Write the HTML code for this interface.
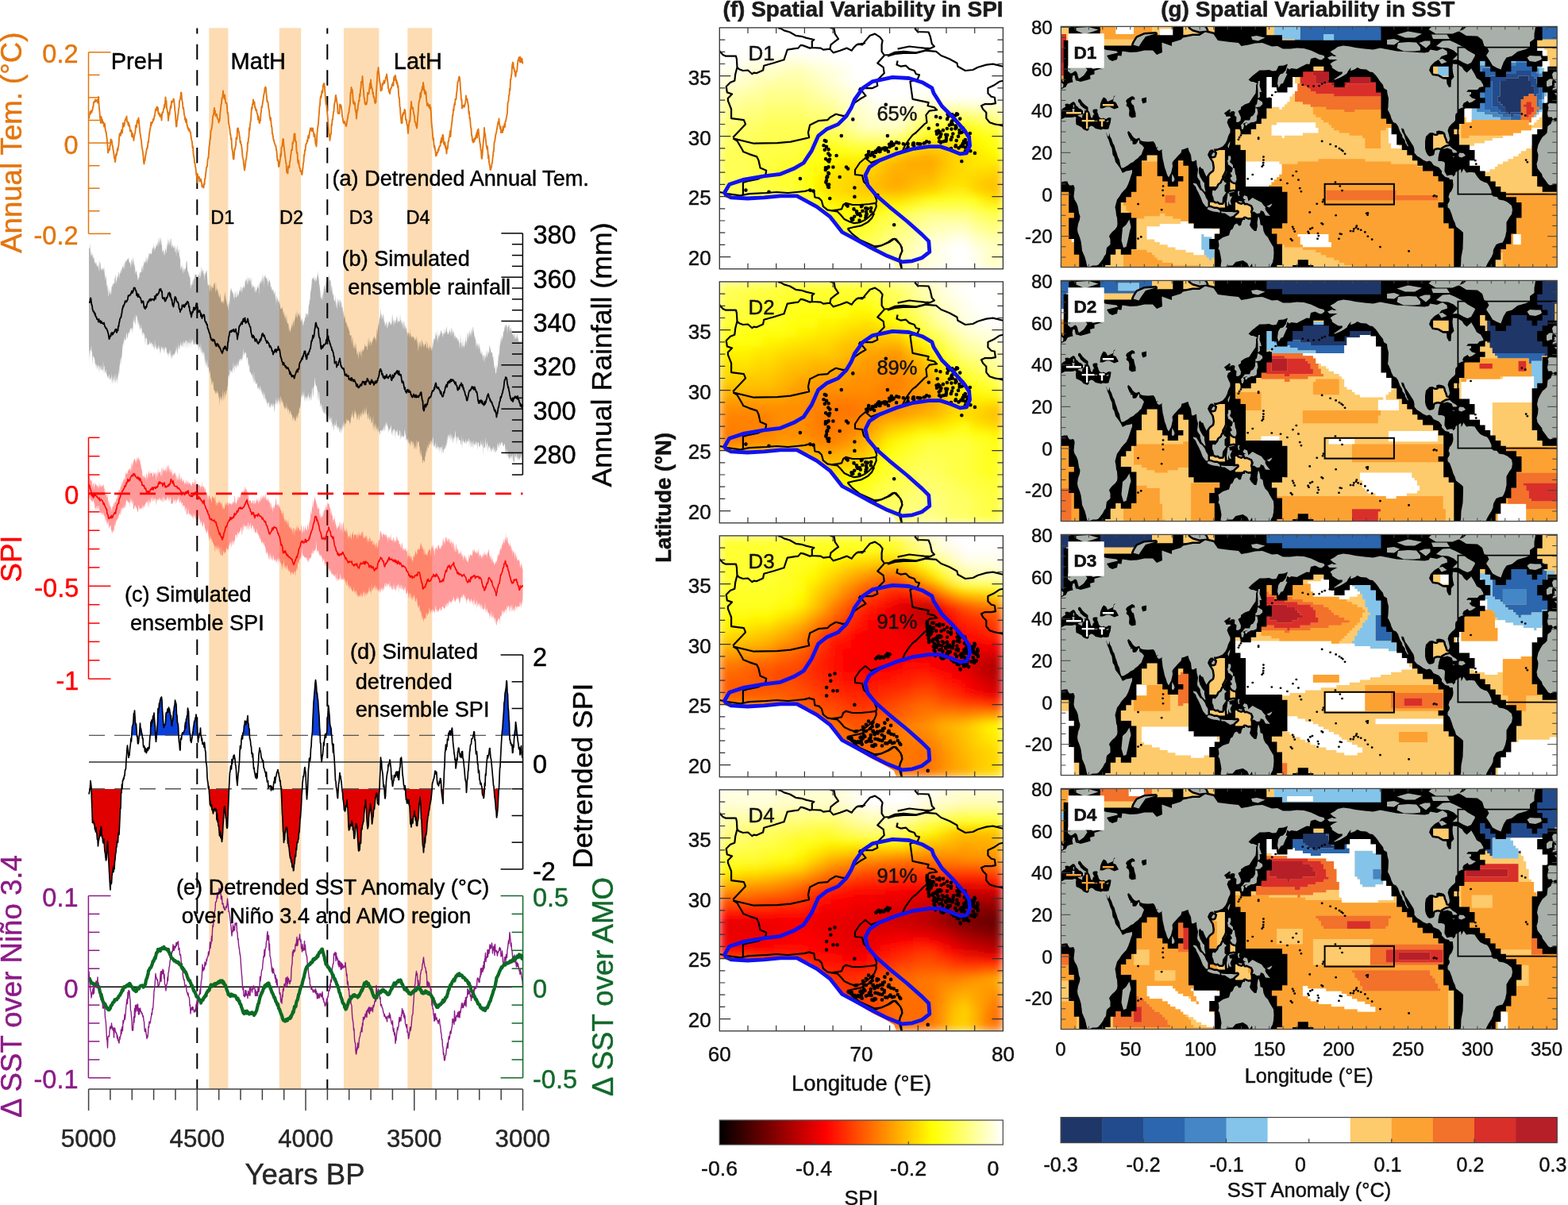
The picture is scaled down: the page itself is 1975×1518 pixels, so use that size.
<!DOCTYPE html>
<html><head><meta charset="utf-8"><title>Figure</title>
<style>html,body{margin:0;padding:0;background:#fff;overflow:hidden}svg{display:block}text{font-family:"Liberation Sans",Arial,sans-serif}</style>
</head><body>
<svg width="1975" height="1518" viewBox="0 0 1975 1518">
<rect width="1975" height="1518" fill="#fff"/>
<rect x="263.3" y="35.3" width="24.1" height="1336.7" fill="#fddcb3"/>
<rect x="351.8" y="35.3" width="27.4" height="1336.7" fill="#fddcb3"/>
<rect x="433" y="35.3" width="44.4" height="1336.7" fill="#fddcb3"/>
<rect x="513.3" y="35.3" width="31" height="1336.7" fill="#fddcb3"/>
<line x1="248.3" y1="35.6" x2="248.3" y2="1372" stroke="#000" stroke-width="2" stroke-dasharray="19.4 13.2" stroke-dashoffset="12.5"/>
<line x1="412.3" y1="35.6" x2="412.3" y2="1372" stroke="#000" stroke-width="2" stroke-dasharray="19.4 13.2" stroke-dashoffset="12.5"/>
<path d="M112 149.5l0.5-4 0.5-1.5 0.5-3 0.5 2.5 0.5-3.5 0.5-0.5 0.5 2 0.5-2 0.5-1 0.5-4 0.5 0 0.5-6 0.5 1 0.5-1.5 0.5-0.5 0.5-2 0.5 2.5 0.5-1.5 0.5-0.5 0.5 0 0.5 0.5 0.5 3 0.5-1.5 0.5-6 0.5 8 0.5 6.5 0.5 4.5 0.5 7 0.5 4 0.5 3 0.5-8 0.5 2.5 0.5 5 0.5-3.5 0.5 4 0.5-1 0.5 0 0.5 5.5 0.5 0 0.5-3.5 0.5 6 0.5 3 0.5 1 0.5 3 0.5 4 0.5 5 0.5 5.5 0.5 9 0.5-1.5 0.5-1.5 0.5-1.5 0.5 1 0.5-5.5 0.5-0.5 0.5-7.5 0.5 0.5 0.5 0.5 0.5 2 0.5 4.5 0.5 1.5 0.5 4 0.5 2.5 0.5 3.5 0.5 5 0.5 0.5 0.5 4 0.5-2.5 0.5-7 0.5 1.5 0.5-1.5 0.5-3.5 0.5-4 0.5 2.5 0.5-5 0.5-1.5 0.5-8 0.5-6 0.5 2.5 0.5-4 0.5 3 0.5-3 0.5-3.5 0.5 2 0.5 1.5 0.5-7 0.5-5.5 0.5 2.5 0.5 2 0.5-1.5 0.5-2 0.5-4.5 0.5-0.5 0.5-2 0.5 2 0.5-4.5 0.5 7 0.5 0 0.5 0.5 0.5 3.5 0.5-3 0.5 4.5 0.5-1.5 0.5 3.5 0.5 4.5 0.5-1.5 0.5 0.5 0.5 0 0.5 7.5 0.5-4.5 0.5 1 0.5 4.5 0.5-0.5 0.5 4.5 0.5-5 0.5-2 0.5-2 0.5-3 0.5-7 0.5 2.5 0.5-0.5 0.5-6 0.5-2.5 0.5 2 0.5 1 0.5-6 0.5 4 0.5 7 0.5 3 0.5 6 0.5 1.5 0.5 5 0.5 1.5 0.5 6.5 0.5 4 0.5 1.5 0.5 4.5 0.5 4 0.5 7 0.5 2.5 0.5-4 0.5 0 0.5-4.5 0.5-3 0.5-1.5 0.5-4 0.5-3 0.5 0.5 0.5-3 0.5-5.5 0.5 1 0.5-5.5 0.5-4.5 0.5-3.5 0.5-3.5 0.5-1.5 0.5-6.5 0.5 4 0.5-4.5 0.5 1 0.5-0.5 0.5-2 0.5-2.5 0.5 1.5 0.5-2.5 0.5-3 0.5 0 0.5-5.5 0.5-3 0.5 1.5 0.5-2.5 0.5-1.5 0.5-0.5 0.5 5 0.5-3.5 0.5 7.5 0.5-0.5 0.5-0.5 0.5 3 0.5 1 0.5-2 0.5 3 0.5-3 0.5 7 0.5-6.5 0.5-3.5 0.5 0.5 0.5-1 0.5-4 0.5 0 0.5-5 0.5 3.5 0.5-6.5 0.5-6.5 0.5 6 0.5-1.5 0.5 9 0.5 2 0.5 3.5 0.5 2 0.5 8.5 0.5-4 0.5-6.5 0.5 3 0.5-5.5 0.5-2 0.5-4 0.5 3 0.5-8.5 0.5 1.5 0.5 0 0.5-1.5 0.5-0.5 0.5-2.5 0.5 1 0.5 4.5 0.5 5 0.5 5.5 0.5 4 0.5 8.5 0.5 6.5 0.5-0.5 0.5-7 0.5-1 0.5-5.5 0.5-2 0.5-6.5 0.5-1 0.5-9 0.5-0.5 0.5-2 0.5-2.5 0.5-5.5 0.5 0.5 0.5 7.5 0.5 3 0.5 2 0.5 7 0.5-1 0.5 3.5 0.5 5.5 0.5 1.5 0.5 5 0.5-2.5 0.5 5.5 0.5-4 0.5 1.5 0.5 6.5 0.5 0 0.5 3.5 0.5-0.5 0.5 3 0.5 0.5 0.5-2 0.5 3.5 0.5 0 0.5 0.5 0.5 5 0.5 3 0.5 2.5 0.5 2 0.5 7 0.5-1.5 0.5 8.5 0.5 4.5 0.5 0.5 0.5 7 0.5 0 0.5 4.5 0.5 2 0.5 6 0.5 4 0.5-3 0.5 11.5 0.5-10 0.5 3.5 0.5 0.5 0.5 0.5 0.5-1.5 0.5 5.5 0.5 0 0.5-2 0.5-1 0.5 3 0.5 1.5 0.5 5.5 0.5-0.5 0.5-1.5 0.5 0 0.5 3 0.5-5.5 0.5 1.5 0.5-7.5 0.5 0 0.5-5 0.5-3.5 0.5-6 0.5 0 0.5-1 0.5-7.5 0.5-3 0.5 0 0.5-7.5 0.5-7.5 0.5-2 0.5-6.5 0.5-0.5 0.5-9.5 0.5-2 0.5-1 0.5-4.5 0.5-2 0.5-9 0.5-1.5 0.5-1 0.5-5.5 0.5-3 0.5 6.5 0.5-3 0.5 6.5 0.5-1.5 0.5-0.5 0.5 0 0.5 4 0.5 1 0.5 1 0.5 0.5 0.5 4 0.5-3 0.5 1 0.5-5 0.5-7 0.5-3 0.5-6 0.5-1 0.5-7 0.5 0 0.5-2 0.5-7 0.5 7 0.5-1.5 0.5 4.5 0.5-5 0.5 3.5 0.5 4.5 0.5 2.5 0.5-0.5 0.5 0.5 0.5 4.5 0.5 8 0.5-0.5 0.5 3.5 0.5 10 0.5 1 0.5 4.5 0.5 2 0.5 6.5 0.5 0 0.5 6.5 0.5-1.5 0.5 10.5 0.5 4 0.5 1.5 0.5 6.5 0.5 3.5 0.5 0 0.5-6.5 0.5-6.5 0.5 0.5 0.5-3 0.5-1.5 0.5-10 0.5 1 0.5 0.5 0.5-12.5 0.5-1 0.5 0 0.5 4.5 0.5 0 0.5 4.5 0.5 2.5 0.5 6.5 0.5-1.5 0.5 4 0.5 0 0.5 4.5 0.5 3.5 0.5 7.5 0.5 2 0.5 1.5 0.5 6 0.5 4 0.5 3.5 0.5-3 0.5-3 0.5-6.5 0.5-0.5 0.5-4 0.5-5.5 0.5-2 0.5-10.5 0.5 0.5 0.5-6 0.5-1.5 0.5-11.5 0.5 3 0.5-7.5 0.5-3 0.5-2 0.5-9.5 0.5-6.5 0.5 1.5 0.5-5.5 0.5-1.5 0.5-4.5 0.5 5.5 0.5-2 0.5-0.5 0.5 7 0.5-1 0.5 4 0.5 0.5 0.5-1 0.5 3.5 0.5 2 0.5 1 0.5 6 0.5-4 0.5 4 0.5 4 0.5 0.5 0.5-3.5 0.5 0.5 0.5-8.5 0.5-3 0.5-6 0.5 1 0.5-4 0.5-3 0.5-3 0.5-4 0.5-3 0.5-2 0.5-5 0.5-1 0.5-1 0.5 2.5 0.5 6.5 0.5 4 0.5 5.5 0.5-0.5 0.5 1.5 0.5 4 0.5 4.5 0.5 1.5 0.5 6 0.5 3.5 0.5 3 0.5-3 0.5 6 0.5 5 0.5 1 0.5 8.5 0.5 0 0.5 3.5 0.5 4 0.5 0 0.5 3 0.5 1.5 0.5 1 0.5 2 0.5 0 0.5 5 0.5 1 0.5 7.5 0.5 4.5 0.5-1 0.5 2.5 0.5 6.5 0.5-0.5 0.5-3 0.5-3.5 0.5-4 0.5-5.5 0.5 3.5 0.5-11 0.5-1 0.5-1.5 0.5-5 0.5-3.5 0.5 0.5 0.5 8.5 0.5 3.5 0.5 4 0.5 5 0.5 3 0.5 5.5 0.5 0.5 0.5 10.5 0.5 1.5 0.5-1.5 0.5 2.5 0.5-9 0.5 2 0.5-2.5 0.5 2 0.5-7.5 0.5-0.5 0.5-5 0.5-3.5 0.5-5.5 0.5 0 0.5 0 0.5-9.5 0.5 1.5 0.5-3 0.5-2 0.5-7 0.5-0.5 0.5 0 0.5 9.5 0.5-0.5 0.5 1.5 0.5 11 0.5 3 0.5-1 0.5 9.5 0.5 4 0.5-3.5 0.5 4.5 0.5 3.5 0.5 1.5 0.5 1 0.5 3.5 0.5-0.5 0.5 0 0.5 4 0.5 0.5 0.5-5 0.5-3.5 0.5-6 0.5-1.5 0.5-9 0.5 0.5 0.5-6.5 0.5 1 0.5-6 0.5-3 0.5 0 0.5-1 0.5-3.5 0.5 1.5 0.5-5 0.5-2.5 0.5 3.5 0.5-3.5 0.5-4 0.5-2.5 0.5-2.5 0.5 1.5 0.5-1.5 0.5 3.5 0.5 0 0.5-3 0.5-0.5 0.5 4.5 0.5 0.5 0.5 5.5 0.5-3 0.5 0.5 0.5 7 0.5 5 0.5 0.5 0.5 2.5 0.5-8 0.5-9.5 0.5-4.5 0.5-3.5 0.5-3.5 0.5-7.5 0.5-7 0.5-6.5 0.5-2.5 0.5-8 0.5-3 0.5 2 0.5-4.5 0.5-4 0.5 2.5 0.5-2.5 0.5-7.5 0.5 2 0.5-4 0.5 1 0.5 4.5 0.5 8.5 0.5 4 0.5 7.5 0.5 1.5 0.5 1 0.5 7 0.5 5 0.5 6 0.5 6.5 0.5 5.5 0.5 6.5 0.5 2 0.5 5.5 0.5-4.5 0.5-3.5 0.5 0 0.5-12 0.5 1 0.5-7.5 0.5 0.5 0.5-5 0.5-5 0.5-1 0.5-7 0.5-3.5 0.5-1.5 0.5-5.5 0.5-2.5 0.5 3 0.5 3 0.5 4 0.5 2.5 0.5 9.5 0.5 1 0.5-0.5 0.5 0 0.5 0.5 0.5-11.5 0.5 3 0.5 0.5 0.5-2.5 0.5 3.5 0.5 3.5 0.5 6 0.5 3 0.5 2.5 0.5 3 0.5 1 0.5 0 0.5-2 0.5 2 0.5 1.5 0.5 1.5 0.5 1 0.5-1.5 0.5-4 0.5-3 0.5-2 0.5-4 0.5-2 0.5-0.5 0.5-6.5 0.5-1.5 0.5-3.5 0.5-13.5 0.5 0.5 0.5-7.5 0.5 3.5 0.5-1 0.5 2.5 0.5 8 0.5 7 0.5-3 0.5 4.5 0.5-1 0.5-1 0.5 8 0.5 3 0.5 1.5 0.5 7.5 0.5-6.5 0.5-5 0.5 0.5 0.5-5.5 0.5-2.5 0.5-4 0.5 1 0.5-9 0.5 3 0.5-8 0.5-2.5 0.5-8 0.5 0 0.5 0 0.5-7 0.5 8 0.5 6.5 0.5 4.5 0.5 8 0.5 1 0.5 5 0.5 2.5 0.5 0 0.5-2 0.5 2 0.5-2 0.5-3.5 0.5-9 0.5 0 0.5 0.5 0.5 1 0.5-5 0.5-3 0.5-5.5 0.5 6.5 0.5-11 0.5 6 0.5 2.5 0.5 2 0.5 1.5 0.5 5.5 0.5-1.5 0.5 6 0.5-1 0.5 2.5 0.5 4 0.5 2 0.5-2.5 0.5 1.5 0.5-14 0.5-6.5 0.5-7.5 0.5-10.5 0.5-1 0.5-4.5 0.5 5.5 0.5 3.5 0.5 7 0.5 2.5 0.5 3.5 0.5 7.5 0.5-2.5 0.5-1 0.5 2.5 0.5-8 0.5 2 0.5-3 0.5 1 0.5-4 0.5 3.5 0.5-1 0.5-2 0.5-1.5 0.5-3.5 0.5 0.5 0.5-4 0.5 3 0.5 4.5 0.5 3.5 0.5 6.5 0.5 1 0.5 4 0.5-1 0.5 3 0.5-3.5 0.5-2.5 0.5-0.5 0.5-1 0.5-2 0.5-2.5 0.5 0.5 0.5-2.5 0.5 4 0.5-9 0.5-2.5 0.5 4.5 0.5-2.5 0.5-3.5 0.5 3.5 0.5 5 0.5-2.5 0.5 5 0.5-2 0.5 6 0.5-2 0.5 9 0.5 6 0.5 0 0.5 11 0.5 1.5 0.5 9 0.5 4.5 0.5 6 0.5-0.5 0.5 0.5 0.5-11 0.5 2 0.5-4 0.5 0.5 0.5 0.5 0.5-5 0.5 0.5 0.5 3 0.5 9.5 0.5-1 0.5 2.5 0.5 4.5 0.5 0 0.5 5.5 0.5 5.5 0.5-6 0.5-5 0.5-4.5 0.5 1 0.5-2.5 0.5-11.5 0.5-3 0.5-8.5 0.5 6 0.5 1.5 0.5 1.5 0.5-1.5 0.5 4 0.5 2 0.5 4 0.5 0 0.5 8 0.5 0 0.5 1 0.5 4 0.5-0.5 0.5 3.5 0.5-3.5 0.5-9 0.5-5 0.5-6.5 0.5-8 0.5-2 0.5-1 0.5-3.5 0.5-6 0.5 5.5 0.5-6.5 0.5-1 0.5-2 0.5-4 0.5 4 0.5-9 0.5 3.5 0.5 3.5 0.5 4.5 0.5 2.5 0.5-4 0.5 5 0.5-3 0.5 8 0.5 4.5 0.5 4.5 0.5-0.5 0.5-2 0.5 3 0.5-1 0.5 3 0.5-0.5 0.5-3 0.5 6 0.5-2.5 0.5 9 0.5 10 0.5 5 0.5 3.5 0.5 7.5 0.5 6 0.5-2.5 0.5 8.5 0.5 3.5 0.5-2 0.5 4.5 0.5 2 0.5 6 0.5-1 0.5-0.5 0.5-3 0.5 0.5 0.5-1 0.5-3.5 0.5 1.5 0.5-3.5 0.5-1.5 0.5-0.5 0.5 0 0.5-6 0.5-0.5 0.5-3.5 0.5 5.5 0.5-5.5 0.5-4 0.5 0 0.5 3.5 0.5 8 0.5-2.5 0.5 4 0.5-3.5 0.5 7 0.5-3 0.5 4.5 0.5 5.5 0.5-7 0.5 1.5 0.5-2 0.5-7.5 0.5 0 0.5-4.5 0.5-1.5 0.5-2.5 0.5-5 0.5 7 0.5-7.5 0.5-4.5 0.5-4.5 0.5-3 0.5-7.5 0.5 0.5 0.5-8 0.5 2 0.5-6 0.5-3 0.5 1.5 0.5-7 0.5 0.5 0.5-0.5 0.5-7.5 0.5-2 0.5-6.5 0.5-5.5 0.5-1 0.5-1.5 0.5-3.5 0.5-1 0.5 2 0.5 5 0.5 8.5 0.5 5.5 0.5 8.5 0.5-0.5 0.5 11 0.5-2 0.5-1.5 0.5 1.5 0.5 0 0.5-2 0.5 2 0.5-2.5 0.5-2 0.5-2.5 0.5-7 0.5 5 0.5 0 0.5-1 0.5 4 0.5 2 0.5 3.5 0.5 9 0.5-2.5 0.5 8.5 0.5-0.5 0.5 7 0.5 5.5 0.5 1 0.5 8.5 0.5 1 0.5 6 0.5-1 0.5 3 0.5-4 0.5 0.5 0.5 2.5 0.5-4.5 0.5 1.5 0.5-1 0.5-4 0.5-0.5 0.5-3 0.5 6.5 0.5-9.5 0.5 3 0.5-4.5 0.5 5.5 0.5 4.5 0.5 4 0.5 3.5 0.5 2.5 0.5 6 0.5 0.5 0.5 9.5 0.5 1.5 0.5-4.5 0.5-7.5 0.5-6.5 0.5-5 0.5-5 0.5-10.5 0.5 7 0.5 0 0.5 5.5 0.5 4 0.5 5.5 0.5 2 0.5 3 0.5-3.5 0.5 7 0.5 8 0.5-4 0.5 8.5 0.5 3.5 0.5 1 0.5 5.5 0.5 0 0.5-2 0.5-1.5 0.5-4.5 0.5-0.5 0.5-5.5 0.5-4 0.5-5.5 0.5 0 0.5-11 0.5-1 0.5-2 0.5-4.5 0.5-3 0.5-1.5 0.5-2.5 0.5-3 0.5-2.5 0.5-4 0.5-2 0.5 2 0.5-6 0.5 7 0.5 2 0.5 3.5 0.5-2.5 0.5 7.5 0.5-0.5 0.5 0 0.5-3 0.5 3.5 0.5-7.5 0.5 4.5 0.5-4 0.5-0.5 0.5-3.5 0.5 4 0.5-7 0.5-0.5 0.5-2.5 0.5-2 0.5-3.5 0.5-2 0.5-12.5 0.5-1.5 0.5-1.5 0.5-7 0.5-0.5 0.5-8 0.5 2 0.5-13.5 0.5 0 0.5-5 0.5-2 0.5-9 0.5-3.5 0.5-2 0.5 1.5 0.5 6.5 0.5-0.5 0.5 4 0.5-1 0.5 6 0.5 1.5 0.5-5 0.5-1 0.5-0.5 0.5-5 0.5-4.5 0.5-5 0.5 1 0.5-4 0.5 0.5 0.5-1 0.5 6.5 0.5-6.5 0.5 2.5 0.5 3.5 0.5-2.5 0.5-1.5 0.5 4 0.5 2.5" fill="none" stroke="#e3760f" stroke-width="1.9" stroke-linejoin="round"/>
<path d="M112 314l0.5-2.5 0.5 2 0.5-7.5 0.5 18.5 0.5-5.5 0.5-3 0.5 6.5 0.5-1.5 0.5-1.5 0.5 8 0.5-5 0.5 2.5 0.5-0.5 0.5 6.5 0.5-2 0.5 4.5 0.5-4 0.5 4.5 0.5-4.5 0.5 8 0.5-3.5 0.5 1.5 0.5 0.5 0.5-5.5 0.5 8.5 0.5 3.5 0.5-14.5 0.5 3 0.5 0.5 0.5 9.5 0.5-4.5 0.5 5 0.5-2 0.5-1 0.5 0.5 0.5-1.5 0.5 5 0.5-7.5 0.5 6.5 0.5 4.5 0.5 8 0.5-8.5 0.5 3.5 0.5 4.5 0.5 8 0.5-3.5 0.5 10 0.5-11.5 0.5 17 0.5-1 0.5-10 0.5 7 0.5 1.5 0.5-6 0.5 3.5 0.5 3.5 0.5-10 0.5-1.5 0.5-2.5 0.5 4.5 0.5-5.5 0.5 0 0.5-0.5 0.5 2 0.5-8 0.5-1.5 0.5-4 0.5 14 0.5-8.5 0.5 6.5 0.5-8 0.5-2.5 0.5 4 0.5-3.5 0.5-5 0.5 1.5 0.5 8.5 0.5-8 0.5 0.5 0.5-3.5 0.5-2 0.5 5.5 0.5-6 0.5-2.5 0.5 1.5 0.5-4.5 0.5 4.5 0.5 1.5 0.5-9 0.5 9.5 0.5-11 0.5 4 0.5-5.5 0.5 2.5 0.5-0.5 0.5-2 0.5-0.5 0.5 0 0.5-0.5 0.5-2.5 0.5 5.5 0.5 1.5 0.5 1.5 0.5-1.5 0.5 7.5 0.5-10 0.5-1 0.5 9.5 0.5-13.5 0.5 10.5 0.5-9.5 0.5 8.5 0.5-8.5 0.5 14.5 0.5-5 0.5 0 0.5 12.5 0.5-4 0.5 0 0.5-1 0.5 5 0.5 0.5 0.5 5.5 0.5 1.5 0.5-4 0.5 1 0.5-2.5 0.5-5.5 0.5 1.5 0.5-1.5 0.5 0.5 0.5 0.5 0.5-9.5 0.5 6 0.5-6 0.5 10 0.5-11.5 0.5 3.5 0.5-7 0.5 0.5 0.5 3 0.5-4 0.5 2.5 0.5-8.5 0.5 9 0.5-8.5 0.5 10.5 0.5-11 0.5 7 0.5-12 0.5 8.5 0.5-8 0.5 2 0.5 0.5 0.5-2.5 0.5 2 0.5 0.5 0.5-1 0.5-3.5 0.5-5 0.5 2 0.5 1.5 0.5-8.5 0.5 12 0.5-7 0.5 0.5 0.5 3.5 0.5-2.5 0.5-2 0.5-5 0.5 5 0.5-1.5 0.5-5.5 0.5 8 0.5-4.5 0.5-9.5 0.5 9 0.5-8 0.5 10.5 0.5-4.5 0.5-6 0.5 4.5 0.5 5.5 0.5 0.5 0.5 9 0.5-2 0.5-1 0.5 6.5 0.5-9.5 0.5 10 0.5-1.5 0.5-5.5 0.5-2.5 0.5 4 0.5 3 0.5-9 0.5-5 0.5 9.5 0.5-16.5 0.5 11 0.5-8 0.5 7.5 0.5-8 0.5 10.5 0.5-5.5 0.5-6 0.5 1 0.5 7 0.5 5.5 0.5-5 0.5 1 0.5-0.5 0.5 4.5 0.5-2 0.5 0.5 0.5-4 0.5 9.5 0.5-0.5 0.5-9.5 0.5 16.5 0.5-9 0.5-2.5 0.5-4 0.5 11 0.5-2 0.5-2.5 0.5-1.5 0.5 14.5 0.5-7 0.5 5 0.5 14.5 0.5-3 0.5-1 0.5-2.5 0.5 7.5 0.5-10 0.5 14 0.5-4 0.5-2.5 0.5-2.5 0.5 7 0.5-5 0.5-0.5 0.5 1 0.5-8.5 0.5-1.5 0.5 0 0.5 8.5 0.5 5.5 0.5-2 0.5 6.5 0.5-5.5 0.5 6.5 0.5 0.5 0.5 0.5 0.5 15 0.5-4 0.5-3 0.5 1 0.5 1 0.5-7 0.5 7.5 0.5-9.5 0.5 4 0.5-5 0.5 2 0.5-5 0.5-1.5 0.5 1 0.5-0.5 0.5 1 0.5 1 0.5 5 0.5-4 0.5-3.5 0.5 4.5 0.5-6.5 0.5 9 0.5-5.5 0.5-6.5 0.5 9.5 0.5-2 0.5-13.5 0.5 10 0.5-1 0.5-5.5 0.5 4 0.5-0.5 0.5 5.5 0.5-2 0.5 9.5 0.5-14 0.5 8.5 0.5-6 0.5 2 0.5-4 0.5 0.5 0.5 7 0.5 7.5 0.5 4.5 0.5-2 0.5 2.5 0.5-3 0.5 10.5 0.5-2.5 0.5-7 0.5 3.5 0.5-4.5 0.5 10.5 0.5-6 0.5-1 0.5 2 0.5 0 0.5-3.5 0.5-2.5 0.5 0.5 0.5-2 0.5 9 0.5 5 0.5-15.5 0.5 11.5 0.5 0.5 0.5-4 0.5 6.5 0.5-4.5 0.5 11 0.5-7.5 0.5 5.5 0.5 3 0.5-3.5 0.5-3 0.5 7 0.5 5 0.5-3 0.5 3.5 0.5-4.5 0.5 4.5 0.5-0.5 0.5-4 0.5 6.5 0.5-11 0.5-2.5 0.5-3 0.5 10 0.5-5 0.5 7.5 0.5-1.5 0.5 7.5 0.5-0.5 0.5-4 0.5 5.5 0.5 4.5 0.5-14 0.5 6.5 0.5-9.5 0.5-6.5 0.5-5 0.5 3.5 0.5-5 0.5 7 0.5-2.5 0.5 4 0.5-2 0.5 5 0.5 3.5 0.5-9 0.5 11.5 0.5-12.5 0.5 2 0.5 7 0.5-1.5 0.5 1 0.5-9.5 0.5 7.5 0.5-2 0.5 4 0.5-7 0.5 3 0.5-7.5 0.5 4 0.5-3 0.5 4 0.5-8 0.5 1.5 0.5 4 0.5 3 0.5-7 0.5 0.5 0.5-3.5 0.5 5 0.5-4 0.5 4.5 0.5-7 0.5-4.5 0.5 1.5 0.5-3 0.5-1 0.5 9 0.5-4.5 0.5-8 0.5 12.5 0.5-8 0.5-2.5 0.5 6.5 0.5-2 0.5-1 0.5-3.5 0.5 9.5 0.5 0 0.5-10.5 0.5 15.5 0.5-2 0.5-3 0.5 4 0.5-1.5 0.5-1 0.5 3 0.5 7 0.5-11 0.5 9.5 0.5-1 0.5-3 0.5 0.5 0.5-5.5 0.5 2 0.5 1.5 0.5-0.5 0.5-6 0.5 15.5 0.5-18.5 0.5 5 0.5-4 0.5-1 0.5 5.5 0.5-9.5 0.5 7.5 0.5-3.5 0.5-9 0.5 10 0.5-8 0.5 15.5 0.5-14.5 0.5 1.5 0.5-3.5 0.5 3.5 0.5 2.5 0.5-1.5 0.5 0 0.5 3 0.5 2 0.5 6.5 0.5-13 0.5 7.5 0.5-2.5 0.5-0.5 0.5 2 0.5 2 0.5 7 0.5-3.5 0.5 0.5 0.5 5.5 0.5-1.5 0.5-0.5 0.5 3.5 0.5-4.5 0.5 8 0.5-1.5 0.5-2 0.5-1.5 0.5 12 0.5-7 0.5 14 0.5-16 0.5 10.5 0.5-6 0.5 5 0.5 2 0.5-5.5 0.5 5 0.5 1.5 0.5 1 0.5 3.5 0.5 2.5 0.5 0.5 0.5-1 0.5-0.5 0.5-1.5 0.5 3.5 0.5 2 0.5 6 0.5-4 0.5-1 0.5 9 0.5-6 0.5 3 0.5 3 0.5 3.5 0.5-10.5 0.5 9 0.5 4.5 0.5-1.5 0.5 0 0.5 2.5 0.5 8.5 0.5-7 0.5 7 0.5 0.5 0.5-5 0.5 3 0.5-5.5 0.5-1 0.5-3 0.5 7 0.5-8 0.5-0.5 0.5-3.5 0.5 10.5 0.5-8 0.5-3 0.5-3 0.5-4.5 0.5 6.5 0.5-2.5 0.5-7.5 0.5 11.5 0.5-3 0.5-6 0.5 3 0.5 0.5 0.5 2.5 0.5-1 0.5-5.5 0.5 13.5 0.5-6.5 0.5 5.5 0.5-1 0.5-4 0.5 5.5 0.5 3 0.5 2.5 0.5-5 0.5-2 0.5 1 0.5-5 0.5 0.5 0.5-7.5 0.5 8.5 0.5-7.5 0.5 1.5 0.5 0 0.5 0 0.5 4.5 0.5-9.5 0.5-8.5 0.5 3 0.5-8 0.5 1 0.5-9 0.5-3 0.5-3 0.5-4.5 0.5-8.5 0.5 2 0.5-2.5 0.5 3 0.5-5 0.5 2.5 0.5 3.5 0.5-1.5 0.5 4 0.5-5 0.5-2 0.5 5 0.5-0.5 0.5-8 0.5 3.5 0.5-8.5 0.5 9.5 0.5 0.5 0.5 7 0.5 2 0.5 5 0.5 4 0.5 6 0.5 2.5 0.5-2.5 0.5-4 0.5 8.5 0.5-3 0.5-9 0.5 3.5 0.5-10.5 0.5 0 0.5 3 0.5 4 0.5-12.5 0.5 1.5 0.5 7 0.5-17 0.5 11.5 0.5-5 0.5-3.5 0.5 0.5 0.5 8 0.5-14 0.5 8.5 0.5 1 0.5 0.5 0.5 0 0.5 14 0.5-5.5 0.5-4 0.5 7.5 0.5 5.5 0.5 1.5 0.5-5 0.5 9 0.5 2 0.5 1 0.5 0 0.5-8.5 0.5 16.5 0.5-9.5 0.5 8.5 0.5 2.5 0.5-12 0.5-1 0.5 8.5 0.5-5.5 0.5 0.5 0.5-2 0.5 11 0.5-10 0.5-1.5 0.5 5 0.5-1.5 0.5 7.5 0.5-1.5 0.5 0 0.5 8.5 0.5-4.5 0.5 8.5 0.5 2.5 0.5-4.5 0.5 1.5 0.5 5 0.5 3.5 0.5-2 0.5 2.5 0.5 1 0.5 3 0.5 2.5 0.5-4 0.5 3.5 0.5 3.5 0.5-1.5 0.5 5.5 0.5 2 0.5-0.5 0.5-0.5 0.5 0.5 0.5 11 0.5-4 0.5-5.5 0.5 3.5 0.5 11.5 0.5-2.5 0.5-3 0.5 6 0.5-10 0.5 9 0.5 2.5 0.5-9 0.5 7.5 0.5 6 0.5 1.5 0.5-5.5 0.5 6 0.5 5 0.5-8.5 0.5-2.5 0.5 4.5 0.5-3 0.5 6.5 0.5-6.5 0.5-3 0.5 12 0.5-14.5 0.5 6 0.5-1 0.5-0.5 0.5-3 0.5 2 0.5-3.5 0.5-5 0.5 5 0.5-1.5 0.5 0 0.5 1 0.5-3.5 0.5 7.5 0.5-1 0.5-14.5 0.5 11 0.5-5.5 0.5-7 0.5 13 0.5-7 0.5 1.5 0.5-2.5 0.5 6.5 0.5-1.5 0.5-4 0.5 1.5 0.5-4 0.5 1 0.5-4.5 0.5 3 0.5-4.5 0.5 4.5 0.5 0 0.5-3 0.5 3.5 0.5 4.5 0.5-20.5 0.5 11.5 0.5-7 0.5-1.5 0.5-7 0.5 3.5 0.5-5.5 0.5-4 0.5-1.5 0.5-4.5 0.5-7.5 0.5 15.5 0.5-7.5 0.5 0 0.5 6 0.5-4 0.5-4 0.5 13.5 0.5-11.5 0.5 9 0.5 0.5 0.5 5.5 0.5-0.5 0.5-3 0.5-2 0.5 1.5 0.5 5.5 0.5 1 0.5-5 0.5-4 0.5 7 0.5-7 0.5 1 0.5 0 0.5 3 0.5-2.5 0.5 3 0.5 0.5 0.5-3.5 0.5-10.5 0.5 4 0.5 6.5 0.5-2.5 0.5 9 0.5-10.5 0.5 1.5 0.5 4 0.5-0.5 0.5-5 0.5 3.5 0.5-7 0.5 2 0.5 7.5 0.5-12 0.5 11.5 0.5-3.5 0.5 1 0.5 0.5 0.5-0.5 0.5-9.5 0.5 7.5 0.5 1 0.5 6.5 0.5-8.5 0.5 4.5 0.5 1 0.5 7.5 0.5-11.5 0.5 3.5 0.5 8 0.5-11.5 0.5 13 0.5-5 0.5-2.5 0.5 6 0.5-2.5 0.5 6 0.5 0.5 0.5 5 0.5-6 0.5 2.5 0.5-2 0.5 3 0.5 4 0.5-12 0.5 13 0.5-7 0.5 4 0.5 0.5 0.5 2.5 0.5-2.5 0.5-1.5 0.5 3.5 0.5-1.5 0.5 0 0.5 2.5 0.5 3 0.5-3 0.5 1.5 0.5-5 0.5 6.5 0.5-7.5 0.5 12.5 0.5-8 0.5 11 0.5 5 0.5-13.5 0.5 9.5 0.5-5.5 0.5-3 0.5-0.5 0.5 5.5 0.5 2.5 0.5-4.5 0.5-6.5 0.5 3 0.5 2.5 0.5 6 0.5-5.5 0.5 1.5 0.5 3.5 0.5-5.5 0.5 1.5 0.5 0 0.5-6 0.5 10.5 0.5-2 0.5 3 0.5-9 0.5 3.5 0.5 6.5 0.5-3 0.5 5 0.5-9.5 0.5 6.5 0.5-4.5 0.5 5 0.5-3.5 0.5 5 0.5 0 0.5-3.5 0.5-10.5 0.5 11 0.5-6 0.5-6.5 0.5 0 0.5 2 0.5 0 0.5-6 0.5-5 0.5 6.5 0.5-2.5 0.5 9 0.5-16 0.5 18 0.5-7 0.5-4 0.5 6 0.5-7 0.5 4.5 0.5-7.5 0.5 4.5 0.5-5 0.5-1 0.5 5 0.5-2.5 0.5 5.5 0.5 1.5 0.5-6 0.5 1.5 0.5 0 0.5-7.5 0.5 8.5 0.5-3 0.5 0 0.5-4.5 0.5-3 0.5 7 0.5 0.5 0.5 3.5 0.5-2 0.5 1.5 0.5-5 0.5 3.5 0.5-6 0.5 4 0.5 0 0.5 6.5 0.5-10 0.5-3 0.5 12 0.5-10 0.5 6 0.5-1 0.5-1 0.5 10 0.5-4 0.5-3 0.5 4.5 0.5-2 0.5 5.5 0.5-4 0.5 0.5 0.5 1.5 0.5 1.5 0.5 3 0.5-5 0.5 4.5 0.5 1.5 0.5 7.5 0.5-6.5 0.5-13 0.5 12.5 0.5-1.5 0.5 3.5 0.5 4.5 0.5-3.5 0.5-11 0.5 13 0.5-3 0.5 2 0.5 2 0.5-11 0.5 9 0.5-14 0.5 8 0.5-1.5 0.5 6.5 0.5-14.5 0.5-2.5 0.5 8.5 0.5-8.5 0.5 9 0.5-11 0.5 1 0.5 7.5 0.5-6.5 0.5 4.5 0.5-10.5 0.5 13.5 0.5-12 0.5 7.5 0.5-9 0.5-0.5 0.5 5 0.5 1.5 0.5 7.5 0.5-4 0.5 4.5 0.5 1.5 0.5 11.5 0.5-15 0.5 13.5 0.5-6.5 0.5 4.5 0.5-3 0.5 8.5 0.5-10 0.5 3 0.5 5 0.5-3.5 0.5 9 0.5 0.5 0.5-5.5 0.5 8 0.5-6 0.5 5 0.5 0.5 0.5 8 0.5-7.5 0.5-1 0.5 1.5 0.5 9 0.5-11.5 0.5 5.5 0.5-2.5 0.5-9 0.5 8 0.5 2.5 0.5-5 0.5-5 0.5 5.5 0.5-3.5 0.5 5 0.5-13.5 0.5 2.5 0.5 2.5 0.5 1.5 0.5 3 0.5 1 0.5 0 0.5-1 0.5 7 0.5-2 0.5 4 0.5 4 0.5 6 0.5 2.5 0.5-5.5 0.5 9 0.5 2.5 0.5-1 0.5-6.5 0.5-5 0.5 7 0.5-6 0.5-6.5 0.5-9 0.5 6.5 0.5-7 0.5-8 0.5-2 0.5-8.5 0.5 10 0.5-14 0.5 9.5 0.5-4 0.5-4 0.5 4 0.5-10.5 0.5 3 0.5-2 0.5-4 0.5-4.5 0.5 5 0.5-4 0.5-0.5 0.5 1 0.5 1.5 0.5 9 0.5-9.5 0.5 1.5 0.5-3 0.5 1 0.5-2 0.5 9.5 0.5-2 0.5-3 0.5-0.5 0.5 5.5 0.5-1 0.5-2 0.5 7.5 0.5-1.5 0.5 0 0.5 4 0.5-5.5 0.5 9.5 0.5-10.5 0.5 8.5 0.5-0.5 0.5-3 0.5 3.5 0.5-6.5 0.5 1 0.5 5.5 0.5-2.5 0.5 6.5 0.5-3 0.5 3.5 0.5-1.5 0.5 0.5 0.5 0 0.5-1 0.5 0.5 0.5 10 0.5-16 0.5 10 0.5 2.5 0 134-0.5 6.5-0.5-5-0.5-0.5-0.5 8.5-0.5-7-0.5 3.5-0.5 0-0.5 2-0.5 1.5-0.5-4.5-0.5 5-0.5-3-0.5-5-0.5 5-0.5 1-0.5-10-0.5 8.5-0.5-2-0.5 0.5-0.5-5-0.5 10-0.5 2-0.5-1-0.5 0-0.5-8.5-0.5 0-0.5 8-0.5-6.5-0.5 2-0.5-4-0.5 4-0.5 2-0.5-3.5-0.5 4.5-0.5-6-0.5 5.5-0.5-11.5-0.5 6-0.5 3-0.5-10-0.5-0.5-0.5 7-0.5 0.5-0.5-7-0.5-6-0.5-1-0.5-0.5-0.5 5-0.5-3.5-0.5 2-0.5-3.5-0.5-2.5-0.5 2-0.5-2-0.5 3-0.5 3-0.5-3.5-0.5-2-0.5 3.5-0.5 5-0.5-7-0.5 5.5-0.5-7.5-0.5 5.5-0.5 6-0.5-1.5-0.5 2.5-0.5 2-0.5-8.5-0.5 7-0.5-1.5-0.5-3.5-0.5 7.5-0.5-10-0.5 1.5-0.5 4.5-0.5-3.5-0.5 0.5-0.5 5.5-0.5-3-0.5-1-0.5-1.5-0.5-4.5-0.5 3.5-0.5 0.5-0.5-4-0.5 4-0.5 5.5-0.5-15.5-0.5 5.5-0.5-1.5-0.5 7.5-0.5-5.5-0.5-10-0.5 11.5-0.5 2.5-0.5 0-0.5-0.5-0.5-9-0.5 20-0.5-22.5-0.5 10.5-0.5-2-0.5-2-0.5 1.5-0.5-6.5-0.5 9.5-0.5-3-0.5 3-0.5-0.5-0.5-5.5-0.5 0.5-0.5-1-0.5 11-0.5-12-0.5 2.5-0.5 3.5-0.5-4.5-0.5-1.5-0.5 4-0.5 0-0.5-1-0.5 5-0.5-9.5-0.5 5.5-0.5 5.5-0.5-11-0.5 5.5-0.5-4.5-0.5 8-0.5-0.5-0.5-9-0.5 4-0.5-4-0.5 10-0.5-11.5-0.5 0-0.5 4-0.5-0.5-0.5-1-0.5 3.5-0.5 0.5-0.5-2.5-0.5-4.5-0.5 6-0.5 1-0.5-3-0.5 0-0.5 1.5-0.5-6-0.5 9-0.5-7-0.5 13-0.5-19-0.5 13-0.5-1-0.5-4.5-0.5 0-0.5-0.5-0.5-0.5-0.5-1.5-0.5-2.5-0.5 6.5-0.5-6.5-0.5 0-0.5 2.5-0.5 8.5-0.5-12-0.5 3-0.5-10-0.5 4-0.5 9-0.5-5-0.5 1.5-0.5 2-0.5 5.5-0.5-5-0.5-7-0.5 7-0.5-2-0.5-6-0.5 2.5-0.5 8.5-0.5-12-0.5 7-0.5-5-0.5 7.5-0.5-6.5-0.5 0-0.5 12-0.5-9.5-0.5 13-0.5-5.5-0.5 8-0.5-6-0.5 5-0.5 0.5-0.5 2-0.5-3.5-0.5 6.5-0.5 0-0.5-4.5-0.5-7-0.5 14.5-0.5-10-0.5-0.5-0.5 0.5-0.5 1.5-0.5 6-0.5-7.5-0.5 0-0.5-1.5-0.5 6.5-0.5-7-0.5 4.5-0.5-8-0.5 8.5-0.5-3.5-0.5 3.5-0.5-9.5-0.5 2-0.5 5-0.5-4-0.5 3.5-0.5-3-0.5-10-0.5 1.5-0.5 6-0.5 4-0.5-7.5-0.5 3-0.5-3.5-0.5 5.5-0.5 1-0.5-1-0.5-4-0.5 9-0.5-0.5-0.5-2-0.5-2-0.5 10.5-0.5-7-0.5 8-0.5-4.5-0.5 9-0.5-3-0.5 7.5-0.5 2-0.5-1.5-0.5-2-0.5 0-0.5 4-0.5 0.5-0.5-11-0.5 4-0.5-6-0.5-4.5-0.5 5.5-0.5 3-0.5-13-0.5 2.5-0.5-9-0.5 2.5-0.5-1.5-0.5 1.5-0.5 9-0.5-13-0.5 5-0.5 9.5-0.5-7.5-0.5 5.5-0.5-7-0.5 6.5-0.5-1-0.5-9.5-0.5 5.5-0.5-5-0.5 6.5-0.5-6-0.5 1-0.5-3-0.5 8.5-0.5-9-0.5 9-0.5-5.5-0.5 1-0.5 2-0.5-9-0.5 8-0.5-4.5-0.5-2.5-0.5 1.5-0.5 1.5-0.5-1-0.5-8.5-0.5 4.5-0.5-9.5-0.5 3-0.5 6.5-0.5 0.5-0.5 0.5-0.5-3.5-0.5 2.5-0.5 1.5-0.5-3-0.5 2.5-0.5-9-0.5 9.5-0.5 2.5-0.5-12-0.5 0-0.5 7.5-0.5-2-0.5 1.5-0.5-0.5-0.5-9-0.5 6-0.5-1.5-0.5-2-0.5 1-0.5 10-0.5-8.5-0.5-3-0.5-1.5-0.5 2-0.5-1.5-0.5 10-0.5-9.5-0.5 2.5-0.5 5-0.5-5-0.5-8.5-0.5 3-0.5 2-0.5 0-0.5 3-0.5-3.5-0.5 6-0.5-5.5-0.5-3.5-0.5 1.5-0.5-6-0.5 5-0.5-6-0.5 7.5-0.5-6-0.5 11.5-0.5-4-0.5-5.5-0.5 9.5-0.5-6.5-0.5 3-0.5 3-0.5-3-0.5 5.5-0.5-4-0.5 0-0.5 0-0.5 0.5-0.5 5.5-0.5-1-0.5-4.5-0.5 1.5-0.5-2.5-0.5-5.5-0.5 10-0.5-9-0.5 3.5-0.5 1.5-0.5-9.5-0.5 12-0.5-12-0.5 6-0.5-4.5-0.5 9.5-0.5-7.5-0.5-14.5-0.5 20.5-0.5-15.5-0.5 5.5-0.5 0.5-0.5 1.5-0.5-9-0.5-0.5-0.5 5-0.5-0.5-0.5-2-0.5-8.5-0.5 7.5-0.5 3-0.5-4.5-0.5-3.5-0.5 1.5-0.5-11.5-0.5 11-0.5-4-0.5-3-0.5 10-0.5-12.5-0.5 6.5-0.5 2-0.5 1.5-0.5 0.5-0.5-7-0.5 4-0.5 1.5-0.5 5-0.5-2.5-0.5-5.5-0.5 7-0.5-4.5-0.5 8.5-0.5-1-0.5-7-0.5-0.5-0.5 9.5-0.5-7.5-0.5 7-0.5-6.5-0.5-5-0.5 4.5-0.5-8-0.5 7.5-0.5-6-0.5 7.5-0.5 4-0.5-2-0.5-3-0.5-6.5-0.5 8.5-0.5-4-0.5 4.5-0.5 1.5-0.5 6-0.5-1-0.5 4.5-0.5-7-0.5 0.5-0.5 1-0.5-2-0.5-0.5-0.5 3.5-0.5-3-0.5-2-0.5 8.5-0.5-3.5-0.5 2-0.5 0-0.5 5.5-0.5-6.5-0.5-2.5-0.5 8.5-0.5-4.5-0.5 8.5-0.5-8.5-0.5 11.5-0.5-8-0.5 2.5-0.5 6.5-0.5-8.5-0.5 7-0.5-3-0.5-5.5-0.5 0.5-0.5 5-0.5-5-0.5 2-0.5-5.5-0.5 8-0.5-14.5-0.5 8.5-0.5-0.5-0.5 1-0.5-5-0.5 6.5-0.5 5.5-0.5-8-0.5-2-0.5 4-0.5 0.5-0.5-14-0.5 9-0.5-1-0.5-7.5-0.5 3.5-0.5 0-0.5 5-0.5-10-0.5 6.5-0.5-4.5-0.5-2.5-0.5-0.5-0.5-0.5-0.5 6-0.5-4-0.5-2.5-0.5 1.5-0.5-7-0.5 6-0.5-0.5-0.5-1.5-0.5 0.5-0.5-6-0.5 6.5-0.5-11.5-0.5 10-0.5-8.5-0.5-2.5-0.5 5-0.5-1.5-0.5-4.5-0.5-4-0.5-9.5-0.5 1-0.5 11.5-0.5-5.5-0.5-10-0.5 2.5-0.5-7.5-0.5 2-0.5-2-0.5-0.5-0.5-3.5-0.5-7-0.5 10.5-0.5 2-0.5 2-0.5 12-0.5-4.5-0.5-9-0.5 2-0.5 12-0.5 4-0.5-5.5-0.5-5-0.5 9-0.5-4.5-0.5 1.5-0.5 5.5-0.5-12.5-0.5 5-0.5 1.5-0.5-3-0.5 8-0.5-3.5-0.5-2-0.5 0-0.5 6-0.5-10-0.5 10.5-0.5-15-0.5 9-0.5-3-0.5 0.5-0.5-5-0.5 7-0.5 1.5-0.5-5.5-0.5 8.5-0.5 6.5-0.5 2-0.5 2.5-0.5-2.5-0.5 7-0.5 0.5-0.5 1-0.5 6-0.5-1-0.5-4.5-0.5 2.5-0.5 2.5-0.5 4-0.5-0.5-0.5-2-0.5-4.5-0.5 7-0.5-4.5-0.5 0.5-0.5-4.5-0.5 9-0.5-7-0.5-2.5-0.5 0.5-0.5-4-0.5 2.5-0.5-3.5-0.5-0.5-0.5 6-0.5-7-0.5 0.5-0.5-3.5-0.5 7-0.5-7.5-0.5 4.5-0.5-10-0.5 6.5-0.5 2-0.5-1-0.5-2.5-0.5 1.5-0.5 2.5-0.5-6.5-0.5 2-0.5-4.5-0.5-0.5-0.5 0-0.5-5-0.5 3-0.5 3.5-0.5-8-0.5-1.5-0.5 10-0.5 1.5-0.5-9-0.5 5.5-0.5 0.5-0.5-7-0.5 11.5-0.5-8-0.5 4-0.5 3.5-0.5-11-0.5 9.5-0.5-2-0.5 11.5-0.5-1.5-0.5-7.5-0.5 0.5-0.5-3.5-0.5 5-0.5 1.5-0.5-6-0.5 5.5-0.5-4-0.5-0.5-0.5 5.5-0.5-2-0.5 2-0.5-7-0.5 0.5-0.5-2.5-0.5 8-0.5-4.5-0.5-1.5-0.5 1.5-0.5-4-0.5-2.5-0.5-0.5-0.5 4.5-0.5-7.5-0.5-4.5-0.5 10-0.5-12.5-0.5 11-0.5-9.5-0.5 5-0.5-2-0.5-3-0.5-4-0.5 5-0.5-6.5-0.5-1.5-0.5 8-0.5-4-0.5-1.5-0.5-1.5-0.5 3.5-0.5-1-0.5-5-0.5-3.5-0.5 3-0.5 0-0.5-1.5-0.5-5-0.5 4-0.5 0.5-0.5-15-0.5 16.5-0.5-9.5-0.5 6-0.5-11-0.5 5-0.5-2.5-0.5 1.5-0.5-3-0.5-1-0.5-0.5-0.5 0.5-0.5-11-0.5 2-0.5 3.5-0.5-7-0.5-7-0.5 1.5-0.5-0.5-0.5 5-0.5-11-0.5 1-0.5-3-0.5 3-0.5-1.5-0.5 3.5-0.5 1-0.5-9.5-0.5 7.5-0.5 4-0.5 3.5-0.5-3-0.5 4-0.5-5-0.5 6-0.5-3.5-0.5-0.5-0.5 2.5-0.5 1.5-0.5 8-0.5-10-0.5 7-0.5-1.5-0.5 4-0.5-7.5-0.5 5.5-0.5 4-0.5-6.5-0.5 3-0.5-2-0.5 11-0.5-7.5-0.5-8.5-0.5 11-0.5-3.5-0.5 8.5-0.5-4-0.5 1.5-0.5-3-0.5 6-0.5-6-0.5 0-0.5 12.5-0.5-7-0.5 3-0.5-1.5-0.5 12.5-0.5 2.5-0.5 4.5-0.5 0.5-0.5 6.5-0.5-2.5-0.5-6.5-0.5 13.5-0.5-10-0.5 0.5-0.5 11.5-0.5-9-0.5 9.5-0.5-16-0.5 8-0.5 9-0.5-8-0.5 3-0.5 2.5-0.5-6.5-0.5 3.5-0.5 10-0.5-13-0.5 4-0.5-6.5-0.5-2-0.5 3-0.5-4.5-0.5 0-0.5 3.5-0.5-1.5-0.5 2.5-0.5-5.5-0.5 3-0.5-3.5-0.5 1.5-0.5-4.5-0.5-6.5-0.5-1.5-0.5 1.5-0.5 4.5-0.5-2.5-0.5-8.5-0.5 4.5-0.5-6.5-0.5-6.5-0.5 1.5-0.5 4-0.5-8.5-0.5-2-0.5 4-0.5-3-0.5-10-0.5 6.5-0.5 3.5-0.5-8-0.5 8.5-0.5-15-0.5 11-0.5-10-0.5-7-0.5 6-0.5-5-0.5 1-0.5 5-0.5-11-0.5 7-0.5-1.5-0.5-12-0.5 12-0.5-6-0.5 0-0.5-3-0.5 8-0.5-4.5-0.5-5-0.5 0.5-0.5 3.5-0.5-2-0.5-4.5-0.5 2-0.5 1.5-0.5-3.5-0.5 2.5-0.5 2-0.5-2-0.5 1.5-0.5-1-0.5-4.5-0.5-2-0.5 4.5-0.5-2.5-0.5 10-0.5-13-0.5 7.5-0.5-2.5-0.5 3.5-0.5-7.5-0.5 13-0.5-9.5-0.5 2-0.5-0.5-0.5-3.5-0.5 11.5-0.5-9-0.5-2-0.5-1-0.5 3.5-0.5 8-0.5-9-0.5 2.5-0.5-1-0.5-3-0.5 7.5-0.5 1.5-0.5-8-0.5 6-0.5-1-0.5 1.5-0.5-6.5-0.5 4.5-0.5 6-0.5-6.5-0.5 4-0.5 3.5-0.5-10-0.5 13-0.5 2.5-0.5-10-0.5 7-0.5-9-0.5 9-0.5-2.5-0.5 3.5-0.5 0.5-0.5 1.5-0.5 0.5-0.5-2-0.5 5.5-0.5-5-0.5 1.5-0.5 5.5-0.5-6-0.5 4.5-0.5-12.5-0.5 11.5-0.5-10.5-0.5 4.5-0.5 1.5-0.5-1.5-0.5 5.5-0.5-4-0.5-3-0.5 3.5-0.5-2.5-0.5-6.5-0.5 2-0.5-1.5-0.5-1-0.5 8-0.5-9.5-0.5 10-0.5-7-0.5 2.5-0.5-5-0.5 5-0.5-2-0.5-2-0.5-1-0.5 10-0.5-6-0.5 6.5-0.5-12-0.5 6-0.5-3.5-0.5-2.5-0.5 8.5-0.5-6.5-0.5 3-0.5 0.5-0.5-1-0.5-2-0.5-4.5-0.5 8-0.5-14.5-0.5 15.5-0.5-4.5-0.5 1-0.5-3.5-0.5-2-0.5 5.5-0.5-4.5-0.5-2.5-0.5 2-0.5-2-0.5 3.5-0.5-1.5-0.5-5.5-0.5 6.5-0.5-0.5-0.5 1-0.5-2-0.5 3-0.5-0.5-0.5-8.5-0.5-1-0.5 1.5-0.5-2.5-0.5 11-0.5-8-0.5-6.5-0.5-1.5-0.5 4.5-0.5-5-0.5-1-0.5 1.5-0.5 4-0.5-11-0.5 2-0.5-6.5-0.5 9-0.5-5-0.5 4-0.5-8.5-0.5 2.5-0.5-7-0.5 8.5-0.5-6.5-0.5-3-0.5-4-0.5 0.5-0.5-2-0.5 9.5-0.5 4.5-0.5-15.5-0.5 13-0.5-4.5-0.5 4-0.5-8.5-0.5 14.5-0.5 0-0.5 7-0.5-8.5-0.5 3-0.5-2-0.5 3-0.5-4-0.5 8-0.5-3.5-0.5 3.5-0.5-1.5-0.5 2.5-0.5 2.5-0.5 3.5-0.5-2-0.5-6-0.5 1.5-0.5 8-0.5 0-0.5-1-0.5 1-0.5-5-0.5 14-0.5-7.5-0.5 2.5-0.5 3-0.5 6.5-0.5 6.5-0.5 2-0.5 1.5-0.5 10-0.5-11.5-0.5 8.5-0.5 3-0.5 11-0.5-8-0.5 10.5-0.5-5.5-0.5 14.5-0.5-9-0.5 4-0.5-1-0.5-9-0.5 13-0.5-0.5-0.5-5-0.5-6.5-0.5 12.5-0.5-7.5-0.5 5.5-0.5-8-0.5 8-0.5 3.5-0.5-15.5-0.5 11-0.5-5-0.5 1-0.5 2-0.5 0.5-0.5-7-0.5 1-0.5 5.5-0.5-4.5-0.5 0.5-0.5 3-0.5-6.5-0.5 0.5-0.5-5.5-0.5 1-0.5 4-0.5-1-0.5-8.5-0.5 0-0.5 11-0.5-18.5-0.5 14-0.5-3-0.5 1.5-0.5 1.5-0.5-4-0.5-4.5-0.5 8-0.5-4.5-0.5-2.5-0.5 9.5-0.5-5.5-0.5-3-0.5-2-0.5 3-0.5 4.5-0.5-6-0.5-2-0.5 5.5-0.5-6-0.5 1.5-0.5-4-0.5-4.5-0.5-0.5-0.5 0-0.5-1.5-0.5-2-0.5 14-0.5-19-0.5 3-0.5-10-0.5 5.5-0.5 1.5-0.5 0-0.5 9-0.5-13.5-0.5 21.5z" fill="#000" fill-opacity="0.3"/>
<path d="M112 381l0.5 0 0.5 0 0.5-2.5 0.5-3 0.5 0.5 0.5 5 0.5 3 0.5 1 0.5 4 0.5 2 0.5 1.5 0.5-0.5 0.5 2 0.5-0.5 0.5 3 0.5-1.5 0.5 4 0.5 0 0.5 0.5 0.5 2.5 0.5 0 0.5 0.5 0.5 0 0.5 3 0.5-3.5 0.5 3 0.5 0.5 0.5 0 0.5-1.5 0.5 3 0.5 0 0.5-2 0.5 2 0.5 0 0.5 0.5 0.5 0.5 0.5 0 0.5-1.5 0.5 2.5 0.5 2 0.5 1 0.5 0.5 0.5 1.5 0.5-0.5 0.5 1 0.5 1.5 0.5 1 0.5 2 0.5 1.5 0.5 3.5 0.5 3 0.5-0.5 0.5-2.5 0.5-1 0.5 0.5 0.5-3.5 0.5 1.5 0.5-2.5 0.5 2.5 0.5 0 0.5-1 0.5-1.5 0.5 0 0.5-1 0.5-0.5 0.5-2 0.5 1 0.5-2 0.5 2 0.5 2.5 0.5-2 0.5-2 0.5 1.5 0.5-6 0.5 1 0.5-5 0.5-1 0.5-3.5 0.5-1 0.5-1 0.5-0.5 0.5-3.5 0.5-1.5 0.5-5.5 0.5 0 0.5-3.5 0.5 1 0.5-2 0.5-1 0.5-1 0.5-2.5 0.5-1 0.5 0.5 0.5 1 0.5-1 0.5-0.5 0.5-1 0.5-1.5 0.5-4 0.5 0 0.5-0.5 0.5 0.5 0.5-1 0.5 0 0.5-0.5 0.5-2 0.5 0 0.5-2.5 0.5 2.5 0.5-0.5 0.5-1 0.5-1.5 0.5-3 0.5-0.5 0.5 0 0.5 0.5 0.5 2 0.5 1 0.5 0.5 0.5 5.5 0.5-2.5 0.5 0.5 0.5 4 0.5-0.5 0.5-2.5 0.5 2.5 0.5 0.5 0.5 0.5 0.5 0 0.5 1 0.5 2 0.5 1.5 0.5 2.5 0.5-2 0.5 0 0.5 1 0.5-1 0.5 4 0.5 4 0.5-1.5 0.5 2.5 0.5 0.5 0.5-2.5 0.5 1 0.5-0.5 0.5-3 0.5-1.5 0.5-2 0.5-0.5 0.5 0.5 0.5-2 0.5 0.5 0.5-2 0.5 1.5 0.5 0 0.5-2 0.5 2 0.5-1 0.5-0.5 0.5 0 0.5 0 0.5 0.5 0.5-0.5 0.5 1.5 0.5-1.5 0.5-4 0.5 3.5 0.5 0 0.5-3.5 0.5-2 0.5-0.5 0.5 1.5 0.5-0.5 0.5-1.5 0.5 0 0.5-1 0.5-2 0.5-2.5 0.5 1.5 0.5-1.5 0.5-0.5 0.5 2 0.5 1.5 0.5-0.5 0.5 7.5 0.5 1.5 0.5-0.5 0.5 0 0.5 1 0.5-1.5 0.5 3.5 0.5 1 0.5-0.5 0.5-1 0.5-3 0.5 1 0.5-1 0.5-1.5 0.5-1.5 0.5-2.5 0.5 0.5 0.5-0.5 0.5-1 0.5 5 0.5-3.5 0.5 3.5 0.5 2 0.5 2.5 0.5-1 0.5 4.5 0.5 3 0.5 0.5 0.5 1.5 0.5-4 0.5-1.5 0.5-4.5 0.5-2.5 0.5 0.5 0.5 0.5 0.5 2 0.5 2.5 0.5 0.5 0.5 0.5 0.5 0 0.5 1.5 0.5 1.5 0.5 4.5 0.5 1 0.5 1 0.5 3 0.5-3 0.5 0 0.5 0 0.5-1.5 0.5-4 0.5 1.5 0.5 0 0.5 0 0.5-2 0.5 3 0.5-0.5 0.5-1 0.5-2 0.5-1 0.5 1 0.5-0.5 0.5-2.5 0.5-0.5 0.5 0 0.5 1 0.5 1.5 0.5 4.5 0.5-1 0.5 6 0.5 0 0.5 3.5 0.5 0 0.5 4 0.5-3 0.5-3.5 0.5 1 0.5-1 0.5-2.5 0.5-3 0.5 0 0.5 3 0.5-2.5 0.5 1.5 0.5-2 0.5-3.5 0.5-2 0.5 3.5 0.5 1 0.5 2 0.5 3.5 0.5 1.5 0.5-1.5 0.5 0.5 0.5-1.5 0.5 2 0.5 1 0.5 4.5 0.5-3 0.5 2.5 0.5 3 0.5-3 0.5 0.5 0.5-1.5 0.5-0.5 0.5 0 0.5 1.5 0.5 5.5 0.5 1.5 0.5 1 0.5-0.5 0.5 2.5 0.5 1 0.5-0.5 0.5 5 0.5 0.5 0.5 1.5 0.5 2 0.5 1.5 0.5 1 0.5 1 0.5 4 0.5 0 0.5 2.5 0.5 1 0.5-0.5 0.5-0.5 0.5 2 0.5-2 0.5 2 0.5-1.5 0.5 0.5 0.5 1.5 0.5 3 0.5 1 0.5 1.5 0.5 0.5 0.5-2.5 0.5-0.5 0.5 1.5 0.5-1 0.5 2.5 0.5-1 0.5 2.5 0.5-0.5 0.5 1.5 0.5 1 0.5 1 0.5 1.5 0.5 1 0.5 1 0.5 1 0.5-1.5 0.5-2 0.5-3 0.5 0 0.5 1 0.5-3 0.5 0 0.5 0 0.5 2.5 0.5 1.5 0.5-1.5 0.5 2.5 0.5-3 0.5-7 0.5-1 0.5-6 0.5-1 0.5-3.5 0.5-2.5 0.5 0 0.5-0.5 0.5 1.5 0.5-1.5 0.5-1 0.5 1.5 0.5-0.5 0.5-1 0.5-1 0.5 0 0.5 3 0.5-1 0.5-0.5 0.5 1 0.5-3 0.5 4.5 0.5 0.5 0.5 2 0.5 6 0.5-4 0.5-2 0.5-3 0.5-5.5 0.5-2.5 0.5 0 0.5-0.5 0.5-2 0.5 0 0.5-1 0.5-1.5 0.5 3 0.5-3 0.5-2 0.5-2 0.5 3.5 0.5-1 0.5 0.5 0.5-4 0.5 3.5 0.5 3 0.5-1.5 0.5 0.5 0.5-1 0.5-0.5 0.5-3 0.5 2 0.5 4 0.5 0.5 0.5 0.5 0.5 2.5 0.5 1 0.5 0 0.5 5 0.5 3 0.5 1.5 0.5 3 0.5-1.5 0.5 2.5 0.5-3 0.5 2.5 0.5-1 0.5 2 0.5 2.5 0.5 1.5 0.5-2 0.5-1 0.5 1 0.5 1 0.5 2 0.5 1 0.5 0.5 0.5 0.5 0.5-2 0.5-0.5 0.5 0.5 0.5-3.5 0.5 1.5 0.5 0 0.5-3 0.5-1.5 0.5-3.5 0.5 1.5 0.5-2.5 0.5 2.5 0.5 1 0.5-1.5 0.5 1 0.5 2 0.5 1 0.5 2 0.5 1.5 0.5 0 0.5 2.5 0.5-2.5 0.5 1 0.5 1 0.5 0.5 0.5 0.5 0.5 2 0.5 2 0.5 1 0.5-2 0.5 2 0.5 0 0.5 1.5 0.5 3 0.5-0.5 0.5 2 0.5 3 0.5-3 0.5 1 0.5-1 0.5-2 0.5-1 0.5-0.5 0.5 3 0.5 0.5 0.5-3 0.5 1 0.5-0.5 0.5-1.5 0.5-3 0.5 4.5 0.5 0 0.5-1 0.5 2.5 0.5 4 0.5 3 0.5 1 0.5 1.5 0.5 2.5 0.5 1.5 0.5 0.5 0.5 3 0.5-2 0.5-0.5 0.5 2 0.5 1.5 0.5 0 0.5 2 0.5-1.5 0.5 1.5 0.5 1.5 0.5 0 0.5-1 0.5 1.5 0.5-1 0.5 1.5 0.5 1.5 0.5 1 0.5 3.5 0.5-2.5 0.5 1.5 0.5 2.5 0.5-0.5 0.5 2.5 0.5-1 0.5 0 0.5-0.5 0.5 1.5 0.5-0.5 0.5 2.5 0.5-0.5 0.5-3.5 0.5-0.5 0.5-1.5 0.5-2 0.5-1 0.5-0.5 0.5-1.5 0.5 3 0.5-3.5 0.5-0.5 0.5 0.5 0.5-5.5 0.5-2 0.5-1.5 0.5 0 0.5-1.5 0.5-0.5 0.5-2 0.5-1.5 0.5 2 0.5-4 0.5 0.5 0.5-3 0.5-1.5 0.5-2 0.5 2.5 0.5-2.5 0.5 6 0.5 1.5 0.5 2.5 0.5-0.5 0.5-5 0.5-1.5 0.5 0 0.5 1 0.5-3 0.5-0.5 0.5-1 0.5-2.5 0.5 0 0.5-4 0.5-4 0.5-2.5 0.5 0.5 0.5-3 0.5-4 0.5 3.5 0.5-3 0.5 1 0.5-5 0.5-4.5 0.5-2 0.5-5 0.5-1 0.5 2.5 0.5 1.5 0.5 2 0.5 0 0.5 1 0.5 0 0.5 8.5 0.5 3 0.5 1 0.5 0 0.5 5.5 0.5 5 0.5 3 0.5-0.5 0.5-2.5 0.5-1 0.5 2.5 0.5-1.5 0.5-0.5 0.5-2 0.5 0.5 0.5-0.5 0.5 0 0.5-1.5 0.5 0 0.5-4.5 0.5 1 0.5-4 0.5 0.5 0.5 0.5 0.5-2.5 0.5 4.5 0.5 2 0.5-0.5 0.5 4 0.5-0.5 0.5 2.5 0.5 1.5 0.5 0.5 0.5 3.5 0.5-0.5 0.5 2 0.5 1 0.5 2 0.5 4 0.5 0 0.5 8 0.5 0 0.5-1.5 0.5 1 0.5-1.5 0.5 7 0.5-2 0.5-0.5 0.5 0 0.5-0.5 0.5-3 0.5-1.5 0.5-1 0.5-2.5 0.5 3.5 0.5 3 0.5 3.5 0.5-0.5 0.5 2 0.5 0.5 0.5 0.5 0.5 0 0.5 1 0.5-1 0.5 3.5 0.5 1.5 0.5 3.5 0.5 0.5 0.5-1 0.5 0 0.5-0.5 0.5 2.5 0.5-0.5 0.5 0.5 0.5-0.5 0.5 0 0.5 4.5 0.5 0 0.5 0 0.5 0.5 0.5-2 0.5 0.5 0.5 2.5 0.5-3.5 0.5 2 0.5 0.5 0.5-0.5 0.5 2.5 0.5-1.5 0.5 1 0.5-1.5 0.5 2 0.5 0.5 0.5 1.5 0.5 1 0.5 3 0.5-0.5 0.5-2 0.5 3 0.5 0.5 0.5 1 0.5-1.5 0.5 1 0.5-1.5 0.5-1 0.5-1 0.5 1.5 0.5-2 0.5 1.5 0.5-2.5 0.5-2 0.5-0.5 0.5 1 0.5 0.5 0.5-1 0.5 3 0.5-3 0.5 3.5 0.5 0 0.5-4 0.5 0.5 0.5 0 0.5-4 0.5 0.5 0.5 1 0.5 1.5 0.5 0.5 0.5 1 0.5 2 0.5 0 0.5 0.5 0.5-3.5 0.5 1.5 0.5-3.5 0.5 0.5 0.5 3 0.5-1 0.5 0 0.5 2 0.5 2 0.5-2 0.5 0 0.5-2.5 0.5 1.5 0.5 0.5 0.5-2.5 0.5 2 0.5-2 0.5-0.5 0.5-3 0.5-0.5 0.5-1.5 0.5-2 0.5-5 0.5 0.5 0.5-3 0.5 0 0.5 2 0.5 0 0.5 5 0.5-1.5 0.5 1 0.5 4 0.5-2 0.5 2 0.5 1.5 0.5 0 0.5-3 0.5 0 0.5 2 0.5-2.5 0.5-1.5 0.5 3 0.5 0 0.5 1 0.5 0.5 0.5-1.5 0.5-0.5 0.5-1 0.5 0 0.5-1.5 0.5 2.5 0.5 1 0.5 3.5 0.5 0 0.5-2 0.5-4.5 0.5 3.5 0.5-0.5 0.5-2.5 0.5 1.5 0.5-4 0.5 1 0.5 0 0.5-2 0.5 0.5 0.5-2 0.5-0.5 0.5-0.5 0.5 3 0.5 1.5 0.5-1 0.5-3 0.5 5 0.5 0 0.5-1 0.5 1.5 0.5-1 0.5 3.5 0.5 4 0.5 2.5 0.5-2 0.5 0.5 0.5 1 0.5 3 0.5 3 0.5 2.5 0.5-2 0.5 4 0.5 1.5 0.5-0.5 0.5 2 0.5-2 0.5-2 0.5 0 0.5 0.5 0.5 2.5 0.5-2.5 0.5 1 0.5 1.5 0.5-0.5 0.5 0 0.5 3.5 0.5 0.5 0.5 2 0.5-0.5 0.5 1.5 0.5-1 0.5-1 0.5-2 0.5 2 0.5 0.5 0.5 1.5 0.5-2.5 0.5 1 0.5-1.5 0.5 3 0.5-0.5 0.5 0 0.5 0 0.5-1.5 0.5 2 0.5-1 0.5-1 0.5-0.5 0.5-0.5 0.5-2.5 0.5 0.5 0.5-1.5 0.5 4 0.5 4 0.5 3 0.5 0 0.5 10 0.5 1.5 0.5 1 0.5-2.5 0.5-4.5 0.5-1 0.5 2.5 0.5 0.5 0.5-3 0.5-0.5 0.5 1 0.5-2.5 0.5-2 0.5-2.5 0.5-1.5 0.5 0.5 0.5-1.5 0.5-0.5 0.5 0.5 0.5-0.5 0.5-1.5 0.5-2 0.5-2 0.5-1.5 0.5-1 0.5 0.5 0.5 0 0.5-1.5 0.5-3 0.5 2 0.5-5 0.5-1.5 0.5-1 0.5 2.5 0.5 3 0.5 0 0.5 1.5 0.5-1.5 0.5 0 0.5 0.5 0.5 2 0.5 1 0.5 0 0.5 3 0.5 1.5 0.5-2.5 0.5 2.5 0.5 2 0.5 1.5 0.5 0 0.5 0 0.5-2 0.5-3.5 0.5 1 0.5-2.5 0.5-2 0.5-3 0.5-0.5 0.5-2 0.5-0.5 0.5 3 0.5-2.5 0.5-3.5 0.5 1.5 0.5-2 0.5-1 0.5 0.5 0.5 1.5 0.5-2 0.5-2 0.5 2.5 0.5-0.5 0.5-2 0.5 2 0.5-1.5 0.5 0 0.5 0.5 0.5 0.5 0.5 2 0.5-0.5 0.5 2.5 0.5-0.5 0.5-1.5 0.5 4 0.5 0 0.5 0.5 0.5 3 0.5 2.5 0.5-0.5 0.5-1 0.5-2 0.5 2 0.5-3.5 0.5-1.5 0.5 0.5 0.5-0.5 0.5-2.5 0.5 2.5 0.5 2 0.5-2.5 0.5 2 0.5 3.5 0.5-1.5 0.5 4 0.5 0 0.5 2 0.5 2.5 0.5 1.5 0.5 0 0.5 4 0.5 2 0.5 0 0.5-2 0.5-2.5 0.5-3 0.5-2.5 0.5-1.5 0.5-1.5 0.5 0.5 0.5 0 0.5-1.5 0.5-1 0.5-0.5 0.5-2 0.5 2.5 0.5-0.5 0.5-1.5 0.5 2 0.5 1.5 0.5-3.5 0.5 0.5 0.5 2 0.5 1 0.5 2 0.5 1 0.5-0.5 0.5 2.5 0.5 3.5 0.5 4.5 0.5 2 0.5 2 0.5-1.5 0.5-2 0.5 3 0.5-1.5 0.5-0.5 0.5-1.5 0.5 1 0.5 3 0.5-2.5 0.5 3.5 0.5-0.5 0.5 1 0.5 1 0.5-1 0.5-3.5 0.5 3 0.5-3.5 0.5 1.5 0.5-3.5 0.5-0.5 0.5-3 0.5-2 0.5 0 0.5-2 0.5 2 0.5 2.5 0.5 1.5 0.5 0 0.5 3 0.5-1 0.5 2.5 0.5 0 0.5 0 0.5 2.5 0.5 1 0.5 1.5 0.5 1 0.5 1 0.5 3 0.5-1 0.5 3 0.5-1.5 0.5 2 0.5 3 0.5 3.5 0.5-5 0.5 0.5 0.5-3.5 0.5-4 0.5 0 0.5-3 0.5-3.5 0.5-1 0.5-1.5 0.5-4.5 0.5 1.5 0.5-2 0.5-1.5 0.5-2.5 0.5-0.5 0.5-3.5 0.5-1 0.5-2.5 0.5-4.5 0.5-4.5 0.5-0.5 0.5-1.5 0.5-2 0.5 1.5 0.5-0.5 0.5 2.5 0.5 5.5 0.5 1 0.5 3.5 0.5-0.5 0.5 3.5 0.5 2 0.5 3.5 0.5 2 0.5 3 0.5 0 0.5 2 0.5 0.5 0.5-1.5 0.5-1 0.5 4 0.5-2.5 0.5 0 0.5-2 0.5-0.5 0.5-1.5 0.5 0 0.5 1.5 0.5-1.5 0.5 2 0.5-1.5 0.5 2.5 0.5-3.5 0.5 2.5 0.5 2 0.5 0 0.5 3 0.5 1 0.5 0.5 0.5 3.5 0.5-2 0.5 0 0.5 2.5 0.5 1.5 0.5-1.5 0.5-2" fill="none" stroke="#000" stroke-width="1.8" stroke-linejoin="round"/>
<path d="M112 596.5l0.5 0 0.5 5 0.5 2.5 0.5 3 0.5-2.5 0.5 0 0.5 0.5 0.5 6 0.5 3 0.5-3.5 0.5-3 0.5 2 0.5 8 0.5-6 0.5-5 0.5 6.5 0.5-4.5 0.5 2.5 0.5 0 0.5-0.5 0.5 4 0.5-2.5 0.5-1 0.5 3.5 0.5 0.5 0.5-8 0.5 6.5 0.5-3.5 0.5 3.5 0.5-4.5 0.5 5.5 0.5-1.5 0.5-0.5 0.5-2 0.5 2.5 0.5-2.5 0.5-0.5 0.5 6.5 0.5-4 0.5 10 0.5-1.5 0.5-6.5 0.5 10 0.5-4.5 0.5 6.5 0.5 0.5 0.5-5 0.5 8.5 0.5 0 0.5 6 0.5-6.5 0.5 9.5 0.5-6 0.5 5.5 0.5-2 0.5 7.5 0.5-5.5 0.5 6.5 0.5-8 0.5 1.5 0.5-1 0.5-5.5 0.5 2 0.5 3.5 0.5-7 0.5 2.5 0.5-2 0.5 1.5 0.5-5 0.5 0 0.5 0 0.5-2 0.5-4.5 0.5 5 0.5-9.5 0.5 0.5 0.5-2 0.5 6.5 0.5-7.5 0.5-2 0.5-1.5 0.5 3.5 0.5-7 0.5-0.5 0.5 4.5 0.5-8.5 0.5 3 0.5-1 0.5-3 0.5 0.5 0.5 3.5 0.5-8 0.5-2 0.5-2.5 0.5 5 0.5-2.5 0.5 1 0.5-3.5 0.5-0.5 0.5-1.5 0.5-0.5 0.5 1.5 0.5-3.5 0.5 1.5 0.5 4.5 0.5-7 0.5-6 0.5 10.5 0.5-7.5 0.5-4 0.5 6 0.5-5.5 0.5-2 0.5-0.5 0.5-2.5 0.5 3.5 0.5 2.5 0.5-5 0.5 3.5 0.5 4 0.5-11 0.5 7 0.5-3 0.5-2 0.5 0.5 0.5 3 0.5 1 0.5-3.5 0.5 4 0.5 4 0.5 0.5 0.5 5 0.5 0.5 0.5 3 0.5 7 0.5-2.5 0.5 2 0.5 2.5 0.5-6 0.5 3 0.5 2.5 0.5-1.5 0.5 3 0.5-5.5 0.5-4 0.5 11.5 0.5-5.5 0.5-6 0.5 8.5 0.5-6 0.5-5 0.5 5 0.5-1.5 0.5 6.5 0.5-9 0.5 3.5 0.5-0.5 0.5 0 0.5-1.5 0.5 4 0.5 2.5 0.5-2 0.5-4.5 0.5 0.5 0.5 4 0.5-3 0.5 1 0.5-3.5 0.5 12 0.5-6 0.5-5.5 0.5 6.5 0.5 0 0.5-12.5 0.5 8 0.5-1.5 0.5 3 0.5-3.5 0.5 0 0.5 0 0.5 5.5 0.5-0.5 0.5-9 0.5 0 0.5 11.5 0.5-14.5 0.5 4 0.5 1 0.5 1 0.5 1.5 0.5-2.5 0.5-4 0.5 5 0.5-2 0.5 5.5 0.5-7.5 0.5-3 0.5 1.5 0.5 8 0.5-7.5 0.5-3.5 0.5 6 0.5 1 0.5 4.5 0.5-7.5 0.5 7 0.5-0.5 0.5-4.5 0.5 3 0.5 6 0.5-1 0.5-2 0.5-0.5 0.5 3.5 0.5-4.5 0.5 1.5 0.5-2 0.5 4 0.5-0.5 0.5 10 0.5-11 0.5 7.5 0.5-1 0.5-4 0.5 6 0.5-11.5 0.5 10 0.5 1 0.5-10 0.5 6.5 0.5 6 0.5-5 0.5-1.5 0.5 3 0.5-0.5 0.5 4.5 0.5-1.5 0.5-1.5 0.5-1 0.5 2.5 0.5 4.5 0.5-3.5 0.5 2 0.5-2.5 0.5-3 0.5 3 0.5 4 0.5-2.5 0.5-2 0.5-1.5 0.5 6 0.5-3 0.5 0.5 0.5-0.5 0.5 2 0.5-0.5 0.5 2 0.5-0.5 0.5 1.5 0.5-2.5 0.5-3 0.5 1 0.5 1.5 0.5-3 0.5 3.5 0.5 1 0.5-7 0.5-1.5 0.5 10.5 0.5-5.5 0.5 4 0.5-7 0.5 12 0.5-5 0.5-1 0.5 0 0.5 2 0.5-1 0.5 0 0.5-2.5 0.5 8.5 0.5-6 0.5 2 0.5-0.5 0.5-7.5 0.5 11 0.5-4.5 0.5 1 0.5 1 0.5-2.5 0.5 7.5 0.5-5 0.5 2 0.5 1.5 0.5 4.5 0.5 2.5 0.5-3.5 0.5-1 0.5 9.5 0.5-8.5 0.5 9.5 0.5-5.5 0.5-1 0.5 1 0.5 3.5 0.5 1 0.5-3 0.5 4.5 0.5 3 0.5-7.5 0.5-1 0.5 0.5 0.5-0.5 0.5 3 0.5-0.5 0.5-1.5 0.5 6.5 0.5-11 0.5 6.5 0.5 10 0.5-5 0.5-0.5 0.5 0.5 0.5 4.5 0.5-4.5 0.5 0 0.5-4 0.5 5 0.5-3 0.5 1 0.5 0 0.5 2.5 0.5-1 0.5 4.5 0.5-7.5 0.5 5.5 0.5 6 0.5-7 0.5 5.5 0.5-1 0.5 1.5 0.5-2 0.5-6.5 0.5 4.5 0.5-1.5 0.5-3.5 0.5 4 0.5-3.5 0.5-1 0.5 6 0.5-2 0.5-2 0.5-0.5 0.5 1 0.5 0 0.5-0.5 0.5 1 0.5-1.5 0.5 2.5 0.5-0.5 0.5-0.5 0.5-3.5 0.5 0.5 0.5 3 0.5-3 0.5 1 0.5-8.5 0.5 0.5 0.5 9.5 0.5-2 0.5 3.5 0.5-3 0.5-2 0.5-1.5 0.5-5 0.5 7.5 0.5-7.5 0.5 4 0.5-2.5 0.5 0 0.5 1 0.5-6 0.5 0.5 0.5-2.5 0.5 1 0.5 5.5 0.5-8.5 0.5 6 0.5-3.5 0.5-0.5 0.5-0.5 0.5-7 0.5 5 0.5 2.5 0.5-6.5 0.5 5 0.5-1.5 0.5 5 0.5-4 0.5 11 0.5-7 0.5-0.5 0.5 12.5 0.5-3.5 0.5 0.5 0.5 1.5 0.5-1.5 0.5 1 0.5 2.5 0.5 0.5 0.5 0 0.5-2.5 0.5-1.5 0.5 1 0.5 4 0.5 0 0.5-5.5 0.5 0.5 0.5 5.5 0.5-2.5 0.5 0.5 0.5-7 0.5 4.5 0.5-1.5 0.5 3 0.5-7 0.5 11 0.5-5.5 0.5 1.5 0.5-6 0.5 4 0.5 2.5 0.5-10.5 0.5 7.5 0.5-1 0.5-5 0.5 5 0.5-5.5 0.5 5 0.5-4 0.5-1 0.5 6 0.5-4.5 0.5 3.5 0.5-8 0.5 4.5 0.5 5 0.5 0 0.5-2 0.5 4 0.5-6 0.5 6.5 0.5-5 0.5 7 0.5-3 0.5 1 0.5 3 0.5 6 0.5-9.5 0.5 4.5 0.5 5.5 0.5-5 0.5 9 0.5-7 0.5 0 0.5-0.5 0.5 3.5 0.5-5.5 0.5-0.5 0.5-2 0.5-7 0.5 2.5 0.5 8 0.5-2.5 0.5 0.5 0.5 1.5 0.5-3 0.5 5 0.5-4 0.5 6 0.5-3.5 0.5 3.5 0.5 2.5 0.5-1.5 0.5 4.5 0.5 0 0.5 0.5 0.5 4.5 0.5-9 0.5 2.5 0.5 8 0.5 0.5 0.5 4.5 0.5-3.5 0.5 2 0.5-4.5 0.5 7.5 0.5-0.5 0.5-4.5 0.5 2.5 0.5 3.5 0.5 1.5 0.5-9.5 0.5 12.5 0.5-1.5 0.5 0 0.5 2 0.5 1 0.5-4 0.5 6.5 0.5-3 0.5-0.5 0.5 4.5 0.5 4 0.5-9.5 0.5 1.5 0.5-0.5 0.5 11.5 0.5-10 0.5 2.5 0.5-3.5 0.5 0 0.5-4 0.5 7.5 0.5-1.5 0.5-7.5 0.5 4.5 0.5-0.5 0.5 2 0.5 0 0.5 2.5 0.5 0 0.5-1.5 0.5 1 0.5-8.5 0.5 3 0.5 9.5 0.5-2.5 0.5-0.5 0.5-7 0.5 1.5 0.5 7 0.5-3 0.5-2 0.5-1 0.5-4.5 0.5 7 0.5 0 0.5 1.5 0.5-6 0.5-0.5 0.5-3.5 0.5 8 0.5-1 0.5-10 0.5 2 0.5-3.5 0.5-4 0.5-8.5 0.5 6 0.5-1 0.5-9 0.5 1 0.5-11 0.5 14.5 0.5-8.5 0.5-2.5 0.5-3 0.5-3.5 0.5 4 0.5 0.5 0.5 2 0.5 2.5 0.5 2 0.5 6 0.5-8.5 0.5 9 0.5-2.5 0.5 1 0.5-2 0.5 12 0.5-5.5 0.5 4 0.5 5 0.5-6 0.5 3.5 0.5-2.5 0.5 2 0.5-1 0.5-7.5 0.5 6 0.5-6 0.5 0.5 0.5-2.5 0.5 2.5 0.5-8 0.5 5 0.5 0.5 0.5-6 0.5 7 0.5-11.5 0.5 5 0.5-2 0.5 1.5 0.5-0.5 0.5 3.5 0.5 2.5 0.5-1.5 0.5 7.5 0.5 2 0.5-8.5 0.5 11 0.5-3 0.5 2.5 0.5 8 0.5-4 0.5-0.5 0.5 1 0.5-6 0.5 12.5 0.5-6 0.5 5.5 0.5 0.5 0.5 3.5 0.5 2.5 0.5-4 0.5 2 0.5-5.5 0.5 3.5 0.5 0.5 0.5-7.5 0.5 13 0.5-11.5 0.5 0.5 0.5 9 0.5 0 0.5-9 0.5 2 0.5 11.5 0.5-12 0.5-4 0.5 6 0.5 8.5 0.5-4.5 0.5 2.5 0.5 2 0.5-1 0.5-2 0.5-2.5 0.5 8.5 0.5-5.5 0.5 5.5 0.5 6 0.5-4 0.5-0.5 0.5 0 0.5 2 0.5 0.5 0.5-7.5 0.5 6.5 0.5 3.5 0.5-4 0.5-4 0.5 1 0.5-4.5 0.5 5 0.5 6.5 0.5-6.5 0.5-1 0.5 1 0.5 1 0.5 0 0.5-1 0.5-1 0.5 5 0.5 1.5 0.5-7 0.5 1.5 0.5 5.5 0.5-10 0.5 5 0.5-0.5 0.5 2 0.5-2 0.5-1.5 0.5 4.5 0.5-6 0.5-0.5 0.5-0.5 0.5 9 0.5-9.5 0.5 9.5 0.5-1 0.5 1 0.5-3 0.5 0 0.5 2.5 0.5-2.5 0.5-1.5 0.5 9 0.5-8.5 0.5 11 0.5-6 0.5-1.5 0.5 3.5 0.5 2 0.5-8.5 0.5 3.5 0.5-0.5 0.5 4.5 0.5 0 0.5-0.5 0.5-2 0.5 1.5 0.5 5.5 0.5-1 0.5-2.5 0.5-3.5 0.5 7.5 0.5-2 0.5 0.5 0.5 5 0.5-3.5 0.5-4.5 0.5 1.5 0.5 7.5 0.5-5 0.5 3 0.5-6.5 0.5-4.5 0.5 1.5 0.5 1 0.5-7.5 0.5-6.5 0.5 3 0.5-1 0.5 3 0.5 2.5 0.5 3 0.5-6 0.5-0.5 0.5 2.5 0.5-0.5 0.5-1 0.5 2 0.5 0 0.5-3.5 0.5 7 0.5-4 0.5-1 0.5 5.5 0.5-4 0.5 8.5 0.5-5.5 0.5 0 0.5-2.5 0.5 2 0.5 4 0.5-5.5 0.5 6 0.5-10.5 0.5 10 0.5 0 0.5-1 0.5-0.5 0.5 3.5 0.5-6.5 0.5 1 0.5 3.5 0.5 3 0.5-3 0.5-1 0.5 2 0.5 0.5 0.5-5.5 0.5-3.5 0.5 7 0.5-2 0.5 4 0.5-2.5 0.5 2 0.5 4.5 0.5-1.5 0.5 0.5 0.5 6 0.5-7.5 0.5 2.5 0.5 5.5 0.5-8 0.5 0.5 0.5 10 0.5-4.5 0.5 2 0.5 0.5 0.5 1.5 0.5-4 0.5 2.5 0.5-3 0.5 5 0.5 0 0.5-1.5 0.5 5 0.5 7 0.5-14 0.5 10 0.5-1 0.5 1.5 0.5-5.5 0.5 8.5 0.5-3 0.5-1 0.5 0.5 0.5 2.5 0.5 2.5 0.5-0.5 0.5 4 0.5-10 0.5 4 0.5-5 0.5 4 0.5-3.5 0.5-2.5 0.5-3 0.5 1.5 0.5 2.5 0.5 2.5 0.5-3.5 0.5-6.5 0.5 2.5 0.5 0.5 0.5-1.5 0.5 0 0.5 1.5 0.5-3 0.5-3 0.5-4.5 0.5 6 0.5-4.5 0.5 6.5 0.5 1.5 0.5-4.5 0.5 5.5 0.5-1 0.5 8.5 0.5-5.5 0.5-5.5 0.5 9.5 0.5-1 0.5-0.5 0.5 0 0.5 2.5 0.5-0.5 0.5-1 0.5-5 0.5 3 0.5-5.5 0.5 1 0.5 2 0.5-2.5 0.5 2.5 0.5 8.5 0.5-9 0.5-3 0.5-4 0.5 4.5 0.5-3 0.5-2.5 0.5 10 0.5-6 0.5 4 0.5 7.5 0.5-11 0.5 1.5 0.5 0.5 0.5-2 0.5-2 0.5 2.5 0.5 3.5 0.5-5.5 0.5-2.5 0.5 1 0.5 0.5 0.5 3 0.5 0.5 0.5-0.5 0.5 1.5 0.5-5.5 0.5 3.5 0.5-3.5 0.5 1 0.5-9 0.5 11 0.5-12.5 0.5 3 0.5 5 0.5-6 0.5 7.5 0.5-7.5 0.5-3.5 0.5 3.5 0.5-3 0.5 6.5 0.5-0.5 0.5-2 0.5-2.5 0.5 3 0.5 3 0.5-6 0.5 2 0.5 6 0.5-1 0.5-2 0.5 1 0.5-5 0.5 12 0.5-6 0.5-2.5 0.5 2.5 0.5 1 0.5 9 0.5-4.5 0.5-5 0.5 11.5 0.5-3 0.5-6.5 0.5-3.5 0.5 13 0.5-7 0.5 3.5 0.5-1.5 0.5 6.5 0.5 0 0.5-1.5 0.5-2 0.5 2.5 0.5 1 0.5-6.5 0.5 11 0.5-6.5 0.5 3.5 0.5-0.5 0.5 3 0.5 0.5 0.5 4.5 0.5-8.5 0.5 0.5 0.5 4 0.5-3 0.5 6 0.5-6 0.5 5 0.5 2 0.5 0.5 0.5-2.5 0.5 4 0.5-2 0.5-10.5 0.5 8 0.5-3 0.5-2 0.5-1.5 0.5 1.5 0.5 0 0.5-1 0.5 2.5 0.5-2.5 0.5-5.5 0.5-0.5 0.5 4.5 0.5-6.5 0.5 3 0.5 0.5 0.5 2 0.5-1.5 0.5 4 0.5-6 0.5 5.5 0.5-5 0.5 4.5 0.5-0.5 0.5-3 0.5-4 0.5 13 0.5-4 0.5 0.5 0.5-2 0.5 2 0.5 3 0.5-2 0.5 4 0.5-4.5 0.5-2.5 0.5 5 0.5-5.5 0.5 3.5 0.5-7.5 0.5 6 0.5 1.5 0.5-4.5 0.5 2.5 0.5 1 0.5-2 0.5 5.5 0.5-8 0.5 1.5 0.5-0.5 0.5-5 0.5 3.5 0.5 7 0.5-3.5 0.5 7 0.5-5 0.5 1.5 0.5 4.5 0.5-2.5 0.5 6 0.5-9 0.5 7.5 0.5 0 0.5 0.5 0.5 3 0.5 0 0.5-2.5 0.5-2 0.5 4 0.5-5.5 0.5 2.5 0.5-1 0.5-5 0.5-4 0.5 1.5 0.5 1.5 0.5-5.5 0.5 4 0.5-6 0.5 0 0.5-4 0.5 1 0.5 2.5 0.5-6.5 0.5 0 0.5-3 0.5 4 0.5-9.5 0.5 3.5 0.5 3 0.5-0.5 0.5-6.5 0.5 3.5 0.5-10.5 0.5 12 0.5-3 0.5-3 0.5-0.5 0.5 5.5 0.5 2.5 0.5 0.5 0.5 0.5 0.5 3 0.5 0 0.5-5.5 0.5 5.5 0.5-0.5 0.5 6 0.5-5 0.5 7 0.5-3.5 0.5 9 0.5-8.5 0.5 3 0.5 0 0.5 2 0.5 8 0.5-10 0.5 2 0.5 3 0.5 3.5 0.5-5 0.5 8 0.5-1 0.5-1.5 0.5 1 0.5-1 0.5 3 0.5-1 0.5 8 0.5 0.5 0.5-5 0.5 3 0.5-5.5 0.5 6.5 0.5 2.5 0.5 0.5 0 34-0.5 10.5-0.5-5-0.5 6-0.5 4-0.5-7.5-0.5 4-0.5-6-0.5 8-0.5-1.5-0.5 1.5-0.5-2.5-0.5 2.5-0.5-0.5-0.5-1-0.5 6-0.5-5.5-0.5 1.5-0.5-4-0.5 4-0.5 3.5-0.5 3-0.5-8.5-0.5 5-0.5 1-0.5-3.5-0.5 5-0.5-10.5-0.5 5-0.5 6.5-0.5-6-0.5-3-0.5 0.5-0.5 6.5-0.5 0.5-0.5-6-0.5-2-0.5 2.5-0.5-1-0.5 4-0.5-6.5-0.5 13-0.5-7.5-0.5 2-0.5-2.5-0.5 6.5-0.5-4.5-0.5 5-0.5-3-0.5-2-0.5 7.5-0.5-8-0.5 2-0.5 4-0.5 3.5-0.5-2-0.5-0.5-0.5 3-0.5 9-0.5-9-0.5 2.5-0.5-2-0.5 1.5-0.5 3-0.5-1.5-0.5 2.5-0.5 4-0.5-1-0.5-9-0.5 10-0.5-8.5-0.5-1.5-0.5 4.5-0.5-6-0.5 1.5-0.5-8-0.5 10.5-0.5-5.5-0.5 3-0.5-0.5-0.5-8.5-0.5 6-0.5 0.5-0.5 5-0.5-5-0.5-4.5-0.5 3-0.5-3-0.5 1.5-0.5-2.5-0.5-2-0.5-2.5-0.5 7.5-0.5-6.5-0.5 5.5-0.5-14.5-0.5 11-0.5-4-0.5 4-0.5-1-0.5 1-0.5-2-0.5-1-0.5-5-0.5 3.5-0.5 5.5-0.5-10.5-0.5 7-0.5-3-0.5-2-0.5-2-0.5 5.5-0.5-2-0.5-3-0.5 6-0.5-9.5-0.5 2-0.5 10.5-0.5-12-0.5 5.5-0.5-0.5-0.5-2-0.5-6.5-0.5 13-0.5-9-0.5-1.5-0.5 7.5-0.5-7.5-0.5 5-0.5-5-0.5-2-0.5 5.5-0.5-3-0.5 5.5-0.5-6-0.5 2.5-0.5-4-0.5-0.5-0.5 2.5-0.5-3.5-0.5 5.5-0.5-3.5-0.5 7-0.5-6.5-0.5 0-0.5-6.5-0.5 5-0.5-1-0.5-1.5-0.5-3-0.5 1.5-0.5 2-0.5 3.5-0.5-7-0.5 6-0.5-2.5-0.5 2-0.5 0-0.5 8-0.5-5-0.5 4-0.5-6.5-0.5-1.5-0.5 3.5-0.5-4-0.5 3.5-0.5-4.5-0.5 5.5-0.5-2-0.5 0.5-0.5 4.5-0.5-2.5-0.5 0-0.5-2-0.5-1.5-0.5-2.5-0.5 5.5-0.5 1.5-0.5-3-0.5 6-0.5-4-0.5 2.5-0.5-1-0.5 0-0.5 0-0.5-2.5-0.5 2-0.5 2.5-0.5 1-0.5 3-0.5-5-0.5-0.5-0.5 5.5-0.5 0-0.5-1.5-0.5-3-0.5 7-0.5-1-0.5 0.5-0.5 0.5-0.5-2-0.5-0.5-0.5-0.5-0.5-0.5-0.5 3.5-0.5 1.5-0.5 1.5-0.5-1.5-0.5-4-0.5 3.5-0.5-1.5-0.5 1.5-0.5 2-0.5 0-0.5 2-0.5-3-0.5 0.5-0.5-3-0.5 6.5-0.5-11-0.5 3.5-0.5 3-0.5 4.5-0.5-4-0.5 1.5-0.5 0-0.5-2.5-0.5-1.5-0.5 6.5-0.5-3-0.5-2.5-0.5 2-0.5 1.5-0.5 2.5-0.5-4.5-0.5-3-0.5 0-0.5 8-0.5-2-0.5 2-0.5 2-0.5-5-0.5 2.5-0.5 7-0.5-10-0.5 10-0.5-2.5-0.5 2.5-0.5-2-0.5 0.5-0.5 5-0.5-4-0.5-4-0.5 5.5-0.5-9.5-0.5 9-0.5-12-0.5 2.5-0.5-3-0.5 3.5-0.5-8-0.5-2-0.5 5.5-0.5-6-0.5 5-0.5-4-0.5-4-0.5-5-0.5 0-0.5 3.5-0.5 0.5-0.5 1.5-0.5-6-0.5-3.5-0.5 0.5-0.5 4.5-0.5-2-0.5-2.5-0.5 5.5-0.5 0.5-0.5-3.5-0.5-6-0.5 6.5-0.5 1.5-0.5-7-0.5-1-0.5 2.5-0.5 6-0.5-3.5-0.5-5-0.5-4.5-0.5 6.5-0.5-1.5-0.5 1-0.5 0-0.5-4.5-0.5-5.5-0.5 7-0.5-5.5-0.5 3-0.5 2.5-0.5-2.5-0.5-5.5-0.5 7.5-0.5-4-0.5 3-0.5-6-0.5-1-0.5 6.5-0.5-2.5-0.5 0-0.5-6.5-0.5 14-0.5-9.5-0.5-2.5-0.5 1-0.5 5-0.5-6.5-0.5 4.5-0.5 3-0.5 2.5-0.5-9-0.5 6.5-0.5-1.5-0.5 2-0.5-10.5-0.5 10.5-0.5-6.5-0.5 5.5-0.5 1-0.5-1.5-0.5-2-0.5-2-0.5 0.5-0.5 3-0.5-9.5-0.5 7.5-0.5 0-0.5-5-0.5 2.5-0.5-1.5-0.5 0.5-0.5 3.5-0.5-1-0.5-4.5-0.5 1.5-0.5 4.5-0.5-1.5-0.5-4.5-0.5 9-0.5-4-0.5 6.5-0.5-7-0.5 8-0.5-5.5-0.5 2.5-0.5-3-0.5 3-0.5 3.5-0.5-8-0.5 9-0.5-4-0.5 0-0.5-3.5-0.5 5.5-0.5-1-0.5-4-0.5 3-0.5-6.5-0.5 6-0.5-5-0.5 6.5-0.5-9.5-0.5 6.5-0.5-4-0.5 1-0.5 2-0.5 0.5-0.5 3-0.5-4.5-0.5 5.5-0.5-12-0.5 16.5-0.5-5-0.5-1-0.5 2.5-0.5-8-0.5 9.5-0.5-9.5-0.5 9-0.5-3-0.5 5-0.5-1-0.5-3.5-0.5 6.5-0.5-6.5-0.5 3-0.5 1-0.5 4-0.5-7.5-0.5 2-0.5-4.5-0.5 8.5-0.5-6-0.5 5.5-0.5 1.5-0.5-2-0.5-0.5-0.5-4-0.5 4-0.5 2-0.5-1.5-0.5-1.5-0.5 2.5-0.5-0.5-0.5 2-0.5-5-0.5 3-0.5-2-0.5-6.5-0.5 3.5-0.5 2.5-0.5-6-0.5 6.5-0.5-4.5-0.5 0.5-0.5-6-0.5 6-0.5 1-0.5-3-0.5 2.5-0.5-3-0.5 0.5-0.5-4-0.5 0-0.5 4-0.5-6.5-0.5 7-0.5-3.5-0.5-3.5-0.5 2.5-0.5-6-0.5-3-0.5 9-0.5-2-0.5-5-0.5 5-0.5-7.5-0.5 3-0.5-1-0.5-5-0.5 4-0.5 0.5-0.5-4-0.5 4-0.5-1-0.5-0.5-0.5-0.5-0.5 3-0.5-9-0.5 1.5-0.5 7.5-0.5-3-0.5-0.5-0.5 3-0.5-3-0.5 3.5-0.5-0.5-0.5-11-0.5 12.5-0.5-4.5-0.5 1-0.5-4.5-0.5-2.5-0.5 4-0.5 0-0.5-2.5-0.5 2.5-0.5-4-0.5 1-0.5-0.5-0.5 1-0.5-1-0.5-3.5-0.5 1.5-0.5-5.5-0.5 6.5-0.5-4-0.5-2.5-0.5 4.5-0.5-8.5-0.5 6.5-0.5-9.5-0.5 7.5-0.5-6-0.5 0.5-0.5 1.5-0.5 1.5-0.5-5.5-0.5 5.5-0.5-5.5-0.5-4.5-0.5 1.5-0.5 0.5-0.5 3.5-0.5-6.5-0.5 0-0.5-0.5-0.5-4-0.5 3-0.5 0-0.5-3.5-0.5 3.5-0.5-3.5-0.5-4-0.5 5.5-0.5-6-0.5 0.5-0.5 2-0.5-2.5-0.5-12-0.5 10-0.5 0-0.5 3.5-0.5-1.5-0.5 1.5-0.5-1.5-0.5 5-0.5-1.5-0.5-5-0.5 7-0.5-2-0.5 0.5-0.5 7-0.5-2-0.5 0-0.5 2-0.5 0.5-0.5-2.5-0.5 7-0.5-4-0.5 4-0.5-3-0.5-3.5-0.5 4-0.5-4-0.5-0.5-0.5 0.5-0.5 1-0.5-1.5-0.5-0.5-0.5 0.5-0.5-3-0.5 2-0.5-0.5-0.5-3.5-0.5-8.5-0.5 19-0.5-12-0.5 9-0.5-3-0.5 2.5-0.5 1-0.5 0-0.5 6-0.5-3.5-0.5 1.5-0.5 1.5-0.5 10-0.5-6-0.5 2.5-0.5 2.5-0.5-0.5-0.5 8.5-0.5-6-0.5-2.5-0.5 1-0.5 2.5-0.5 1.5-0.5-1-0.5-1-0.5-1-0.5 0-0.5-1.5-0.5 5.5-0.5-0.5-0.5-4-0.5-1.5-0.5 1-0.5-4.5-0.5 5-0.5-1.5-0.5-2-0.5-2.5-0.5-3-0.5 2-0.5 4.5-0.5-1.5-0.5-5-0.5 4-0.5-0.5-0.5-5-0.5-6-0.5 8-0.5-1-0.5 9-0.5-11.5-0.5 9-0.5-5.5-0.5-2.5-0.5-1.5-0.5 2-0.5-6-0.5 0-0.5 4.5-0.5-2-0.5-4.5-0.5 10-0.5-8.5-0.5 3-0.5 2.5-0.5-5.5-0.5 6.5-0.5-6.5-0.5 3-0.5-2-0.5 3.5-0.5-4.5-0.5-4.5-0.5 5.5-0.5 0-0.5 3-0.5-9-0.5 4.5-0.5 2.5-0.5-4-0.5-5.5-0.5 10.5-0.5-4-0.5-5.5-0.5 6.5-0.5 1-0.5-6.5-0.5-1.5-0.5-3-0.5 5.5-0.5-3-0.5 1-0.5-7-0.5 0-0.5-3-0.5 1-0.5-5.5-0.5 5-0.5-2.5-0.5-2-0.5-1.5-0.5 3-0.5-0.5-0.5-1-0.5-4-0.5 0.5-0.5-1-0.5-3.5-0.5 4.5-0.5-7-0.5 2.5-0.5-2.5-0.5-1.5-0.5 2-0.5-7.5-0.5 5-0.5 1.5-0.5-2.5-0.5 1.5-0.5 0-0.5-4-0.5-2.5-0.5 5-0.5-6.5-0.5 0-0.5-1.5-0.5 0.5-0.5 3-0.5 1-0.5 1.5-0.5-7.5-0.5-2-0.5 5.5-0.5-1.5-0.5 6.5-0.5-2.5-0.5-8.5-0.5 2-0.5 9.5-0.5-5.5-0.5-2-0.5 6-0.5-5.5-0.5 0-0.5 1.5-0.5 1-0.5-5.5-0.5 10-0.5-2.5-0.5-6.5-0.5 7.5-0.5 7-0.5-2.5-0.5-8-0.5 0.5-0.5 4-0.5 0.5-0.5 0.5-0.5 0.5-0.5 3.5-0.5-2.5-0.5 3.5-0.5-4.5-0.5 1-0.5 7-0.5-1.5-0.5-3.5-0.5 1-0.5 0-0.5 8-0.5-1-0.5-1-0.5 7.5-0.5-4-0.5-3-0.5 4.5-0.5 3-0.5-9-0.5 8-0.5 4-0.5-9-0.5 2.5-0.5 0-0.5 4.5-0.5-3-0.5 4-0.5 4.5-0.5-5-0.5 3.5-0.5-1-0.5-1-0.5-1.5-0.5 7.5-0.5-3.5-0.5 3-0.5 1.5-0.5-2.5-0.5 1-0.5-4.5-0.5 5-0.5 3-0.5 0-0.5 0-0.5-12.5-0.5 12.5-0.5-1-0.5-0.5-0.5-11-0.5 5.5-0.5 4.5-0.5-7-0.5 0-0.5-4.5-0.5 6.5-0.5-2-0.5 3-0.5-5.5-0.5 0-0.5 0.5-0.5 7.5-0.5-4-0.5-6-0.5 0.5-0.5 0.5-0.5-3.5-0.5-0.5-0.5 0-0.5-4-0.5-1-0.5 5.5-0.5-9-0.5 5.5-0.5-5.5-0.5 6-0.5 0-0.5-10.5-0.5 9-0.5-8-0.5-5-0.5 4.5-0.5 2-0.5-3-0.5-1-0.5 0.5-0.5-4.5-0.5 3-0.5-6-0.5-1.5-0.5-3.5-0.5 5.5-0.5 2-0.5-4-0.5 5.5-0.5-10-0.5 4-0.5-3.5-0.5 6-0.5-7.5-0.5 0.5-0.5-2-0.5-5-0.5 7.5-0.5-1-0.5-5.5-0.5 3.5-0.5-3.5-0.5 4.5-0.5 0-0.5 1.5-0.5-7.5-0.5 6.5-0.5-5-0.5 2-0.5-5.5-0.5 8.5-0.5-0.5-0.5-3-0.5 0-0.5-0.5-0.5-2.5-0.5 4-0.5-4-0.5-0.5-0.5 2.5-0.5-3.5-0.5 3.5-0.5-6-0.5-4.5-0.5 8-0.5 0.5-0.5 0-0.5 1.5-0.5-10.5-0.5 1.5-0.5 3-0.5 2.5-0.5-7.5-0.5-1-0.5 0-0.5 0-0.5 4-0.5-7.5-0.5-1-0.5 4.5-0.5-2.5-0.5-2-0.5-3.5-0.5 4-0.5-0.5-0.5 1-0.5-5.5-0.5-3.5-0.5 4.5-0.5 2-0.5-2.5-0.5 2.5-0.5 3-0.5-7-0.5 4-0.5 5.5-0.5-8.5-0.5 3-0.5-1.5-0.5 4.5-0.5-8.5-0.5 8.5-0.5-0.5-0.5 1.5-0.5 0-0.5-1-0.5 1.5-0.5-9-0.5 2-0.5-3.5-0.5 8-0.5-6-0.5 5-0.5-7.5-0.5 4.5-0.5 0-0.5-4-0.5 4-0.5 2-0.5-2-0.5-0.5-0.5 3-0.5-1-0.5-3-0.5-2-0.5 7-0.5-0.5-0.5-9-0.5 10.5-0.5-6.5-0.5 3-0.5 3-0.5-5-0.5 3-0.5-2-0.5-3-0.5 2.5-0.5 1-0.5 1-0.5-2.5-0.5 3-0.5-2-0.5-1-0.5 9.5-0.5-4.5-0.5-3.5-0.5-1-0.5-1.5-0.5 2.5-0.5 3.5-0.5-5.5-0.5 4.5-0.5-8.5-0.5 8.5-0.5-0.5-0.5-4.5-0.5 0-0.5 3.5-0.5 2.5-0.5 2-0.5-6.5-0.5 11.5-0.5-7.5-0.5-4.5-0.5 13-0.5-11-0.5 3-0.5 0.5-0.5-1-0.5-0.5-0.5 3-0.5 1-0.5-1-0.5 5-0.5-3.5-0.5 4-0.5-4.5-0.5 7.5-0.5-8.5-0.5 4.5-0.5 0.5-0.5 2-0.5-2-0.5 0.5-0.5 1.5-0.5-3.5-0.5 5-0.5-6.5-0.5-1-0.5 9.5-0.5-2-0.5 1.5-0.5-5.5-0.5 2.5-0.5-4.5-0.5 3.5-0.5-5.5-0.5 4-0.5-3.5-0.5 5-0.5 0-0.5 0.5-0.5-12-0.5 4.5-0.5 1-0.5-7-0.5 3-0.5 2.5-0.5-3-0.5-5-0.5 14-0.5-7.5-0.5 1.5-0.5 0-0.5 0-0.5-3.5-0.5 3-0.5-2.5-0.5-1-0.5 1-0.5 10-0.5-8.5-0.5 7.5-0.5 0-0.5 0-0.5-4-0.5 7-0.5-3.5-0.5 3.5-0.5-4-0.5 1.5-0.5 7-0.5-3-0.5-4.5-0.5 11-0.5-4-0.5 2-0.5-2-0.5 7-0.5-4-0.5 4.5-0.5-0.5-0.5 3-0.5-2.5-0.5 2.5-0.5 3-0.5 4-0.5-8-0.5 11-0.5-7-0.5 10.5-0.5-1.5-0.5-0.5-0.5 4-0.5-0.5-0.5-4-0.5 3-0.5-3.5-0.5-4.5-0.5-2-0.5 4-0.5-2.5-0.5 3-0.5 0-0.5-9-0.5 3-0.5 2-0.5-5-0.5 5.5-0.5-5-0.5-2-0.5-3.5-0.5 8.5-0.5-10.5-0.5 1-0.5 1.5-0.5-5-0.5 1.5-0.5-3-0.5 5.5-0.5-5-0.5 3.5-0.5-3-0.5 0-0.5-1-0.5 3.5-0.5-8-0.5 4.5-0.5-7-0.5-1-0.5 5.5-0.5-1-0.5-3-0.5-2-0.5 7.5-0.5-6.5-0.5 5-0.5-2.5-0.5 0.5-0.5-7.5-0.5 2.5-0.5-4-0.5-2.5-0.5 3-0.5 0.5-0.5-2.5-0.5 3.5-0.5-4-0.5 1.5-0.5-1.5-0.5-2.5-0.5-11.5-0.5 13.5-0.5-2.5z" fill="#f00" fill-opacity="0.4"/>
<line x1="112" y1="621.8" x2="658.5" y2="621.8" stroke="#f00" stroke-width="2.8" stroke-dasharray="20 12"/>
<path d="M112 611l0.5 0 0.5 1.5 0.5 3 0.5 0.5 0.5 2 0.5 2.5 0.5 4 0.5-1.5 0.5-0.5 0.5 3 0.5 1.5 0.5-0.5 0.5-3 0.5-0.5 0.5 1.5 0.5-0.5 0.5-0.5 0.5 1 0.5 1 0.5-0.5 0.5 1.5 0.5 0 0.5 1 0.5 1 0.5 0 0.5-1.5 0.5 3 0.5 1 0.5-1 0.5-1 0.5 0.5 0.5 0 0.5 1 0.5 1 0.5 0 0.5 2.5 0.5 1.5 0.5-1.5 0.5 1.5 0.5 1.5 0.5 1.5 0.5 0.5 0.5 1.5 0.5 1.5 0.5-0.5 0.5 6 0.5 0.5 0.5 0.5 0.5 3.5 0.5 1.5 0.5-1 0.5-1 0.5 1 0.5 0 0.5 0 0.5-2.5 0.5-0.5 0.5 3 0.5-1.5 0.5 0.5 0.5-2.5 0.5-0.5 0.5-1 0.5-1 0.5-1 0.5 1.5 0.5 0 0.5-3 0.5-3 0.5 0 0.5-4.5 0.5-1 0.5-1 0.5 0 0.5-0.5 0.5-5 0.5-0.5 0.5-2 0.5 0 0.5-4 0.5 0 0.5-1 0.5-1 0.5-2 0.5-0.5 0.5 0 0.5-2 0.5 0 0.5-1.5 0.5-2.5 0.5 1.5 0.5-1.5 0.5 0 0.5-3.5 0.5 1 0.5-2.5 0.5 0 0.5-3.5 0.5 1 0.5 2 0.5-1.5 0.5-0.5 0.5 1 0.5-3.5 0.5-0.5 0.5-1 0.5-1 0.5-1 0.5 0.5 0.5 1 0.5-0.5 0.5-3 0.5 1 0.5 0.5 0.5-1 0.5 2.5 0.5-0.5 0.5 1.5 0.5 1 0.5 0 0.5 0.5 0.5 1 0.5-2.5 0.5 1.5 0.5 1.5 0.5-1.5 0.5 3 0.5-3 0.5 2.5 0.5-1 0.5 3.5 0.5 0 0.5 0 0.5 4.5 0.5-1 0.5 1 0.5 0.5 0.5 0.5 0.5-1 0.5 3.5 0.5 0 0.5 1 0.5-1 0.5 2 0.5 2 0.5 1.5 0.5-1.5 0.5 1 0.5 0 0.5-1.5 0.5 2 0.5-1 0.5 0 0.5-1.5 0.5-1.5 0.5-0.5 0.5 0 0.5 1 0.5-3 0.5 0 0.5 2 0.5 1 0.5-3 0.5 0 0.5 0 0.5 0 0.5 1.5 0.5-1.5 0.5 1 0.5-2 0.5 0.5 0.5 0.5 0.5-0.5 0.5-1.5 0.5-3.5 0.5 1 0.5-2.5 0.5 2.5 0.5-2.5 0.5 1.5 0.5-0.5 0.5 1 0.5 0 0.5-0.5 0.5 1 0.5 3 0.5-2 0.5-1 0.5-1.5 0.5 0 0.5 3 0.5 2.5 0.5-1.5 0.5 2 0.5-1 0.5 0.5 0.5-0.5 0.5-1 0.5 0.5 0.5-2 0.5 2 0.5-2.5 0.5-0.5 0.5 1 0.5-2 0.5-3.5 0.5-1.5 0.5 3 0.5 0 0.5 0.5 0.5 2 0.5-3.5 0.5 2.5 0.5 2 0.5 2 0.5 0 0.5 0.5 0.5 0 0.5 0.5 0.5 0 0.5-0.5 0.5 0 0.5 2.5 0.5-0.5 0.5 1 0.5-1 0.5 1.5 0.5 0 0.5 0.5 0.5 1 0.5 1 0.5 1.5 0.5 2 0.5 1.5 0.5-3.5 0.5 2.5 0.5-0.5 0.5 0 0.5-1.5 0.5 0.5 0.5 2.5 0.5-2 0.5-0.5 0.5-1.5 0.5 2.5 0.5-1 0.5-2 0.5 2.5 0.5-1 0.5-2.5 0.5 2.5 0.5 2.5 0.5 1 0.5 0 0.5 0 0.5 1.5 0.5-0.5 0.5-1 0.5 1.5 0.5-0.5 0.5 0.5 0.5-1.5 0.5-2 0.5-1 0.5 2.5 0.5-2 0.5 1.5 0.5-3 0.5 0.5 0.5-0.5 0.5 0.5 0.5 5.5 0.5 1.5 0.5-1 0.5 0.5 0.5 1.5 0.5-3 0.5 1.5 0.5 1.5 0.5-1 0.5 0.5 0.5 1.5 0.5 1.5 0.5-0.5 0.5 0.5 0.5 1 0.5 2 0.5-2.5 0.5 0 0.5-1.5 0.5 6 0.5 0.5 0.5 1 0.5 2.5 0.5 0 0.5 1.5 0.5 1 0.5 2 0.5-1 0.5 4 0.5 0.5 0.5 0 0.5 2 0.5 2.5 0.5 1.5 0.5 0 0.5 0 0.5 1 0.5-1.5 0.5 1.5 0.5 0.5 0.5 0 0.5 0 0.5 0.5 0.5 0.5 0.5-1.5 0.5 2 0.5 0.5 0.5 1 0.5-1 0.5 2.5 0.5 2.5 0.5 1 0.5 0.5 0.5 2.5 0.5 2 0.5 1 0.5 2 0.5 2 0.5-2 0.5 2.5 0.5 1 0.5 1.5 0.5-0.5 0.5 2.5 0.5 1.5 0.5-3 0.5 0.5 0.5-2 0.5-3.5 0.5-1.5 0.5-1 0.5-2.5 0.5-2 0.5-2 0.5 1 0.5-0.5 0.5-2 0.5-1.5 0.5-2 0.5-0.5 0.5-0.5 0.5-2 0.5 1 0.5-1.5 0.5-3 0.5 1 0.5 2 0.5-2.5 0.5 0.5 0.5 1 0.5-1.5 0.5 0 0.5-1.5 0.5 1.5 0.5-4 0.5-1.5 0.5 2.5 0.5-0.5 0.5-0.5 0.5-1 0.5-1 0.5-2.5 0.5 0 0.5 1.5 0.5-1.5 0.5-2.5 0.5-1 0.5 0.5 0.5-0.5 0.5-1 0.5 2 0.5-1.5 0.5 1.5 0.5-1 0.5 1 0.5-1.5 0.5 0.5 0.5-1 0.5 0 0.5-1.5 0.5-0.5 0.5-2 0.5 0 0.5-2 0.5-1.5 0.5 1 0.5-3 0.5 2 0.5 3.5 0.5 0.5 0.5 1 0.5 2 0.5 1 0.5 1 0.5 0.5 0.5 3.5 0.5 0 0.5 0.5 0.5 3 0.5 0 0.5-0.5 0.5-2 0.5 0.5 0.5 0 0.5 4 0.5 0.5 0.5 2 0.5-3.5 0.5 1 0.5-1 0.5 0 0.5 0 0.5-0.5 0.5 2 0.5-2.5 0.5-1 0.5 1 0.5 1 0.5 1 0.5 0.5 0.5-0.5 0.5 0.5 0.5 0.5 0.5 0 0.5 2.5 0.5 0.5 0.5-1.5 0.5 2 0.5 0.5 0.5 0.5 0.5 1.5 0.5-0.5 0.5 1.5 0.5-1 0.5 3 0.5 2 0.5 0 0.5 0.5 0.5 3 0.5 0.5 0.5 2.5 0.5 1 0.5 3 0.5 0 0.5 0.5 0.5-2 0.5-0.5 0.5-0.5 0.5-0.5 0.5-2.5 0.5-2 0.5 1 0.5 1.5 0.5-3 0.5 0.5 0.5-1.5 0.5 1 0.5 0.5 0.5-0.5 0.5 0 0.5 0.5 0.5 1 0.5 2.5 0.5 1 0.5 2.5 0.5-0.5 0.5 3 0.5 0.5 0.5 0.5 0.5 2.5 0.5 3 0.5 2.5 0.5 3.5 0.5-1.5 0.5 1 0.5 1.5 0.5 2.5 0.5 5.5 0.5 1 0.5-2 0.5 0.5 0.5-1.5 0.5 2 0.5-2 0.5 3 0.5-0.5 0.5 3 0.5-1 0.5 1.5 0.5-1 0.5 2 0.5 1 0.5-0.5 0.5 0 0.5 0.5 0.5 0.5 0.5 1 0.5 0 0.5 1 0.5-0.5 0.5 1 0.5 2.5 0.5 1.5 0.5 1 0.5 1.5 0.5-1 0.5-2 0.5-1.5 0.5-0.5 0.5-2 0.5-1 0.5-2.5 0.5 1.5 0.5-2.5 0.5-1 0.5-1.5 0.5-3.5 0.5-2.5 0.5-1 0.5-1 0.5-1 0.5-1.5 0.5-3.5 0.5-1 0.5-1 0.5 0.5 0.5 1.5 0.5-2 0.5 2 0.5 0.5 0.5-0.5 0.5 0 0.5-1.5 0.5-2.5 0.5 0 0.5 3.5 0.5 0 0.5-2 0.5 0 0.5 0 0.5 0 0.5-0.5 0.5-0.5 0.5-3 0.5 1 0.5-3 0.5-2 0.5-0.5 0.5-3 0.5-1 0.5-0.5 0.5-2 0.5-1.5 0.5-3.5 0.5-1 0.5-2 0.5-1.5 0.5-3.5 0.5-2.5 0.5 0 0.5 0.5 0.5 0 0.5 5 0.5-1.5 0.5 2 0.5 1 0.5 3 0.5 0.5 0.5 2.5 0.5 3.5 0.5 2 0.5 1 0.5 1 0.5 2 0.5 3 0.5 3 0.5 0 0.5-0.5 0.5 0.5 0.5-2 0.5 1 0.5 0 0.5 1 0.5 1 0.5-2 0.5-2 0.5-1.5 0.5-2.5 0.5-2.5 0.5 0.5 0.5-1.5 0.5-1 0.5-3.5 0.5 2 0.5 2 0.5 1 0.5 0.5 0.5 2.5 0.5 3.5 0.5 0.5 0.5-0.5 0.5 1 0.5 2 0.5-2.5 0.5 1.5 0.5 3.5 0.5 3.5 0.5 3.5 0.5 0.5 0.5 1 0.5 2 0.5 2.5 0.5 0 0.5 1 0.5 2.5 0.5 1.5 0.5-2 0.5 0.5 0.5 2.5 0.5 0 0.5-1.5 0.5-0.5 0.5-0.5 0.5 1.5 0.5-1 0.5 0.5 0.5-2 0.5-1 0.5 0 0.5 2.5 0.5 0.5 0.5 0.5 0.5 2 0.5 0.5 0.5 2.5 0.5-1.5 0.5 0.5 0.5 1.5 0.5 1.5 0.5 0 0.5 1 0.5 2 0.5-1.5 0.5 1 0.5-0.5 0.5-1 0.5 1 0.5 0 0.5 0 0.5 0 0.5-1 0.5 3 0.5 1 0.5 0.5 0.5 0 0.5 0 0.5 1.5 0.5-1 0.5-1.5 0.5 0 0.5 1 0.5 0.5 0.5-0.5 0.5-1.5 0.5 3 0.5 0.5 0.5 1 0.5 1 0.5 0.5 0.5-1.5 0.5-1.5 0.5-2 0.5-0.5 0.5-1.5 0.5 1.5 0.5 0 0.5-0.5 0.5 0 0.5-1 0.5 1 0.5-2.5 0.5 0 0.5 1 0.5 2.5 0.5-1 0.5-3 0.5 0.5 0.5 1.5 0.5-0.5 0.5 0 0.5 1 0.5 0 0.5 1 0.5 1.5 0.5 2.5 0.5-0.5 0.5-1.5 0.5 0.5 0.5-0.5 0.5 2.5 0.5-1.5 0.5 1.5 0.5 0.5 0.5-1.5 0.5 0 0.5 2.5 0.5 1 0.5 1.5 0.5-0.5 0.5-1 0.5-2 0.5 1.5 0.5-1 0.5 0.5 0.5-0.5 0.5-3 0.5-3.5 0.5-1 0.5-2 0.5 1 0.5-1.5 0.5-1.5 0.5-0.5 0.5-2 0.5 1.5 0.5 0.5 0.5-0.5 0.5 2 0.5 1.5 0.5 0 0.5-0.5 0.5 3.5 0.5 2.5 0.5 1.5 0.5-1.5 0.5-1 0.5-2.5 0.5 1 0.5-1 0.5-0.5 0.5-2.5 0.5 1 0.5-2 0.5-1.5 0.5-1.5 0.5 0.5 0.5 3 0.5-1 0.5 0 0.5 0 0.5 0.5 0.5-1 0.5 1 0.5 1.5 0.5-0.5 0.5 0.5 0.5 1 0.5-2.5 0.5 1 0.5 1 0.5 1.5 0.5-3 0.5 1 0.5 1 0.5 2 0.5 1 0.5-1 0.5-3 0.5 3 0.5-0.5 0.5-0.5 0.5 2.5 0.5-2 0.5 0 0.5 1.5 0.5 0.5 0.5 1 0.5 2 0.5-1 0.5 0.5 0.5-1 0.5 0.5 0.5 1 0.5 0 0.5 0 0.5 1 0.5 0.5 0.5 1 0.5 2.5 0.5 0.5 0.5 0.5 0.5 0 0.5 1.5 0.5 1 0.5 2.5 0.5-1 0.5 1.5 0.5 1.5 0.5-1.5 0.5 1.5 0.5-1.5 0.5 0.5 0.5-0.5 0.5 3 0.5-1.5 0.5 0 0.5 0 0.5 0.5 0.5-1 0.5-1.5 0.5 0 0.5-0.5 0.5 1 0.5-1 0.5-1 0.5 1.5 0.5-1 0.5-3 0.5 0 0.5 0 0.5 0 0.5 0 0.5 3.5 0.5 2.5 0.5 2 0.5 2 0.5 3 0.5 0 0.5 2.5 0.5 5.5 0.5 0 0.5-1 0.5-1.5 0.5-0.5 0.5 1 0.5-0.5 0.5-2 0.5-2 0.5 0.5 0.5-2.5 0.5-2 0.5-1.5 0.5 2.5 0.5-3 0.5 2 0.5 0 0.5 1 0.5-0.5 0.5-0.5 0.5 0 0.5-2 0.5-0.5 0.5-2 0.5-0.5 0.5-0.5 0.5 0.5 0.5-3 0.5 1 0.5 0 0.5 1.5 0.5 0.5 0.5-2 0.5 1.5 0.5-3 0.5 1 0.5 0 0.5 1.5 0.5 1 0.5 0 0.5 2.5 0.5-0.5 0.5 1 0.5 4 0.5 0 0.5-1 0.5-0.5 0.5 0 0.5 1 0.5-1.5 0.5-1.5 0.5 0 0.5 2 0.5-2.5 0.5-2 0.5-2.5 0.5-2.5 0.5-1 0.5-3 0.5 2 0.5-1 0.5-1.5 0.5-3.5 0.5 0.5 0.5-2 0.5 0.5 0.5 0.5 0.5-2 0.5 3 0.5-0.5 0.5 2.5 0.5-3 0.5-1 0.5-1 0.5 0 0.5-1 0.5 0.5 0.5-1 0.5-2 0.5 5 0.5 0.5 0.5 0 0.5 1.5 0.5 2 0.5-0.5 0.5 1 0.5 2.5 0.5 2 0.5-2 0.5 2.5 0.5-1.5 0.5 1 0.5 1.5 0.5-1 0.5 0.5 0.5-0.5 0.5 1.5 0.5-0.5 0.5 0.5 0.5 1.5 0.5 0 0.5-1.5 0.5 0 0.5 0 0.5-1 0.5 1.5 0.5 1 0.5 0.5 0.5 1 0.5 0.5 0.5 3.5 0.5 0.5 0.5 1 0.5 1 0.5-1.5 0.5 0.5 0.5-3 0.5 2 0.5-1.5 0.5 2.5 0.5-1.5 0.5-4.5 0.5 0 0.5 2 0.5-1.5 0.5-1.5 0.5 0 0.5 0.5 0.5-0.5 0.5-1.5 0.5 1 0.5-0.5 0.5 3.5 0.5-2 0.5 1 0.5-1 0.5-0.5 0.5 1 0.5-0.5 0.5 0 0.5-0.5 0.5 1.5 0.5 1 0.5 0.5 0.5-2 0.5 1 0.5 1 0.5 0 0.5 1.5 0.5 3.5 0.5 1.5 0.5 3.5 0.5-0.5 0.5 2 0.5 0.5 0.5 3 0.5-1.5 0.5 0.5 0.5-4 0.5 1.5 0.5-2.5 0.5-3 0.5 1 0.5-2.5 0.5 1 0.5-4 0.5-2.5 0.5-0.5 0.5 0.5 0.5 1 0.5 0.5 0.5 1.5 0.5 0 0.5 2 0.5-1 0.5 3 0.5 2 0.5 1.5 0.5 1 0.5 1 0.5 0.5 0.5 1.5 0.5 2 0.5 0.5 0.5 1.5 0.5 4 0.5-3.5 0.5-1 0.5-5 0.5-0.5 0.5-2.5 0.5-2 0.5-0.5 0.5-0.5 0.5-3 0.5-3.5 0.5-4.5 0.5 0.5 0.5-1.5 0.5-1 0.5-1.5 0.5-1.5 0.5-3.5 0.5 0 0.5-1.5 0.5-4 0.5-0.5 0.5 0 0.5-3 0.5 2.5 0.5 3 0.5 1.5 0.5-2 0.5 1.5 0.5 2 0.5 3.5 0.5 0.5 0.5 1.5 0.5 3 0.5 2.5 0.5 0.5 0.5 2 0.5 2.5 0.5 2 0.5-1 0.5 3 0.5-0.5 0.5-0.5 0.5 0.5 0.5-2 0.5-2.5 0.5 1.5 0.5 0 0.5-1 0.5-0.5 0.5 0.5 0.5-1 0.5 4 0.5-0.5 0.5 3 0.5 1.5 0.5 0 0.5 2.5 0.5 3.5 0.5-0.5 0.5-1 0.5-4 0.5 2 0.5-0.5 0.5 0 0.5 0 0.5-2 0.5 0.5" fill="none" stroke="#f00" stroke-width="1.6" stroke-linejoin="round"/>
<path d="M112 994l0 6.5 0.5-2.5 0.5-2 0.5-2 0.5 0 0.5 0 0.5 0 0.5 14.5 0.5 12 0.5 16 0.5-2.5 0.5 0.5 0.5 1.5 0.5 2.5 0.5-1 0.5 7.5 0.5-2.5 0.5 5.5 0.5-5.5 0.5 6 0.5 2 0.5 7 0.5-0.5 0.5 9 0.5-6 0.5-2 0.5-3 0.5-1.5 0.5-7 0.5 6.5 0.5-11.5 0.5 0 0.5 7.5 0.5 6 0.5-2 0.5 7 0.5 2 0.5-3.5 0.5-1.5 0.5 9 0.5 7 0.5 1.5 0.5 5.5 0.5 4 0.5-1.5 0.5-8.5 0.5-5.5 0.5-9 0.5 7.5 0.5 12.5 0.5 6.5 0.5 11 0.5 8 0.5 10 0.5 6 0.5-11 0.5 3.5 0.5-1 0.5-9 0.5-3.5 0.5-3 0.5-4 0.5 5.5 0.5-8 0.5 4.5 0.5-9.5 0.5-3 0.5-7 0.5-1.5 0.5-6.5 0.5-0.5 0.5-7.5 0.5 0.5 0.5 1.5 0.5-11.5 0.5-0.5 0.5 2 0.5-10.5 0.5-11 0.5-11 0.5-1 0.5-19 0.5 0 0.5-5 0.5 0 0.5 0 0.5 0 0.5 0 0.5 0 0.5 0 0.5 0 0.5 0 0.5 0 0.5 0 0.5 0 0.5 0 0.5 0 0.5 0 0.5 0 0.5 0 0.5 0 0.5 0 0.5 0 0.5 0 0.5 0 0.5 0 0.5 0 0.5 0 0.5 0 0.5 0 0.5 0 0.5 0 0.5 0 0.5 0 0.5 0 0.5 0 0.5 0 0.5 0 0.5 0 0.5 0 0.5 0 0.5 0 0.5 0 0.5 0 0.5 0 0.5 0 0.5 0 0.5 0 0.5 0 0.5 0 0.5 0 0.5 0 0.5 0 0.5 0 0.5 0 0.5 0 0.5 0 0.5 0 0.5 0 0.5 0 0.5 0 0.5 0 0.5 0 0.5 0 0.5 0 0.5 0 0.5 0 0.5 0 0.5 0 0.5 0 0.5 0 0.5 0 0.5 0 0.5 0 0.5 0 0.5 0 0.5 0 0.5 0 0.5 0 0.5 0 0.5 0 0.5 0 0.5 0 0.5 0 0.5 0 0.5 0 0.5 0 0.5 0 0.5 0 0.5 0 0.5 0 0.5 0 0.5 0 0.5 0 0.5 0 0.5 0 0.5 0 0.5 0 0.5 0 0.5 0 0.5 0 0.5 0 0.5 0 0.5 0 0.5 0 0.5 0 0.5 0 0.5 0 0.5 0 0.5 0 0.5 0 0.5 0 0.5 0 0.5 0 0.5 0 0.5 0 0.5 0 0.5 0 0.5 0 0.5 0 0.5 0 0.5 0 0.5 0 0.5 0 0.5 0 0.5 0 0.5 0 0.5 0 0.5 0 0.5 0 0.5 0 0.5 0 0.5 0 0.5 0 0.5 0 0.5 0 0.5 0 0.5 0 0.5 0 0.5 0 0.5 0 0.5 0 0.5 0 0.5 0 0.5 0 0.5 0 0.5 0 0.5 0 0.5 0 0.5 0 0.5 0 0.5 0 0.5 0 0.5 0 0.5 0 0.5 0 0.5 0 0.5 0 0.5 0 0.5 0 0.5 0 0.5 0 0.5 0 0.5 0 0.5 0 0.5 0 0.5 0 0.5 0 0.5 0 0.5 0 0.5 0 0.5 0 0.5 0 0.5 0 0.5 0 0.5 0 0.5 0 0.5 0 0.5 0 0.5 0 0.5 0 0.5 0 0.5 0 0.5 0 0.5 0 0.5 0 0.5 0 0.5 0 0.5 0 0.5 0 0.5 0 0.5 0 0.5 0 0.5 0 0.5 0 0.5 0 0.5 0 0.5 0 0.5 0 0.5 0 0.5 0 0.5 0 0.5 0 0.5 0 0.5 0 0.5 0 0.5 0 0.5 0 0.5 0 0.5 0 0.5 0 0.5 0 0.5 0 0.5 0 0.5 0 0.5 0 0.5 0 0.5 0 0.5 0 0.5 0 0.5 0 0.5 0 0.5 0 0.5 4 0.5 7.5 0.5 8.5 0.5-5 0.5 7 0.5-2.5 0.5 1 0.5 6 0.5-2 0.5 3.5 0.5 3 0.5-5 0.5 2.5 0.5-3.5 0.5 0 0.5-0.5 0.5 2 0.5 1.5 0.5-2.5 0.5 13.5 0.5-8 0.5 10.5 0.5-3 0.5 8 0.5-0.5 0.5 6.5 0.5 6.5 0.5-6 0.5 1.5 0.5 7 0.5-3 0.5 3.5 0.5 4.5 0.5-4 0.5-7 0.5-11 0.5-5 0.5-13 0.5-3.5 0.5-1 0.5 6.5 0.5 4 0.5 4.5 0.5-0.5 0.5 11 0.5 2 0.5-1.5 0.5-13.5 0.5-11 0.5-12.5 0.5-11 0.5 0 0.5 0 0.5 0 0.5 0 0.5 0 0.5 0 0.5 0 0.5 0 0.5 0 0.5 0 0.5 0 0.5 0 0.5 0 0.5 0 0.5 0 0.5 0 0.5 0 0.5 0 0.5 0 0.5 0 0.5 0 0.5 0 0.5 0 0.5 0 0.5 0 0.5 0 0.5 0 0.5 0 0.5 0 0.5 0 0.5 0 0.5 0 0.5 0 0.5 0 0.5 0 0.5 0 0.5 0 0.5 0 0.5 0 0.5 0 0.5 0 0.5 0 0.5 0 0.5 0 0.5 0 0.5 0 0.5 0 0.5 0 0.5 0 0.5 0 0.5 0 0.5 0 0.5 0 0.5 0 0.5 0 0.5 0 0.5 0 0.5 0 0.5 0 0.5 0 0.5 0 0.5 0 0.5 0 0.5 0 0.5 0 0.5 0 0.5 0 0.5 0 0.5 0 0.5 0 0.5 0 0.5 0 0.5 0 0.5 0 0.5 0 0.5 0 0.5 0 0.5 0 0.5 0 0.5 0 0.5 0 0.5 0 0.5 0 0.5 0 0.5 0 0.5 0 0.5 0 0.5 0 0.5 0 0.5 0 0.5 0 0.5 0 0.5 0 0.5 0 0.5 0 0.5 0 0.5 0 0.5 0 0.5 0 0.5 0 0.5 0 0.5 0 0.5 0 0.5 0 0.5 0 0.5 2 0.5-2 0.5 0 0.5 0 0.5 0.5 0.5 0.5 0.5-1 0.5 0 0.5 0 0.5 0 0.5 0 0.5 0 0.5 0 0.5 0 0.5 0 0.5 0 0.5 0 0.5 0 0.5 0 0.5 0 0.5 0 0.5 0 0.5 0 0.5 0 0.5 0 0.5 0 0.5 6 0.5 11.5 0.5 13.5 0.5 6 0.5 15.5 0.5 3 0.5 12 0.5-9 0.5 5.5 0.5-10.5 0.5 1.5 0.5-6 0.5-0.5 0.5-0.5 0.5 1 0.5 8 0.5 11.5 0.5-7 0.5 10.5 0.5 1 0.5 5.5 0.5 4.5 0.5 4 0.5-1.5 0.5 4 0.5 3 0.5-2.5 0.5 8.5 0.5-1 0.5-0.5 0.5 6 0.5-0.5 0.5-7.5 0.5-1.5 0.5-6 0.5-4.5 0.5 2 0.5-10 0.5 1.5 0.5-8 0.5-2 0.5 1 0.5-3.5 0.5-1.5 0.5-7.5 0.5-0.5 0.5-7.5 0.5-9 0.5-3 0.5-7.5 0.5-7 0.5-12.5 0.5-5 0.5-3 0.5 0 0.5 0 0.5 0 0.5 0 0.5 0 0.5 0 0.5 0 0.5 0 0.5 0 0.5 4.5 0.5 8.5 0.5-6.5 0.5-6.5 0.5 0 0.5 0 0.5 0 0.5 0 0.5 0 0.5 0 0.5 0 0.5 0 0.5 0 0.5 0 0.5 0 0.5 0 0.5 0 0.5 0 0.5 0 0.5 0 0.5 0 0.5 0 0.5 0 0.5 0 0.5 0 0.5 0 0.5 0 0.5 0 0.5 0 0.5 0 0.5 0 0.5 0 0.5 0 0.5 0 0.5 0 0.5 0 0.5 0 0.5 0 0.5 0 0.5 0 0.5 0 0.5 0 0.5 0 0.5 0 0.5 0 0.5 0 0.5 0 0.5 0 0.5 0 0.5 0 0.5 0 0.5 0 0.5 0 0.5 0 0.5 0 0.5 0 0.5 0 0.5 0 0.5 0 0.5 0 0.5 0 0.5 0 0.5 0 0.5 0 0.5 0 0.5 0 0.5 0 0.5 0 0.5 0 0.5 0 0.5 0 0.5 0 0.5 0 0.5 0 0.5 0 0.5 0 0.5 0 0.5 4.5 0.5 6 0.5 1 0.5-9.5 0.5-2 0.5 0 0.5 0 0.5 0 0.5 0 0.5 0 0.5 0 0.5 0 0.5 0 0.5 2 0.5 2.5 0.5 8 0.5 2.5 0.5 4 0.5 7.5 0.5-1 0.5 2.5 0.5-1.5 0.5-5 0.5-1.5 0.5 2 0.5-8.5 0.5 9.5 0.5 0.5 0.5 9 0.5 14.5 0.5 5 0.5-1.5 0.5 0 0.5-4 0.5-2.5 0.5 0 0.5 2.5 0.5-6.5 0.5 5.5 0.5-3 0.5 9 0.5-3 0.5 6.5 0.5 7.5 0.5-0.5 0.5-4 0.5-6.5 0.5-5 0.5-3 0.5 1 0.5 2.5 0.5 7 0.5 7 0.5 7.5 0.5 8.5 0.5 1 0.5-9.5 0.5 8.5 0.5-9 0.5-2.5 0.5 3 0.5-15.5 0.5-4 0.5 2 0.5-6 0.5-0.5 0.5-3.5 0.5 0 0.5-9 0.5-4.5 0.5-6 0.5 1 0.5-9 0.5 9 0.5 3 0.5 12 0.5 6.5 0.5 6 0.5-1.5 0.5-2.5 0.5-10.5 0.5-4 0.5-6 0.5 1.5 0.5-8.5 0.5 5.5 0.5 5.5 0.5 3 0.5 11.5 0.5-2 0.5-5.5 0.5-1.5 0.5-8 0.5-3.5 0.5 2 0.5-5.5 0.5-5.5 0.5-3.5 0.5-2.5 0.5-3 0.5-0.5 0.5 2 0.5 11.5 0.5-2 0.5 2 0.5 1.5 0.5-14 0.5-5 0.5-1 0.5 0 0.5 0 0.5 0 0.5 0 0.5 0 0.5 0 0.5 0 0.5 0 0.5 0 0.5 0 0.5 0 0.5 8 0.5 4 0.5-2.5 0.5-9.5 0.5 0 0.5 0 0.5 0 0.5 0 0.5 0 0.5 0 0.5 0 0.5 0 0.5 0 0.5 0 0.5 0 0.5 0 0.5 0 0.5 0 0.5 0 0.5 0 0.5 0 0.5 0 0.5 0 0.5 0 0.5 0 0.5 0 0.5 0 0.5 0 0.5 0 0.5 0 0.5 0 0.5 0 0.5 0 0.5 0 0.5 0 0.5 0 0.5 0 0.5 0 0.5 0 0.5 0 0.5 0 0.5 0 0.5 0 0.5 0 0.5 0 0.5 0 0.5 0 0.5 0 0.5 0 0.5 0 0.5 1 0.5-1 0.5 0 0.5 7 0.5 6.5 0.5-1 0.5 5.5 0.5-5 0.5 4.5 0.5-0.5 0.5 1.5 0.5-5 0.5 7 0.5 1 0.5 9.5 0.5 13 0.5-1 0.5 5 0.5-4 0.5-6.5 0.5 3 0.5 2.5 0.5-7 0.5-2 0.5-0.5 0.5-6 0.5 7 0.5-0.5 0.5 5.5 0.5-4 0.5 10.5 0.5-1 0.5 1.5 0.5-5.5 0.5-1.5 0.5-3.5 0.5-8.5 0.5-9.5 0.5 0 0.5-8 0.5 4.5 0.5 7 0.5 16.5 0.5 0 0.5 13.5 0.5 10 0.5 9.5 0.5 1.5 0.5 7.5 0.5-8.5 0.5 2 0.5-12 0.5 6.5 0.5-10.5 0.5 1 0.5-2.5 0.5-4.5 0.5-9 0.5-3 0.5-5.5 0.5-0.5 0.5-5 0.5-1.5 0.5-3 0.5-4 0.5-2.5 0.5-2.5 0.5-2.5 0.5-5.5 0.5-5 0.5-2 0.5 0 0.5 0 0.5 0 0.5 0 0.5 0 0.5 0 0.5 0 0.5 0 0.5 0 0.5 0 0.5 0 0.5 0 0.5 0 0.5 0 0.5 0 0.5 0 0.5 0 0.5 0 0.5 0 0.5 0 0.5 0 0.5 0 0.5 2 0.5 4.5 0.5 4 0.5 3 0.5 5 0.5-18.5 0.5 0 0.5 0 0.5 0 0.5 0 0.5 0 0.5 0 0.5 0 0.5 0 0.5 0 0.5 0 0.5 0 0.5 0 0.5 0 0.5 0 0.5 0 0.5 0 0.5 0 0.5 0 0.5 0 0.5 0 0.5 0 0.5 0 0.5 0 0.5 0 0.5 0 0.5 0 0.5 0 0.5 0 0.5 0 0.5 0 0.5 0 0.5 0 0.5 0 0.5 0 0.5 0 0.5 0 0.5 0 0.5 0 0.5 0 0.5 0 0.5 0 0.5 0 0.5 0 0.5 0 0.5 0 0.5 0 0.5 0 0.5 0 0.5 0 0.5 0 0.5 0 0.5 0 0.5 0 0.5 0 0.5 0 0.5 0 0.5 0 0.5 4.5 0.5-4.5 0.5 0 0.5 0 0.5 0 0.5 0 0.5 0 0.5 0 0.5 0 0.5 0 0.5 0 0.5 0 0.5 0 0.5 0 0.5 0 0.5 0 0.5 0 0.5 0 0.5 0 0.5 0 0.5 0 0.5 0 0.5 0 0.5 0 0.5 0 0.5 0 0.5 0 0.5 0 0.5 0 0.5 0 0.5 0 0.5 0 0.5 0 0.5 0 0.5 0 0.5 0 0.5 0 0.5 0 0.5 0 0.5 0 0.5 6 0.5 2 0.5-1 0.5 4.5 0.5-0.5 0.5-6.5 0.5-4.5 0.5 0 0.5 0 0.5 0 0.5 0 0.5 0 0.5 0 0.5 0 0.5 0 0.5 0 0.5 0 0.5 0 0.5 0 0.5 0 0.5 0 0.5 0 0.5 0 0.5 0 0.5 0 0.5 0 0.5 0 0.5 0 0.5 0 0.5 0 0.5 3.5 0.5 6.5 0.5 3 0.5 4 0.5 8.5 0.5 2 0.5 8.5 0.5-2.5 0.5-4 0.5-5.5 0.5-10.5 0.5-10 0.5-3.5 0.5 0 0.5 0 0.5 0 0.5 0 0.5 0 0.5 0 0.5 0 0.5 0 0.5 0 0.5 0 0.5 0 0.5 0 0.5 0 0.5 0 0.5 0 0.5 0 0.5 0 0.5 0 0.5 0 0.5 0 0.5 0 0.5 0 0.5 0 0.5 0 0.5 0 0.5 0 0.5 0 0.5 0 0.5 0 0.5 0 0.5 0 0.5 0 0.5 0 0.5 0 0.5 0 0.5 0 0.5 0 0.5 0 0.5 0 0.5 0 0.5 0 0.5 0 0.5 0 0.5 0 0.5 0 0.5 0 0.5 0 0.5 0 0.5 0 0.5 0 0.5 0 0.5 0 0.5 0 0.5 0 0.5 0 0.5 0 0.5 0 0.5 0 0.5 0 0.5 0 0 0z" fill="#e00000"/>
<path d="M112 926.5l0 0 0.5 0 0.5 0 0.5 0 0.5 0 0.5 0 0.5 0 0.5 0 0.5 0 0.5 0 0.5 0 0.5 0 0.5 0 0.5 0 0.5 0 0.5 0 0.5 0 0.5 0 0.5 0 0.5 0 0.5 0 0.5 0 0.5 0 0.5 0 0.5 0 0.5 0 0.5 0 0.5 0 0.5 0 0.5 0 0.5 0 0.5 0 0.5 0 0.5 0 0.5 0 0.5 0 0.5 0 0.5 0 0.5 0 0.5 0 0.5 0 0.5 0 0.5 0 0.5 0 0.5 0 0.5 0 0.5 0 0.5 0 0.5 0 0.5 0 0.5 0 0.5 0 0.5 0 0.5 0 0.5 0 0.5 0 0.5 0 0.5 0 0.5 0 0.5 0 0.5 0 0.5 0 0.5 0 0.5 0 0.5 0 0.5 0 0.5 0 0.5 0 0.5 0 0.5 0 0.5 0 0.5 0 0.5 0 0.5 0 0.5 0 0.5 0 0.5 0 0.5 0 0.5 0 0.5 0 0.5 0 0.5 0 0.5 0 0.5 0 0.5 0 0.5 0 0.5 0 0.5 0 0.5 0 0.5 0 0.5 0 0.5 0 0.5 0 0.5 0 0.5 0 0.5 0 0.5 0 0.5 0 0.5 0 0.5 0 0.5 0 0.5 0 0.5 0 0.5 0 0.5 0 0.5 0 0.5 0 0.5 0 0.5-3.5 0.5-7 0.5-2 0.5-1.5 0.5-4.5 0.5-9.5 0.5 2 0.5-5.5 0.5 7.5 0.5 8 0.5 2.5 0.5-1 0.5 7.5 0.5 7 0.5 0 0.5 0 0.5 0 0.5 0 0.5 0 0.5-1 0.5-6.5 0.5-8 0.5 7.5 0.5-1 0.5 3.5 0.5 2.5 0.5 1.5 0.5 1.5 0.5 0 0.5 0 0.5 0 0.5 0 0.5 0 0.5 0 0.5 0 0.5 0 0.5 0 0.5 0 0.5 0 0.5 0 0.5 0 0.5 0 0.5 0 0.5 0 0.5 0 0.5 0 0.5 0 0.5-1 0.5-16 0.5 5.5 0.5-8 0.5 3 0.5 0.5 0.5-7 0.5-2 0.5 5.5 0.5-9 0.5 8 0.5 5.5 0.5 4 0.5 11 0.5 0 0.5 0 0.5-3.5 0.5-6.5 0.5-7 0.5-17 0.5 6 0.5-4.5 0.5-8 0.5 4.5 0.5-8 0.5-1 0.5-2 0.5-1 0.5-0.5 0.5 4 0.5 12 0.5 6.5 0.5 7.5 0.5 5.5 0.5 3 0.5-3.5 0.5 0.5 0.5-0.5 0.5-4 0.5-9 0.5-2.5 0.5 0.5 0.5-0.5 0.5-4.5 0.5 3 0.5 1 0.5-6 0.5 5 0.5-3 0.5 4.5 0.5 2.5 0.5 5.5 0.5-4 0.5 10.5 0.5 2.5 0.5-5.5 0.5-1.5 0.5-3 0.5-8 0.5-1.5 0.5-5 0.5-1.5 0.5-6.5 0.5 2.5 0.5 1 0.5 2 0.5 14 0.5-0.5 0.5 10 0.5 0 0.5 3.5 0.5 11.5 0.5 0.5 0.5 0 0.5 0 0.5 0 0.5 0 0.5 0 0.5 0 0.5-0.5 0.5-2 0.5-1 0.5 1 0.5-0.5 0.5-1.5 0.5-1 0.5-1 0.5-6 0.5-4 0.5 7 0.5-11.5 0.5 1 0.5-5 0.5 1 0.5-10.5 0.5 2.5 0.5 2 0.5 14.5 0.5 5 0.5 7.5 0.5 1 0.5 2 0.5 0 0.5 0 0.5 0 0.5 0 0.5-2 0.5-2 0.5-5.5 0.5-2.5 0.5-4.5 0.5-2 0.5 0.5 0.5-4.5 0.5 0.5 0.5-4.5 0.5 4.5 0.5 4.5 0.5 9 0.5 8.5 0.5 0 0.5 0 0.5 0 0.5-2 0.5-1 0.5 1 0.5-7.5 0.5 9.5 0.5 0 0.5 0 0.5 0 0.5 0 0.5 0 0.5 0 0.5 0 0.5 0 0.5 0 0.5 0 0.5 0 0.5 0 0.5 0 0.5 0 0.5 0 0.5 0 0.5 0 0.5 0 0.5 0 0.5 0 0.5 0 0.5 0 0.5 0 0.5 0 0.5 0 0.5 0 0.5 0 0.5 0 0.5 0 0.5 0 0.5 0 0.5 0 0.5 0 0.5 0 0.5 0 0.5 0 0.5 0 0.5 0 0.5 0 0.5 0 0.5 0 0.5 0 0.5 0 0.5 0 0.5 0 0.5 0 0.5 0 0.5 0 0.5 0 0.5 0 0.5 0 0.5 0 0.5 0 0.5 0 0.5 0 0.5 0 0.5 0 0.5 0 0.5 0 0.5 0 0.5 0 0.5 0 0.5 0 0.5 0 0.5 0 0.5 0 0.5 0 0.5 0 0.5 0 0.5 0 0.5 0 0.5 0 0.5 0 0.5 0 0.5 0 0.5 0 0.5 0 0.5 0 0.5 0 0.5 0 0.5 0 0.5 0 0.5 0 0.5 0 0.5 0 0.5 0 0.5 0 0.5 0 0.5 0 0.5 0 0.5 0 0.5 0 0.5 0 0.5 0 0.5 0 0.5 0 0.5 0 0.5 0 0.5 0 0.5 0 0.5 0 0.5 0 0.5 0 0.5 0 0.5 0 0.5-3.5 0.5 0 0.5-2 0.5-7 0.5-0.5 0.5-5.5 0.5 2.5 0.5 2.5 0.5-2.5 0.5-2 0.5 1.5 0.5-4.5 0.5-4 0.5 9 0.5 2 0.5 5.5 0.5 0 0.5 8.5 0.5 0 0.5 0 0.5 0 0.5 0 0.5 0 0.5 0 0.5 0 0.5 0 0.5 0 0.5 0 0.5 0 0.5 0 0.5 0 0.5 0 0.5 0 0.5 0 0.5 0 0.5 0 0.5 0 0.5 0 0.5 0 0.5 0 0.5 0 0.5 0 0.5 0 0.5 0 0.5 0 0.5 0 0.5 0 0.5 0 0.5 0 0.5 0 0.5 0 0.5 0 0.5 0 0.5 0 0.5 0 0.5 0 0.5 0 0.5 0 0.5 0 0.5 0 0.5 0 0.5 0 0.5 0 0.5 0 0.5 0 0.5 0 0.5 0 0.5 0 0.5 0 0.5 0 0.5 0 0.5 0 0.5 0 0.5 0 0.5 0 0.5 0 0.5 0 0.5 0 0.5 0 0.5 0 0.5 0 0.5 0 0.5 0 0.5 0 0.5 0 0.5 0 0.5 0 0.5 0 0.5 0 0.5 0 0.5 0 0.5 0 0.5 0 0.5 0 0.5 0 0.5 0 0.5 0 0.5 0 0.5 0 0.5 0 0.5 0 0.5 0 0.5 0 0.5 0 0.5 0 0.5 0 0.5 0 0.5 0 0.5 0 0.5 0 0.5 0 0.5 0 0.5 0 0.5 0 0.5 0 0.5 0 0.5 0 0.5 0 0.5 0 0.5 0 0.5 0 0.5 0 0.5 0 0.5 0 0.5 0 0.5 0 0.5 0 0.5 0 0.5 0 0.5 0 0.5 0 0.5 0 0.5 0 0.5 0 0.5 0 0.5 0 0.5 0 0.5 0 0.5 0 0.5 0 0.5 0 0.5 0 0.5 0 0.5 0 0.5 0 0.5 0 0.5 0 0.5 0 0.5 0 0.5 0 0.5 0 0.5 0 0.5 0 0.5 0 0.5 0 0.5 0 0.5 0 0.5 0 0.5 0 0.5 0 0.5 0 0.5 0 0.5 0 0.5 0 0.5 0 0.5 0 0.5 0 0.5 0 0.5 0 0.5 0 0.5 0 0.5 0 0.5 0 0.5 0 0.5-0.5 0.5-4.5 0.5-15 0.5-9.5 0.5-12 0.5-5.5 0.5-6 0.5-6 0.5-7 0.5-4 0.5 3.5 0.5 4.5 0.5 9.5 0.5-1 0.5 6.5 0.5 2 0.5 8.5 0.5 6.5 0.5 6 0.5 13 0.5 6.5 0.5 4.5 0.5 0 0.5 0 0.5 0 0.5 0 0.5 0 0.5 0 0.5 0 0.5 0 0.5 0 0.5 0 0.5 0 0.5-1.5 0.5 0.5 0.5 1 0.5-3 0.5 0.5 0.5-4 0.5-9.5 0.5-11.5 0.5-10.5 0.5 2.5 0.5 6 0.5 4.5 0.5 10 0.5 2.5 0.5 2 0.5 1.5 0.5 7.5 0.5 1.5 0.5 0 0.5 0 0.5 0 0.5 0 0.5 0 0.5 0 0.5 0 0.5 0 0.5 0 0.5 0 0.5 0 0.5 0 0.5 0 0.5 0 0.5 0 0.5 0 0.5 0 0.5 0 0.5 0 0.5 0 0.5 0 0.5 0 0.5 0 0.5 0 0.5 0 0.5 0 0.5 0 0.5 0 0.5 0 0.5 0 0.5 0 0.5 0 0.5 0 0.5 0 0.5 0 0.5 0 0.5 0 0.5 0 0.5 0 0.5 0 0.5 0 0.5 0 0.5 0 0.5 0 0.5 0 0.5 0 0.5 0 0.5 0 0.5 0 0.5 0 0.5 0 0.5 0 0.5 0 0.5 0 0.5 0 0.5 0 0.5 0 0.5 0 0.5 0 0.5 0 0.5 0 0.5 0 0.5 0 0.5 0 0.5 0 0.5 0 0.5 0 0.5 0 0.5 0 0.5 0 0.5 0 0.5 0 0.5 0 0.5 0 0.5 0 0.5 0 0.5 0 0.5 0 0.5 0 0.5 0 0.5 0 0.5 0 0.5 0 0.5 0 0.5 0 0.5 0 0.5 0 0.5 0 0.5 0 0.5 0 0.5 0 0.5 0 0.5 0 0.5 0 0.5 0 0.5 0 0.5 0 0.5 0 0.5 0 0.5 0 0.5 0 0.5 0 0.5 0 0.5 0 0.5 0 0.5 0 0.5 0 0.5 0 0.5 0 0.5 0 0.5 0 0.5 0 0.5 0 0.5 0 0.5 0 0.5 0 0.5 0 0.5 0 0.5 0 0.5 0 0.5 0 0.5 0 0.5 0 0.5 0 0.5 0 0.5 0 0.5 0 0.5 0 0.5 0 0.5 0 0.5 0 0.5 0 0.5 0 0.5 0 0.5 0 0.5 0 0.5 0 0.5 0 0.5 0 0.5 0 0.5 0 0.5 0 0.5 0 0.5 0 0.5 0 0.5 0 0.5 0 0.5 0 0.5 0 0.5 0 0.5 0 0.5 0 0.5 0 0.5 0 0.5 0 0.5 0 0.5 0 0.5 0 0.5 0 0.5 0 0.5 0 0.5 0 0.5 0 0.5 0 0.5 0 0.5 0 0.5 0 0.5 0 0.5 0 0.5 0 0.5 0 0.5 0 0.5 0 0.5 0 0.5 0 0.5 0 0.5 0 0.5 0 0.5 0 0.5 0 0.5 0 0.5 0 0.5 0 0.5 0 0.5 0 0.5 0 0.5 0 0.5 0 0.5 0 0.5 0 0.5 0 0.5 0 0.5 0 0.5 0 0.5 0 0.5 0 0.5 0 0.5 0 0.5 0 0.5 0 0.5 0 0.5 0 0.5 0 0.5 0 0.5 0 0.5 0 0.5 0 0.5 0 0.5 0 0.5 0 0.5 0 0.5 0 0.5 0 0.5 0 0.5 0 0.5 0 0.5 0 0.5 0 0.5 0 0.5 0 0.5 0 0.5 0 0.5 0 0.5 0 0.5 0 0.5 0 0.5 0 0.5 0 0.5 0 0.5 0 0.5 0 0.5 0 0.5 0 0.5 0 0.5 0 0.5 0 0.5 0 0.5 0 0.5 0 0.5 0 0.5 0 0.5 0 0.5 0 0.5 0 0.5 0 0.5 0 0.5 0 0.5 0 0.5 0 0.5 0 0.5 0 0.5 0 0.5 0 0.5 0 0.5 0 0.5 0 0.5 0 0.5 0 0.5 0 0.5 0 0.5 0 0.5 0 0.5 0 0.5 0 0.5 0 0.5 0 0.5 0 0.5 0 0.5 0 0.5 0 0.5 0 0.5 0 0.5 0 0.5 0 0.5 0 0.5 0 0.5 0 0.5 0 0.5 0 0.5 0 0.5 0 0.5 0 0.5 0 0.5 0 0.5 0 0.5 0 0.5 0 0.5 0 0.5 0 0.5 0 0.5 0 0.5 0 0.5 0 0.5-3 0.5 1.5 0.5-3 0.5-1.5 0.5 0 0.5 5.5 0.5-5 0.5 2 0.5-4.5 0.5-1.5 0.5 7 0.5 2.5 0.5 0 0.5 0 0.5 0 0.5 0 0.5 0 0.5 0 0.5 0 0.5 0 0.5 0 0.5 0 0.5 0 0.5 0 0.5 0 0.5 0 0.5 0 0.5 0 0.5 0 0.5 0 0.5 0 0.5 0 0.5 0 0.5 0 0.5 0 0.5 0 0.5 0 0.5 0 0.5 0 0.5 0 0.5 0 0.5 0 0.5 0 0.5 0 0.5 0 0.5 0 0.5 0 0.5 0 0.5 0 0.5 0 0.5 0 0.5 0 0.5 0 0.5 0 0.5 0 0.5 0 0.5 0 0.5 0 0.5 0 0.5 0 0.5 0 0.5 0 0.5 0 0.5-2 0.5-3 0.5 1 0.5 4 0.5 0 0.5 0 0.5 0 0.5 0 0.5 0 0.5 0 0.5 0 0.5 0 0.5 0 0.5 0 0.5 0 0.5 0 0.5 0 0.5 0 0.5 0 0.5 0 0.5 0 0.5 0 0.5 0 0.5 0 0.5 0 0.5 0 0.5 0 0.5 0 0.5 0 0.5 0 0.5 0 0.5 0 0.5 0 0.5 0 0.5 0 0.5 0 0.5 0 0.5 0 0.5 0 0.5 0 0.5 0 0.5 0 0.5 0 0.5 0 0.5 0 0.5 0 0.5 0 0.5 0 0.5 0 0.5 0 0.5 0 0.5 0 0.5 0 0.5 0 0.5 0 0.5 0 0.5 0 0.5 0 0.5 0 0.5 0 0.5 0 0.5 0 0.5 0 0.5 0 0.5 0 0.5 0 0.5 0 0.5 0 0.5 0 0.5 0 0.5 0 0.5 0 0.5-5.5 0.5-3 0.5-9 0.5-5.5 0.5-8 0.5-10.5 0.5-1 0.5-9.5 0.5-3 0.5-2.5 0.5-4 0.5-7.5 0.5 2 0.5 13 0.5 2 0.5 16 0.5 4.5 0.5 11.5 0.5 4 0.5 16 0.5 0 0.5 0 0.5 0 0.5 0 0.5 0 0.5 0 0.5 0 0.5 0 0.5 0 0.5 0 0.5 0 0.5-1 0.5-4.5 0.5-2 0.5-9.5 0.5 3 0.5 4 0.5 5.5 0.5 4.5 0.5 0 0.5 0 0.5 0 0.5 0 0.5 0 0.5 0 0.5 0 0.5 0 0.5 0 0.5 0 0.5 0 0.5 0 0.5 0 0.5 0 0 0z" fill="#0a3fd9"/>
<line x1="112" y1="960" x2="658.5" y2="960" stroke="#333" stroke-width="1.4"/>
<line x1="112" y1="926.4" x2="658.5" y2="926.4" stroke="#555" stroke-width="1.4" stroke-dasharray="20 12"/>
<line x1="112" y1="993.8" x2="658.5" y2="993.8" stroke="#555" stroke-width="1.4" stroke-dasharray="20 12"/>
<path d="M112 1000.5l0.5-2.5 0.5-2 0.5-4 0.5-8.5 0.5 3.5 0.5 4.5 0.5 17 0.5 12 0.5 16 0.5-2.5 0.5 0.5 0.5 1.5 0.5 2.5 0.5-1 0.5 7.5 0.5-2.5 0.5 5.5 0.5-5.5 0.5 6 0.5 2 0.5 7 0.5-0.5 0.5 9 0.5-6 0.5-2 0.5-3 0.5-1.5 0.5-7 0.5 6.5 0.5-11.5 0.5 0 0.5 7.5 0.5 6 0.5-2 0.5 7 0.5 2 0.5-3.5 0.5-1.5 0.5 9 0.5 7 0.5 1.5 0.5 5.5 0.5 4 0.5-1.5 0.5-8.5 0.5-5.5 0.5-9 0.5 7.5 0.5 12.5 0.5 6.5 0.5 11 0.5 8 0.5 10 0.5 6 0.5-11 0.5 3.5 0.5-1 0.5-9 0.5-3.5 0.5-3 0.5-4 0.5 5.5 0.5-8 0.5 4.5 0.5-9.5 0.5-3 0.5-7 0.5-1.5 0.5-6.5 0.5-0.5 0.5-7.5 0.5 0.5 0.5 1.5 0.5-11.5 0.5-0.5 0.5 2 0.5-10.5 0.5-11 0.5-11 0.5-1 0.5-19 0.5 0 0.5-11 0.5 5.5 0.5-10.5 0.5 0.5 0.5-3.5 0.5 1.5 0.5-4.5 0.5 0.5 0.5-7.5 0.5 0 0.5-2 0.5-11 0.5-5.5 0.5-8 0.5-4.5 0.5 5 0.5 4.5 0.5 6 0.5-2.5 0.5-0.5 0.5-7 0.5-4.5 0.5-3.5 0.5-6.5 0.5 4 0.5-11 0.5-7 0.5-2 0.5-1.5 0.5-4.5 0.5-9.5 0.5 2 0.5-5.5 0.5 7.5 0.5 8 0.5 2.5 0.5-1 0.5 7.5 0.5 8.5 0.5-1 0.5 9.5 0.5 0.5 0.5-1.5 0.5-6.5 0.5-3.5 0.5-6.5 0.5-8 0.5 7.5 0.5-1 0.5 3.5 0.5 2.5 0.5 1.5 0.5 5.5 0.5-0.5 0.5 10 0.5 1.5 0.5-2 0.5 1.5 0.5 6 0.5-3 0.5-1.5 0.5 5 0.5 1 0.5-4.5 0.5 2 0.5-4 0.5 3.5 0.5-4 0.5 0 0.5 1.5 0.5-9.5 0.5-6.5 0.5-1.5 0.5-16 0.5 5.5 0.5-8 0.5 3 0.5 0.5 0.5-7 0.5-2 0.5 5.5 0.5-9 0.5 8 0.5 5.5 0.5 4 0.5 14.5 0.5 4.5 0.5-4.5 0.5-7 0.5-6.5 0.5-7 0.5-17 0.5 6 0.5-4.5 0.5-8 0.5 4.5 0.5-8 0.5-1 0.5-2 0.5-1 0.5-0.5 0.5 4 0.5 12 0.5 6.5 0.5 7.5 0.5 5.5 0.5 3 0.5-3.5 0.5 0.5 0.5-0.5 0.5-4 0.5-9 0.5-2.5 0.5 0.5 0.5-0.5 0.5-4.5 0.5 3 0.5 1 0.5-6 0.5 5 0.5-3 0.5 4.5 0.5 2.5 0.5 5.5 0.5-4 0.5 10.5 0.5 2.5 0.5-5.5 0.5-1.5 0.5-3 0.5-8 0.5-1.5 0.5-5 0.5-1.5 0.5-6.5 0.5 2.5 0.5 1 0.5 2 0.5 14 0.5-0.5 0.5 10 0.5 0 0.5 3.5 0.5 11.5 0.5 8.5 0.5 2.5 0.5 7 0.5 1 0.5-13.5 0.5-2 0.5 2 0.5-5.5 0.5-2 0.5-1 0.5 1 0.5-0.5 0.5-1.5 0.5-1 0.5-1 0.5-6 0.5-4 0.5 7 0.5-11.5 0.5 1 0.5-5 0.5 1 0.5-10.5 0.5 2.5 0.5 2 0.5 14.5 0.5 5 0.5 7.5 0.5 1 0.5 9 0.5 0 0.5 2 0.5-4 0.5-2 0.5-5 0.5-2 0.5-5.5 0.5-2.5 0.5-4.5 0.5-2 0.5 0.5 0.5-4.5 0.5 0.5 0.5-4.5 0.5 4.5 0.5 4.5 0.5 9 0.5 9 0.5 8 0.5-6 0.5 0.5 0.5-5 0.5-1 0.5 1 0.5-7.5 0.5 9.5 0.5 1 0.5 5.5 0.5-3 0.5 7.5 0.5-0.5 0.5-1 0.5 2 0.5 3.5 0.5-6.5 0.5 5 0.5 5.5 0.5 2 0.5 13 0.5 1.5 0.5 4.5 0.5 12.5 0.5 5 0.5 2.5 0.5 7 0.5-3 0.5 7.5 0.5 7.5 0.5 8.5 0.5-5 0.5 7 0.5-2.5 0.5 1 0.5 6 0.5-2 0.5 3.5 0.5 3 0.5-5 0.5 2.5 0.5-3.5 0.5 0 0.5-0.5 0.5 2 0.5 1.5 0.5-2.5 0.5 13.5 0.5-8 0.5 10.5 0.5-3 0.5 8 0.5-0.5 0.5 6.5 0.5 6.5 0.5-6 0.5 1.5 0.5 7 0.5-3 0.5 3.5 0.5 4.5 0.5-4 0.5-7 0.5-11 0.5-5 0.5-13 0.5-3.5 0.5-1 0.5 6.5 0.5 4 0.5 4.5 0.5-0.5 0.5 11 0.5 2 0.5-1.5 0.5-13.5 0.5-11 0.5-12.5 0.5-12.5 0.5-10.5 0.5-9 0.5-1.5 0.5-5.5 0.5-1.5 0.5 4.5 0.5-12.5 0.5 6 0.5-5 0.5-1 0.5-4.5 0.5 3.5 0.5-4.5 0.5 3 0.5 2.5 0.5 6.5 0.5 2 0.5 5.5 0.5 10 0.5 5 0.5 4 0.5-8 0.5-7.5 0.5-1.5 0.5-8 0.5-4 0.5-12.5 0.5-8.5 0.5 4 0.5-1.5 0.5-10 0.5-3 0.5-2.5 0.5 4.5 0.5-8 0.5 0 0.5-2 0.5-7 0.5-0.5 0.5-5.5 0.5 2.5 0.5 2.5 0.5-2.5 0.5-2 0.5 1.5 0.5-4.5 0.5-4 0.5 9 0.5 2 0.5 5.5 0.5 0 0.5 12 0.5 1 0.5 3 0.5 6 0.5 0.5 0.5 9 0.5-1.5 0.5 6 0.5-4.5 0.5 10 0.5 9 0.5-1.5 0.5 5 0.5 2 0.5 3.5 0.5 2 0.5-5 0.5 6.5 0.5-6.5 0.5 5.5 0.5-9.5 0.5-5.5 0.5-4.5 0.5-10.5 0.5-3.5 0.5-4.5 0.5 3.5 0.5 0 0.5 3.5 0.5 4.5 0.5 2 0.5 0 0.5 3.5 0.5 1 0.5-2 0.5 8 0.5 2 0.5 0.5 0.5 2.5 0.5 2 0.5 0.5 0.5 5 0.5-6 0.5 8 0.5 4.5 0.5 0.5 0.5-2 0.5 9.5 0.5-3.5 0.5 2 0.5-1.5 0.5 0 0.5 1 0.5-1 0.5 6 0.5-5.5 0.5 2.5 0.5-1 0.5 2.5 0.5 0.5 0.5-6.5 0.5-4 0.5 0.5 0.5-6 0.5 7.5 0.5-5 0.5-2.5 0.5-2 0.5-3 0.5-1.5 0.5-1 0.5-2 0.5 3.5 0.5 1 0.5 4 0.5 1.5 0.5 5 0.5-1.5 0.5 7 0.5 1 0.5 9 0.5 11.5 0.5 13.5 0.5 6 0.5 15.5 0.5 3 0.5 12 0.5-9 0.5 5.5 0.5-10.5 0.5 1.5 0.5-6 0.5-0.5 0.5-0.5 0.5 1 0.5 8 0.5 11.5 0.5-7 0.5 10.5 0.5 1 0.5 5.5 0.5 4.5 0.5 4 0.5-1.5 0.5 4 0.5 3 0.5-2.5 0.5 8.5 0.5-1 0.5-0.5 0.5 6 0.5-0.5 0.5-7.5 0.5-1.5 0.5-6 0.5-4.5 0.5 2 0.5-10 0.5 1.5 0.5-8 0.5-2 0.5 1 0.5-3.5 0.5-1.5 0.5-7.5 0.5-0.5 0.5-7.5 0.5-9 0.5-3 0.5-7.5 0.5-7 0.5-12.5 0.5-5 0.5-11 0.5-3 0.5-5.5 0.5 1 0.5-4 0.5-5.5 0.5-2.5 0.5 5 0.5 2.5 0.5 13 0.5 11.5 0.5 8.5 0.5-6.5 0.5-7.5 0.5-13.5 0.5-10.5 0.5-3.5 0.5-10 0.5-0.5 0.5 4 0.5-5 0.5-11 0.5-2.5 0.5-10.5 0.5-4 0.5-4.5 0.5-15 0.5-9.5 0.5-12 0.5-5.5 0.5-6 0.5-6 0.5-7 0.5-4 0.5 3.5 0.5 4.5 0.5 9.5 0.5-1 0.5 6.5 0.5 2 0.5 8.5 0.5 6.5 0.5 6 0.5 13 0.5 6.5 0.5 14 0.5 0 0.5 17 0.5 6.5 0.5-2 0.5-5 0.5-2 0.5-5.5 0.5-9.5 0.5 4 0.5-6 0.5-4 0.5-4.5 0.5 0.5 0.5 4 0.5-6 0.5 0.5 0.5-4 0.5-9.5 0.5-11.5 0.5-10.5 0.5 2.5 0.5 6 0.5 4.5 0.5 10 0.5 2.5 0.5 2 0.5 1.5 0.5 7.5 0.5 4 0.5 9 0.5-1.5 0.5 11.5 0.5-10.5 0.5 11.5 0.5 5 0.5 9 0.5 9.5 0.5 11 0.5 0.5 0.5 7.5 0.5 2 0.5 5 0.5 6 0.5 1 0.5-9.5 0.5-9 0.5-1 0.5-6 0.5-6.5 0.5 6.5 0.5-2.5 0.5 5 0.5 2.5 0.5 6 0.5 5 0.5 2.5 0.5 8 0.5 2.5 0.5 4 0.5 7.5 0.5-1 0.5 2.5 0.5-1.5 0.5-5 0.5-1.5 0.5 2 0.5-8.5 0.5 9.5 0.5 0.5 0.5 9 0.5 14.5 0.5 5 0.5-1.5 0.5 0 0.5-4 0.5-2.5 0.5 0 0.5 2.5 0.5-6.5 0.5 5.5 0.5-3 0.5 9 0.5-3 0.5 6.5 0.5 7.5 0.5-0.5 0.5-4 0.5-6.5 0.5-5 0.5-3 0.5 1 0.5 2.5 0.5 7 0.5 7 0.5 7.5 0.5 8.5 0.5 1 0.5-9.5 0.5 8.5 0.5-9 0.5-2.5 0.5 3 0.5-15.5 0.5-4 0.5 2 0.5-6 0.5-0.5 0.5-3.5 0.5 0 0.5-9 0.5-4.5 0.5-6 0.5 1 0.5-9 0.5 9 0.5 3 0.5 12 0.5 6.5 0.5 6 0.5-1.5 0.5-2.5 0.5-10.5 0.5-4 0.5-6 0.5 1.5 0.5-8.5 0.5 5.5 0.5 5.5 0.5 3 0.5 11.5 0.5-2 0.5-5.5 0.5-1.5 0.5-8 0.5-3.5 0.5 2 0.5-5.5 0.5-5.5 0.5-3.5 0.5-2.5 0.5-3 0.5-0.5 0.5 2 0.5 11.5 0.5-2 0.5 2 0.5 1.5 0.5-14 0.5-5 0.5-15.5 0.5-9 0.5-16.5 0.5 4.5 0.5 0 0.5 10.5 0.5 2 0.5 3.5 0.5 7.5 0.5 9.5 0.5-3 0.5 3 0.5 10.5 0.5 4 0.5-2.5 0.5-10 0.5-9 0.5-5 0.5-4 0.5-3 0.5-1.5 0.5-8 0.5 2.5 0.5-4 0.5-0.5 0.5-4 0.5 3 0.5 4.5 0.5 4 0.5 13.5 0.5-5.5 0.5 9.5 0.5 4.5 0.5-3 0.5-3.5 0.5-0.5 0.5-7 0.5 1.5 0.5-1.5 0.5 2.5 0.5-6 0.5 4 0.5-5 0.5 4.5 0.5-4 0.5 7 0.5-7.5 0.5 10.5 0.5 0 0.5-8 0.5-7 0.5-1 0.5-11 0.5 2.5 0.5-4 0.5 5.5 0.5 6 0.5 10 0.5 3 0.5 4.5 0.5 6 0.5 1 0.5 5 0.5-5.5 0.5 3 0.5 8.5 0.5 6.5 0.5-1 0.5 5.5 0.5-5 0.5 4.5 0.5-0.5 0.5 1.5 0.5-5 0.5 7 0.5 1 0.5 9.5 0.5 13 0.5-1 0.5 5 0.5-4 0.5-6.5 0.5 3 0.5 2.5 0.5-7 0.5-2 0.5-0.5 0.5-6 0.5 7 0.5-0.5 0.5 5.5 0.5-4 0.5 10.5 0.5-1 0.5 1.5 0.5-5.5 0.5-1.5 0.5-3.5 0.5-8.5 0.5-9.5 0.5 0 0.5-8 0.5 4.5 0.5 7 0.5 16.5 0.5 0 0.5 13.5 0.5 10 0.5 9.5 0.5 1.5 0.5 7.5 0.5-8.5 0.5 2 0.5-12 0.5 6.5 0.5-10.5 0.5 1 0.5-2.5 0.5-4.5 0.5-9 0.5-3 0.5-5.5 0.5-0.5 0.5-5 0.5-1.5 0.5-3 0.5-4 0.5-2.5 0.5-2.5 0.5-2.5 0.5-5.5 0.5-5 0.5-8.5 0.5-2 0.5-1.5 0.5-2.5 0.5-0.5 0.5-2.5 0.5-4 0.5-3.5 0.5 1.5 0.5 2.5 0.5-3 0.5 2 0.5 9.5 0.5 3 0.5 2 0.5-1 0.5 2.5 0.5-3 0.5-3 0.5 2.5 0.5-6 0.5 1 0.5 2.5 0.5 12 0.5 4.5 0.5 4 0.5 3 0.5 5 0.5-19 0.5-7.5 0.5-15 0.5-6.5 0.5-16 0.5-3 0.5-7.5 0.5 6.5 0.5-5.5 0.5 1.5 0.5-9.5 0.5 0.5 0.5 1 0.5-9 0.5 1.5 0.5-3 0.5-1.5 0.5 0 0.5 5.5 0.5-5 0.5 2 0.5-4.5 0.5-1.5 0.5 7 0.5 10.5 0.5 4.5 0.5 4.5 0.5 5.5 0.5 2.5 0.5 6 0.5-1 0.5 11.5 0.5-2.5 0.5-3.5 0.5-7.5 0.5 3.5 0.5-10.5 0.5-1.5 0.5-4 0.5 0.5 0.5 5.5 0.5 1.5 0.5 4 0.5-3.5 0.5 1.5 0.5 3 0.5-7.5 0.5 3.5 0.5-4 0.5 8.5 0.5 1 0.5 3.5 0.5 6.5 0.5 3.5 0.5 7.5 0.5 4.5 0.5 2.5 0.5 1.5 0.5 13 0.5-7 0.5-9.5 0.5-0.5 0.5-9.5 0.5-2 0.5-9 0.5-4.5 0.5-9 0.5-2.5 0.5-6.5 0.5-0.5 0.5-0.5 0.5-7 0.5 0.5 0.5-0.5 0.5-0.5 0.5-3.5 0.5-2 0.5-3 0.5 1 0.5 10.5 0.5-1.5 0.5 10 0.5 7.5 0.5 1 0.5-3.5 0.5 6.5 0.5 9.5 0.5-0.5 0.5 11.5 0.5-3.5 0.5 2 0.5 10.5 0.5 0 0.5 5.5 0.5-2 0.5 1 0.5 3 0.5 1.5 0.5 8.5 0.5 2 0.5-1 0.5 4.5 0.5-0.5 0.5-6.5 0.5-12 0.5 3.5 0.5-15 0.5 2 0.5-9 0.5-7 0.5-4.5 0.5-5 0.5 3.5 0.5-3 0.5 0 0.5-4.5 0.5-4.5 0.5-0.5 0.5 6 0.5 6 0.5 1.5 0.5 4.5 0.5 5.5 0.5 5 0.5 6.5 0.5 4.5 0.5 7.5 0.5 0.5 0.5 7.5 0.5 6.5 0.5 3 0.5 4 0.5 8.5 0.5 2 0.5 8.5 0.5-2.5 0.5-4 0.5-5.5 0.5-10.5 0.5-10 0.5-4.5 0.5-11.5 0.5-13 0.5-2.5 0.5-11 0.5-9.5 0.5-9.5 0.5-8.5 0.5-6.5 0.5-3 0.5-9 0.5-5.5 0.5-8 0.5-10.5 0.5-1 0.5-9.5 0.5-3 0.5-2.5 0.5-4 0.5-7.5 0.5 2 0.5 13 0.5 2 0.5 16 0.5 4.5 0.5 11.5 0.5 4 0.5 21.5 0.5-0.5 0.5 5 0.5-1 0.5 3.5 0.5-1.5 0.5 0.5 0.5 10.5 0.5-0.5 0.5-9 0.5 2.5 0.5-9.5 0.5-6.5 0.5-4.5 0.5-2 0.5-9.5 0.5 3 0.5 4 0.5 5.5 0.5 4.5 0.5 4.5 0.5 4 0.5 2.5 0.5 6 0.5 0.5 0.5-2.5 0.5 9.5 0.5-7 0.5 4 0.5-8.5 0.5 9.5 0.5 2 0.5 3 0.5 1" fill="none" stroke="#000" stroke-width="1.7" stroke-linejoin="round"/>
<line x1="112" y1="1243.2" x2="658.5" y2="1243.2" stroke="#000" stroke-width="1.5"/>
<path d="M112 1223.5l0.5 10 0.5-1 0.5 10.5 0.5 5 0.5 1.5 0.5 7.5 0.5-3 0.5-3 0.5-1.5 0.5-4 0.5 7 0.5-8 0.5 6.5 0.5-10.5 0.5-0.5 0.5-2 0.5 5.5 0.5-7.5 0.5 8 0.5-8 0.5 2.5 0.5-7.5 0.5 14.5 0.5-7.5 0.5 4.5 0.5 7 0.5-0.5 0.5 7 0.5-4 0.5 7.5 0.5-4 0.5 0.5 0.5 5 0.5 0 0.5 9 0.5-3 0.5 3 0.5-2 0.5-2 0.5 6 0.5 10 0.5 3 0.5 4.5 0.5 9.5 0.5 9.5 0.5 2.5 0.5 9 0.5-14 0.5-0.5 0.5-0.5 0.5 1 0.5-7 0.5-4 0.5-2 0.5 1 0.5 2 0.5-7 0.5 5.5 0.5-1 0.5 4 0.5 0.5 0.5-3 0.5 12 0.5-11 0.5-1 0.5 2 0.5 3.5 0.5-0.5 0.5 2 0.5 0 0.5 6 0.5-3.5 0.5 6 0.5-0.5 0.5 3 0.5 1 0.5-7.5 0.5 3 0.5-4 0.5-0.5 0.5-8 0.5 5.5 0.5-7 0.5-2 0.5 5 0.5-13 0.5 3.5 0.5-3.5 0.5-1 0.5-6.5 0.5 6 0.5-5.5 0.5-6.5 0.5-5 0.5-4.5 0.5-4 0.5 6 0.5-14.5 0.5 8 0.5-10.5 0.5 3 0.5-2 0.5 8 0.5 3 0.5 13.5 0.5 1 0.5 6.5 0.5 5.5 0.5 12 0.5-2.5 0.5 2.5 0.5-7 0.5-10 0.5 7 0.5-17.5 0.5 11 0.5-15 0.5 8 0.5-5 0.5-3.5 0.5 0 0.5 7.5 0.5-8.5 0.5 5.5 0.5 7.5 0.5-7.5 0.5 7 0.5-4 0.5-3.5 0.5 2.5 0.5 2 0.5 0 0.5 2.5 0.5-0.5 0.5 2 0.5 2.5 0.5-1 0.5 5.5 0.5 1.5 0.5 9 0.5 3.5 0.5 0 0.5-3.5 0.5 5 0.5 4 0.5 3.5 0.5-3.5 0.5 1.5 0.5-5 0.5-8.5 0.5 1.5 0.5-7.5 0.5 0.5 0.5 1.5 0.5-2 0.5-4 0.5-2.5 0.5-4.5 0.5 2 0.5-7.5 0.5 1 0.5-5.5 0.5-7 0.5-10 0.5-2.5 0.5-5 0.5-7.5 0.5-7.5 0.5 5 0.5-0.5 0.5 3 0.5 1 0.5-1 0.5 8.5 0.5-0.5 0.5-0.5 0.5-0.5 0.5-3.5 0.5-1.5 0.5-8.5 0.5-3.5 0.5 12.5 0.5-13 0.5 3.5 0.5-0.5 0.5-5.5 0.5 5.5 0.5-4 0.5 10 0.5-5 0.5 12.5 0.5 0.5 0.5 4 0.5 3.5 0.5-6 0.5-2 0.5-1 0.5-8 0.5 4.5 0.5-10.5 0.5-0.5 0.5-5.5 0.5-2 0.5-5 0.5-2.5 0.5-5.5 0.5-3.5 0.5 3.5 0.5-5.5 0.5 1 0.5-3 0.5-6.5 0.5 7.5 0.5-5.5 0.5 5 0.5-5 0.5 1.5 0.5 0.5 0.5-2.5 0.5-4 0.5 4 0.5-3 0.5-1.5 0.5 2 0.5-3 0.5 10.5 0.5-1 0.5-1 0.5 8.5 0.5 0 0.5-0.5 0.5 6.5 0.5 4 0.5 4.5 0.5 5 0.5 0.5 0.5 6.5 0.5 2.5 0.5 2.5 0.5-0.5 0.5 5 0.5 3.5 0.5 1 0.5-1 0.5-1.5 0.5 7 0.5 2 0.5 1 0.5 2.5 0.5-2.5 0.5 4.5 0.5 0.5 0.5 1 0.5 10 0.5-1 0.5 11 0.5-5.5 0.5-1.5 0.5 2 0.5-3.5 0.5 3.5 0.5-3.5 0.5 3.5 0.5 0 0.5 3 0.5-0.5 0.5-0.5 0.5-3 0.5 3 0.5-9 0.5 4.5 0.5-8 0.5-3 0.5 7 0.5-8 0.5 3.5 0.5-5.5 0.5-3.5 0.5 0.5 0.5-6 0.5 5.5 0.5-10.5 0.5-6 0.5-1.5 0.5-7.5 0.5-11.5 0.5 4.5 0.5 3.5 0.5-4 0.5 2.5 0.5-2 0.5-7.5 0.5 4.5 0.5-2.5 0.5 1 0.5-6.5 0.5 2 0.5-4 0.5-1.5 0.5 0 0.5-6 0.5 4 0.5-3.5 0.5-4 0.5-8.5 0.5 7.5 0.5-4.5 0.5-2.5 0.5-8 0.5 6 0.5-13 0.5-7 0.5 2 0.5-6.5 0.5-5.5 0.5-3.5 0.5-5 0.5-1 0.5-9.5 0.5-0.5 0.5 0 0.5-4.5 0.5-4 0.5 4 0.5-6.5 0.5 1 0.5 0.5 0.5-7.5 0.5 5.5 0.5 0.5 0.5-5 0.5 5 0.5 7.5 0.5 0.5 0.5-4 0.5 10 0.5-1 0.5 0 0.5 5.5 0.5-2 0.5 4 0.5 0.5 0.5 0.5 0.5-2.5 0.5-1.5 0.5-1 0.5 2 0.5-4.5 0.5-7 0.5 5.5 0.5 3.5 0.5 7.5 0.5-0.5 0.5 3 0.5 3 0.5 4.5 0.5 5.5 0.5 3 0.5 6.5 0.5 5.5 0.5-6.5 0.5 1.5 0.5-9 0.5 8 0.5-3.5 0.5-2 0.5 4.5 0.5-9 0.5 0.5 0.5-0.5 0.5 2.5 0.5-3 0.5 11.5 0.5 0.5 0.5 9 0.5-1 0.5 7 0.5 4 0.5 2 0.5 5.5 0.5 2 0.5 4 0.5 8.5 0.5 6.5 0.5 6.5 0.5 5.5 0.5 9 0.5 4 0.5-3 0.5 10.5 0.5-1.5 0.5 2.5 0.5 0 0.5-8 0.5 6.5 0.5-6 0.5 5.5 0.5-0.5 0.5 0 0.5 4.5 0.5-9 0.5 3 0.5 0 0.5 2.5 0.5-10.5 0.5 10.5 0.5-10 0.5 2 0.5 0.5 0.5 0 0.5 3.5 0.5-4.5 0.5-3 0.5 3.5 0.5-4 0.5 2 0.5-1 0.5 2 0.5 9.5 0.5-7 0.5 6.5 0.5-4 0.5 4.5 0.5-5.5 0.5 5 0.5-9.5 0.5 1.5 0.5 3.5 0.5-4 0.5-3.5 0.5-11.5 0.5 5.5 0.5-4.5 0.5-3.5 0.5-5 0.5-1.5 0.5-0.5 0.5-7 0.5-4.5 0.5-5 0.5 1.5 0.5-9.5 0.5 8 0.5-7.5 0.5-3 0.5-0.5 0.5-7.5 0.5-1 0.5-8 0.5-3.5 0.5 10.5 0.5-3 0.5-2.5 0.5 18.5 0.5-8 0.5 15.5 0.5 1 0.5 3 0.5 5 0.5 3.5 0.5 7 0.5-5 0.5 7 0.5-4.5 0.5-1 0.5 5 0.5 1 0.5 2 0.5 4 0.5-4 0.5 9 0.5-5 0.5 8 0.5-6.5 0.5 8.5 0.5 0.5 0.5 0 0.5 0.5 0.5 0 0.5 7.5 0.5 1.5 0.5-1.5 0.5 8 0.5 3.5 0.5-4 0.5 5.5 0.5-10.5 0.5 2.5 0.5-10.5 0.5 3 0.5-3.5 0.5-5 0.5 1 0.5-2 0.5 4.5 0.5-11.5 0.5 0.5 0.5-0.5 0.5 10.5 0.5-12 0.5 8.5 0.5-5 0.5-1.5 0.5 2.5 0.5 2.5 0.5 2 0.5-4 0.5 1 0.5-2 0.5-13.5 0.5-4.5 0.5-2.5 0.5-15 0.5 5.5 0.5-8 0.5 3.5 0.5-3 0.5 1.5 0.5-0.5 0.5-7.5 0.5-1.5 0.5 2.5 0.5-7 0.5-4 0.5 11 0.5-1.5 0.5-5 0.5-2 0.5 0 0.5 0 0.5-6 0.5 6.5 0.5 2.5 0.5-2 0.5 10.5 0.5 0.5 0.5 4 0.5-9.5 0.5 5 0.5 3 0.5-3 0.5 2 0.5-11 0.5 11 0.5-6 0.5 7.5 0.5 3.5 0.5 2.5 0.5 0.5 0.5 7 0.5 4.5 0.5 1 0.5 8 0.5 3 0.5 5 0.5-1 0.5 8.5 0.5 0.5 0.5 2.5 0.5 3 0.5-1.5 0.5 0 0.5 1.5 0.5 2 0.5 1.5 0.5-0.5 0.5-2.5 0.5 1.5 0.5 0 0.5 2 0.5-5 0.5 6.5 0.5-3.5 0.5 3 0.5 6.5 0.5-4.5 0.5-2 0.5 6 0.5-4 0.5-0.5 0.5 4 0.5-5.5 0.5 2 0.5-1.5 0.5 3 0.5 1 0.5-3.5 0.5-3 0.5 6.5 0.5 3.5 0.5-1.5 0.5 4.5 0.5-0.5 0.5 3 0.5 2.5 0.5-1 0.5-3 0.5-1 0.5-4 0.5 5.5 0.5-8 0.5 0.5 0.5-3.5 0.5-5.5 0.5 1 0.5-0.5 0.5-7.5 0.5 4.5 0.5-10 0.5-1 0.5 3 0.5-9 0.5-8 0.5-2.5 0.5-3.5 0.5 0 0.5-12.5 0.5 1 0.5 0.5 0.5-3.5 0.5 2.5 0.5 8.5 0.5-10 0.5 7 0.5-2 0.5 4 0.5-1.5 0.5 7.5 0.5-5 0.5 7.5 0.5-7.5 0.5 6.5 0.5-5 0.5 7.5 0.5 2 0.5-8.5 0.5 7.5 0.5-6 0.5 0.5 0.5 4.5 0.5-2.5 0.5 0 0.5 1 0.5 0.5 0.5-1 0.5-5 0.5 6 0.5 4 0.5 7 0.5-2.5 0.5 13 0.5-4 0.5 4 0.5 7 0.5-1 0.5 9.5 0.5-1.5 0.5 9 0.5-8.5 0.5 9 0.5 2 0.5 1.5 0.5 10.5 0.5 6 0.5 2.5 0.5 3.5 0.5 8.5 0.5-2 0.5 12.5 0.5 4.5 0.5 0.5 0.5 10.5 0.5 4 0.5-1 0.5-7 0.5 2.5 0.5-8.5 0.5 2 0.5 4 0.5-5.5 0.5-6 0.5-2 0.5-1 0.5-4.5 0.5-1.5 0.5-1 0.5-4.5 0.5 6 0.5-11 0.5 3 0.5-10.5 0.5 2.5 0.5 0.5 0.5-3.5 0.5 1.5 0.5-5 0.5 3 0.5-2.5 0.5-4 0.5 7.5 0.5-9 0.5 1.5 0.5-2.5 0.5-1.5 0.5 6 0.5-7.5 0.5 8.5 0.5-6 0.5-1.5 0.5 4 0.5-1 0.5-3.5 0.5 2 0.5 1.5 0.5 2 0.5-8 0.5 2.5 0.5-2 0.5-2 0.5-4 0.5 1 0.5-8.5 0.5 7.5 0.5-19.5 0.5 6.5 0.5 4 0.5-1.5 0.5-1.5 0.5-3 0.5 2 0.5 3.5 0.5 1.5 0.5 5.5 0.5-2 0.5 10.5 0.5-1.5 0.5 0 0.5 3 0.5 1.5 0.5 0.5 0.5 3 0.5 2.5 0.5 0.5 0.5 4 0.5-2.5 0.5 2.5 0.5 0.5 0.5 2 0.5-2 0.5 2 0.5 4 0.5-6 0.5-1 0.5 0 0.5 0 0.5 2.5 0.5-6.5 0.5 6 0.5-3.5 0.5 4 0.5 3 0.5 3 0.5 1.5 0.5 0.5 0.5-4.5 0.5 10 0.5 3.5 0.5-4 0.5 6.5 0.5 2.5 0.5-3.5 0.5 13.5 0.5-5.5 0.5 1.5 0.5-7 0.5-4 0.5-5 0.5 3 0.5-4 0.5 0 0.5-7 0.5-5 0.5 5.5 0.5-5 0.5 1 0.5 3 0.5-7.5 0.5 0.5 0.5-8.5 0.5 5.5 0.5 0.5 0.5-3.5 0.5 8 0.5-4.5 0.5 6.5 0.5-3.5 0.5 10 0.5 1.5 0.5 1.5 0.5 2 0.5-4 0.5 10 0.5-1 0.5 1.5 0.5 7.5 0.5-2 0.5-3 0.5-4 0.5-5.5 0.5 4.5 0.5-2 0.5-3.5 0.5-6 0.5-7 0.5-1.5 0.5-1 0.5-9.5 0.5-6.5 0.5-8 0.5-5.5 0.5-7 0.5-2 0.5-7.5 0.5-4.5 0.5-3.5 0.5 5 0.5-2 0.5 8.5 0.5 6.5 0.5-6.5 0.5 9 0.5-4.5 0.5 2 0.5-4 0.5-9.5 0.5-2 0.5-3.5 0.5-1 0.5 0 0.5-7 0.5 0 0.5-5.5 0.5-3 0.5 5 0.5 3 0.5 4 0.5 1 0.5 0 0.5 6.5 0.5-2 0.5 6 0.5 14 0.5-6.5 0.5-0.5 0.5 5.5 0.5-1 0.5-3 0.5 3 0.5 3.5 0.5 0.5 0.5 3 0.5-2.5 0.5 12 0.5 9 0.5-5 0.5 9.5 0.5-0.5 0.5 7.5 0.5 2 0.5 6.5 0.5-9.5 0.5 8 0.5-8 0.5 7 0.5-0.5 0.5-1.5 0.5 3 0.5 1.5 0.5 0 0.5 3 0.5-4 0.5-0.5 0.5-1 0.5 6.5 0.5 1.5 0.5 4 0.5 5 0.5 2 0.5 6.5 0.5 0 0.5 9 0.5 1 0.5 9 0.5-2 0.5 8.5 0.5 1 0.5-1.5 0.5-5 0.5 0 0.5-4 0.5-5.5 0.5-1 0.5-5 0.5 6.5 0.5-5 0.5-7.5 0.5-2.5 0.5 3.5 0.5-2.5 0.5-6.5 0.5-1 0.5 3 0.5-4.5 0.5-2.5 0.5-2 0.5-9.5 0.5 1 0.5 3.5 0.5-4 0.5 6.5 0.5-17 0.5 8.5 0.5 4.5 0.5-0.5 0.5-4.5 0.5-2 0.5-0.5 0.5 1.5 0.5-5 0.5 6 0.5-1.5 0.5-6 0.5 7 0.5 1 0.5-8 0.5 2 0.5-4.5 0.5-2 0.5-5.5 0.5 5 0.5-5 0.5 5.5 0.5 0 0.5-1.5 0.5-4.5 0.5 2.5 0.5-5.5 0.5 5.5 0.5-9.5 0.5 11.5 0.5-11.5 0.5-0.5 0.5 0.5 0.5-11 0.5 7 0.5-5.5 0.5 5 0.5-3.5 0.5 0.5 0.5 3 0.5 3.5 0.5-1.5 0.5 6.5 0.5-7 0.5-3 0.5 6.5 0.5-1 0.5 0.5 0.5-4.5 0.5-7 0.5 3.5 0.5-4.5 0.5 1.5 0.5-3 0.5 3 0.5-3 0.5 0.5 0.5-8.5 0.5-2.5 0.5 1.5 0.5-1 0.5 4.5 0.5-2 0.5 2.5 0.5-8 0.5 1.5 0.5-11 0.5 8 0.5-4 0.5-4.5 0.5 1 0.5 4 0.5-8 0.5 5 0.5-10 0.5 8 0.5-11 0.5-1.5 0.5-6.5 0.5 11 0.5-5.5 0.5-0.5 0.5 1 0.5-10 0.5 9 0.5-5 0.5-4 0.5 4.5 0.5-3.5 0.5-7.5 0.5 0.5 0.5 4.5 0.5-1.5 0.5-1.5 0.5-4 0.5 4.5 0.5 8.5 0.5-6.5 0.5-1.5 0.5 4 0.5-5.5 0.5 12 0.5-14 0.5 8 0.5 0 0.5 1.5 0.5-1.5 0.5 4 0.5 2.5 0.5-5 0.5 1 0.5-1.5 0.5-1.5 0.5-2.5 0.5-1 0.5 4 0.5-2.5 0.5 10 0.5-1 0.5 0 0.5-6 0.5 6 0.5 8 0.5 1 0.5 2.5 0.5-0.5 0.5-9 0.5 0 0.5-0.5 0.5 6 0.5-9 0.5 0 0.5 4 0.5-9.5 0.5-2.5 0.5-5 0.5-4.5 0.5 4 0.5-6.5 0.5-8 0.5 5 0.5 5 0.5 7.5 0.5-4 0.5 8.5 0.5 1.5 0.5 6 0.5 6 0.5-5 0.5 0.5 0.5 6.5 0.5-9 0.5 8.5 0.5-1 0.5 2 0.5 2 0.5 3.5 0.5-6 0.5 2 0.5 3.5 0.5-3.5 0.5 3.5 0.5 2.5 0.5 3 0.5 0.5 0.5 4 0.5-7 0.5 6 0.5-1.5 0.5 5.5 0.5 2.5 0.5 2.5 0.5 7" fill="none" stroke="#8c1a86" stroke-width="1.4" stroke-linejoin="round"/>
<path d="M112 1232l0.5 0.5 0.5 0.5 0.5 2 0.5 0.5 0.5 1 0.5 1.5 0.5 0.5 0.5 0.5 0.5-0.5 0.5 0 0.5 0.5 0.5 1 0.5 0.5 0.5-0.5 0.5 0 0.5 1.5 0.5-1.5 0.5 1 0.5 1 0.5-0.5 0.5-0.5 0.5 0.5 0.5 1.5 0.5 0.5 0.5-0.5 0.5 2 0.5 3 0.5 2 0.5 1.5 0.5 1 0.5 0 0.5 3 0.5 1.5 0.5 2 0.5 2.5 0.5 0.5 0.5 1 0.5 1 0.5 0 0.5 0.5 0.5 0.5 0.5 2 0.5 1 0.5 0 0.5 2 0.5 0.5 0.5-0.5 0.5 1.5 0.5 0.5 0.5-1 0.5 1 0.5-0.5 0.5-1 0.5-0.5 0.5-2.5 0.5-1 0.5 0 0.5-0.5 0.5-1.5 0.5-1 0.5-1 0.5 0 0.5 0 0.5-1.5 0.5-1.5 0.5 0.5 0.5-0.5 0.5-0.5 0.5 0.5 0.5 0 0.5-1.5 0.5-0.5 0.5 0 0.5-1 0.5-1.5 0.5 0 0.5-1 0.5 0 0.5-1.5 0.5-1 0.5-0.5 0.5-1 0.5-1.5 0.5-1.5 0.5 1 0.5-1 0.5-2.5 0.5-1 0.5 0.5 0.5-1 0.5 0 0.5 0.5 0.5-1 0.5-0.5 0.5-0.5 0.5-0.5 0.5 0 0.5 1 0.5-0.5 0.5-1.5 0.5 0.5 0.5-0.5 0.5-1 0.5 1 0.5 2 0.5-0.5 0.5 1.5 0.5 0 0.5 0.5 0.5 0 0.5 2.5 0.5 0 0.5 1 0.5-0.5 0.5-0.5 0.5 2 0.5-0.5 0.5 1.5 0.5-1.5 0.5 1 0.5-2 0.5-1.5 0.5 1 0.5-0.5 0.5-0.5 0.5 0.5 0.5-1.5 0.5-1 0.5-0.5 0.5-0.5 0.5-0.5 0.5 0 0.5 0 0.5 0.5 0.5-0.5 0.5 1 0.5 1 0.5-0.5 0.5 0 0.5-1.5 0.5-0.5 0.5-1 0.5-2.5 0.5-3 0.5-1 0.5-1.5 0.5-1 0.5-3 0.5-0.5 0.5-4.5 0.5-0.5 0.5-1 0.5-1 0.5-1 0.5-0.5 0.5 0 0.5-1.5 0.5-0.5 0.5-2 0.5-1 0.5-3 0.5 0.5 0.5-0.5 0.5-2 0.5-1 0.5-1.5 0.5 1 0.5-2.5 0.5-1.5 0.5-3 0.5-0.5 0.5 0 0.5-1.5 0.5-2.5 0.5 0.5 0.5 0 0.5 0 0.5 0 0.5-1 0.5 2.5 0.5-2 0.5 0 0.5-1.5 0.5 0 0.5-0.5 0.5 1 0.5-0.5 0.5-0.5 0.5-1 0.5 1.5 0.5 1 0.5 0 0.5-0.5 0.5 0 0.5 0.5 0.5 0 0.5 1 0.5-0.5 0.5 0.5 0.5-0.5 0.5 3.5 0.5 0 0.5 1.5 0.5 1.5 0.5 0 0.5 1.5 0.5 2 0.5 0.5 0.5 0.5 0.5 0.5 0.5 0 0.5 1 0.5 0.5 0.5 0.5 0.5 1 0.5-0.5 0.5 0 0.5 1 0.5 0 0.5 1 0.5-0.5 0.5 0.5 0.5 0.5 0.5 0.5 0.5-1 0.5 0.5 0.5 1 0.5 1.5 0.5 0 0.5 0.5 0.5 0.5 0.5-1 0.5 3 0.5 1 0.5 1 0.5-1 0.5 1.5 0.5 1 0.5-0.5 0.5 1.5 0.5 0.5 0.5 1.5 0.5-0.5 0.5 1 0.5 1.5 0.5 0.5 0.5 2 0.5 2 0.5 0.5 0.5 1.5 0.5 1.5 0.5 0.5 0.5 0 0.5 0 0.5 2 0.5 1 0.5 1 0.5 2 0.5 1 0.5-0.5 0.5 2 0.5 1 0.5 2 0.5 1 0.5 1.5 0.5 0 0.5 1 0.5 1 0.5 1.5 0.5 1 0.5 2 0.5-0.5 0.5 1.5 0.5 0 0.5 0 0.5 1 0.5 0.5 0.5 1.5 0.5 0.5 0.5 0.5 0.5 1.5 0.5 1.5 0.5-1.5 0.5-2 0.5 0.5 0.5-0.5 0.5 0 0.5-1.5 0.5-1.5 0.5 0 0.5-0.5 0.5-1.5 0.5-0.5 0.5-1 0.5 1 0.5-3 0.5-1 0.5-1 0.5 0 0.5-1.5 0.5-0.5 0.5-0.5 0.5 0.5 0.5-2.5 0.5-1 0.5-1 0.5-2 0.5-0.5 0.5 0.5 0.5 0 0.5 1.5 0.5-0.5 0.5-0.5 0.5 0 0.5-1.5 0.5-0.5 0.5-0.5 0.5 0 0.5 1.5 0.5-1.5 0.5-0.5 0.5 0 0.5 0.5 0.5-0.5 0.5 0 0.5-1.5 0.5-0.5 0.5 0 0.5 0 0.5 1 0.5-2 0.5 1 0.5-0.5 0.5 0.5 0.5-0.5 0.5-0.5 0.5 2.5 0.5 0.5 0.5-1.5 0.5 2.5 0.5-0.5 0.5 1.5 0.5 0.5 0.5 0 0.5 2.5 0.5 0.5 0.5 2.5 0.5 1 0.5 1.5 0.5 1 0.5 3 0.5-1 0.5 0.5 0.5 0.5 0.5 1.5 0.5 0.5 0.5-0.5 0.5-0.5 0.5-1.5 0.5 2 0.5-0.5 0.5 0 0.5-0.5 0.5 1 0.5-0.5 0.5 0 0.5 0 0.5 0 0.5 0.5 0.5 1 0.5 1 0.5 1 0.5 1.5 0.5-1.5 0.5 0 0.5 1.5 0.5 2 0.5 0.5 0.5-0.5 0.5 3 0.5 1 0.5 0 0.5 1 0.5 2.5 0.5 1 0.5 1.5 0.5 2 0.5 1 0.5 2 0.5-0.5 0.5 1.5 0.5-1 0.5-1 0.5-1 0.5 1 0.5 1 0.5 0.5 0.5-3 0.5 2 0.5-0.5 0.5 1.5 0.5-1 0.5 0.5 0.5 1.5 0.5-1 0.5 0 0.5 0.5 0.5 0 0.5-0.5 0.5-1 0.5 0.5 0.5-0.5 0.5 1.5 0.5 0.5 0.5 0 0.5 1.5 0.5-2 0.5 0.5 0.5-0.5 0.5-2 0.5-0.5 0.5-1 0.5-1.5 0.5-2.5 0.5-1.5 0.5-3 0.5-0.5 0.5-1 0.5-3 0.5-2 0.5-2.5 0.5-1 0.5-1.5 0.5-1 0.5-2 0.5 0.5 0.5-2 0.5-0.5 0.5-2 0.5-2 0.5 0.5 0.5-1 0.5-2.5 0.5 0 0.5 0 0.5-1 0.5 2 0.5-2.5 0.5 1.5 0.5-2.5 0.5 1.5 0.5-0.5 0.5-1.5 0.5 2.5 0.5 1.5 0.5 0 0.5 2.5 0.5-0.5 0.5 3 0.5 1 0.5 2 0.5 0 0.5 1.5 0.5 0.5 0.5 2 0.5 1 0.5 1.5 0.5-0.5 0.5 2 0.5 1.5 0.5 2 0.5 0 0.5 1 0.5 2 0.5 1 0.5-1 0.5 2.5 0.5 2.5 0.5 1 0.5 0 0.5 2 0.5 1.5 0.5 1 0.5 2 0.5 0.5 0.5 1.5 0.5 1.5 0.5 2.5 0.5 0.5 0.5 1.5 0.5 0 0.5-0.5 0.5 0 0.5 1.5 0.5-1.5 0.5-0.5 0.5 1.5 0.5-1.5 0.5-0.5 0.5 1.5 0.5-2 0.5 0.5 0.5-0.5 0.5-0.5 0.5-0.5 0.5 0.5 0.5 0 0.5-2.5 0.5 1 0.5-2 0.5-1 0.5-0.5 0.5-2 0.5-1.5 0.5 1 0.5-2.5 0.5-2.5 0.5-2.5 0.5 1 0.5-1 0.5 0 0.5-4 0.5-2 0.5-1.5 0.5-0.5 0.5-1.5 0.5-2.5 0.5-2.5 0.5-1.5 0.5-0.5 0.5-3 0.5-2 0.5-1.5 0.5-1.5 0.5-1.5 0.5 0 0.5-2 0.5-2.5 0.5-2 0.5-2 0.5-1.5 0.5-1.5 0.5-3 0.5-2 0.5-2 0.5-2.5 0.5 0 0.5-2.5 0.5-0.5 0.5 0.5 0.5-2 0.5-0.5 0.5 0 0.5 0 0.5-0.5 0.5-1 0.5 0.5 0.5-1.5 0.5-1 0.5 0.5 0.5-0.5 0.5 0 0.5-0.5 0.5-2 0.5-1.5 0.5 1 0.5-0.5 0.5 0 0.5-1.5 0.5 0.5 0.5-1 0.5 0 0.5 0 0.5-1.5 0.5-1 0.5-1 0.5 1.5 0.5-3 0.5 0 0.5-2 0.5-0.5 0.5 0.5 0.5-1.5 0.5 0 0.5-1.5 0.5 0 0.5-1.5 0.5 0 0.5 3 0.5 2 0.5 1 0.5 2.5 0.5 1 0.5 3.5 0.5 1.5 0.5 2 0.5 3 0.5 0 0.5 0.5 0.5 0 0.5 2 0.5 1 0.5 0 0.5 0 0.5 1.5 0.5 1 0.5-0.5 0.5 2.5 0.5 0 0.5 1 0.5 0.5 0.5 1 0.5 2 0.5 1 0.5-0.5 0.5 2 0.5 2 0.5 0 0.5 2 0.5-0.5 0.5 2 0.5 1 0.5 1 0.5 2 0.5 1 0.5 0.5 0.5 2 0.5 1 0.5 2 0.5 2.5 0.5 2 0.5 0 0.5 2 0.5 2 0.5 2 0.5 0.5 0.5 2 0.5 1.5 0.5 2.5 0.5 0.5 0.5 1 0.5 0 0.5 1 0.5 3 0.5 1 0.5 0.5 0.5 1.5 0.5-0.5 0.5-1.5 0.5-1 0.5-2 0.5-1 0.5-1.5 0.5-2 0.5-1 0.5-1.5 0.5 0.5 0.5-1 0.5-1.5 0.5 0.5 0.5-0.5 0.5-1 0.5-0.5 0.5-1 0.5-1 0.5 1 0.5-1.5 0.5-0.5 0.5 0 0.5 2 0.5-1 0.5 0.5 0.5 0 0.5 0 0.5 0.5 0.5 0 0.5 1.5 0.5-2 0.5-0.5 0.5 1 0.5-1 0.5-1.5 0.5-0.5 0.5-1.5 0.5-0.5 0.5-1 0.5-2 0.5 1 0.5-2 0.5-0.5 0.5-1.5 0.5-2 0.5-1.5 0.5-2 0.5 1.5 0.5-2 0.5 0 0.5 0 0.5-1 0.5 0.5 0.5 1.5 0.5 0.5 0.5 1 0.5-1.5 0.5 2.5 0.5 1 0.5-0.5 0.5 2 0.5 0 0.5 1 0.5 1.5 0.5 0 0.5 2.5 0.5 1 0.5 2 0.5 1 0.5 1.5 0.5 0.5 0.5 1.5 0.5 0 0.5 0.5 0.5-0.5 0.5 0.5 0.5-1.5 0.5 1.5 0.5-3 0.5-2.5 0.5 1.5 0.5-1 0.5-0.5 0.5-0.5 0.5-1 0.5-0.5 0.5-0.5 0.5 1.5 0.5-0.5 0.5-2 0.5 1 0.5-0.5 0.5-2 0.5 0 0.5 0.5 0.5 0.5 0.5 1.5 0.5-0.5 0.5 1 0.5-0.5 0.5 0.5 0.5 1 0.5 0.5 0.5 1 0.5 0.5 0.5-1 0.5 1.5 0.5-1.5 0.5 1 0.5-1 0.5-1 0.5-2 0.5-0.5 0.5-0.5 0.5-2 0.5-1.5 0.5 1 0.5-1.5 0.5-1.5 0.5-1 0.5-1 0.5-1.5 0.5 0.5 0.5-0.5 0.5 0 0.5 1.5 0.5-1.5 0.5-1 0.5 0 0.5-1 0.5 0.5 0.5 0 0.5-2 0.5 0.5 0.5 0 0.5 1 0.5 0 0.5-2 0.5 1 0.5 2 0.5 1 0.5 1.5 0.5 0 0.5 1.5 0.5 1.5 0.5 1 0.5 0 0.5 2.5 0.5-0.5 0.5 0 0.5 0 0.5 1 0.5-1 0.5 2.5 0.5-1.5 0.5 2 0.5 0 0.5 1 0.5 1.5 0.5-0.5 0.5 0.5 0.5-0.5 0.5 0 0.5 1.5 0.5-1.5 0.5 0.5 0.5-0.5 0.5-1 0.5 0.5 0.5-1.5 0.5 0.5 0.5-1.5 0.5 0 0.5-1 0.5 0.5 0.5 0.5 0.5-0.5 0.5-0.5 0.5-1 0.5-1 0.5-0.5 0.5-1 0.5 1.5 0.5-1 0.5 0 0.5 0.5 0.5 0 0.5 3 0.5-0.5 0.5 0.5 0.5 2.5 0.5 1 0.5 0 0.5-1 0.5 1.5 0.5-1 0.5 0 0.5 0.5 0.5-0.5 0.5-0.5 0.5-1.5 0.5 2 0.5-1.5 0.5 0.5 0.5 0.5 0.5 0.5 0.5 0.5 0.5 1 0.5 0 0.5-1.5 0.5 2 0.5 0 0.5 0.5 0.5 0 0.5 1 0.5 0.5 0.5 1.5 0.5 0.5 0.5 1.5 0.5-0.5 0.5 2.5 0.5 0.5 0.5 1.5 0.5 1.5 0.5 1 0.5 1 0.5 0 0.5 2 0.5 1 0.5 0.5 0.5 0 0.5 0 0.5-1 0.5-1.5 0.5 0.5 0.5-1.5 0.5 0 0.5-0.5 0.5 0.5 0.5-1 0.5-0.5 0.5-1 0.5 0.5 0.5-2 0.5-1.5 0.5 2 0.5 0 0.5-1 0.5-1 0.5-1.5 0.5-1.5 0.5 0.5 0.5-1.5 0.5 0 0.5-1 0.5-2.5 0.5-1 0.5-3 0.5-1.5 0.5 0 0.5-2.5 0.5-1.5 0.5-1.5 0.5-1 0.5 0.5 0.5-1 0.5-1 0.5-2 0.5-0.5 0.5-1 0.5 0 0.5-1.5 0.5 0.5 0.5 1 0.5-2.5 0.5-1.5 0.5 0 0.5-2 0.5-0.5 0.5 0.5 0.5-1 0.5-1 0.5 1 0.5-1 0.5 0 0.5-1 0.5 2.5 0.5-1 0.5 0.5 0.5 0 0.5 0.5 0.5-0.5 0.5 0.5 0.5 1 0.5 1.5 0.5-0.5 0.5 0 0.5 0.5 0.5 0.5 0.5 0.5 0.5 1 0.5 1.5 0.5 0 0.5-0.5 0.5 0.5 0.5 1 0.5 0.5 0.5 1.5 0.5 1.5 0.5-1.5 0.5 1 0.5 2 0.5 2 0.5-0.5 0.5 3 0.5 2 0.5 1 0.5 0.5 0.5 0 0.5 1 0.5 1 0.5 2 0.5 1.5 0.5 1 0.5 0 0.5 2 0.5 1.5 0.5-0.5 0.5 0.5 0.5 1.5 0.5 1.5 0.5 0 0.5 2.5 0.5 0 0.5 1 0.5 0 0.5 0 0.5 1.5 0.5 2 0.5 0 0.5 1 0.5-0.5 0.5 0 0.5 1 0.5 1 0.5 0.5 0.5-1 0.5-0.5 0.5 1 0.5 0 0.5 1.5 0.5-2 0.5-1 0.5 0.5 0.5-1 0.5 0 0.5 0 0.5-2 0.5-1 0.5-1 0.5-1.5 0.5-1.5 0.5-1 0.5 0 0.5-2 0.5-2 0.5-1 0.5-2 0.5-1 0.5-1.5 0.5-2 0.5-2 0.5-1 0.5-1 0.5-2.5 0.5-1 0.5-2 0.5-3.5 0.5-1.5 0.5-4 0.5-0.5 0.5-0.5 0.5-1.5 0.5-0.5 0.5-1.5 0.5-1 0.5-2 0.5-0.5 0.5-1.5 0.5-1 0.5-0.5 0.5-2 0.5 1 0.5-1.5 0.5 0 0.5-1 0.5-0.5 0.5-1 0.5 0 0.5-1 0.5-0.5 0.5 1.5 0.5-1 0.5-0.5 0.5-1 0.5 0 0.5 0 0.5 0.5 0.5-1 0.5 0 0.5 0.5 0.5-0.5 0.5 0 0.5-2 0.5 0 0.5 1 0.5-0.5 0.5 0.5 0.5-1.5 0.5 0.5 0.5-2 0.5 0 0.5 0.5 0.5-1.5 0.5-1 0.5 1.5 0.5 1 0.5-1 0.5-1.5 0.5 0 0.5-1 0.5-1 0.5 1.5 0.5 0 0.5-0.5 0.5-1.5 0.5-1.5 0.5 2 0.5 0 0.5 1 0.5-1.5 0.5-0.5 0.5 2.5 0.5 1.5 0.5 0.5 0.5 0" fill="none" stroke="#0b6b24" stroke-width="4.2" stroke-linejoin="round"/>
<line x1="111.5" y1="65.8" x2="111.5" y2="294.4" stroke="#e3760f" stroke-width="1.5"/><line x1="111.5" y1="65.8" x2="139.5" y2="65.8" stroke="#e3760f" stroke-width="1.5"/><line x1="111.5" y1="94.4" x2="125.5" y2="94.4" stroke="#e3760f" stroke-width="1.5"/><line x1="111.5" y1="122.9" x2="125.5" y2="122.9" stroke="#e3760f" stroke-width="1.5"/><line x1="111.5" y1="151.5" x2="125.5" y2="151.5" stroke="#e3760f" stroke-width="1.5"/><line x1="111.5" y1="180.1" x2="139.5" y2="180.1" stroke="#e3760f" stroke-width="1.5"/><line x1="111.5" y1="208.7" x2="125.5" y2="208.7" stroke="#e3760f" stroke-width="1.5"/><line x1="111.5" y1="237.2" x2="125.5" y2="237.2" stroke="#e3760f" stroke-width="1.5"/><line x1="111.5" y1="265.8" x2="125.5" y2="265.8" stroke="#e3760f" stroke-width="1.5"/><line x1="111.5" y1="294.4" x2="139.5" y2="294.4" stroke="#e3760f" stroke-width="1.5"/>
<line x1="658.4" y1="293.9" x2="658.4" y2="598.1" stroke="#000" stroke-width="1.5"/><line x1="658.4" y1="293.9" x2="631.4" y2="293.9" stroke="#000" stroke-width="1.5"/><line x1="658.4" y1="307.7" x2="644.9" y2="307.7" stroke="#000" stroke-width="1.5"/><line x1="658.4" y1="321.6" x2="644.9" y2="321.6" stroke="#000" stroke-width="1.5"/><line x1="658.4" y1="335.4" x2="644.9" y2="335.4" stroke="#000" stroke-width="1.5"/><line x1="658.4" y1="349.2" x2="631.4" y2="349.2" stroke="#000" stroke-width="1.5"/><line x1="658.4" y1="363" x2="644.9" y2="363" stroke="#000" stroke-width="1.5"/><line x1="658.4" y1="376.9" x2="644.9" y2="376.9" stroke="#000" stroke-width="1.5"/><line x1="658.4" y1="390.7" x2="644.9" y2="390.7" stroke="#000" stroke-width="1.5"/><line x1="658.4" y1="404.5" x2="631.4" y2="404.5" stroke="#000" stroke-width="1.5"/><line x1="658.4" y1="418.3" x2="644.9" y2="418.3" stroke="#000" stroke-width="1.5"/><line x1="658.4" y1="432.2" x2="644.9" y2="432.2" stroke="#000" stroke-width="1.5"/><line x1="658.4" y1="446" x2="644.9" y2="446" stroke="#000" stroke-width="1.5"/><line x1="658.4" y1="459.8" x2="631.4" y2="459.8" stroke="#000" stroke-width="1.5"/><line x1="658.4" y1="473.7" x2="644.9" y2="473.7" stroke="#000" stroke-width="1.5"/><line x1="658.4" y1="487.5" x2="644.9" y2="487.5" stroke="#000" stroke-width="1.5"/><line x1="658.4" y1="501.3" x2="644.9" y2="501.3" stroke="#000" stroke-width="1.5"/><line x1="658.4" y1="515.1" x2="631.4" y2="515.1" stroke="#000" stroke-width="1.5"/><line x1="658.4" y1="529" x2="644.9" y2="529" stroke="#000" stroke-width="1.5"/><line x1="658.4" y1="542.8" x2="644.9" y2="542.8" stroke="#000" stroke-width="1.5"/><line x1="658.4" y1="556.6" x2="644.9" y2="556.6" stroke="#000" stroke-width="1.5"/><line x1="658.4" y1="570.4" x2="631.4" y2="570.4" stroke="#000" stroke-width="1.5"/><line x1="658.4" y1="584.3" x2="644.9" y2="584.3" stroke="#000" stroke-width="1.5"/><line x1="658.4" y1="598.1" x2="644.9" y2="598.1" stroke="#000" stroke-width="1.5"/>
<line x1="111.5" y1="551.3" x2="111.5" y2="855.2" stroke="#f00" stroke-width="1.5"/><line x1="111.5" y1="551.3" x2="125.5" y2="551.3" stroke="#f00" stroke-width="1.5"/><line x1="111.5" y1="574.7" x2="125.5" y2="574.7" stroke="#f00" stroke-width="1.5"/><line x1="111.5" y1="598.1" x2="125.5" y2="598.1" stroke="#f00" stroke-width="1.5"/><line x1="111.5" y1="621.4" x2="139.5" y2="621.4" stroke="#f00" stroke-width="1.5"/><line x1="111.5" y1="644.8" x2="125.5" y2="644.8" stroke="#f00" stroke-width="1.5"/><line x1="111.5" y1="668.2" x2="125.5" y2="668.2" stroke="#f00" stroke-width="1.5"/><line x1="111.5" y1="691.6" x2="125.5" y2="691.6" stroke="#f00" stroke-width="1.5"/><line x1="111.5" y1="714.9" x2="125.5" y2="714.9" stroke="#f00" stroke-width="1.5"/><line x1="111.5" y1="738.3" x2="139.5" y2="738.3" stroke="#f00" stroke-width="1.5"/><line x1="111.5" y1="761.7" x2="125.5" y2="761.7" stroke="#f00" stroke-width="1.5"/><line x1="111.5" y1="785.1" x2="125.5" y2="785.1" stroke="#f00" stroke-width="1.5"/><line x1="111.5" y1="808.4" x2="125.5" y2="808.4" stroke="#f00" stroke-width="1.5"/><line x1="111.5" y1="831.8" x2="125.5" y2="831.8" stroke="#f00" stroke-width="1.5"/><line x1="111.5" y1="855.2" x2="139.5" y2="855.2" stroke="#f00" stroke-width="1.5"/>
<line x1="658.6" y1="825" x2="658.6" y2="1095" stroke="#000" stroke-width="1.5"/><line x1="658.6" y1="825" x2="630.6" y2="825" stroke="#000" stroke-width="1.5"/><line x1="658.6" y1="858.8" x2="644.6" y2="858.8" stroke="#000" stroke-width="1.5"/><line x1="658.6" y1="892.5" x2="644.6" y2="892.5" stroke="#000" stroke-width="1.5"/><line x1="658.6" y1="926.2" x2="644.6" y2="926.2" stroke="#000" stroke-width="1.5"/><line x1="658.6" y1="960" x2="630.6" y2="960" stroke="#000" stroke-width="1.5"/><line x1="658.6" y1="993.8" x2="644.6" y2="993.8" stroke="#000" stroke-width="1.5"/><line x1="658.6" y1="1027.5" x2="644.6" y2="1027.5" stroke="#000" stroke-width="1.5"/><line x1="658.6" y1="1061.2" x2="644.6" y2="1061.2" stroke="#000" stroke-width="1.5"/><line x1="658.6" y1="1095" x2="630.6" y2="1095" stroke="#000" stroke-width="1.5"/>
<line x1="111.4" y1="1128.5" x2="111.4" y2="1357.8" stroke="#8c1a86" stroke-width="1.5"/><line x1="111.4" y1="1128.5" x2="139.4" y2="1128.5" stroke="#8c1a86" stroke-width="1.5"/><line x1="111.4" y1="1151.4" x2="125.4" y2="1151.4" stroke="#8c1a86" stroke-width="1.5"/><line x1="111.4" y1="1174.4" x2="125.4" y2="1174.4" stroke="#8c1a86" stroke-width="1.5"/><line x1="111.4" y1="1197.3" x2="125.4" y2="1197.3" stroke="#8c1a86" stroke-width="1.5"/><line x1="111.4" y1="1220.2" x2="125.4" y2="1220.2" stroke="#8c1a86" stroke-width="1.5"/><line x1="111.4" y1="1243.2" x2="125.4" y2="1243.2" stroke="#8c1a86" stroke-width="1.5"/><line x1="111.4" y1="1266.1" x2="125.4" y2="1266.1" stroke="#8c1a86" stroke-width="1.5"/><line x1="111.4" y1="1289" x2="125.4" y2="1289" stroke="#8c1a86" stroke-width="1.5"/><line x1="111.4" y1="1311.9" x2="125.4" y2="1311.9" stroke="#8c1a86" stroke-width="1.5"/><line x1="111.4" y1="1334.9" x2="125.4" y2="1334.9" stroke="#8c1a86" stroke-width="1.5"/><line x1="111.4" y1="1357.8" x2="139.4" y2="1357.8" stroke="#8c1a86" stroke-width="1.5"/>
<line x1="658.6" y1="1128.5" x2="658.6" y2="1357.8" stroke="#11692a" stroke-width="1.5"/><line x1="658.6" y1="1128.5" x2="630.6" y2="1128.5" stroke="#11692a" stroke-width="1.5"/><line x1="658.6" y1="1151.4" x2="644.6" y2="1151.4" stroke="#11692a" stroke-width="1.5"/><line x1="658.6" y1="1174.4" x2="644.6" y2="1174.4" stroke="#11692a" stroke-width="1.5"/><line x1="658.6" y1="1197.3" x2="644.6" y2="1197.3" stroke="#11692a" stroke-width="1.5"/><line x1="658.6" y1="1220.2" x2="644.6" y2="1220.2" stroke="#11692a" stroke-width="1.5"/><line x1="658.6" y1="1243.2" x2="644.6" y2="1243.2" stroke="#11692a" stroke-width="1.5"/><line x1="658.6" y1="1266.1" x2="644.6" y2="1266.1" stroke="#11692a" stroke-width="1.5"/><line x1="658.6" y1="1289" x2="644.6" y2="1289" stroke="#11692a" stroke-width="1.5"/><line x1="658.6" y1="1311.9" x2="644.6" y2="1311.9" stroke="#11692a" stroke-width="1.5"/><line x1="658.6" y1="1334.9" x2="644.6" y2="1334.9" stroke="#11692a" stroke-width="1.5"/><line x1="658.6" y1="1357.8" x2="630.6" y2="1357.8" stroke="#11692a" stroke-width="1.5"/>
<line x1="111.6" y1="1372" x2="658.5" y2="1372" stroke="#404040" stroke-width="1.5"/><line x1="111.6" y1="1372" x2="111.6" y2="1399" stroke="#404040" stroke-width="1.5"/><line x1="138.9" y1="1372" x2="138.9" y2="1385.7" stroke="#404040" stroke-width="1.5"/><line x1="166.3" y1="1372" x2="166.3" y2="1385.7" stroke="#404040" stroke-width="1.5"/><line x1="193.6" y1="1372" x2="193.6" y2="1385.7" stroke="#404040" stroke-width="1.5"/><line x1="221" y1="1372" x2="221" y2="1385.7" stroke="#404040" stroke-width="1.5"/><line x1="248.3" y1="1372" x2="248.3" y2="1399" stroke="#404040" stroke-width="1.5"/><line x1="275.7" y1="1372" x2="275.7" y2="1385.7" stroke="#404040" stroke-width="1.5"/><line x1="303" y1="1372" x2="303" y2="1385.7" stroke="#404040" stroke-width="1.5"/><line x1="330.4" y1="1372" x2="330.4" y2="1385.7" stroke="#404040" stroke-width="1.5"/><line x1="357.7" y1="1372" x2="357.7" y2="1385.7" stroke="#404040" stroke-width="1.5"/><line x1="385" y1="1372" x2="385" y2="1399" stroke="#404040" stroke-width="1.5"/><line x1="412.4" y1="1372" x2="412.4" y2="1385.7" stroke="#404040" stroke-width="1.5"/><line x1="439.7" y1="1372" x2="439.7" y2="1385.7" stroke="#404040" stroke-width="1.5"/><line x1="467.1" y1="1372" x2="467.1" y2="1385.7" stroke="#404040" stroke-width="1.5"/><line x1="494.4" y1="1372" x2="494.4" y2="1385.7" stroke="#404040" stroke-width="1.5"/><line x1="521.8" y1="1372" x2="521.8" y2="1399" stroke="#404040" stroke-width="1.5"/><line x1="549.1" y1="1372" x2="549.1" y2="1385.7" stroke="#404040" stroke-width="1.5"/><line x1="576.5" y1="1372" x2="576.5" y2="1385.7" stroke="#404040" stroke-width="1.5"/><line x1="603.8" y1="1372" x2="603.8" y2="1385.7" stroke="#404040" stroke-width="1.5"/><line x1="631.2" y1="1372" x2="631.2" y2="1385.7" stroke="#404040" stroke-width="1.5"/><line x1="658.5" y1="1372" x2="658.5" y2="1399" stroke="#404040" stroke-width="1.5"/>
<text x="98.5" y="79.3" font-size="32.5" fill="#e3760f" text-anchor="end" stroke="#e3760f" stroke-width="0.45">0.2</text>
<text x="98.5" y="193.5" font-size="32.5" fill="#e3760f" text-anchor="end" stroke="#e3760f" stroke-width="0.45">0</text>
<text x="98.5" y="307.9" font-size="32.5" fill="#e3760f" text-anchor="end" stroke="#e3760f" stroke-width="0.45">-0.2</text>
<text x="671.4" y="307.4" font-size="32.5" fill="#000" text-anchor="start" stroke="#000" stroke-width="0.45">380</text>
<text x="671.4" y="362.7" font-size="32.5" fill="#000" text-anchor="start" stroke="#000" stroke-width="0.45">360</text>
<text x="671.4" y="418" font-size="32.5" fill="#000" text-anchor="start" stroke="#000" stroke-width="0.45">340</text>
<text x="671.4" y="473.3" font-size="32.5" fill="#000" text-anchor="start" stroke="#000" stroke-width="0.45">320</text>
<text x="671.4" y="528.6" font-size="32.5" fill="#000" text-anchor="start" stroke="#000" stroke-width="0.45">300</text>
<text x="671.4" y="583.9" font-size="32.5" fill="#000" text-anchor="start" stroke="#000" stroke-width="0.45">280</text>
<text x="99.3" y="635" font-size="32.5" fill="#f00" text-anchor="end" stroke="#f00" stroke-width="0.45">0</text>
<text x="99.3" y="752" font-size="32.5" fill="#f00" text-anchor="end" stroke="#f00" stroke-width="0.45">-0.5</text>
<text x="99.3" y="868.7" font-size="32.5" fill="#f00" text-anchor="end" stroke="#f00" stroke-width="0.45">-1</text>
<text x="671" y="838.5" font-size="32.5" fill="#000" text-anchor="start" stroke="#000" stroke-width="0.45">2</text>
<text x="671" y="973.5" font-size="32.5" fill="#000" text-anchor="start" stroke="#000" stroke-width="0.45">0</text>
<text x="671" y="1108.5" font-size="32.5" fill="#000" text-anchor="start" stroke="#000" stroke-width="0.45">-2</text>
<text x="98.5" y="1142" font-size="32.5" fill="#8c1a86" text-anchor="end" stroke="#8c1a86" stroke-width="0.45">0.1</text>
<text x="98.5" y="1256.7" font-size="32.5" fill="#8c1a86" text-anchor="end" stroke="#8c1a86" stroke-width="0.45">0</text>
<text x="98.5" y="1371.3" font-size="32.5" fill="#8c1a86" text-anchor="end" stroke="#8c1a86" stroke-width="0.45">-0.1</text>
<text x="671" y="1142" font-size="32.5" fill="#11692a" text-anchor="start" stroke="#11692a" stroke-width="0.45">0.5</text>
<text x="671" y="1256.7" font-size="32.5" fill="#11692a" text-anchor="start" stroke="#11692a" stroke-width="0.45">0</text>
<text x="671" y="1371.3" font-size="32.5" fill="#11692a" text-anchor="start" stroke="#11692a" stroke-width="0.45">-0.5</text>
<text x="111.6" y="1445.4" font-size="31.3" fill="#262626" text-anchor="middle" stroke="#262626" stroke-width="0.45">5000</text>
<text x="248.3" y="1445.4" font-size="31.3" fill="#262626" text-anchor="middle" stroke="#262626" stroke-width="0.45">4500</text>
<text x="385" y="1445.4" font-size="31.3" fill="#262626" text-anchor="middle" stroke="#262626" stroke-width="0.45">4000</text>
<text x="521.7" y="1445.4" font-size="31.3" fill="#262626" text-anchor="middle" stroke="#262626" stroke-width="0.45">3500</text>
<text x="658.4" y="1445.4" font-size="31.3" fill="#262626" text-anchor="middle" stroke="#262626" stroke-width="0.45">3000</text>
<text x="384" y="1492.3" font-size="36.6" fill="#262626" text-anchor="middle" stroke="#262626" stroke-width="0.45">Years BP</text>
<text transform="translate(26.9 179.7) rotate(-90)" font-size="36.6" fill="#e3760f" text-anchor="middle" stroke="#e3760f" stroke-width="0.45">Annual Tem. (°C)</text>
<text transform="translate(770.2 447) rotate(-90)" font-size="35.7" fill="#000" text-anchor="middle" stroke="#000" stroke-width="0.45">Annual Rainfall (mm)</text>
<text transform="translate(27.2 704) rotate(-90)" font-size="36.6" fill="#f00" text-anchor="middle" stroke="#f00" stroke-width="0.45">SPI</text>
<text transform="translate(746.1 977.4) rotate(-90)" font-size="35.6" fill="#000" text-anchor="middle" stroke="#000" stroke-width="0.45">Detrended SPI</text>
<text transform="translate(27.3 1242.6) rotate(-90)" font-size="36.6" fill="#8c1a86" text-anchor="middle" stroke="#8c1a86" stroke-width="0.45">Δ SST over Niño 3.4</text>
<text transform="translate(772 1243) rotate(-90)" font-size="36.6" fill="#11692a" text-anchor="middle" stroke="#11692a" stroke-width="0.45">Δ SST over AMO</text>
<text x="139.7" y="86.8" font-size="29" fill="#000" text-anchor="start" stroke="#000" stroke-width="0.45">PreH</text>
<text x="290.6" y="86.8" font-size="29" fill="#000" text-anchor="start" stroke="#000" stroke-width="0.45">MatH</text>
<text x="495.8" y="86.8" font-size="29" fill="#000" text-anchor="start" stroke="#000" stroke-width="0.45">LatH</text>
<text x="418.5" y="234.3" font-size="27.1" fill="#000" text-anchor="start" stroke="#000" stroke-width="0.45">(a) Detrended Annual Tem.</text>
<text x="265.3" y="282.3" font-size="23.5" fill="#000" text-anchor="start" stroke="#000" stroke-width="0.45">D1</text>
<text x="352" y="282.3" font-size="23.5" fill="#000" text-anchor="start" stroke="#000" stroke-width="0.45">D2</text>
<text x="439.7" y="282.3" font-size="23.5" fill="#000" text-anchor="start" stroke="#000" stroke-width="0.45">D3</text>
<text x="511.6" y="282.3" font-size="23.5" fill="#000" text-anchor="start" stroke="#000" stroke-width="0.45">D4</text>
<text x="430.6" y="334.5" font-size="27.1" fill="#000" text-anchor="start" stroke="#000" stroke-width="0.45">(b) Simulated</text>
<text x="438.2" y="371.3" font-size="27.1" fill="#000" text-anchor="start" stroke="#000" stroke-width="0.45">ensemble rainfall</text>
<text x="157" y="758" font-size="27.1" fill="#000" text-anchor="start" stroke="#000" stroke-width="0.45">(c) Simulated</text>
<text x="164" y="794.3" font-size="27.1" fill="#000" text-anchor="start" stroke="#000" stroke-width="0.45">ensemble SPI</text>
<text x="440.9" y="830.2" font-size="27.1" fill="#000" text-anchor="start" stroke="#000" stroke-width="0.45">(d) Simulated</text>
<text x="447.8" y="867.7" font-size="27.1" fill="#000" text-anchor="start" stroke="#000" stroke-width="0.45">detrended</text>
<text x="447.8" y="903" font-size="27.1" fill="#000" text-anchor="start" stroke="#000" stroke-width="0.45">ensemble SPI</text>
<text x="222" y="1127" font-size="27.1" fill="#000" text-anchor="start" stroke="#000" stroke-width="0.45">(e) Detrended SST Anomaly (°C)</text>
<text x="228.8" y="1163" font-size="27.1" fill="#000" text-anchor="start" stroke="#000" stroke-width="0.45">over Niño 3.4 and AMO region</text>
<defs>
<filter id="sblur" x="0" y="0" width="1" height="1"><feGaussianBlur stdDeviation="6" edgeMode="duplicate"/></filter>
<clipPath id="spic0"><rect x="906.3" y="34.9" width="357.1" height="303.9"/></clipPath>
<clipPath id="spic1"><rect x="906.3" y="354.9" width="357.1" height="303.9"/></clipPath>
<clipPath id="spic2"><rect x="906.3" y="674.9" width="357.1" height="303.9"/></clipPath>
<clipPath id="spic3"><rect x="906.3" y="994.9" width="357.1" height="303.9"/></clipPath>
</defs>
<g clip-path="url(#spic0)">
<g filter="url(#sblur)">
<rect x="906.3" y="34.9" width="357.1" height="303.9" fill="#ffff99"/>
<path fill="#ffa400" d="M1139.8 198.5H1181V210.2H1139.8zM1126.1 221.9H1139.8V233.6H1126.1z"/>
<path fill="#ffb000" d="M1126.1 198.5H1139.8V210.2H1126.1zM1112.3 210.2H1181V221.9H1112.3zM1112.3 221.9H1126.1V233.6H1112.3zM1139.8 221.9H1153.5V233.6H1139.8zM1112.3 233.6H1139.8V245.3H1112.3z"/>
<path fill="#ffbb00" d="M1153.5 186.9H1181V198.5H1153.5zM1112.3 198.5H1126.1V210.2H1112.3zM1181 198.5H1194.7V210.2H1181zM1098.6 221.9H1112.3V233.6H1098.6zM1153.5 221.9H1181V233.6H1153.5zM1098.6 233.6H1112.3V245.3H1098.6zM1139.8 233.6H1153.5V245.3H1139.8zM1249.7 233.6H1263.4V245.3H1249.7z"/>
<path fill="#ffc600" d="M1139.8 186.9H1153.5V198.5H1139.8zM1181 186.9H1194.7V198.5H1181zM1098.6 210.2H1112.3V221.9H1098.6zM1181 210.2H1194.7V221.9H1181zM1084.8 221.9H1098.6V233.6H1084.8zM1235.9 221.9H1263.4V233.6H1235.9zM1084.8 233.6H1098.6V245.3H1084.8zM1153.5 233.6H1167.3V245.3H1153.5zM1235.9 233.6H1249.7V245.3H1235.9z"/>
<path fill="#ffd200" d="M1126.1 186.9H1139.8V198.5H1126.1zM1194.7 186.9H1208.5V198.5H1194.7zM1098.6 198.5H1112.3V210.2H1098.6zM1194.7 198.5H1208.5V210.2H1194.7zM1084.8 210.2H1098.6V221.9H1084.8zM1194.7 210.2H1208.5V221.9H1194.7zM1249.7 210.2H1263.4V221.9H1249.7zM1071.1 221.9H1084.8V233.6H1071.1zM1181 221.9H1194.7V233.6H1181zM1222.2 221.9H1235.9V233.6H1222.2zM1057.4 233.6H1084.8V245.3H1057.4zM1167.3 233.6H1181V245.3H1167.3zM1222.2 233.6H1235.9V245.3H1222.2z"/>
<path fill="#ffdd00" d="M1167.3 175.2H1208.5V186.9H1167.3zM1208.5 186.9H1222.2V198.5H1208.5zM1084.8 198.5H1098.6V210.2H1084.8zM1208.5 198.5H1222.2V210.2H1208.5zM1057.4 210.2H1084.8V221.9H1057.4zM1208.5 210.2H1249.7V221.9H1208.5zM1043.6 221.9H1071.1V233.6H1043.6zM1194.7 221.9H1222.2V233.6H1194.7zM1043.6 233.6H1057.4V245.3H1043.6zM1181 233.6H1194.7V245.3H1181zM1071.1 245.3H1139.8V257H1071.1zM1249.7 245.3H1263.4V257H1249.7z"/>
<path fill="#ffe800" d="M1208.5 163.5H1222.2V175.2H1208.5zM1153.5 175.2H1167.3V186.9H1153.5zM1208.5 175.2H1222.2V186.9H1208.5zM1112.3 186.9H1126.1V198.5H1112.3zM1222.2 186.9H1235.9V198.5H1222.2zM1057.4 198.5H1084.8V210.2H1057.4zM1222.2 198.5H1263.4V210.2H1222.2zM1043.6 210.2H1057.4V221.9H1043.6zM1029.9 221.9H1043.6V233.6H1029.9zM1029.9 233.6H1043.6V245.3H1029.9zM1194.7 233.6H1222.2V245.3H1194.7zM1043.6 245.3H1071.1V257H1043.6zM1139.8 245.3H1153.5V257H1139.8zM1235.9 245.3H1249.7V257H1235.9z"/>
<path fill="#fff400" d="M1194.7 163.5H1208.5V175.2H1194.7zM1222.2 175.2H1235.9V186.9H1222.2zM1098.6 186.9H1112.3V198.5H1098.6zM1235.9 186.9H1249.7V198.5H1235.9zM1043.6 198.5H1057.4V210.2H1043.6zM1029.9 210.2H1043.6V221.9H1029.9zM1153.5 245.3H1167.3V257H1153.5zM1057.4 257H1112.3V268.7H1057.4z"/>
<path fill="#ffff00" d="M1181 163.5H1194.7V175.2H1181zM1222.2 163.5H1235.9V175.2H1222.2zM1139.8 175.2H1153.5V186.9H1139.8zM1235.9 175.2H1249.7V186.9H1235.9zM1043.6 186.9H1071.1V198.5H1043.6zM1084.8 186.9H1098.6V198.5H1084.8zM1249.7 186.9H1263.4V198.5H1249.7zM1029.9 198.5H1043.6V210.2H1029.9zM1016.2 221.9H1029.9V233.6H1016.2zM1016.2 233.6H1029.9V245.3H1016.2zM1029.9 245.3H1043.6V257H1029.9zM1167.3 245.3H1181V257H1167.3zM1222.2 245.3H1235.9V257H1222.2zM1043.6 257H1057.4V268.7H1043.6zM1112.3 257H1126.1V268.7H1112.3zM1071.1 268.7H1084.8V280.4H1071.1z"/>
<path fill="#ffff11" d="M1194.7 151.8H1222.2V163.5H1194.7zM1167.3 163.5H1181V175.2H1167.3zM1235.9 163.5H1249.7V175.2H1235.9zM1249.7 175.2H1263.4V186.9H1249.7zM1029.9 186.9H1043.6V198.5H1029.9zM1071.1 186.9H1084.8V198.5H1071.1zM1016.2 198.5H1029.9V210.2H1016.2zM1016.2 210.2H1029.9V221.9H1016.2zM1181 245.3H1194.7V257H1181zM1029.9 257H1043.6V268.7H1029.9zM1126.1 257H1139.8V268.7H1126.1zM1249.7 257H1263.4V268.7H1249.7zM1043.6 268.7H1071.1V280.4H1043.6zM1084.8 268.7H1098.6V280.4H1084.8z"/>
<path fill="#ffff22" d="M1222.2 151.8H1235.9V163.5H1222.2zM1249.7 163.5H1263.4V175.2H1249.7zM1029.9 175.2H1057.4V186.9H1029.9zM1126.1 175.2H1139.8V186.9H1126.1zM1016.2 186.9H1029.9V198.5H1016.2zM1002.4 198.5H1016.2V210.2H1002.4zM1002.4 210.2H1016.2V221.9H1002.4zM1002.4 221.9H1016.2V233.6H1002.4zM1002.4 233.6H1016.2V245.3H1002.4zM1016.2 245.3H1029.9V257H1016.2zM1194.7 245.3H1222.2V257H1194.7zM1139.8 257H1153.5V268.7H1139.8zM1235.9 257H1249.7V268.7H1235.9zM1098.6 268.7H1112.3V280.4H1098.6zM1043.6 280.4H1098.6V292H1043.6z"/>
<path fill="#ffff33" d="M1181 151.8H1194.7V163.5H1181zM1153.5 163.5H1167.3V175.2H1153.5zM1016.2 175.2H1029.9V186.9H1016.2zM1057.4 175.2H1071.1V186.9H1057.4zM1112.3 175.2H1126.1V186.9H1112.3zM1002.4 186.9H1016.2V198.5H1002.4zM975 198.5H1002.4V210.2H975zM975 210.2H1002.4V221.9H975zM975 221.9H1002.4V233.6H975zM975 233.6H1002.4V245.3H975zM1029.9 268.7H1043.6V280.4H1029.9zM1043.6 292H1084.8V303.7H1043.6z"/>
<path fill="#ffff44" d="M1167.3 151.8H1181V163.5H1167.3zM1235.9 151.8H1249.7V163.5H1235.9zM1016.2 163.5H1043.6V175.2H1016.2zM961.2 175.2H1016.2V186.9H961.2zM1071.1 175.2H1112.3V186.9H1071.1zM947.5 186.9H1002.4V198.5H947.5zM947.5 198.5H975V210.2H947.5zM947.5 210.2H975V221.9H947.5zM947.5 221.9H975V233.6H947.5zM947.5 233.6H975V245.3H947.5zM1002.4 245.3H1016.2V257H1002.4zM1016.2 257H1029.9V268.7H1016.2zM1153.5 257H1167.3V268.7H1153.5zM1222.2 257H1235.9V268.7H1222.2zM1112.3 268.7H1126.1V280.4H1112.3zM1029.9 280.4H1043.6V292H1029.9zM1098.6 280.4H1112.3V292H1098.6zM1084.8 292H1098.6V303.7H1084.8z"/>
<path fill="#ffff55" d="M961.2 151.8H1029.9V163.5H961.2zM1249.7 151.8H1263.4V163.5H1249.7zM947.5 163.5H1016.2V175.2H947.5zM1043.6 163.5H1057.4V175.2H1043.6zM1139.8 163.5H1153.5V175.2H1139.8zM933.8 175.2H961.2V186.9H933.8zM906.3 186.9H947.5V198.5H906.3zM906.3 198.5H947.5V210.2H906.3zM906.3 210.2H947.5V221.9H906.3zM906.3 221.9H947.5V233.6H906.3zM906.3 233.6H947.5V245.3H906.3zM988.7 245.3H1002.4V257H988.7zM1167.3 257H1222.2V268.7H1167.3zM1126.1 268.7H1139.8V280.4H1126.1zM1249.7 268.7H1263.4V280.4H1249.7zM1112.3 280.4H1126.1V292H1112.3zM1029.9 292H1043.6V303.7H1029.9zM1098.6 292H1112.3V303.7H1098.6zM1043.6 303.7H1098.6V315.4H1043.6zM1043.6 315.4H1098.6V327.1H1043.6zM1043.6 327.1H1098.6V338.8H1043.6z"/>
<path fill="#ffff66" d="M961.2 140.1H1016.2V151.8H961.2zM1194.7 140.1H1222.2V151.8H1194.7zM933.8 151.8H961.2V163.5H933.8zM1029.9 151.8H1057.4V163.5H1029.9zM1153.5 151.8H1167.3V163.5H1153.5zM920 163.5H947.5V175.2H920zM1057.4 163.5H1071.1V175.2H1057.4zM906.3 175.2H933.8V186.9H906.3zM947.5 245.3H988.7V257H947.5zM1002.4 257H1016.2V268.7H1002.4zM1016.2 268.7H1029.9V280.4H1016.2zM1235.9 268.7H1249.7V280.4H1235.9zM1029.9 303.7H1043.6V315.4H1029.9zM1098.6 303.7H1112.3V315.4H1098.6z"/>
<path fill="#ffff77" d="M961.2 128.4H1016.2V140.1H961.2zM933.8 140.1H961.2V151.8H933.8zM1016.2 140.1H1043.6V151.8H1016.2zM1181 140.1H1194.7V151.8H1181zM1222.2 140.1H1235.9V151.8H1222.2zM906.3 151.8H933.8V163.5H906.3zM906.3 163.5H920V175.2H906.3zM906.3 245.3H947.5V257H906.3zM1139.8 268.7H1153.5V280.4H1139.8zM1222.2 268.7H1235.9V280.4H1222.2zM1016.2 280.4H1029.9V292H1016.2zM1126.1 280.4H1139.8V292H1126.1zM1249.7 280.4H1263.4V292H1249.7zM1112.3 292H1126.1V303.7H1112.3zM1029.9 315.4H1043.6V327.1H1029.9zM1098.6 315.4H1112.3V327.1H1098.6zM1029.9 327.1H1043.6V338.8H1029.9zM1098.6 327.1H1112.3V338.8H1098.6z"/>
<path fill="#ffff88" d="M961.2 116.7H1016.2V128.4H961.2zM933.8 128.4H961.2V140.1H933.8zM1016.2 128.4H1043.6V140.1H1016.2zM906.3 140.1H933.8V151.8H906.3zM1043.6 140.1H1057.4V151.8H1043.6zM1167.3 140.1H1181V151.8H1167.3zM1235.9 140.1H1263.4V151.8H1235.9zM1057.4 151.8H1071.1V163.5H1057.4zM1071.1 163.5H1084.8V175.2H1071.1zM1126.1 163.5H1139.8V175.2H1126.1zM906.3 257H1002.4V268.7H906.3zM1153.5 268.7H1167.3V280.4H1153.5zM1139.8 280.4H1153.5V292H1139.8zM1235.9 280.4H1249.7V292H1235.9zM1016.2 292H1029.9V303.7H1016.2zM1126.1 292H1139.8V303.7H1126.1zM1112.3 303.7H1126.1V315.4H1112.3zM1112.3 315.4H1126.1V327.1H1112.3zM1112.3 327.1H1126.1V338.8H1112.3z"/>
<path fill="#ffffaa" d="M975 93.3H1016.2V105H975zM947.5 105H961.2V116.7H947.5zM1016.2 105H1029.9V116.7H1016.2zM906.3 116.7H933.8V128.4H906.3zM1029.9 116.7H1043.6V128.4H1029.9zM1057.4 140.1H1071.1V151.8H1057.4zM1071.1 151.8H1084.8V163.5H1071.1zM906.3 268.7H1002.4V280.4H906.3zM1002.4 280.4H1016.2V292H1002.4zM1167.3 280.4H1181V292H1167.3zM1235.9 292H1249.7V303.7H1235.9zM1139.8 303.7H1153.5V315.4H1139.8z"/>
<path fill="#ffffbb" d="M988.7 81.7H1016.2V93.3H988.7zM947.5 93.3H975V105H947.5zM1016.2 93.3H1029.9V105H1016.2zM920 105H947.5V116.7H920zM1029.9 105H1043.6V116.7H1029.9zM1043.6 116.7H1057.4V128.4H1043.6zM1057.4 128.4H1071.1V140.1H1057.4zM1167.3 128.4H1222.2V140.1H1167.3zM1071.1 140.1H1084.8V151.8H1071.1zM1139.8 140.1H1153.5V151.8H1139.8zM906.3 280.4H1002.4V292H906.3zM1181 280.4H1222.2V292H1181zM1002.4 292H1016.2V303.7H1002.4zM1153.5 292H1167.3V303.7H1153.5zM1222.2 292H1235.9V303.7H1222.2zM1249.7 303.7H1263.4V315.4H1249.7zM1139.8 315.4H1153.5V327.1H1139.8zM1249.7 315.4H1263.4V327.1H1249.7zM1139.8 327.1H1153.5V338.8H1139.8zM1249.7 327.1H1263.4V338.8H1249.7z"/>
<path fill="#ffffcc" d="M947.5 81.7H988.7V93.3H947.5zM1016.2 81.7H1029.9V93.3H1016.2zM933.8 93.3H947.5V105H933.8zM1029.9 93.3H1043.6V105H1029.9zM906.3 105H920V116.7H906.3zM1043.6 105H1057.4V116.7H1043.6zM1057.4 116.7H1071.1V128.4H1057.4zM1071.1 128.4H1084.8V140.1H1071.1zM1153.5 128.4H1167.3V140.1H1153.5zM1222.2 128.4H1263.4V140.1H1222.2zM1084.8 140.1H1098.6V151.8H1084.8zM1084.8 151.8H1139.8V163.5H1084.8zM906.3 292H1002.4V303.7H906.3zM1167.3 292H1194.7V303.7H1167.3zM1002.4 303.7H1016.2V315.4H1002.4zM1153.5 303.7H1167.3V315.4H1153.5zM1235.9 303.7H1249.7V315.4H1235.9zM1002.4 315.4H1016.2V327.1H1002.4zM1153.5 315.4H1167.3V327.1H1153.5zM1235.9 315.4H1249.7V327.1H1235.9zM1002.4 327.1H1016.2V338.8H1002.4zM1153.5 327.1H1167.3V338.8H1153.5zM1235.9 327.1H1249.7V338.8H1235.9z"/>
<path fill="#ffffdd" d="M975 70H1016.2V81.7H975zM933.8 81.7H947.5V93.3H933.8zM1029.9 81.7H1057.4V93.3H1029.9zM906.3 93.3H933.8V105H906.3zM1043.6 93.3H1057.4V105H1043.6zM1057.4 105H1071.1V116.7H1057.4zM1071.1 116.7H1084.8V128.4H1071.1zM1084.8 128.4H1098.6V140.1H1084.8zM1139.8 128.4H1153.5V140.1H1139.8zM1098.6 140.1H1139.8V151.8H1098.6zM1194.7 292H1222.2V303.7H1194.7zM906.3 303.7H1002.4V315.4H906.3zM1167.3 303.7H1181V315.4H1167.3zM1222.2 303.7H1235.9V315.4H1222.2zM906.3 315.4H1002.4V327.1H906.3zM1167.3 315.4H1181V327.1H1167.3zM906.3 327.1H1002.4V338.8H906.3zM1167.3 327.1H1181V338.8H1167.3z"/>
<path fill="#ffffee" d="M933.8 70H975V81.7H933.8zM1016.2 70H1043.6V81.7H1016.2zM906.3 81.7H933.8V93.3H906.3zM1057.4 81.7H1071.1V93.3H1057.4zM1057.4 93.3H1071.1V105H1057.4zM1071.1 105H1084.8V116.7H1071.1zM1084.8 116.7H1098.6V128.4H1084.8zM1153.5 116.7H1181V128.4H1153.5zM1098.6 128.4H1139.8V140.1H1098.6zM1181 303.7H1194.7V315.4H1181zM1181 315.4H1194.7V327.1H1181zM1222.2 315.4H1235.9V327.1H1222.2zM1181 327.1H1194.7V338.8H1181zM1222.2 327.1H1235.9V338.8H1222.2z"/>
<path fill="#ffffff" d="M906.3 34.9H1263.4V46.6H906.3zM906.3 46.6H1263.4V58.3H906.3zM906.3 58.3H1263.4V70H906.3zM906.3 70H933.8V81.7H906.3zM1043.6 70H1263.4V81.7H1043.6zM1071.1 81.7H1263.4V93.3H1071.1zM1071.1 93.3H1263.4V105H1071.1zM1084.8 105H1263.4V116.7H1084.8zM1098.6 116.7H1153.5V128.4H1098.6zM1181 116.7H1263.4V128.4H1181zM1194.7 303.7H1222.2V315.4H1194.7zM1194.7 315.4H1222.2V327.1H1194.7zM1194.7 327.1H1222.2V338.8H1194.7z"/>
</g>
<path transform="translate(0 0)" fill="#fff" d="M905.2 248.3L1007.9 247.5L1020.4 253.1L1032.8 262.4L1045.3 274.9L1057.7 290.4L1072.2 299.8L1086.8 309.1L1099.2 316.4L1115.8 324.7L1126.2 330.9L1129.3 340.2L905.2 340.2Z"/>
<path transform="translate(0 0)" fill="none" stroke="#000" stroke-width="2.2" stroke-linejoin="round" d="M900 63.7L906.3 64.2L910.5 69L913.7 70.6L926.9 70.6L927.9 74.3L928.5 84.8M928.5 84.8L930.6 86.9L935.8 89L942.1 88.5L947.4 93.2L949.5 91.6L952.7 92.2L961.1 88.5L962.2 82.7L973.8 79.5L987.5 75.3L989.6 69L991.7 62.7L1001.2 61.1L1005.4 60.6L1008.5 56.9L1011.7 57.4L1020.1 60.6L1022.8 60L1033.8 60.6L1037 62.7L1045.4 61.6L1049.6 66.4L1058.1 63.7L1066.5 60.6L1072.8 63.7L1074.9 60.6L1079.1 56.3L1090 54.2M980.1 35.3L984.3 36.3L987.5 38.4L994.8 40.5L1002.2 44.8L1009.6 45.8L1015.9 47.9L1025.4 50L1022.8 52.1L1022.8 60M1045.4 34.7L1050.7 36.3L1051.7 42.6L1056 49L1051.7 52.1L1046.5 56.3L1045.4 61.6M928.5 84.8L926.3 93.2L925.3 101.7L920 103.8L914.8 109L915.8 116.4L922.1 118.5L916.9 123.8L916.9 126.9L921.1 137.5L921.1 149.1L936.9 151.2L939 156.4L923.2 173.3M923.2 174.4L949.5 180.7L979 180.2L995.9 178.6L1019.1 173.3L1018 167L1020.1 157.5L1030.7 152.2L1042.3 151.2L1045.4 148L1052.8 143.8L1061.2 145.9L1064.4 145.9L1066 144.1L1072.2 135.8L1076.4 129.6L1083.2 124.8L1090.5 120.6L1085.3 114.3L1082.1 113.2L1083.2 111.1L1099 111.1L1105.3 108L1104.2 101.7L1110.6 95.3L1113.7 92.2L1112.7 84.8L1105.3 79.5L1113.7 70M923.2 174.4L928.5 177.5L935.8 190L935.9 190.9L943.5 194.1L953.3 197.4L955.4 201.7L957.6 211.5L965.2 214.8L964.1 221.3L954.3 225.7L943.5 227.8L935.9 230L935.9 245.2M1080 55.3L1086.3 56.3L1089.5 52.1L1095.8 44.8L1102.1 42.6L1108.5 46.9L1111.6 51.1L1110.6 56.3L1110.6 64.8L1113.7 69.5L1120 69L1127.4 65.8L1138 64.8L1153.8 66.4L1164.3 63.7L1172.7 60.6L1176.9 58.5L1173.8 55.3L1171.7 45.8L1169.6 40.5L1155.9 40L1152.7 36.3L1153.8 34.2M1117.9 70.6L1127.4 67.9L1138 66.9L1153.8 66.9L1164.3 64.2M1130.6 61.6L1145.3 58.5L1153.8 59.5L1164.3 60.6L1172.7 61.1M1130.6 76.4L1129.5 81.6L1134.8 83.7L1141.1 82.7L1145.3 86.9L1151.7 89L1153.8 93.2L1158 94.3L1155.9 99.5L1146.4 102.7L1149.5 124.8L1169.6 129.1L1168.5 133.3L1176.9 135.4L1180.1 138.5L1170.6 139.6L1166.4 144.9L1167.5 154.3L1164.3 156.4L1158 162.8L1153.8 167L1149.5 170.1L1145.3 175.4L1140.1 182.8L1136.9 190L1125 196L1110 200L1097 205L1090 199L1083 205L1077 214L1077 220L1086 221L1088 229L1095 236L1101 244L1104.4 252.7M1164.3 63.7L1179.1 64.8L1185.4 70L1195.9 74.3L1205.4 79.5L1206.4 83.7L1215.9 89L1225.4 88L1231.7 84.8L1242.3 81.6L1250.7 80.6L1263.4 83.7M1263.4 101.7L1259.1 102.7L1252.8 106.9L1244.4 111.1L1244.4 117.5L1248.6 121.7L1252.8 122.7L1253.9 130.1L1248.6 131.2L1240.2 131.2L1236 133.3L1238.1 137.5L1242.3 141.7L1242.3 149.1L1246.5 154.3L1252.8 156.4L1259.1 157.5L1263.4 158.6M900 241.7L906.5 242L916.3 244.1L932.6 246.3L943.5 244.1L965.2 243L978.3 242L992.4 243L1003.3 242L1014.1 240.9L1019.6 239.2L1019 239.6L1025.3 241.1L1026.4 248.5L1031.6 249.6L1034.8 252.7L1036.9 260.1L1042.2 264.3L1047.4 265.4L1054.8 264.3L1060.1 263.3L1062.2 258L1065.4 255.9L1073.8 258L1084.3 258L1094.9 257L1103.3 255.9L1104.4 252.7M1047.4 265.4L1054.8 266.4L1059 270.7L1063.3 275.9L1069.6 279.1L1075.9 281.2L1083.3 280.1L1089.6 277L1094.9 272.8L1099.1 268.6L1101.2 266.4L1103.8 260.1L1103.3 255.9M1067.5 288.1L1073.8 286.5L1084.3 284.4L1092.8 280.1L1098 274.9L1101.2 268.6M1067.5 288.1L1073.8 294.9L1083.3 302.3L1091.7 308.6L1100.1 312.8L1105.4 310.7L1111.7 308.6L1118.1 305.4L1124.4 301.2L1128.6 301.2L1132.8 306.5L1136 311.8L1136 317L1133.9 321.3L1132.8 327.6L1134.9 331.8L1136 340M1080 300.7L1101.7 310.4L1110.4 309.3L1120.2 305L1126.7 300.7L1134.3 308.3L1136.5 315.9L1132.2 326.7L1135.4 337.6L1134.9 343"/>
<path d="M1213.4 165.7h0M1217.3 179.7h0M1212.8 184.5h0M1183.9 166.4h0M1207.5 186.4h0M1198.3 154.3h0M1203.4 145.5h0M1215.8 176.1h0M1212.7 161.2h0M1222.4 190.2h0M1199.4 144.4h0M1185.1 178.9h0M1192.9 162h0M1199.5 152.3h0M1184 167.7h0M1188.4 178.2h0M1198 187h0M1210 158.9h0M1216.1 185.5h0M1195.8 157.6h0M1209.2 149.6h0M1214 177.9h0M1210.3 184.2h0M1199 172.7h0M1184.4 148.2h0M1208.6 167.5h0M1203.9 183.3h0M1207 171.9h0M1203.6 158.5h0M1179.5 165.6h0M1187.9 164.1h0M1180.7 157.2h0M1191.5 177.8h0M1203.5 184.4h0M1208.4 164h0M1179.1 146.9h0M1211 167h0M1185.4 169.1h0M1185 179.6h0M1198.4 162.6h0M1191.8 176.1h0M1194.6 146.8h0M1219.5 179.8h0M1213.6 180.7h0M1198.6 156.7h0M1198.9 153h0M1192 173.3h0M1212.7 180.9h0M1197.8 175.9h0M1204.7 177.1h0M1181.9 164.5h0M1180 168.7h0M1193.1 149.9h0M1182.8 173.8h0M1204.6 160.8h0M1205 143.3h0M1221.8 168.1h0M1200.3 168.5h0M1220.9 172.9h0M1199.7 156.5h0M1193.2 170.1h0M1215.8 190.4h0M1184.5 171.9h0M1183 178.3h0M1190.9 177.6h0M1211.3 183.5h0M1203.4 162.1h0M1215.9 185.7h0M1191.3 169.8h0M1218.8 182.4h0M1091.2 195.8h0M1092.6 198.3h0M1093.7 194.3h0M1096.6 195.6h0M1098.7 194.7h0M1094.1 191h0M1101.2 197h0M1098.6 192.2h0M1103.1 190.3h0M1099.4 193.5h0M1101.5 191.7h0M1103.2 192h0M1107.6 191h0M1107.1 186.2h0M1106.8 188.2h0M1105.6 187.7h0M1108.5 191h0M1107.6 188.8h0M1110.5 187.6h0M1114.7 189h0M1116.6 187.1h0M1113.5 186.5h0M1116.6 186.9h0M1115 186.3h0M1118.9 190.9h0M1123.4 183.5h0M1120.1 181.8h0M1120.6 185.1h0M1125.5 182.5h0M1122.8 179.1h0M1123.8 181.4h0M1125.7 181.5h0M1129.3 179.4h0M1129.1 187.2h0M1132.2 180.3h0M1141.4 188.4h0M1137.8 181.3h0M1143.6 185.4h0M1143.5 181.1h0M1149.9 182.3h0M1150.2 180.8h0M1150.8 180.4h0M1155.8 181.1h0M1157.9 181.4h0M1163.8 180.5h0M1165.1 180h0M1167.1 178.2h0M1170.4 179.2h0M1040.4 177.9h0M1038.8 177h0M1037.5 183.2h0M1041 184.9h0M1038.8 188.7h0M1043.6 188.2h0M1043.3 193.5h0M1045.3 195.5h0M1045.1 195.6h0M1045.1 200.8h0M1040.1 200.2h0M1044.2 203.4h0M1042.8 202.3h0M1043.5 210.4h0M1039.9 211.3h0M1041.5 212h0M1039.8 213.9h0M1043.3 217.7h0M1044 218.7h0M1042.1 222h0M1042.3 222.7h0M1041.3 223.8h0M1040.9 227.6h0M1040.3 229.6h0M1042.2 232.5h0M1044 235.9h0M1044.2 232.6h0M1043.1 235.6h0M1091.8 269.7h0M1091.1 274.3h0M1097.2 262h0M1084.9 260.1h0M1083 269.3h0M1079.3 268.1h0M1090.4 274.4h0M1080.2 269.9h0M1066.2 258.2h0M1086.4 265.7h0M1090.8 271.5h0M1074.3 276.7h0M1090.3 262.4h0M1075.5 263.4h0M1067.7 259.6h0M1096.8 266.2h0M1076.2 272.8h0M1082.5 277.6h0M1091 267.1h0M1085.7 259h0M1083.8 271.8h0M1092.7 262.9h0M1079 266.3h0M1073.1 277.2h0M1072.5 275.3h0M1059.8 171.1h0M1074.3 150.4h0M1117.9 171.1h0M1007.9 225.1h0M939.4 239.6h0M1076.4 236.5h0M1076.4 247.9h0M1126.2 283.2h0M1115.8 131.7h0M1053.6 196h0M1057.7 223h0M1049.4 210.5h0M1066 210.5h0M1068.1 212.6h0M1045.3 250h0M1169.8 161.8h0M1193.6 144.1h0M1206.1 144.1h0M1227.9 192.9h0M1211.3 203.3h0M1105.4 245.8h0M968.5 241.7h0M1024.5 240.6h0M1020.4 239.6h0M1151.1 183.6h0M1159.4 181.5h0" stroke="#000" stroke-width="4.6" stroke-linecap="round"/>
<path transform="translate(0 0)" fill="none" stroke="#1111f2" stroke-width="4.8" stroke-linejoin="round" d="M912.5 242.7L918.7 232.3L937.4 226.1L962.3 221.9L983 219.3L999.6 212.6L1012.1 205.3L1022.4 189.8L1030.7 171.1L1041.1 162.8L1055.6 156.6L1066 146.2L1072.2 135.8L1076.4 125.5L1086.8 110.9L1099.2 102.6L1124.1 97.4L1144.9 98.5L1161.5 103.7L1173.9 110.9L1176 117.2L1186.4 133.8L1200.9 148.3L1215.4 164.9L1220.6 173.2L1221.6 183.6L1217.5 192.9L1209.2 193.9L1196.7 188.7L1184.3 184.6L1169.8 184.6L1149 187.7L1128.3 193.9L1107.5 202.2L1095.1 210.5L1089.9 220.9L1093 233.4L1103.4 245.8L1120 260.3L1142.8 279L1161.5 295.6L1169.8 303.9L1170.8 317.4L1161.5 324.7L1149 328.8L1136.6 329.9L1117.9 322.6L1097.1 312.2L1078.5 301.8L1060.8 292.5L1053.6 283.2L1045.3 272.8L1028.7 260.3L1003.8 246.8L983 246.8L962.3 248.9L941.5 250L920.8 248.9L914.5 245.8Z"/>
</g>
<path d="M942 34.9v7M942 338.8v-7M977.7 34.9v7M977.7 338.8v-7M1013.4 34.9v7M1013.4 338.8v-7M1049.1 34.9v7M1049.1 338.8v-7M1084.8 34.9v7M1084.8 338.8v-7M1120.6 34.9v7M1120.6 338.8v-7M1156.3 34.9v7M1156.3 338.8v-7M1192 34.9v7M1192 338.8v-7M1227.7 34.9v7M1227.7 338.8v-7M906.3 323.6h14M1263.4 323.6h-14M906.3 308.4h7M1263.4 308.4h-7M906.3 293.2h7M1263.4 293.2h-7M906.3 278h7M1263.4 278h-7M906.3 262.8h7M1263.4 262.8h-7M906.3 247.6h14M1263.4 247.6h-14M906.3 232.4h7M1263.4 232.4h-7M906.3 217.2h7M1263.4 217.2h-7M906.3 202h7M1263.4 202h-7M906.3 186.9h7M1263.4 186.9h-7M906.3 171.7h14M1263.4 171.7h-14M906.3 156.5h7M1263.4 156.5h-7M906.3 141.3h7M1263.4 141.3h-7M906.3 126.1h7M1263.4 126.1h-7M906.3 110.9h7M1263.4 110.9h-7M906.3 95.7h14M1263.4 95.7h-14M906.3 80.5h7M1263.4 80.5h-7M906.3 65.3h7M1263.4 65.3h-7M906.3 50.1h7M1263.4 50.1h-7" stroke="#333" stroke-width="1.2" fill="none"/>
<rect x="906.3" y="34.9" width="357.1" height="303.9" fill="none" stroke="#333" stroke-width="1.3"/>
<text x="942.5" y="76.1" font-size="26" fill="#111" stroke="#111" stroke-width="0.45">D1</text>
<text x="1104.4" y="152.4" font-size="25.5" fill="#111" stroke="#111" stroke-width="0.45">65%</text>
<text x="895.6" y="106.5" font-size="26" text-anchor="end" fill="#111" stroke="#111" stroke-width="0.45">35</text>
<text x="895.6" y="182.5" font-size="26" text-anchor="end" fill="#111" stroke="#111" stroke-width="0.45">30</text>
<text x="895.6" y="258.4" font-size="26" text-anchor="end" fill="#111" stroke="#111" stroke-width="0.45">25</text>
<text x="895.6" y="334.4" font-size="26" text-anchor="end" fill="#111" stroke="#111" stroke-width="0.45">20</text>
<g clip-path="url(#spic1)">
<g filter="url(#sblur)">
<rect x="906.3" y="354.9" width="357.1" height="303.9" fill="#ffff08"/>
<path fill="#ff7700" d="M1043.6 506.9H1084.8V518.5H1043.6zM1029.9 518.5H1084.8V530.2H1029.9zM1029.9 530.2H1057.4V541.9H1029.9zM906.3 541.9H933.8V553.6H906.3zM1043.6 541.9H1057.4V553.6H1043.6z"/>
<path fill="#ff8200" d="M1112.3 471.8H1139.8V483.5H1112.3zM1098.6 483.5H1139.8V495.2H1098.6zM1029.9 495.2H1126.1V506.9H1029.9zM1016.2 506.9H1043.6V518.5H1016.2zM1084.8 506.9H1126.1V518.5H1084.8zM906.3 518.5H975V530.2H906.3zM1016.2 518.5H1029.9V530.2H1016.2zM1084.8 518.5H1098.6V530.2H1084.8zM906.3 530.2H975V541.9H906.3zM1016.2 530.2H1029.9V541.9H1016.2zM1057.4 530.2H1084.8V541.9H1057.4zM933.8 541.9H975V553.6H933.8zM1016.2 541.9H1043.6V553.6H1016.2zM1057.4 541.9H1071.1V553.6H1057.4zM906.3 553.6H947.5V565.3H906.3zM1029.9 553.6H1057.4V565.3H1029.9z"/>
<path fill="#ff8e00" d="M1112.3 448.4H1139.8V460.1H1112.3zM1098.6 460.1H1139.8V471.8H1098.6zM1071.1 471.8H1112.3V483.5H1071.1zM1139.8 471.8H1153.5V483.5H1139.8zM1029.9 483.5H1098.6V495.2H1029.9zM1139.8 483.5H1153.5V495.2H1139.8zM1016.2 495.2H1029.9V506.9H1016.2zM1126.1 495.2H1153.5V506.9H1126.1zM906.3 506.9H1016.2V518.5H906.3zM1126.1 506.9H1139.8V518.5H1126.1zM975 518.5H1016.2V530.2H975zM1098.6 518.5H1112.3V530.2H1098.6zM975 530.2H1016.2V541.9H975zM1084.8 530.2H1098.6V541.9H1084.8zM975 541.9H1016.2V553.6H975zM1071.1 541.9H1084.8V553.6H1071.1zM947.5 553.6H975V565.3H947.5zM1016.2 553.6H1029.9V565.3H1016.2zM1057.4 553.6H1071.1V565.3H1057.4z"/>
<path fill="#ff9900" d="M1112.3 436.7H1139.8V448.4H1112.3zM1084.8 448.4H1112.3V460.1H1084.8zM1071.1 460.1H1098.6V471.8H1071.1zM1139.8 460.1H1153.5V471.8H1139.8zM1029.9 471.8H1071.1V483.5H1029.9zM1153.5 471.8H1167.3V483.5H1153.5zM1002.4 483.5H1029.9V495.2H1002.4zM1153.5 483.5H1167.3V495.2H1153.5zM988.7 495.2H1016.2V506.9H988.7zM1153.5 495.2H1167.3V506.9H1153.5zM1139.8 506.9H1167.3V518.5H1139.8zM1112.3 518.5H1139.8V530.2H1112.3zM975 553.6H1016.2V565.3H975z"/>
<path fill="#ffa400" d="M1084.8 436.7H1112.3V448.4H1084.8zM1071.1 448.4H1084.8V460.1H1071.1zM1139.8 448.4H1153.5V460.1H1139.8zM1043.6 460.1H1071.1V471.8H1043.6zM1002.4 471.8H1029.9V483.5H1002.4zM988.7 483.5H1002.4V495.2H988.7zM1167.3 483.5H1181V495.2H1167.3zM906.3 495.2H988.7V506.9H906.3zM1167.3 495.2H1181V506.9H1167.3zM1167.3 506.9H1181V518.5H1167.3zM1139.8 518.5H1153.5V530.2H1139.8zM1098.6 530.2H1112.3V541.9H1098.6zM1084.8 541.9H1098.6V553.6H1084.8zM1071.1 553.6H1084.8V565.3H1071.1zM1029.9 565.3H1057.4V577H1029.9z"/>
<path fill="#ffb000" d="M1071.1 436.7H1084.8V448.4H1071.1zM1057.4 448.4H1071.1V460.1H1057.4zM1016.2 460.1H1043.6V471.8H1016.2zM1153.5 460.1H1167.3V471.8H1153.5zM988.7 471.8H1002.4V483.5H988.7zM1167.3 471.8H1181V483.5H1167.3zM975 483.5H988.7V495.2H975zM1153.5 518.5H1167.3V530.2H1153.5zM1084.8 553.6H1098.6V565.3H1084.8zM1016.2 565.3H1029.9V577H1016.2zM1057.4 565.3H1071.1V577H1057.4z"/>
<path fill="#ffbb00" d="M1084.8 425H1139.8V436.7H1084.8zM1057.4 436.7H1071.1V448.4H1057.4zM1139.8 436.7H1153.5V448.4H1139.8zM1016.2 448.4H1057.4V460.1H1016.2zM1153.5 448.4H1167.3V460.1H1153.5zM988.7 460.1H1016.2V471.8H988.7zM975 471.8H988.7V483.5H975zM906.3 483.5H975V495.2H906.3zM1181 483.5H1194.7V495.2H1181zM1181 495.2H1194.7V506.9H1181zM1181 506.9H1194.7V518.5H1181zM1167.3 518.5H1181V530.2H1167.3zM1249.7 518.5H1263.4V530.2H1249.7zM1112.3 530.2H1126.1V541.9H1112.3zM1098.6 541.9H1112.3V553.6H1098.6zM906.3 565.3H933.8V577H906.3zM1002.4 565.3H1016.2V577H1002.4zM1071.1 565.3H1084.8V577H1071.1zM1043.6 577H1057.4V588.7H1043.6z"/>
<path fill="#ffc600" d="M1057.4 425H1084.8V436.7H1057.4zM1043.6 436.7H1057.4V448.4H1043.6zM988.7 448.4H1016.2V460.1H988.7zM975 460.1H988.7V471.8H975zM1167.3 460.1H1181V471.8H1167.3zM933.8 471.8H975V483.5H933.8zM1249.7 506.9H1263.4V518.5H1249.7zM1181 518.5H1194.7V530.2H1181zM1235.9 518.5H1249.7V530.2H1235.9zM1126.1 530.2H1139.8V541.9H1126.1zM933.8 565.3H1002.4V577H933.8zM1084.8 565.3H1098.6V577H1084.8zM1029.9 577H1043.6V588.7H1029.9zM1057.4 577H1071.1V588.7H1057.4z"/>
<path fill="#ffd200" d="M1071.1 413.3H1126.1V425H1071.1zM1043.6 425H1057.4V436.7H1043.6zM1002.4 436.7H1043.6V448.4H1002.4zM1153.5 436.7H1167.3V448.4H1153.5zM975 448.4H988.7V460.1H975zM947.5 460.1H975V471.8H947.5zM906.3 471.8H933.8V483.5H906.3zM1181 471.8H1194.7V483.5H1181zM1194.7 506.9H1208.5V518.5H1194.7zM1235.9 506.9H1249.7V518.5H1235.9zM1222.2 518.5H1235.9V530.2H1222.2zM1139.8 530.2H1153.5V541.9H1139.8zM1249.7 530.2H1263.4V541.9H1249.7zM1098.6 553.6H1112.3V565.3H1098.6zM1016.2 577H1029.9V588.7H1016.2zM1071.1 577H1084.8V588.7H1071.1z"/>
<path fill="#ffdd00" d="M1084.8 401.7H1098.6V413.3H1084.8zM1057.4 413.3H1071.1V425H1057.4zM1126.1 413.3H1139.8V425H1126.1zM1016.2 425H1043.6V436.7H1016.2zM1139.8 425H1153.5V436.7H1139.8zM975 436.7H1002.4V448.4H975zM947.5 448.4H975V460.1H947.5zM1167.3 448.4H1181V460.1H1167.3zM906.3 460.1H947.5V471.8H906.3zM1194.7 483.5H1208.5V495.2H1194.7zM1194.7 495.2H1208.5V506.9H1194.7zM1208.5 506.9H1235.9V518.5H1208.5zM1194.7 518.5H1222.2V530.2H1194.7zM1153.5 530.2H1181V541.9H1153.5zM1235.9 530.2H1249.7V541.9H1235.9zM1112.3 541.9H1126.1V553.6H1112.3zM1002.4 577H1016.2V588.7H1002.4zM1084.8 577H1098.6V588.7H1084.8zM1043.6 588.7H1057.4V600.4H1043.6z"/>
<path fill="#ffe800" d="M1057.4 401.7H1084.8V413.3H1057.4zM1098.6 401.7H1112.3V413.3H1098.6zM1029.9 413.3H1057.4V425H1029.9zM988.7 425H1016.2V436.7H988.7zM947.5 436.7H975V448.4H947.5zM906.3 448.4H947.5V460.1H906.3zM1181 460.1H1194.7V471.8H1181zM1194.7 471.8H1208.5V483.5H1194.7zM1208.5 495.2H1222.2V506.9H1208.5zM1181 530.2H1194.7V541.9H1181zM1222.2 530.2H1235.9V541.9H1222.2zM1126.1 541.9H1139.8V553.6H1126.1zM1098.6 565.3H1112.3V577H1098.6zM988.7 577H1002.4V588.7H988.7zM1029.9 588.7H1043.6V600.4H1029.9zM1057.4 588.7H1071.1V600.4H1057.4z"/>
<path fill="#fff400" d="M1071.1 390H1098.6V401.7H1071.1zM1029.9 401.7H1057.4V413.3H1029.9zM1112.3 401.7H1126.1V413.3H1112.3zM1002.4 413.3H1029.9V425H1002.4zM961.2 425H988.7V436.7H961.2zM1153.5 425H1167.3V436.7H1153.5zM906.3 436.7H947.5V448.4H906.3zM1167.3 436.7H1181V448.4H1167.3zM1208.5 483.5H1222.2V495.2H1208.5zM1222.2 495.2H1263.4V506.9H1222.2zM1194.7 530.2H1208.5V541.9H1194.7zM1139.8 541.9H1153.5V553.6H1139.8zM1249.7 541.9H1263.4V553.6H1249.7zM1112.3 553.6H1126.1V565.3H1112.3zM975 577H988.7V588.7H975zM1016.2 588.7H1029.9V600.4H1016.2zM1071.1 588.7H1084.8V600.4H1071.1zM1029.9 600.4H1071.1V612H1029.9z"/>
<path fill="#ffff11" d="M1043.6 378.3H1098.6V390H1043.6zM1002.4 390H1043.6V401.7H1002.4zM1112.3 390H1126.1V401.7H1112.3zM988.7 401.7H1016.2V413.3H988.7zM933.8 413.3H975V425H933.8zM906.3 425H920V436.7H906.3zM1194.7 460.1H1208.5V471.8H1194.7zM1208.5 471.8H1222.2V483.5H1208.5zM1167.3 541.9H1194.7V553.6H1167.3zM1222.2 541.9H1235.9V553.6H1222.2zM1126.1 553.6H1139.8V565.3H1126.1zM1249.7 553.6H1263.4V565.3H1249.7zM1249.7 565.3H1263.4V577H1249.7zM1098.6 588.7H1112.3V600.4H1098.6zM1084.8 600.4H1098.6V612H1084.8zM1029.9 612H1043.6V623.7H1029.9zM1057.4 612H1071.1V623.7H1057.4z"/>
<path fill="#ffff22" d="M988.7 378.3H1043.6V390H988.7zM1098.6 378.3H1112.3V390H1098.6zM975 390H1002.4V401.7H975zM1126.1 390H1139.8V401.7H1126.1zM947.5 401.7H988.7V413.3H947.5zM906.3 413.3H933.8V425H906.3zM1153.5 413.3H1167.3V425H1153.5zM1167.3 425H1181V436.7H1167.3zM1181 436.7H1194.7V448.4H1181zM1235.9 483.5H1249.7V495.2H1235.9zM1194.7 541.9H1222.2V553.6H1194.7zM1139.8 553.6H1153.5V565.3H1139.8zM1235.9 553.6H1249.7V565.3H1235.9zM1126.1 565.3H1139.8V577H1126.1zM1235.9 565.3H1249.7V577H1235.9zM1112.3 577H1126.1V588.7H1112.3zM1235.9 577H1263.4V588.7H1235.9zM988.7 588.7H1002.4V600.4H988.7zM1235.9 588.7H1263.4V600.4H1235.9zM1002.4 600.4H1016.2V612H1002.4zM1098.6 600.4H1112.3V612H1098.6zM1016.2 612H1029.9V623.7H1016.2zM1071.1 612H1098.6V623.7H1071.1zM1029.9 623.7H1057.4V635.4H1029.9zM1043.6 635.4H1057.4V647.1H1043.6zM1043.6 647.1H1057.4V658.8H1043.6z"/>
<path fill="#ffff33" d="M988.7 354.9H1098.6V366.6H988.7zM975 366.6H1098.6V378.3H975zM947.5 378.3H988.7V390H947.5zM1112.3 378.3H1126.1V390H1112.3zM933.8 390H975V401.7H933.8zM906.3 401.7H947.5V413.3H906.3zM1139.8 401.7H1153.5V413.3H1139.8zM1194.7 448.4H1208.5V460.1H1194.7zM1222.2 471.8H1235.9V483.5H1222.2zM1249.7 483.5H1263.4V495.2H1249.7zM1153.5 553.6H1167.3V565.3H1153.5zM1222.2 553.6H1235.9V565.3H1222.2zM1139.8 565.3H1153.5V577H1139.8zM1222.2 565.3H1235.9V577H1222.2zM1126.1 577H1139.8V588.7H1126.1zM1222.2 577H1235.9V588.7H1222.2zM975 588.7H988.7V600.4H975zM1112.3 588.7H1126.1V600.4H1112.3zM1222.2 588.7H1235.9V600.4H1222.2zM988.7 600.4H1002.4V612H988.7zM1235.9 600.4H1263.4V612H1235.9zM1002.4 612H1016.2V623.7H1002.4zM1249.7 612H1263.4V623.7H1249.7zM1016.2 623.7H1029.9V635.4H1016.2zM1057.4 623.7H1084.8V635.4H1057.4zM1029.9 635.4H1043.6V647.1H1029.9zM1057.4 635.4H1071.1V647.1H1057.4zM1029.9 647.1H1043.6V658.8H1029.9zM1057.4 647.1H1071.1V658.8H1057.4z"/>
<path fill="#ffff44" d="M947.5 354.9H988.7V366.6H947.5zM1098.6 354.9H1112.3V366.6H1098.6zM933.8 366.6H975V378.3H933.8zM1098.6 366.6H1112.3V378.3H1098.6zM906.3 378.3H947.5V390H906.3zM1126.1 378.3H1139.8V390H1126.1zM906.3 390H933.8V401.7H906.3zM1139.8 390H1153.5V401.7H1139.8zM1208.5 460.1H1222.2V471.8H1208.5zM1235.9 471.8H1249.7V483.5H1235.9zM1167.3 553.6H1222.2V565.3H1167.3zM1153.5 565.3H1167.3V577H1153.5zM1181 565.3H1222.2V577H1181zM1139.8 577H1153.5V588.7H1139.8zM1194.7 577H1222.2V588.7H1194.7zM961.2 588.7H975V600.4H961.2zM1126.1 588.7H1139.8V600.4H1126.1zM1194.7 588.7H1222.2V600.4H1194.7zM975 600.4H988.7V612H975zM1112.3 600.4H1126.1V612H1112.3zM1208.5 600.4H1235.9V612H1208.5zM988.7 612H1002.4V623.7H988.7zM1098.6 612H1112.3V623.7H1098.6zM1222.2 612H1249.7V623.7H1222.2zM1002.4 623.7H1016.2V635.4H1002.4zM1084.8 623.7H1098.6V635.4H1084.8zM1235.9 623.7H1263.4V635.4H1235.9zM1016.2 635.4H1029.9V647.1H1016.2zM1071.1 635.4H1098.6V647.1H1071.1zM1235.9 635.4H1263.4V647.1H1235.9zM1016.2 647.1H1029.9V658.8H1016.2zM1071.1 647.1H1098.6V658.8H1071.1zM1235.9 647.1H1263.4V658.8H1235.9z"/>
<path fill="#ffff55" d="M906.3 354.9H947.5V366.6H906.3zM1112.3 354.9H1126.1V366.6H1112.3zM906.3 366.6H933.8V378.3H906.3zM1112.3 366.6H1126.1V378.3H1112.3zM1153.5 401.7H1167.3V413.3H1153.5zM1167.3 413.3H1181V425H1167.3zM1181 425H1194.7V436.7H1181zM1222.2 460.1H1235.9V471.8H1222.2zM1167.3 565.3H1181V577H1167.3zM1153.5 577H1194.7V588.7H1153.5zM906.3 588.7H961.2V600.4H906.3zM1139.8 588.7H1153.5V600.4H1139.8zM1181 588.7H1194.7V600.4H1181zM1126.1 600.4H1153.5V612H1126.1zM1194.7 600.4H1208.5V612H1194.7zM1112.3 612H1139.8V623.7H1112.3zM1208.5 612H1222.2V623.7H1208.5zM1098.6 623.7H1126.1V635.4H1098.6zM1222.2 623.7H1235.9V635.4H1222.2zM1002.4 635.4H1016.2V647.1H1002.4zM1098.6 635.4H1112.3V647.1H1098.6zM1222.2 635.4H1235.9V647.1H1222.2zM1002.4 647.1H1016.2V658.8H1002.4zM1098.6 647.1H1112.3V658.8H1098.6zM1222.2 647.1H1235.9V658.8H1222.2z"/>
<path fill="#ffff66" d="M1126.1 366.6H1139.8V378.3H1126.1zM1139.8 378.3H1153.5V390H1139.8zM1194.7 436.7H1208.5V448.4H1194.7zM1208.5 448.4H1222.2V460.1H1208.5zM1249.7 471.8H1263.4V483.5H1249.7zM1153.5 588.7H1181V600.4H1153.5zM961.2 600.4H975V612H961.2zM1153.5 600.4H1194.7V612H1153.5zM975 612H988.7V623.7H975zM1139.8 612H1153.5V623.7H1139.8zM1181 612H1208.5V623.7H1181zM988.7 623.7H1002.4V635.4H988.7zM1126.1 623.7H1139.8V635.4H1126.1zM1194.7 623.7H1222.2V635.4H1194.7zM988.7 635.4H1002.4V647.1H988.7zM1112.3 635.4H1139.8V647.1H1112.3zM1194.7 635.4H1222.2V647.1H1194.7zM988.7 647.1H1002.4V658.8H988.7zM1112.3 647.1H1139.8V658.8H1112.3zM1194.7 647.1H1222.2V658.8H1194.7z"/>
<path fill="#ffff77" d="M1126.1 354.9H1139.8V366.6H1126.1zM1153.5 390H1167.3V401.7H1153.5zM1181 413.3H1194.7V425H1181zM1222.2 448.4H1235.9V460.1H1222.2zM1235.9 460.1H1249.7V471.8H1235.9zM906.3 600.4H961.2V612H906.3zM961.2 612H975V623.7H961.2zM1153.5 612H1181V623.7H1153.5zM975 623.7H988.7V635.4H975zM1139.8 623.7H1167.3V635.4H1139.8zM1181 623.7H1194.7V635.4H1181zM1139.8 635.4H1153.5V647.1H1139.8zM1181 635.4H1194.7V647.1H1181zM1139.8 647.1H1153.5V658.8H1139.8zM1181 647.1H1194.7V658.8H1181z"/>
<path fill="#ffff88" d="M1139.8 354.9H1153.5V366.6H1139.8zM1139.8 366.6H1153.5V378.3H1139.8zM1153.5 378.3H1167.3V390H1153.5zM1167.3 401.7H1181V413.3H1167.3zM1194.7 425H1208.5V436.7H1194.7zM1249.7 460.1H1263.4V471.8H1249.7zM906.3 612H961.2V623.7H906.3zM1167.3 623.7H1181V635.4H1167.3zM975 635.4H988.7V647.1H975zM1153.5 635.4H1181V647.1H1153.5zM975 647.1H988.7V658.8H975zM1153.5 647.1H1181V658.8H1153.5z"/>
<path fill="#ffff99" d="M1167.3 390H1181V401.7H1167.3zM1208.5 436.7H1222.2V448.4H1208.5zM1235.9 448.4H1249.7V460.1H1235.9zM961.2 623.7H975V635.4H961.2zM961.2 635.4H975V647.1H961.2zM961.2 647.1H975V658.8H961.2z"/>
<path fill="#ffffaa" d="M1153.5 354.9H1167.3V366.6H1153.5zM1153.5 366.6H1167.3V378.3H1153.5zM1167.3 378.3H1181V390H1167.3zM1181 401.7H1194.7V413.3H1181zM1194.7 413.3H1208.5V425H1194.7zM1208.5 425H1222.2V436.7H1208.5zM1222.2 436.7H1235.9V448.4H1222.2zM1249.7 448.4H1263.4V460.1H1249.7zM906.3 623.7H961.2V635.4H906.3zM906.3 635.4H961.2V647.1H906.3zM906.3 647.1H961.2V658.8H906.3z"/>
<path fill="#ffffbb" d="M1167.3 354.9H1181V366.6H1167.3zM1167.3 366.6H1181V378.3H1167.3zM1181 390H1194.7V401.7H1181zM1222.2 425H1235.9V436.7H1222.2zM1235.9 436.7H1263.4V448.4H1235.9z"/>
<path fill="#ffffcc" d="M1181 378.3H1194.7V390H1181zM1194.7 390H1208.5V401.7H1194.7zM1194.7 401.7H1208.5V413.3H1194.7zM1208.5 413.3H1222.2V425H1208.5zM1235.9 425H1249.7V436.7H1235.9z"/>
<path fill="#ffffdd" d="M1181 354.9H1194.7V366.6H1181zM1181 366.6H1194.7V378.3H1181zM1194.7 378.3H1208.5V390H1194.7zM1208.5 401.7H1222.2V413.3H1208.5zM1222.2 413.3H1249.7V425H1222.2zM1249.7 425H1263.4V436.7H1249.7z"/>
<path fill="#ffffee" d="M1194.7 354.9H1208.5V366.6H1194.7zM1194.7 366.6H1208.5V378.3H1194.7zM1208.5 378.3H1222.2V390H1208.5zM1208.5 390H1235.9V401.7H1208.5zM1222.2 401.7H1235.9V413.3H1222.2zM1249.7 413.3H1263.4V425H1249.7z"/>
<path fill="#ffffff" d="M1208.5 354.9H1263.4V366.6H1208.5zM1208.5 366.6H1263.4V378.3H1208.5zM1222.2 378.3H1263.4V390H1222.2zM1235.9 390H1263.4V401.7H1235.9zM1235.9 401.7H1263.4V413.3H1235.9z"/>
</g>
<path transform="translate(0 320)" fill="#fff" d="M905.2 248.3L1007.9 247.5L1020.4 253.1L1032.8 262.4L1045.3 274.9L1057.7 290.4L1072.2 299.8L1086.8 309.1L1099.2 316.4L1115.8 324.7L1126.2 330.9L1129.3 340.2L905.2 340.2Z"/>
<path transform="translate(0 320)" fill="none" stroke="#000" stroke-width="2.2" stroke-linejoin="round" d="M900 63.7L906.3 64.2L910.5 69L913.7 70.6L926.9 70.6L927.9 74.3L928.5 84.8M928.5 84.8L930.6 86.9L935.8 89L942.1 88.5L947.4 93.2L949.5 91.6L952.7 92.2L961.1 88.5L962.2 82.7L973.8 79.5L987.5 75.3L989.6 69L991.7 62.7L1001.2 61.1L1005.4 60.6L1008.5 56.9L1011.7 57.4L1020.1 60.6L1022.8 60L1033.8 60.6L1037 62.7L1045.4 61.6L1049.6 66.4L1058.1 63.7L1066.5 60.6L1072.8 63.7L1074.9 60.6L1079.1 56.3L1090 54.2M980.1 35.3L984.3 36.3L987.5 38.4L994.8 40.5L1002.2 44.8L1009.6 45.8L1015.9 47.9L1025.4 50L1022.8 52.1L1022.8 60M1045.4 34.7L1050.7 36.3L1051.7 42.6L1056 49L1051.7 52.1L1046.5 56.3L1045.4 61.6M928.5 84.8L926.3 93.2L925.3 101.7L920 103.8L914.8 109L915.8 116.4L922.1 118.5L916.9 123.8L916.9 126.9L921.1 137.5L921.1 149.1L936.9 151.2L939 156.4L923.2 173.3M923.2 174.4L949.5 180.7L979 180.2L995.9 178.6L1019.1 173.3L1018 167L1020.1 157.5L1030.7 152.2L1042.3 151.2L1045.4 148L1052.8 143.8L1061.2 145.9L1064.4 145.9L1066 144.1L1072.2 135.8L1076.4 129.6L1083.2 124.8L1090.5 120.6L1085.3 114.3L1082.1 113.2L1083.2 111.1L1099 111.1L1105.3 108L1104.2 101.7L1110.6 95.3L1113.7 92.2L1112.7 84.8L1105.3 79.5L1113.7 70M923.2 174.4L928.5 177.5L935.8 190L935.9 190.9L943.5 194.1L953.3 197.4L955.4 201.7L957.6 211.5L965.2 214.8L964.1 221.3L954.3 225.7L943.5 227.8L935.9 230L935.9 245.2M1080 55.3L1086.3 56.3L1089.5 52.1L1095.8 44.8L1102.1 42.6L1108.5 46.9L1111.6 51.1L1110.6 56.3L1110.6 64.8L1113.7 69.5L1120 69L1127.4 65.8L1138 64.8L1153.8 66.4L1164.3 63.7L1172.7 60.6L1176.9 58.5L1173.8 55.3L1171.7 45.8L1169.6 40.5L1155.9 40L1152.7 36.3L1153.8 34.2M1117.9 70.6L1127.4 67.9L1138 66.9L1153.8 66.9L1164.3 64.2M1130.6 61.6L1145.3 58.5L1153.8 59.5L1164.3 60.6L1172.7 61.1M1130.6 76.4L1129.5 81.6L1134.8 83.7L1141.1 82.7L1145.3 86.9L1151.7 89L1153.8 93.2L1158 94.3L1155.9 99.5L1146.4 102.7L1149.5 124.8L1169.6 129.1L1168.5 133.3L1176.9 135.4L1180.1 138.5L1170.6 139.6L1166.4 144.9L1167.5 154.3L1164.3 156.4L1158 162.8L1153.8 167L1149.5 170.1L1145.3 175.4L1140.1 182.8L1136.9 190L1125 196L1110 200L1097 205L1090 199L1083 205L1077 214L1077 220L1086 221L1088 229L1095 236L1101 244L1104.4 252.7M1164.3 63.7L1179.1 64.8L1185.4 70L1195.9 74.3L1205.4 79.5L1206.4 83.7L1215.9 89L1225.4 88L1231.7 84.8L1242.3 81.6L1250.7 80.6L1263.4 83.7M1263.4 101.7L1259.1 102.7L1252.8 106.9L1244.4 111.1L1244.4 117.5L1248.6 121.7L1252.8 122.7L1253.9 130.1L1248.6 131.2L1240.2 131.2L1236 133.3L1238.1 137.5L1242.3 141.7L1242.3 149.1L1246.5 154.3L1252.8 156.4L1259.1 157.5L1263.4 158.6M900 241.7L906.5 242L916.3 244.1L932.6 246.3L943.5 244.1L965.2 243L978.3 242L992.4 243L1003.3 242L1014.1 240.9L1019.6 239.2L1019 239.6L1025.3 241.1L1026.4 248.5L1031.6 249.6L1034.8 252.7L1036.9 260.1L1042.2 264.3L1047.4 265.4L1054.8 264.3L1060.1 263.3L1062.2 258L1065.4 255.9L1073.8 258L1084.3 258L1094.9 257L1103.3 255.9L1104.4 252.7M1047.4 265.4L1054.8 266.4L1059 270.7L1063.3 275.9L1069.6 279.1L1075.9 281.2L1083.3 280.1L1089.6 277L1094.9 272.8L1099.1 268.6L1101.2 266.4L1103.8 260.1L1103.3 255.9M1067.5 288.1L1073.8 286.5L1084.3 284.4L1092.8 280.1L1098 274.9L1101.2 268.6M1067.5 288.1L1073.8 294.9L1083.3 302.3L1091.7 308.6L1100.1 312.8L1105.4 310.7L1111.7 308.6L1118.1 305.4L1124.4 301.2L1128.6 301.2L1132.8 306.5L1136 311.8L1136 317L1133.9 321.3L1132.8 327.6L1134.9 331.8L1136 340M1080 300.7L1101.7 310.4L1110.4 309.3L1120.2 305L1126.7 300.7L1134.3 308.3L1136.5 315.9L1132.2 326.7L1135.4 337.6L1134.9 343"/>
<path d="M1213.4 485.7h0M1217.3 499.7h0M1212.8 504.5h0M1183.9 486.4h0M1207.5 506.4h0M1198.3 474.3h0M1203.4 465.5h0M1215.8 496.1h0M1212.7 481.2h0M1222.4 510.2h0M1199.4 464.4h0M1185.1 498.9h0M1192.9 482h0M1199.5 472.3h0M1184 487.7h0M1188.4 498.2h0M1198 507h0M1210 478.9h0M1216.1 505.5h0M1195.8 477.6h0M1209.2 469.6h0M1214 497.9h0M1210.3 504.2h0M1199 492.7h0M1184.4 468.2h0M1208.6 487.5h0M1203.9 503.3h0M1207 491.9h0M1203.6 478.5h0M1179.5 485.6h0M1187.9 484.1h0M1180.7 477.2h0M1191.5 497.8h0M1203.5 504.4h0M1208.4 484h0M1179.1 466.9h0M1211 487h0M1185.4 489.1h0M1185 499.6h0M1198.4 482.6h0M1191.8 496.1h0M1194.6 466.8h0M1219.5 499.8h0M1213.6 500.7h0M1198.6 476.7h0M1198.9 473h0M1192 493.3h0M1212.7 500.9h0M1197.8 495.9h0M1204.7 497.1h0M1181.9 484.5h0M1180 488.7h0M1193.1 469.9h0M1182.8 493.8h0M1204.6 480.8h0M1205 463.3h0M1221.8 488.1h0M1200.3 488.5h0M1220.9 492.9h0M1199.7 476.5h0M1193.2 490.1h0M1215.8 510.4h0M1184.5 491.9h0M1183 498.3h0M1190.9 497.6h0M1211.3 503.5h0M1203.4 482.1h0M1215.9 505.7h0M1191.3 489.8h0M1218.8 502.4h0M1091.2 515.8h0M1092.6 518.3h0M1093.7 514.3h0M1096.6 515.6h0M1098.7 514.7h0M1094.1 511h0M1101.2 517h0M1098.6 512.2h0M1103.1 510.3h0M1099.4 513.5h0M1101.5 511.7h0M1103.2 512h0M1107.6 511h0M1107.1 506.2h0M1106.8 508.2h0M1105.6 507.7h0M1108.5 511h0M1107.6 508.8h0M1110.5 507.6h0M1114.7 509h0M1116.6 507.1h0M1113.5 506.5h0M1116.6 506.9h0M1115 506.3h0M1118.9 510.9h0M1123.4 503.5h0M1120.1 501.8h0M1120.6 505.1h0M1125.5 502.5h0M1122.8 499.1h0M1123.8 501.4h0M1125.7 501.5h0M1129.3 499.4h0M1129.1 507.2h0M1132.2 500.3h0M1141.4 508.4h0M1137.8 501.3h0M1143.6 505.4h0M1143.5 501.1h0M1149.9 502.3h0M1150.2 500.8h0M1150.8 500.4h0M1155.8 501.1h0M1157.9 501.4h0M1163.8 500.5h0M1165.1 500h0M1167.1 498.2h0M1170.4 499.2h0M1040.4 497.9h0M1038.8 497h0M1037.5 503.2h0M1041 504.9h0M1038.8 508.7h0M1043.6 508.2h0M1043.3 513.5h0M1045.3 515.5h0M1045.1 515.6h0M1045.1 520.8h0M1040.1 520.2h0M1044.2 523.4h0M1042.8 522.3h0M1043.5 530.4h0M1039.9 531.3h0M1041.5 532h0M1039.8 533.9h0M1043.3 537.7h0M1044 538.7h0M1042.1 542h0M1042.3 542.7h0M1041.3 543.8h0M1040.9 547.6h0M1040.3 549.6h0M1042.2 552.5h0M1044 555.9h0M1044.2 552.6h0M1043.1 555.6h0M1091.8 589.7h0M1091.1 594.3h0M1097.2 582h0M1084.9 580.1h0M1083 589.3h0M1079.3 588.1h0M1090.4 594.4h0M1080.2 589.9h0M1066.2 578.2h0M1086.4 585.7h0M1090.8 591.5h0M1074.3 596.7h0M1090.3 582.4h0M1075.5 583.4h0M1067.7 579.6h0M1096.8 586.2h0M1076.2 592.8h0M1082.5 597.6h0M1091 587.1h0M1085.7 579h0M1083.8 591.8h0M1092.7 582.9h0M1079 586.3h0M1073.1 597.2h0M1072.5 595.3h0M1059.8 491.1h0M1074.3 470.4h0M1117.9 491.1h0M1007.9 545.1h0M939.4 559.6h0M1076.4 556.5h0M1076.4 567.9h0M1126.2 603.2h0M1115.8 451.7h0M1053.6 516h0M1057.7 543h0M1049.4 530.5h0M1066 530.5h0M1068.1 532.6h0M1045.3 570h0M1169.8 481.8h0M1193.6 464.1h0M1206.1 464.1h0M1227.9 512.9h0M1211.3 523.3h0M1105.4 565.8h0M968.5 561.7h0M1024.5 560.6h0M1020.4 559.6h0M1151.1 503.6h0M1159.4 501.5h0" stroke="#000" stroke-width="4.6" stroke-linecap="round"/>
<path transform="translate(0 320)" fill="none" stroke="#1111f2" stroke-width="4.8" stroke-linejoin="round" d="M912.5 242.7L918.7 232.3L937.4 226.1L962.3 221.9L983 219.3L999.6 212.6L1012.1 205.3L1022.4 189.8L1030.7 171.1L1041.1 162.8L1055.6 156.6L1066 146.2L1072.2 135.8L1076.4 125.5L1086.8 110.9L1099.2 102.6L1124.1 97.4L1144.9 98.5L1161.5 103.7L1173.9 110.9L1176 117.2L1186.4 133.8L1200.9 148.3L1215.4 164.9L1220.6 173.2L1221.6 183.6L1217.5 192.9L1209.2 193.9L1196.7 188.7L1184.3 184.6L1169.8 184.6L1149 187.7L1128.3 193.9L1107.5 202.2L1095.1 210.5L1089.9 220.9L1093 233.4L1103.4 245.8L1120 260.3L1142.8 279L1161.5 295.6L1169.8 303.9L1170.8 317.4L1161.5 324.7L1149 328.8L1136.6 329.9L1117.9 322.6L1097.1 312.2L1078.5 301.8L1060.8 292.5L1053.6 283.2L1045.3 272.8L1028.7 260.3L1003.8 246.8L983 246.8L962.3 248.9L941.5 250L920.8 248.9L914.5 245.8Z"/>
</g>
<path d="M942 354.9v7M942 658.8v-7M977.7 354.9v7M977.7 658.8v-7M1013.4 354.9v7M1013.4 658.8v-7M1049.1 354.9v7M1049.1 658.8v-7M1084.8 354.9v7M1084.8 658.8v-7M1120.6 354.9v7M1120.6 658.8v-7M1156.3 354.9v7M1156.3 658.8v-7M1192 354.9v7M1192 658.8v-7M1227.7 354.9v7M1227.7 658.8v-7M906.3 643.6h14M1263.4 643.6h-14M906.3 628.4h7M1263.4 628.4h-7M906.3 613.2h7M1263.4 613.2h-7M906.3 598h7M1263.4 598h-7M906.3 582.8h7M1263.4 582.8h-7M906.3 567.6h14M1263.4 567.6h-14M906.3 552.4h7M1263.4 552.4h-7M906.3 537.2h7M1263.4 537.2h-7M906.3 522h7M1263.4 522h-7M906.3 506.9h7M1263.4 506.9h-7M906.3 491.7h14M1263.4 491.7h-14M906.3 476.5h7M1263.4 476.5h-7M906.3 461.3h7M1263.4 461.3h-7M906.3 446.1h7M1263.4 446.1h-7M906.3 430.9h7M1263.4 430.9h-7M906.3 415.7h14M1263.4 415.7h-14M906.3 400.5h7M1263.4 400.5h-7M906.3 385.3h7M1263.4 385.3h-7M906.3 370.1h7M1263.4 370.1h-7" stroke="#333" stroke-width="1.2" fill="none"/>
<rect x="906.3" y="354.9" width="357.1" height="303.9" fill="none" stroke="#333" stroke-width="1.3"/>
<text x="942.5" y="396.1" font-size="26" fill="#111" stroke="#111" stroke-width="0.45">D2</text>
<text x="1104.4" y="472.4" font-size="25.5" fill="#111" stroke="#111" stroke-width="0.45">89%</text>
<text x="895.6" y="426.5" font-size="26" text-anchor="end" fill="#111" stroke="#111" stroke-width="0.45">35</text>
<text x="895.6" y="502.5" font-size="26" text-anchor="end" fill="#111" stroke="#111" stroke-width="0.45">30</text>
<text x="895.6" y="578.4" font-size="26" text-anchor="end" fill="#111" stroke="#111" stroke-width="0.45">25</text>
<text x="895.6" y="654.4" font-size="26" text-anchor="end" fill="#111" stroke="#111" stroke-width="0.45">20</text>
<g clip-path="url(#spic2)">
<g filter="url(#sblur)">
<rect x="906.3" y="674.9" width="357.1" height="303.9" fill="#ff8200"/>
<path fill="#aa0000" d="M1249.7 838.5H1263.4V850.2H1249.7z"/>
<path fill="#b50000" d="M1249.7 826.9H1263.4V838.5H1249.7zM1235.9 838.5H1249.7V850.2H1235.9z"/>
<path fill="#c10000" d="M1153.5 768.4H1181V780.1H1153.5zM1235.9 826.9H1249.7V838.5H1235.9zM1249.7 850.2H1263.4V861.9H1249.7z"/>
<path fill="#cc0000" d="M1153.5 756.7H1181V768.4H1153.5zM1153.5 780.1H1181V791.8H1153.5zM1222.2 838.5H1235.9V850.2H1222.2zM1235.9 850.2H1249.7V861.9H1235.9zM1249.7 861.9H1263.4V873.6H1249.7z"/>
<path fill="#d70000" d="M1139.8 756.7H1153.5V768.4H1139.8zM1139.8 768.4H1153.5V780.1H1139.8zM1222.2 826.9H1235.9V838.5H1222.2z"/>
<path fill="#e30000" d="M1126.1 756.7H1139.8V768.4H1126.1zM1126.1 768.4H1139.8V780.1H1126.1zM1139.8 780.1H1153.5V791.8H1139.8zM1153.5 791.8H1181V803.5H1153.5zM1222.2 815.2H1263.4V826.9H1222.2zM1208.5 826.9H1222.2V838.5H1208.5zM1208.5 838.5H1222.2V850.2H1208.5zM1222.2 850.2H1235.9V861.9H1222.2zM1235.9 861.9H1249.7V873.6H1235.9z"/>
<path fill="#ee0000" d="M1112.3 768.4H1126.1V780.1H1112.3zM1181 768.4H1194.7V780.1H1181zM1126.1 780.1H1139.8V791.8H1126.1zM1181 780.1H1194.7V791.8H1181zM1126.1 791.8H1153.5V803.5H1126.1zM1181 791.8H1194.7V803.5H1181zM1139.8 803.5H1208.5V815.2H1139.8zM1167.3 815.2H1222.2V826.9H1167.3zM1194.7 826.9H1208.5V838.5H1194.7zM1194.7 838.5H1208.5V850.2H1194.7zM1222.2 861.9H1235.9V873.6H1222.2zM1249.7 873.6H1263.4V885.3H1249.7z"/>
<path fill="#f90000" d="M1112.3 756.7H1126.1V768.4H1112.3zM1098.6 780.1H1126.1V791.8H1098.6zM1084.8 791.8H1126.1V803.5H1084.8zM1194.7 791.8H1208.5V803.5H1194.7zM1084.8 803.5H1139.8V815.2H1084.8zM1208.5 803.5H1235.9V815.2H1208.5zM1084.8 815.2H1167.3V826.9H1084.8zM1071.1 826.9H1112.3V838.5H1071.1zM1153.5 826.9H1194.7V838.5H1153.5zM1084.8 838.5H1098.6V850.2H1084.8zM1181 838.5H1194.7V850.2H1181zM1208.5 850.2H1222.2V861.9H1208.5zM1235.9 873.6H1249.7V885.3H1235.9z"/>
<path fill="#ff0600" d="M1181 756.7H1194.7V768.4H1181zM1098.6 768.4H1112.3V780.1H1098.6zM1084.8 780.1H1098.6V791.8H1084.8zM1194.7 780.1H1208.5V791.8H1194.7zM1071.1 791.8H1084.8V803.5H1071.1zM1208.5 791.8H1222.2V803.5H1208.5zM1071.1 803.5H1084.8V815.2H1071.1zM1235.9 803.5H1263.4V815.2H1235.9zM1057.4 815.2H1084.8V826.9H1057.4zM1057.4 826.9H1071.1V838.5H1057.4zM1112.3 826.9H1153.5V838.5H1112.3zM1057.4 838.5H1084.8V850.2H1057.4zM1098.6 838.5H1139.8V850.2H1098.6zM1167.3 838.5H1181V850.2H1167.3zM1084.8 850.2H1098.6V861.9H1084.8zM1194.7 850.2H1208.5V861.9H1194.7zM1208.5 861.9H1222.2V873.6H1208.5z"/>
<path fill="#ff1100" d="M1126.1 745H1153.5V756.7H1126.1zM1098.6 756.7H1112.3V768.4H1098.6zM1084.8 768.4H1098.6V780.1H1084.8zM1194.7 768.4H1208.5V780.1H1194.7zM1222.2 791.8H1235.9V803.5H1222.2zM1043.6 803.5H1071.1V815.2H1043.6zM1043.6 815.2H1057.4V826.9H1043.6zM1043.6 826.9H1057.4V838.5H1043.6zM1043.6 838.5H1057.4V850.2H1043.6zM1139.8 838.5H1167.3V850.2H1139.8zM1057.4 850.2H1084.8V861.9H1057.4zM1098.6 850.2H1126.1V861.9H1098.6zM1181 850.2H1194.7V861.9H1181zM1084.8 861.9H1098.6V873.6H1084.8zM1222.2 873.6H1235.9V885.3H1222.2z"/>
<path fill="#ff1c00" d="M1112.3 745H1126.1V756.7H1112.3zM1153.5 745H1167.3V756.7H1153.5zM1084.8 756.7H1098.6V768.4H1084.8zM1071.1 780.1H1084.8V791.8H1071.1zM1208.5 780.1H1222.2V791.8H1208.5zM1057.4 791.8H1071.1V803.5H1057.4zM1235.9 791.8H1249.7V803.5H1235.9zM1029.9 826.9H1043.6V838.5H1029.9zM1029.9 838.5H1043.6V850.2H1029.9zM1043.6 850.2H1057.4V861.9H1043.6zM1126.1 850.2H1153.5V861.9H1126.1zM1057.4 861.9H1084.8V873.6H1057.4zM1098.6 861.9H1112.3V873.6H1098.6zM1194.7 861.9H1208.5V873.6H1194.7zM1208.5 873.6H1222.2V885.3H1208.5z"/>
<path fill="#ff2800" d="M1167.3 745H1181V756.7H1167.3zM1071.1 768.4H1084.8V780.1H1071.1zM1222.2 780.1H1235.9V791.8H1222.2zM1043.6 791.8H1057.4V803.5H1043.6zM1249.7 791.8H1263.4V803.5H1249.7zM1029.9 815.2H1043.6V826.9H1029.9zM1016.2 838.5H1029.9V850.2H1016.2zM1029.9 850.2H1043.6V861.9H1029.9zM1153.5 850.2H1181V861.9H1153.5zM1043.6 861.9H1057.4V873.6H1043.6zM1112.3 861.9H1139.8V873.6H1112.3zM1181 861.9H1194.7V873.6H1181zM1057.4 873.6H1112.3V885.3H1057.4z"/>
<path fill="#ff3300" d="M1098.6 745H1112.3V756.7H1098.6zM1194.7 756.7H1208.5V768.4H1194.7zM1208.5 768.4H1222.2V780.1H1208.5zM1057.4 780.1H1071.1V791.8H1057.4zM1235.9 780.1H1249.7V791.8H1235.9zM1029.9 803.5H1043.6V815.2H1029.9zM1016.2 826.9H1029.9V838.5H1016.2zM1016.2 850.2H1029.9V861.9H1016.2zM1029.9 861.9H1043.6V873.6H1029.9zM1139.8 861.9H1153.5V873.6H1139.8zM1043.6 873.6H1057.4V885.3H1043.6zM1112.3 873.6H1126.1V885.3H1112.3zM1194.7 873.6H1208.5V885.3H1194.7zM1071.1 885.3H1098.6V897H1071.1z"/>
<path fill="#ff3e00" d="M1112.3 733.3H1139.8V745H1112.3zM1084.8 745H1098.6V756.7H1084.8zM1071.1 756.7H1084.8V768.4H1071.1zM1222.2 768.4H1235.9V780.1H1222.2zM1249.7 780.1H1263.4V791.8H1249.7zM1029.9 791.8H1043.6V803.5H1029.9zM1016.2 815.2H1029.9V826.9H1016.2zM1002.4 838.5H1016.2V850.2H1002.4zM1002.4 850.2H1016.2V861.9H1002.4zM1016.2 861.9H1029.9V873.6H1016.2zM1153.5 861.9H1181V873.6H1153.5zM1029.9 873.6H1043.6V885.3H1029.9zM1126.1 873.6H1139.8V885.3H1126.1zM1181 873.6H1194.7V885.3H1181zM1057.4 885.3H1071.1V897H1057.4zM1098.6 885.3H1112.3V897H1098.6z"/>
<path fill="#ff4a00" d="M1139.8 733.3H1153.5V745H1139.8zM1057.4 768.4H1071.1V780.1H1057.4zM1235.9 768.4H1249.7V780.1H1235.9zM1043.6 780.1H1057.4V791.8H1043.6zM1002.4 826.9H1016.2V838.5H1002.4zM975 838.5H1002.4V850.2H975zM975 850.2H1002.4V861.9H975zM1002.4 861.9H1016.2V873.6H1002.4zM1016.2 873.6H1029.9V885.3H1016.2zM1139.8 873.6H1153.5V885.3H1139.8zM1029.9 885.3H1057.4V897H1029.9zM1112.3 885.3H1126.1V897H1112.3zM1235.9 885.3H1263.4V897H1235.9zM1057.4 897H1098.6V908.7H1057.4z"/>
<path fill="#ff5500" d="M1098.6 733.3H1112.3V745H1098.6zM1208.5 756.7H1222.2V768.4H1208.5zM1249.7 768.4H1263.4V780.1H1249.7zM1016.2 803.5H1029.9V815.2H1016.2zM988.7 826.9H1002.4V838.5H988.7zM947.5 838.5H975V850.2H947.5zM947.5 850.2H975V861.9H947.5zM920 861.9H1002.4V873.6H920zM988.7 873.6H1016.2V885.3H988.7zM1153.5 873.6H1181V885.3H1153.5zM1016.2 885.3H1029.9V897H1016.2zM1126.1 885.3H1139.8V897H1126.1zM1208.5 885.3H1235.9V897H1208.5zM1043.6 897H1057.4V908.7H1043.6zM1098.6 897H1126.1V908.7H1098.6zM1071.1 908.7H1098.6V920.4H1071.1z"/>
<path fill="#ff6000" d="M1112.3 721.7H1139.8V733.3H1112.3zM1084.8 733.3H1098.6V745H1084.8zM1153.5 733.3H1167.3V745H1153.5zM1071.1 745H1084.8V756.7H1071.1zM1181 745H1194.7V756.7H1181zM1057.4 756.7H1071.1V768.4H1057.4zM1002.4 815.2H1016.2V826.9H1002.4zM975 826.9H988.7V838.5H975zM933.8 838.5H947.5V850.2H933.8zM906.3 850.2H947.5V861.9H906.3zM906.3 861.9H920V873.6H906.3zM906.3 873.6H988.7V885.3H906.3zM1002.4 885.3H1016.2V897H1002.4zM1139.8 885.3H1153.5V897H1139.8zM1181 885.3H1208.5V897H1181zM1029.9 897H1043.6V908.7H1029.9zM1126.1 897H1139.8V908.7H1126.1zM1057.4 908.7H1071.1V920.4H1057.4zM1098.6 908.7H1112.3V920.4H1098.6zM1071.1 920.4H1098.6V932H1071.1zM1084.8 932H1098.6V943.7H1084.8z"/>
<path fill="#ff6c00" d="M1222.2 756.7H1235.9V768.4H1222.2zM1043.6 768.4H1057.4V780.1H1043.6zM1029.9 780.1H1043.6V791.8H1029.9zM1016.2 791.8H1029.9V803.5H1016.2zM988.7 815.2H1002.4V826.9H988.7zM947.5 826.9H975V838.5H947.5zM906.3 838.5H933.8V850.2H906.3zM1153.5 885.3H1181V897H1153.5zM1016.2 897H1029.9V908.7H1016.2zM1139.8 897H1153.5V908.7H1139.8zM1043.6 908.7H1057.4V920.4H1043.6zM1112.3 908.7H1126.1V920.4H1112.3zM1043.6 920.4H1071.1V932H1043.6zM1098.6 920.4H1126.1V932H1098.6zM1057.4 932H1084.8V943.7H1057.4zM1098.6 932H1112.3V943.7H1098.6zM1071.1 943.7H1112.3V955.4H1071.1zM1153.5 943.7H1167.3V955.4H1153.5zM1071.1 955.4H1112.3V967.1H1071.1zM1153.5 955.4H1167.3V967.1H1153.5zM1071.1 967.1H1112.3V978.8H1071.1zM1153.5 967.1H1167.3V978.8H1153.5z"/>
<path fill="#ff7700" d="M1098.6 721.7H1112.3V733.3H1098.6zM1235.9 756.7H1249.7V768.4H1235.9zM1002.4 803.5H1016.2V815.2H1002.4zM975 815.2H988.7V826.9H975zM933.8 826.9H947.5V838.5H933.8zM988.7 885.3H1002.4V897H988.7zM1002.4 897H1016.2V908.7H1002.4zM1153.5 897H1167.3V908.7H1153.5zM1029.9 908.7H1043.6V920.4H1029.9zM1126.1 908.7H1139.8V920.4H1126.1zM1029.9 920.4H1043.6V932H1029.9zM1126.1 920.4H1139.8V932H1126.1zM1043.6 932H1057.4V943.7H1043.6zM1112.3 932H1167.3V943.7H1112.3zM1057.4 943.7H1071.1V955.4H1057.4zM1112.3 943.7H1153.5V955.4H1112.3zM1167.3 943.7H1181V955.4H1167.3zM1057.4 955.4H1071.1V967.1H1057.4zM1112.3 955.4H1153.5V967.1H1112.3zM1167.3 955.4H1181V967.1H1167.3zM1057.4 967.1H1071.1V978.8H1057.4zM1112.3 967.1H1153.5V978.8H1112.3zM1167.3 967.1H1181V978.8H1167.3z"/>
<path fill="#ff8e00" d="M1084.8 721.7H1098.6V733.3H1084.8zM1139.8 721.7H1153.5V733.3H1139.8zM1194.7 745H1208.5V756.7H1194.7zM1029.9 768.4H1043.6V780.1H1029.9zM1016.2 780.1H1029.9V791.8H1016.2zM1002.4 791.8H1016.2V803.5H1002.4zM988.7 803.5H1002.4V815.2H988.7zM961.2 815.2H975V826.9H961.2zM961.2 885.3H975V897H961.2zM988.7 897H1002.4V908.7H988.7zM1181 897H1222.2V908.7H1181zM1002.4 908.7H1016.2V920.4H1002.4zM1153.5 908.7H1167.3V920.4H1153.5zM1016.2 920.4H1029.9V932H1016.2zM1167.3 920.4H1181V932H1167.3zM1029.9 943.7H1043.6V955.4H1029.9zM1181 943.7H1194.7V955.4H1181zM1029.9 955.4H1043.6V967.1H1029.9zM1181 955.4H1194.7V967.1H1181zM1029.9 967.1H1043.6V978.8H1029.9zM1181 967.1H1194.7V978.8H1181z"/>
<path fill="#ff9900" d="M1057.4 733.3H1071.1V745H1057.4zM975 803.5H988.7V815.2H975zM933.8 815.2H961.2V826.9H933.8zM920 885.3H961.2V897H920zM1222.2 897H1235.9V908.7H1222.2zM1167.3 908.7H1181V920.4H1167.3zM1002.4 920.4H1016.2V932H1002.4zM1016.2 932H1029.9V943.7H1016.2zM1181 932H1194.7V943.7H1181z"/>
<path fill="#ffa400" d="M1112.3 710H1139.8V721.7H1112.3zM1071.1 721.7H1084.8V733.3H1071.1zM1043.6 745H1057.4V756.7H1043.6zM988.7 791.8H1002.4V803.5H988.7zM906.3 815.2H933.8V826.9H906.3zM906.3 885.3H920V897H906.3zM975 897H988.7V908.7H975zM1235.9 897H1263.4V908.7H1235.9zM988.7 908.7H1002.4V920.4H988.7zM1181 920.4H1194.7V932H1181zM1002.4 932H1016.2V943.7H1002.4zM1016.2 943.7H1029.9V955.4H1016.2zM1194.7 943.7H1208.5V955.4H1194.7zM1016.2 955.4H1029.9V967.1H1016.2zM1194.7 955.4H1208.5V967.1H1194.7zM1016.2 967.1H1029.9V978.8H1016.2zM1194.7 967.1H1208.5V978.8H1194.7z"/>
<path fill="#ffb000" d="M1098.6 710H1112.3V721.7H1098.6zM1153.5 721.7H1167.3V733.3H1153.5zM1208.5 745H1222.2V756.7H1208.5zM1029.9 756.7H1043.6V768.4H1029.9zM1016.2 768.4H1029.9V780.1H1016.2zM1002.4 780.1H1016.2V791.8H1002.4zM961.2 803.5H975V815.2H961.2zM1181 908.7H1194.7V920.4H1181zM988.7 920.4H1002.4V932H988.7zM1194.7 920.4H1208.5V932H1194.7zM1194.7 932H1208.5V943.7H1194.7zM1208.5 955.4H1222.2V967.1H1208.5zM1208.5 967.1H1222.2V978.8H1208.5z"/>
<path fill="#ffbb00" d="M1084.8 710H1098.6V721.7H1084.8zM1057.4 721.7H1071.1V733.3H1057.4zM1043.6 733.3H1057.4V745H1043.6zM1181 733.3H1194.7V745H1181zM1029.9 745H1043.6V756.7H1029.9zM1222.2 745H1235.9V756.7H1222.2zM975 791.8H988.7V803.5H975zM933.8 803.5H961.2V815.2H933.8zM961.2 897H975V908.7H961.2zM1194.7 908.7H1208.5V920.4H1194.7zM1208.5 932H1222.2V943.7H1208.5zM1002.4 943.7H1016.2V955.4H1002.4zM1208.5 943.7H1222.2V955.4H1208.5zM1002.4 955.4H1016.2V967.1H1002.4zM1002.4 967.1H1016.2V978.8H1002.4z"/>
<path fill="#ffc600" d="M1071.1 710H1084.8V721.7H1071.1zM1139.8 710H1153.5V721.7H1139.8zM1235.9 745H1249.7V756.7H1235.9zM988.7 780.1H1002.4V791.8H988.7zM961.2 791.8H975V803.5H961.2zM906.3 803.5H933.8V815.2H906.3zM975 908.7H988.7V920.4H975zM1208.5 908.7H1222.2V920.4H1208.5zM1208.5 920.4H1222.2V932H1208.5zM988.7 932H1002.4V943.7H988.7zM1222.2 943.7H1235.9V955.4H1222.2zM1222.2 955.4H1235.9V967.1H1222.2zM1222.2 967.1H1235.9V978.8H1222.2z"/>
<path fill="#ffd200" d="M1057.4 710H1071.1V721.7H1057.4zM1043.6 721.7H1057.4V733.3H1043.6zM1029.9 733.3H1043.6V745H1029.9zM1249.7 745H1263.4V756.7H1249.7zM1016.2 756.7H1029.9V768.4H1016.2zM1002.4 768.4H1016.2V780.1H1002.4zM975 780.1H988.7V791.8H975zM947.5 791.8H961.2V803.5H947.5zM933.8 897H961.2V908.7H933.8zM1222.2 920.4H1235.9V932H1222.2zM1222.2 932H1235.9V943.7H1222.2zM1235.9 943.7H1249.7V955.4H1235.9zM1235.9 955.4H1249.7V967.1H1235.9zM1235.9 967.1H1249.7V978.8H1235.9z"/>
<path fill="#ffdd00" d="M1098.6 698.3H1126.1V710H1098.6zM1167.3 721.7H1181V733.3H1167.3zM1016.2 745H1029.9V756.7H1016.2zM920 791.8H947.5V803.5H920zM906.3 897H933.8V908.7H906.3zM1222.2 908.7H1235.9V920.4H1222.2zM975 920.4H988.7V932H975zM1235.9 932H1249.7V943.7H1235.9zM988.7 943.7H1002.4V955.4H988.7zM1249.7 943.7H1263.4V955.4H1249.7zM988.7 955.4H1002.4V967.1H988.7zM1249.7 955.4H1263.4V967.1H1249.7zM988.7 967.1H1002.4V978.8H988.7zM1249.7 967.1H1263.4V978.8H1249.7z"/>
<path fill="#ffe800" d="M1071.1 698.3H1098.6V710H1071.1zM1126.1 698.3H1139.8V710H1126.1zM1043.6 710H1057.4V721.7H1043.6zM1153.5 710H1167.3V721.7H1153.5zM1029.9 721.7H1043.6V733.3H1029.9zM1016.2 733.3H1029.9V745H1016.2zM1194.7 733.3H1208.5V745H1194.7zM988.7 768.4H1002.4V780.1H988.7zM947.5 780.1H975V791.8H947.5zM906.3 791.8H920V803.5H906.3zM961.2 908.7H975V920.4H961.2zM1235.9 920.4H1249.7V932H1235.9zM975 932H988.7V943.7H975zM1249.7 932H1263.4V943.7H1249.7z"/>
<path fill="#fff400" d="M1057.4 698.3H1071.1V710H1057.4zM1029.9 710H1043.6V721.7H1029.9zM1002.4 756.7H1016.2V768.4H1002.4zM975 768.4H988.7V780.1H975zM906.3 780.1H947.5V791.8H906.3zM1235.9 908.7H1249.7V920.4H1235.9zM1249.7 920.4H1263.4V932H1249.7z"/>
<path fill="#ffff00" d="M1043.6 698.3H1057.4V710H1043.6zM1139.8 698.3H1153.5V710H1139.8zM1016.2 721.7H1029.9V733.3H1016.2zM1002.4 745H1016.2V756.7H1002.4zM947.5 768.4H975V780.1H947.5zM947.5 908.7H961.2V920.4H947.5zM1249.7 908.7H1263.4V920.4H1249.7zM961.2 920.4H975V932H961.2zM975 943.7H988.7V955.4H975zM975 955.4H988.7V967.1H975zM975 967.1H988.7V978.8H975z"/>
<path fill="#ffff11" d="M1029.9 698.3H1043.6V710H1029.9zM1016.2 710H1029.9V721.7H1016.2zM1167.3 710H1181V721.7H1167.3zM1002.4 721.7H1016.2V733.3H1002.4zM1181 721.7H1194.7V733.3H1181zM1002.4 733.3H1016.2V745H1002.4zM1208.5 733.3H1222.2V745H1208.5zM988.7 745H1002.4V756.7H988.7zM975 756.7H1002.4V768.4H975zM906.3 768.4H947.5V780.1H906.3zM933.8 908.7H947.5V920.4H933.8z"/>
<path fill="#ffff22" d="M1029.9 674.9H1112.3V686.6H1029.9zM1016.2 686.6H1126.1V698.3H1016.2zM1002.4 698.3H1029.9V710H1002.4zM988.7 710H1016.2V721.7H988.7zM988.7 721.7H1002.4V733.3H988.7zM975 733.3H1002.4V745H975zM1222.2 733.3H1235.9V745H1222.2zM906.3 745H988.7V756.7H906.3zM906.3 756.7H975V768.4H906.3zM920 908.7H933.8V920.4H920zM947.5 920.4H961.2V932H947.5zM961.2 932H975V943.7H961.2z"/>
<path fill="#ffff33" d="M906.3 674.9H1029.9V686.6H906.3zM1112.3 674.9H1126.1V686.6H1112.3zM906.3 686.6H1016.2V698.3H906.3zM1126.1 686.6H1139.8V698.3H1126.1zM906.3 698.3H1002.4V710H906.3zM1153.5 698.3H1167.3V710H1153.5zM906.3 710H988.7V721.7H906.3zM906.3 721.7H988.7V733.3H906.3zM906.3 733.3H975V745H906.3zM1235.9 733.3H1263.4V745H1235.9zM906.3 908.7H920V920.4H906.3zM933.8 920.4H947.5V932H933.8zM961.2 943.7H975V955.4H961.2z"/>
<path fill="#ffff44" d="M1126.1 674.9H1139.8V686.6H1126.1zM947.5 932H961.2V943.7H947.5zM961.2 955.4H975V967.1H961.2zM961.2 967.1H975V978.8H961.2z"/>
<path fill="#ffff55" d="M1181 710H1194.7V721.7H1181zM906.3 920.4H933.8V932H906.3zM933.8 932H947.5V943.7H933.8z"/>
<path fill="#ffff66" d="M1139.8 686.6H1153.5V698.3H1139.8zM1167.3 698.3H1181V710H1167.3zM1194.7 721.7H1208.5V733.3H1194.7zM947.5 943.7H961.2V955.4H947.5zM947.5 955.4H961.2V967.1H947.5zM947.5 967.1H961.2V978.8H947.5z"/>
<path fill="#ffff77" d="M1139.8 674.9H1153.5V686.6H1139.8zM906.3 932H933.8V943.7H906.3zM933.8 943.7H947.5V955.4H933.8z"/>
<path fill="#ffff88" d="M1153.5 686.6H1167.3V698.3H1153.5zM933.8 955.4H947.5V967.1H933.8zM933.8 967.1H947.5V978.8H933.8z"/>
<path fill="#ffff99" d="M1153.5 674.9H1167.3V686.6H1153.5zM1181 698.3H1194.7V710H1181zM1194.7 710H1208.5V721.7H1194.7zM1208.5 721.7H1222.2V733.3H1208.5zM920 943.7H933.8V955.4H920zM920 955.4H933.8V967.1H920zM920 967.1H933.8V978.8H920z"/>
<path fill="#ffffaa" d="M1222.2 721.7H1263.4V733.3H1222.2zM906.3 943.7H920V955.4H906.3zM906.3 955.4H920V967.1H906.3zM906.3 967.1H920V978.8H906.3z"/>
<path fill="#ffffbb" d="M1167.3 686.6H1181V698.3H1167.3zM1208.5 710H1222.2V721.7H1208.5z"/>
<path fill="#ffffcc" d="M1167.3 674.9H1181V686.6H1167.3zM1194.7 698.3H1208.5V710H1194.7zM1222.2 710H1263.4V721.7H1222.2z"/>
<path fill="#ffffdd" d="M1181 674.9H1194.7V686.6H1181zM1181 686.6H1194.7V698.3H1181z"/>
<path fill="#ffffee" d="M1194.7 686.6H1208.5V698.3H1194.7zM1208.5 698.3H1263.4V710H1208.5z"/>
<path fill="#ffffff" d="M1194.7 674.9H1263.4V686.6H1194.7zM1208.5 686.6H1263.4V698.3H1208.5z"/>
</g>
<path transform="translate(0 640)" fill="#fff" d="M905.2 248.3L1007.9 247.5L1020.4 253.1L1032.8 262.4L1045.3 274.9L1057.7 290.4L1072.2 299.8L1086.8 309.1L1099.2 316.4L1115.8 324.7L1126.2 330.9L1129.3 340.2L905.2 340.2Z"/>
<path transform="translate(0 640)" fill="none" stroke="#000" stroke-width="2.2" stroke-linejoin="round" d="M900 63.7L906.3 64.2L910.5 69L913.7 70.6L926.9 70.6L927.9 74.3L928.5 84.8M928.5 84.8L930.6 86.9L935.8 89L942.1 88.5L947.4 93.2L949.5 91.6L952.7 92.2L961.1 88.5L962.2 82.7L973.8 79.5L987.5 75.3L989.6 69L991.7 62.7L1001.2 61.1L1005.4 60.6L1008.5 56.9L1011.7 57.4L1020.1 60.6L1022.8 60L1033.8 60.6L1037 62.7L1045.4 61.6L1049.6 66.4L1058.1 63.7L1066.5 60.6L1072.8 63.7L1074.9 60.6L1079.1 56.3L1090 54.2M980.1 35.3L984.3 36.3L987.5 38.4L994.8 40.5L1002.2 44.8L1009.6 45.8L1015.9 47.9L1025.4 50L1022.8 52.1L1022.8 60M1045.4 34.7L1050.7 36.3L1051.7 42.6L1056 49L1051.7 52.1L1046.5 56.3L1045.4 61.6M928.5 84.8L926.3 93.2L925.3 101.7L920 103.8L914.8 109L915.8 116.4L922.1 118.5L916.9 123.8L916.9 126.9L921.1 137.5L921.1 149.1L936.9 151.2L939 156.4L923.2 173.3M923.2 174.4L949.5 180.7L979 180.2L995.9 178.6L1019.1 173.3L1018 167L1020.1 157.5L1030.7 152.2L1042.3 151.2L1045.4 148L1052.8 143.8L1061.2 145.9L1064.4 145.9L1066 144.1L1072.2 135.8L1076.4 129.6L1083.2 124.8L1090.5 120.6L1085.3 114.3L1082.1 113.2L1083.2 111.1L1099 111.1L1105.3 108L1104.2 101.7L1110.6 95.3L1113.7 92.2L1112.7 84.8L1105.3 79.5L1113.7 70M923.2 174.4L928.5 177.5L935.8 190L935.9 190.9L943.5 194.1L953.3 197.4L955.4 201.7L957.6 211.5L965.2 214.8L964.1 221.3L954.3 225.7L943.5 227.8L935.9 230L935.9 245.2M1080 55.3L1086.3 56.3L1089.5 52.1L1095.8 44.8L1102.1 42.6L1108.5 46.9L1111.6 51.1L1110.6 56.3L1110.6 64.8L1113.7 69.5L1120 69L1127.4 65.8L1138 64.8L1153.8 66.4L1164.3 63.7L1172.7 60.6L1176.9 58.5L1173.8 55.3L1171.7 45.8L1169.6 40.5L1155.9 40L1152.7 36.3L1153.8 34.2M1117.9 70.6L1127.4 67.9L1138 66.9L1153.8 66.9L1164.3 64.2M1130.6 61.6L1145.3 58.5L1153.8 59.5L1164.3 60.6L1172.7 61.1M1130.6 76.4L1129.5 81.6L1134.8 83.7L1141.1 82.7L1145.3 86.9L1151.7 89L1153.8 93.2L1158 94.3L1155.9 99.5L1146.4 102.7L1149.5 124.8L1169.6 129.1L1168.5 133.3L1176.9 135.4L1180.1 138.5L1170.6 139.6L1166.4 144.9L1167.5 154.3L1164.3 156.4L1158 162.8L1153.8 167L1149.5 170.1L1145.3 175.4L1140.1 182.8L1136.9 190L1125 196L1110 200L1097 205L1090 199L1083 205L1077 214L1077 220L1086 221L1088 229L1095 236L1101 244L1104.4 252.7M1164.3 63.7L1179.1 64.8L1185.4 70L1195.9 74.3L1205.4 79.5L1206.4 83.7L1215.9 89L1225.4 88L1231.7 84.8L1242.3 81.6L1250.7 80.6L1263.4 83.7M1263.4 101.7L1259.1 102.7L1252.8 106.9L1244.4 111.1L1244.4 117.5L1248.6 121.7L1252.8 122.7L1253.9 130.1L1248.6 131.2L1240.2 131.2L1236 133.3L1238.1 137.5L1242.3 141.7L1242.3 149.1L1246.5 154.3L1252.8 156.4L1259.1 157.5L1263.4 158.6M900 241.7L906.5 242L916.3 244.1L932.6 246.3L943.5 244.1L965.2 243L978.3 242L992.4 243L1003.3 242L1014.1 240.9L1019.6 239.2L1019 239.6L1025.3 241.1L1026.4 248.5L1031.6 249.6L1034.8 252.7L1036.9 260.1L1042.2 264.3L1047.4 265.4L1054.8 264.3L1060.1 263.3L1062.2 258L1065.4 255.9L1073.8 258L1084.3 258L1094.9 257L1103.3 255.9L1104.4 252.7M1047.4 265.4L1054.8 266.4L1059 270.7L1063.3 275.9L1069.6 279.1L1075.9 281.2L1083.3 280.1L1089.6 277L1094.9 272.8L1099.1 268.6L1101.2 266.4L1103.8 260.1L1103.3 255.9M1067.5 288.1L1073.8 286.5L1084.3 284.4L1092.8 280.1L1098 274.9L1101.2 268.6M1067.5 288.1L1073.8 294.9L1083.3 302.3L1091.7 308.6L1100.1 312.8L1105.4 310.7L1111.7 308.6L1118.1 305.4L1124.4 301.2L1128.6 301.2L1132.8 306.5L1136 311.8L1136 317L1133.9 321.3L1132.8 327.6L1134.9 331.8L1136 340M1080 300.7L1101.7 310.4L1110.4 309.3L1120.2 305L1126.7 300.7L1134.3 308.3L1136.5 315.9L1132.2 326.7L1135.4 337.6L1134.9 343"/>
<path d="M1210.5 823.9h0M1169.6 797.5h0M1168 785.4h0M1206.7 833.6h0M1227.4 831.7h0M1212.6 836h0M1170.3 795h0M1175.7 814.5h0M1215.6 822.6h0M1185.1 827.7h0M1230.7 821.4h0M1173.6 793.9h0M1218.1 823h0M1204.9 827.1h0M1209.5 842.6h0M1177.2 814.8h0M1193.7 812.6h0M1175.4 790.7h0M1185.6 801.7h0M1195.2 821.4h0M1208.5 808.5h0M1194 796.1h0M1205.5 802.5h0M1170 809h0M1198.2 796.6h0M1204.5 818.5h0M1212.8 823.7h0M1209.7 802.4h0M1218.3 817.4h0M1195.4 822.3h0M1190.9 815h0M1215.1 839.1h0M1226.9 814.5h0M1201.2 833.5h0M1171.3 800.1h0M1189.2 793.2h0M1187.9 829.8h0M1177.6 820.7h0M1175.4 805.5h0M1211.9 827.4h0M1192.6 823.3h0M1168.4 795.5h0M1231.3 817.8h0M1176.8 810.9h0M1216.3 810h0M1197.9 791.7h0M1170.6 797h0M1186.5 813.6h0M1205.4 813.8h0M1173.1 797.7h0M1222 823.1h0M1209.4 825.2h0M1191.3 816.8h0M1198.7 831.5h0M1222.5 814.5h0M1226.2 819.8h0M1199.8 816.2h0M1174.4 807.7h0M1226.7 822.6h0M1179.1 803.9h0M1227.4 810.9h0M1187.5 820.6h0M1168.2 799.9h0M1212.9 822.8h0M1230.8 822h0M1198.4 831h0M1225.8 828.4h0M1229.7 832.4h0M1214.8 810.4h0M1203.3 824.1h0M1186.2 829.3h0M1215.9 804.3h0M1175.7 784.7h0M1217.7 813.6h0M1203.4 833.7h0M1227.2 835h0M1170.1 806h0M1170.8 789.1h0M1211.1 827.9h0M1217.5 837.7h0M1215.3 833.6h0M1170.8 797.1h0M1207.7 837.3h0M1205.7 807.6h0M1179.8 787.5h0M1189.7 828.2h0M1186.8 808.3h0M1176.5 819h0M1231.9 827.1h0M1206 807.3h0M1226.6 814h0M1176.3 805.6h0M1172 795h0M1208.5 804.1h0M1216.1 816.8h0M1182.8 803h0M1226.2 816.1h0M1215.4 820.1h0M1209.7 801.3h0M1183.2 802.8h0M1185.9 818.2h0M1218.6 832.5h0M1195.9 812.7h0M1231.7 825.5h0M1220.1 840.1h0M1209.7 843.5h0M1200.7 809.9h0M1174.3 784.7h0M1183.5 786.3h0M1197 815.3h0M1174.9 806.8h0M1181 801.5h0M1193 808.9h0M1167.8 789.3h0M1200.4 813.5h0M1189.1 809.8h0M1217.9 836.2h0M1184.4 802.8h0M1183.3 812.9h0M1170.7 790.9h0M1183.2 818.7h0M1205.7 836.7h0M1217.4 837.1h0M1196.9 820.9h0M1219.1 820.7h0M1181.6 808.7h0M1188.1 787.1h0M1169.6 804.3h0M1168.9 792.7h0M1214.3 827.6h0M1215.2 802.5h0M1224.9 820.3h0M1175.8 791.3h0M1167.9 783.1h0M1231.6 819.7h0M1224.3 816.5h0M1207.7 799.6h0M1186.7 824.7h0M1206 796.9h0M1207 817.7h0M1193.2 825.6h0M1214.4 818.5h0M1194.7 815.2h0M1201.2 808.3h0M1193.1 826h0M1179.2 794.9h0M1181.3 812.3h0M1214.9 838.6h0M1192.1 815.3h0M1215.4 829.1h0M1218.1 818.7h0M1223.4 833.4h0M1174.1 795.2h0M1214 839.2h0M1193.1 802.6h0M1206.8 819.4h0M1194 820.8h0M1227.9 812.1h0M1180.3 806.3h0M1193 790.5h0M1178.2 826.1h0M1183.4 788.4h0M1216.2 838.7h0M1185.6 795.1h0M1179.6 815.6h0M1197.8 798.7h0M1229.4 824h0M1183.9 801h0M1216.9 838.5h0M1172.3 790.9h0M1088.1 926.1h0M1110.8 925.7h0M1077.7 936.6h0M1108.4 932.5h0M1087.5 919.7h0M1095.4 933.4h0M1122.1 913.9h0M1085.2 936.4h0M1079 921.2h0M1098.7 915.2h0M1117.6 936.6h0M1104.6 915.3h0M1134.3 937.9h0M1122.5 924.8h0M1101.6 925.3h0M1105 921.9h0M1106.3 913.9h0M1089.4 928h0M1099.8 920.7h0M1104.6 913.2h0M1119.9 923.1h0M1090.9 934.6h0M1111.2 933.1h0M1111.9 920.4h0M1118.8 922.8h0M1113.9 927.7h0M1100.3 940.1h0M1090.9 912.8h0M1115.3 936.4h0M1130.8 933h0M1113.9 917.2h0M1119.6 920.8h0M1106.8 932h0M1103 938.6h0M1096.5 929.4h0M1090.9 921h0M1098 911h0M1072.7 930.1h0M1113.6 929.9h0M1080.4 934h0M1114.5 911.1h0M1086.6 930.4h0M1105.4 931.3h0M1084.5 928.6h0M1095 930.7h0M1129.6 928.1h0M1098.3 939.6h0M1105.6 923.8h0M1111.9 918.4h0M1133.1 936.3h0M1121.5 933.5h0M1100.9 922.7h0M1083.5 929.3h0M1087 915.7h0M1108.6 921h0M1081.9 935.4h0M1123.9 936.2h0M1076.1 933.9h0M1077.2 921.5h0M1111 939.5h0M1076 934.5h0M1085.7 937.8h0M1114.2 910.5h0M1096.8 926h0M1102.4 930.8h0M1072.9 932.2h0M1099.5 921.5h0M1069.7 930.3h0M1091.7 934.3h0M1126.4 935.5h0M1096.3 917.9h0M1120.4 934.8h0M1101.7 938.1h0M1076.5 937.6h0M1097.7 933.9h0M1068.5 929.6h0M1076.7 936.9h0M1125.8 925.6h0M1094.7 932.6h0M1084.7 933.1h0M1103.3 829.8h0M1106.8 826.9h0M1104.7 828.3h0M1108.5 829.1h0M1110.6 827.5h0M1112.9 828.5h0M1113.7 828h0M1115.5 825.9h0M1117.7 826.1h0M1118.6 827.1h0M1117.8 823.6h0M1120.8 824.2h0M1045.3 850.5h0M1051.5 848.5h0M1046.3 857.8h0M1041.1 866.1h0M1049.4 870.2h0M1054.6 870.2h0M1041.1 876.5h0M1076.4 887.9h0M1168.7 970.9h0M1117.9 906.6h0M1094 908.6h0M1178.1 813.2h0M1176 1002h0" stroke="#000" stroke-width="4.6" stroke-linecap="round"/>
<path transform="translate(0 640)" fill="none" stroke="#1111f2" stroke-width="4.8" stroke-linejoin="round" d="M912.5 242.7L918.7 232.3L937.4 226.1L962.3 221.9L983 219.3L999.6 212.6L1012.1 205.3L1022.4 189.8L1030.7 171.1L1041.1 162.8L1055.6 156.6L1066 146.2L1072.2 135.8L1076.4 125.5L1086.8 110.9L1099.2 102.6L1124.1 97.4L1144.9 98.5L1161.5 103.7L1173.9 110.9L1176 117.2L1186.4 133.8L1200.9 148.3L1215.4 164.9L1220.6 173.2L1221.6 183.6L1217.5 192.9L1209.2 193.9L1196.7 188.7L1184.3 184.6L1169.8 184.6L1149 187.7L1128.3 193.9L1107.5 202.2L1095.1 210.5L1089.9 220.9L1093 233.4L1103.4 245.8L1120 260.3L1142.8 279L1161.5 295.6L1169.8 303.9L1170.8 317.4L1161.5 324.7L1149 328.8L1136.6 329.9L1117.9 322.6L1097.1 312.2L1078.5 301.8L1060.8 292.5L1053.6 283.2L1045.3 272.8L1028.7 260.3L1003.8 246.8L983 246.8L962.3 248.9L941.5 250L920.8 248.9L914.5 245.8Z"/>
</g>
<path d="M942 674.9v7M942 978.8v-7M977.7 674.9v7M977.7 978.8v-7M1013.4 674.9v7M1013.4 978.8v-7M1049.1 674.9v7M1049.1 978.8v-7M1084.8 674.9v7M1084.8 978.8v-7M1120.6 674.9v7M1120.6 978.8v-7M1156.3 674.9v7M1156.3 978.8v-7M1192 674.9v7M1192 978.8v-7M1227.7 674.9v7M1227.7 978.8v-7M906.3 963.6h14M1263.4 963.6h-14M906.3 948.4h7M1263.4 948.4h-7M906.3 933.2h7M1263.4 933.2h-7M906.3 918h7M1263.4 918h-7M906.3 902.8h7M1263.4 902.8h-7M906.3 887.6h14M1263.4 887.6h-14M906.3 872.4h7M1263.4 872.4h-7M906.3 857.2h7M1263.4 857.2h-7M906.3 842h7M1263.4 842h-7M906.3 826.9h7M1263.4 826.9h-7M906.3 811.7h14M1263.4 811.7h-14M906.3 796.5h7M1263.4 796.5h-7M906.3 781.3h7M1263.4 781.3h-7M906.3 766.1h7M1263.4 766.1h-7M906.3 750.9h7M1263.4 750.9h-7M906.3 735.7h14M1263.4 735.7h-14M906.3 720.5h7M1263.4 720.5h-7M906.3 705.3h7M1263.4 705.3h-7M906.3 690.1h7M1263.4 690.1h-7" stroke="#333" stroke-width="1.2" fill="none"/>
<rect x="906.3" y="674.9" width="357.1" height="303.9" fill="none" stroke="#333" stroke-width="1.3"/>
<text x="942.5" y="716.1" font-size="26" fill="#111" stroke="#111" stroke-width="0.45">D3</text>
<text x="1104.4" y="792.4" font-size="25.5" fill="#111" stroke="#111" stroke-width="0.45">91%</text>
<text x="895.6" y="746.5" font-size="26" text-anchor="end" fill="#111" stroke="#111" stroke-width="0.45">35</text>
<text x="895.6" y="822.5" font-size="26" text-anchor="end" fill="#111" stroke="#111" stroke-width="0.45">30</text>
<text x="895.6" y="898.4" font-size="26" text-anchor="end" fill="#111" stroke="#111" stroke-width="0.45">25</text>
<text x="895.6" y="974.4" font-size="26" text-anchor="end" fill="#111" stroke="#111" stroke-width="0.45">20</text>
<g clip-path="url(#spic3)">
<g filter="url(#sblur)">
<rect x="906.3" y="994.9" width="357.1" height="303.9" fill="#ff6c00"/>
<path fill="#660000" d="M1235.9 1158.5H1263.4V1170.2H1235.9z"/>
<path fill="#710000" d="M1235.9 1146.8H1263.4V1158.5H1235.9zM1222.2 1158.5H1235.9V1170.2H1222.2z"/>
<path fill="#7d0000" d="M1208.5 1146.8H1235.9V1158.5H1208.5zM1208.5 1158.5H1222.2V1170.2H1208.5zM1249.7 1170.2H1263.4V1181.9H1249.7z"/>
<path fill="#880000" d="M1194.7 1146.8H1208.5V1158.5H1194.7zM1194.7 1158.5H1208.5V1170.2H1194.7zM1235.9 1170.2H1249.7V1181.9H1235.9z"/>
<path fill="#930000" d="M1222.2 1135.2H1263.4V1146.8H1222.2zM1222.2 1170.2H1235.9V1181.9H1222.2z"/>
<path fill="#9f0000" d="M1208.5 1135.2H1222.2V1146.8H1208.5zM1181 1146.8H1194.7V1158.5H1181zM1181 1158.5H1194.7V1170.2H1181zM1208.5 1170.2H1222.2V1181.9H1208.5zM1249.7 1181.9H1263.4V1193.6H1249.7z"/>
<path fill="#aa0000" d="M1194.7 1135.2H1208.5V1146.8H1194.7zM1235.9 1181.9H1249.7V1193.6H1235.9z"/>
<path fill="#b50000" d="M1208.5 1123.5H1263.4V1135.2H1208.5zM1181 1135.2H1194.7V1146.8H1181zM1167.3 1146.8H1181V1158.5H1167.3zM1167.3 1158.5H1181V1170.2H1167.3zM1194.7 1170.2H1208.5V1181.9H1194.7zM1222.2 1181.9H1235.9V1193.6H1222.2z"/>
<path fill="#c10000" d="M1194.7 1123.5H1208.5V1135.2H1194.7zM1167.3 1135.2H1181V1146.8H1167.3zM1153.5 1146.8H1167.3V1158.5H1153.5zM1153.5 1158.5H1167.3V1170.2H1153.5zM1208.5 1181.9H1222.2V1193.6H1208.5zM1249.7 1193.6H1263.4V1205.3H1249.7z"/>
<path fill="#cc0000" d="M1181 1123.5H1194.7V1135.2H1181zM1153.5 1135.2H1167.3V1146.8H1153.5zM1126.1 1146.8H1153.5V1158.5H1126.1zM1126.1 1158.5H1153.5V1170.2H1126.1zM1181 1170.2H1194.7V1181.9H1181zM1235.9 1193.6H1249.7V1205.3H1235.9z"/>
<path fill="#d70000" d="M1208.5 1111.8H1222.2V1123.5H1208.5zM1167.3 1123.5H1181V1135.2H1167.3zM1139.8 1135.2H1153.5V1146.8H1139.8zM1112.3 1146.8H1126.1V1158.5H1112.3zM1098.6 1158.5H1126.1V1170.2H1098.6zM1167.3 1170.2H1181V1181.9H1167.3zM1194.7 1181.9H1208.5V1193.6H1194.7zM1222.2 1193.6H1235.9V1205.3H1222.2z"/>
<path fill="#e30000" d="M1194.7 1111.8H1208.5V1123.5H1194.7zM1222.2 1111.8H1263.4V1123.5H1222.2zM1139.8 1123.5H1167.3V1135.2H1139.8zM1112.3 1135.2H1139.8V1146.8H1112.3zM1071.1 1146.8H1112.3V1158.5H1071.1zM906.3 1158.5H961.2V1170.2H906.3zM1043.6 1158.5H1098.6V1170.2H1043.6zM1057.4 1170.2H1126.1V1181.9H1057.4zM1139.8 1170.2H1167.3V1181.9H1139.8zM1071.1 1181.9H1098.6V1193.6H1071.1zM1208.5 1193.6H1222.2V1205.3H1208.5z"/>
<path fill="#ee0000" d="M1167.3 1111.8H1194.7V1123.5H1167.3zM1098.6 1123.5H1139.8V1135.2H1098.6zM1071.1 1135.2H1112.3V1146.8H1071.1zM1029.9 1146.8H1071.1V1158.5H1029.9zM961.2 1158.5H988.7V1170.2H961.2zM1016.2 1158.5H1043.6V1170.2H1016.2zM906.3 1170.2H975V1181.9H906.3zM1029.9 1170.2H1057.4V1181.9H1029.9zM1126.1 1170.2H1139.8V1181.9H1126.1zM906.3 1181.9H961.2V1193.6H906.3zM1043.6 1181.9H1071.1V1193.6H1043.6zM1098.6 1181.9H1112.3V1193.6H1098.6zM1181 1181.9H1194.7V1193.6H1181zM1057.4 1193.6H1098.6V1205.3H1057.4z"/>
<path fill="#f90000" d="M1153.5 1111.8H1167.3V1123.5H1153.5zM1071.1 1123.5H1098.6V1135.2H1071.1zM1043.6 1135.2H1071.1V1146.8H1043.6zM1016.2 1146.8H1029.9V1158.5H1016.2zM988.7 1158.5H1016.2V1170.2H988.7zM975 1170.2H1002.4V1181.9H975zM1016.2 1170.2H1029.9V1181.9H1016.2zM961.2 1181.9H988.7V1193.6H961.2zM1029.9 1181.9H1043.6V1193.6H1029.9zM1112.3 1181.9H1126.1V1193.6H1112.3zM1043.6 1193.6H1057.4V1205.3H1043.6zM1098.6 1193.6H1112.3V1205.3H1098.6zM1194.7 1193.6H1208.5V1205.3H1194.7z"/>
<path fill="#ff0600" d="M1112.3 1111.8H1153.5V1123.5H1112.3zM1043.6 1123.5H1071.1V1135.2H1043.6zM1029.9 1135.2H1043.6V1146.8H1029.9zM906.3 1146.8H1016.2V1158.5H906.3zM1002.4 1170.2H1016.2V1181.9H1002.4zM988.7 1181.9H1029.9V1193.6H988.7zM1126.1 1181.9H1153.5V1193.6H1126.1zM1167.3 1181.9H1181V1193.6H1167.3zM906.3 1193.6H975V1205.3H906.3zM1016.2 1193.6H1043.6V1205.3H1016.2zM1057.4 1205.3H1098.6V1217H1057.4z"/>
<path fill="#ff1100" d="M1071.1 1111.8H1112.3V1123.5H1071.1zM1029.9 1123.5H1043.6V1135.2H1029.9zM1016.2 1135.2H1029.9V1146.8H1016.2zM1153.5 1181.9H1167.3V1193.6H1153.5zM975 1193.6H1016.2V1205.3H975zM1112.3 1193.6H1126.1V1205.3H1112.3zM1181 1193.6H1194.7V1205.3H1181zM1029.9 1205.3H1057.4V1217H1029.9zM1235.9 1205.3H1263.4V1217H1235.9z"/>
<path fill="#ff1c00" d="M1167.3 1100.1H1249.7V1111.8H1167.3zM1057.4 1111.8H1071.1V1123.5H1057.4zM1126.1 1193.6H1139.8V1205.3H1126.1zM1016.2 1205.3H1029.9V1217H1016.2zM1098.6 1205.3H1112.3V1217H1098.6zM1208.5 1205.3H1235.9V1217H1208.5zM1043.6 1217H1098.6V1228.7H1043.6z"/>
<path fill="#ff2800" d="M1126.1 1100.1H1167.3V1111.8H1126.1zM1249.7 1100.1H1263.4V1111.8H1249.7zM1043.6 1111.8H1057.4V1123.5H1043.6zM1016.2 1123.5H1029.9V1135.2H1016.2zM975 1135.2H1016.2V1146.8H975zM1139.8 1193.6H1153.5V1205.3H1139.8zM1112.3 1205.3H1126.1V1217H1112.3zM1194.7 1205.3H1208.5V1217H1194.7zM1029.9 1217H1043.6V1228.7H1029.9z"/>
<path fill="#ff3300" d="M1084.8 1100.1H1126.1V1111.8H1084.8zM1029.9 1111.8H1043.6V1123.5H1029.9zM933.8 1135.2H975V1146.8H933.8zM1153.5 1193.6H1181V1205.3H1153.5zM988.7 1205.3H1016.2V1217H988.7zM1126.1 1205.3H1139.8V1217H1126.1zM1098.6 1217H1112.3V1228.7H1098.6zM1043.6 1228.7H1084.8V1240.4H1043.6zM1057.4 1240.4H1084.8V1252H1057.4zM1071.1 1252H1084.8V1263.7H1071.1z"/>
<path fill="#ff3e00" d="M1071.1 1100.1H1084.8V1111.8H1071.1zM1002.4 1123.5H1016.2V1135.2H1002.4zM906.3 1135.2H933.8V1146.8H906.3zM961.2 1205.3H988.7V1217H961.2zM1139.8 1205.3H1153.5V1217H1139.8zM1181 1205.3H1194.7V1217H1181zM1016.2 1217H1029.9V1228.7H1016.2zM1112.3 1217H1126.1V1228.7H1112.3zM1029.9 1228.7H1043.6V1240.4H1029.9zM1084.8 1228.7H1098.6V1240.4H1084.8zM1043.6 1240.4H1057.4V1252H1043.6zM1084.8 1240.4H1098.6V1252H1084.8zM1057.4 1252H1071.1V1263.7H1057.4zM1084.8 1252H1098.6V1263.7H1084.8zM1071.1 1263.7H1098.6V1275.4H1071.1zM1071.1 1275.4H1098.6V1287.1H1071.1zM1071.1 1287.1H1098.6V1298.8H1071.1z"/>
<path fill="#ff4a00" d="M1139.8 1088.4H1181V1100.1H1139.8zM1057.4 1100.1H1071.1V1111.8H1057.4zM1016.2 1111.8H1029.9V1123.5H1016.2zM988.7 1123.5H1002.4V1135.2H988.7zM947.5 1205.3H961.2V1217H947.5zM1153.5 1205.3H1181V1217H1153.5zM1002.4 1217H1016.2V1228.7H1002.4zM1098.6 1228.7H1112.3V1240.4H1098.6zM1029.9 1240.4H1043.6V1252H1029.9zM1098.6 1240.4H1112.3V1252H1098.6zM1043.6 1252H1057.4V1263.7H1043.6zM1098.6 1252H1112.3V1263.7H1098.6zM1043.6 1263.7H1071.1V1275.4H1043.6zM1098.6 1263.7H1112.3V1275.4H1098.6zM1057.4 1275.4H1071.1V1287.1H1057.4zM1098.6 1275.4H1112.3V1287.1H1098.6zM1057.4 1287.1H1071.1V1298.8H1057.4zM1098.6 1287.1H1112.3V1298.8H1098.6z"/>
<path fill="#ff5500" d="M1098.6 1088.4H1139.8V1100.1H1098.6zM1181 1088.4H1235.9V1100.1H1181zM1043.6 1100.1H1057.4V1111.8H1043.6zM961.2 1123.5H988.7V1135.2H961.2zM906.3 1205.3H947.5V1217H906.3zM988.7 1217H1002.4V1228.7H988.7zM1126.1 1217H1153.5V1228.7H1126.1zM1194.7 1217H1235.9V1228.7H1194.7zM1016.2 1228.7H1029.9V1240.4H1016.2zM1029.9 1252H1043.6V1263.7H1029.9zM1043.6 1275.4H1057.4V1287.1H1043.6zM1043.6 1287.1H1057.4V1298.8H1043.6z"/>
<path fill="#ff6000" d="M1084.8 1088.4H1098.6V1100.1H1084.8zM1235.9 1088.4H1263.4V1100.1H1235.9zM1002.4 1111.8H1016.2V1123.5H1002.4zM947.5 1123.5H961.2V1135.2H947.5zM1153.5 1217H1194.7V1228.7H1153.5zM1235.9 1217H1263.4V1228.7H1235.9zM1002.4 1228.7H1016.2V1240.4H1002.4zM1112.3 1228.7H1126.1V1240.4H1112.3zM1016.2 1240.4H1029.9V1252H1016.2zM1112.3 1240.4H1126.1V1252H1112.3zM1112.3 1252H1126.1V1263.7H1112.3zM1029.9 1263.7H1043.6V1275.4H1029.9zM1112.3 1263.7H1126.1V1275.4H1112.3zM1029.9 1275.4H1043.6V1287.1H1029.9zM1112.3 1275.4H1126.1V1287.1H1112.3zM1029.9 1287.1H1043.6V1298.8H1029.9zM1112.3 1287.1H1126.1V1298.8H1112.3z"/>
<path fill="#ff7700" d="M1126.1 1076.7H1181V1088.4H1126.1zM1057.4 1088.4H1071.1V1100.1H1057.4zM988.7 1111.8H1002.4V1123.5H988.7zM988.7 1228.7H1002.4V1240.4H988.7zM1153.5 1228.7H1181V1240.4H1153.5zM1153.5 1240.4H1181V1252H1153.5zM1002.4 1252H1016.2V1263.7H1002.4zM1167.3 1252H1181V1263.7H1167.3zM1167.3 1263.7H1181V1275.4H1167.3zM1016.2 1275.4H1029.9V1287.1H1016.2zM1167.3 1275.4H1181V1287.1H1167.3zM1016.2 1287.1H1029.9V1298.8H1016.2zM1167.3 1287.1H1181V1298.8H1167.3z"/>
<path fill="#ff8200" d="M1112.3 1076.7H1126.1V1088.4H1112.3zM1181 1076.7H1208.5V1088.4H1181zM1043.6 1088.4H1057.4V1100.1H1043.6zM1016.2 1100.1H1029.9V1111.8H1016.2zM975 1111.8H988.7V1123.5H975zM961.2 1217H975V1228.7H961.2zM1181 1228.7H1208.5V1240.4H1181zM1249.7 1252H1263.4V1263.7H1249.7zM1002.4 1263.7H1016.2V1275.4H1002.4zM1002.4 1275.4H1016.2V1287.1H1002.4zM1235.9 1275.4H1249.7V1287.1H1235.9zM1002.4 1287.1H1016.2V1298.8H1002.4zM1235.9 1287.1H1249.7V1298.8H1235.9z"/>
<path fill="#ff8e00" d="M1084.8 1076.7H1112.3V1088.4H1084.8zM1208.5 1076.7H1263.4V1088.4H1208.5zM947.5 1111.8H975V1123.5H947.5zM947.5 1217H961.2V1228.7H947.5zM1208.5 1228.7H1222.2V1240.4H1208.5zM988.7 1240.4H1002.4V1252H988.7zM1181 1240.4H1194.7V1252H1181zM1181 1252H1194.7V1263.7H1181zM1235.9 1263.7H1249.7V1275.4H1235.9z"/>
<path fill="#ff9900" d="M1208.5 1065H1222.2V1076.7H1208.5zM1071.1 1076.7H1084.8V1088.4H1071.1zM1029.9 1088.4H1043.6V1100.1H1029.9zM1002.4 1100.1H1016.2V1111.8H1002.4zM933.8 1111.8H947.5V1123.5H933.8zM933.8 1217H947.5V1228.7H933.8zM975 1228.7H988.7V1240.4H975zM1222.2 1228.7H1235.9V1240.4H1222.2zM1194.7 1240.4H1208.5V1252H1194.7zM1235.9 1240.4H1263.4V1252H1235.9zM988.7 1252H1002.4V1263.7H988.7zM1235.9 1252H1249.7V1263.7H1235.9zM1181 1263.7H1194.7V1275.4H1181zM1181 1275.4H1194.7V1287.1H1181zM1181 1287.1H1194.7V1298.8H1181z"/>
<path fill="#ffa400" d="M1167.3 1065H1208.5V1076.7H1167.3zM1222.2 1065H1263.4V1076.7H1222.2zM1057.4 1076.7H1071.1V1088.4H1057.4zM988.7 1100.1H1002.4V1111.8H988.7zM906.3 1111.8H933.8V1123.5H906.3zM920 1217H933.8V1228.7H920zM1235.9 1228.7H1249.7V1240.4H1235.9zM1208.5 1240.4H1235.9V1252H1208.5zM1222.2 1252H1235.9V1263.7H1222.2z"/>
<path fill="#ffb000" d="M1208.5 1053.3H1249.7V1065H1208.5zM1153.5 1065H1167.3V1076.7H1153.5zM1043.6 1076.7H1057.4V1088.4H1043.6zM1016.2 1088.4H1029.9V1100.1H1016.2zM975 1100.1H988.7V1111.8H975zM906.3 1217H920V1228.7H906.3zM1249.7 1228.7H1263.4V1240.4H1249.7zM975 1240.4H988.7V1252H975zM1194.7 1252H1208.5V1263.7H1194.7zM988.7 1263.7H1002.4V1275.4H988.7zM1222.2 1263.7H1235.9V1275.4H1222.2zM988.7 1275.4H1002.4V1287.1H988.7zM1222.2 1275.4H1235.9V1287.1H1222.2zM988.7 1287.1H1002.4V1298.8H988.7zM1222.2 1287.1H1235.9V1298.8H1222.2z"/>
<path fill="#ffbb00" d="M1194.7 1053.3H1208.5V1065H1194.7zM1249.7 1053.3H1263.4V1065H1249.7zM1139.8 1065H1153.5V1076.7H1139.8zM961.2 1100.1H975V1111.8H961.2zM961.2 1228.7H975V1240.4H961.2zM1208.5 1252H1222.2V1263.7H1208.5zM1194.7 1263.7H1208.5V1275.4H1194.7z"/>
<path fill="#ffc600" d="M1208.5 1041.7H1263.4V1053.3H1208.5zM1181 1053.3H1194.7V1065H1181zM1098.6 1065H1139.8V1076.7H1098.6zM1029.9 1076.7H1043.6V1088.4H1029.9zM933.8 1100.1H961.2V1111.8H933.8zM975 1252H988.7V1263.7H975zM1194.7 1275.4H1208.5V1287.1H1194.7zM1194.7 1287.1H1208.5V1298.8H1194.7z"/>
<path fill="#ffd200" d="M1194.7 1041.7H1208.5V1053.3H1194.7zM1167.3 1053.3H1181V1065H1167.3zM1071.1 1065H1098.6V1076.7H1071.1zM1002.4 1088.4H1016.2V1100.1H1002.4zM906.3 1100.1H933.8V1111.8H906.3zM947.5 1228.7H961.2V1240.4H947.5zM1208.5 1263.7H1222.2V1275.4H1208.5zM1208.5 1275.4H1222.2V1287.1H1208.5zM1208.5 1287.1H1222.2V1298.8H1208.5z"/>
<path fill="#ffdd00" d="M1153.5 1053.3H1167.3V1065H1153.5zM1043.6 1065H1071.1V1076.7H1043.6zM1016.2 1076.7H1029.9V1088.4H1016.2zM988.7 1088.4H1002.4V1100.1H988.7zM933.8 1228.7H947.5V1240.4H933.8zM961.2 1240.4H975V1252H961.2zM975 1263.7H988.7V1275.4H975z"/>
<path fill="#ffe800" d="M1181 1041.7H1194.7V1053.3H1181zM1029.9 1065H1043.6V1076.7H1029.9zM961.2 1088.4H988.7V1100.1H961.2zM975 1275.4H988.7V1287.1H975zM975 1287.1H988.7V1298.8H975z"/>
<path fill="#fff400" d="M1139.8 1053.3H1153.5V1065H1139.8zM1016.2 1065H1029.9V1076.7H1016.2zM1002.4 1076.7H1016.2V1088.4H1002.4zM933.8 1088.4H961.2V1100.1H933.8zM920 1228.7H933.8V1240.4H920zM947.5 1240.4H961.2V1252H947.5zM961.2 1252H975V1263.7H961.2z"/>
<path fill="#ffff00" d="M1167.3 1041.7H1181V1053.3H1167.3zM1043.6 1053.3H1057.4V1065H1043.6zM906.3 1088.4H933.8V1100.1H906.3zM906.3 1228.7H920V1240.4H906.3z"/>
<path fill="#ffff11" d="M1208.5 1030H1263.4V1041.7H1208.5zM1029.9 1053.3H1043.6V1065H1029.9zM1057.4 1053.3H1084.8V1065H1057.4zM1098.6 1053.3H1139.8V1065H1098.6zM1002.4 1065H1016.2V1076.7H1002.4zM975 1076.7H1002.4V1088.4H975zM933.8 1240.4H947.5V1252H933.8z"/>
<path fill="#ffff22" d="M1194.7 1030H1208.5V1041.7H1194.7zM1153.5 1041.7H1167.3V1053.3H1153.5zM1002.4 1053.3H1029.9V1065H1002.4zM1084.8 1053.3H1098.6V1065H1084.8zM988.7 1065H1002.4V1076.7H988.7zM961.2 1076.7H975V1088.4H961.2zM920 1240.4H933.8V1252H920zM947.5 1252H961.2V1263.7H947.5zM961.2 1263.7H975V1275.4H961.2z"/>
<path fill="#ffff33" d="M1181 1030H1194.7V1041.7H1181zM1029.9 1041.7H1043.6V1053.3H1029.9zM988.7 1053.3H1002.4V1065H988.7zM961.2 1065H988.7V1076.7H961.2zM906.3 1076.7H961.2V1088.4H906.3zM906.3 1240.4H920V1252H906.3zM961.2 1275.4H975V1287.1H961.2zM961.2 1287.1H975V1298.8H961.2z"/>
<path fill="#ffff44" d="M1167.3 1030H1181V1041.7H1167.3zM1002.4 1041.7H1029.9V1053.3H1002.4zM1043.6 1041.7H1057.4V1053.3H1043.6zM1139.8 1041.7H1153.5V1053.3H1139.8zM975 1053.3H988.7V1065H975zM933.8 1065H961.2V1076.7H933.8zM933.8 1252H947.5V1263.7H933.8z"/>
<path fill="#ffff55" d="M975 1041.7H1002.4V1053.3H975zM1057.4 1041.7H1071.1V1053.3H1057.4zM947.5 1053.3H975V1065H947.5zM906.3 1065H933.8V1076.7H906.3zM920 1252H933.8V1263.7H920zM947.5 1263.7H961.2V1275.4H947.5z"/>
<path fill="#ffff66" d="M1208.5 1018.3H1263.4V1030H1208.5zM1016.2 1030H1057.4V1041.7H1016.2zM1153.5 1030H1167.3V1041.7H1153.5zM947.5 1041.7H975V1053.3H947.5zM1071.1 1041.7H1084.8V1053.3H1071.1zM1126.1 1041.7H1139.8V1053.3H1126.1zM920 1053.3H947.5V1065H920zM906.3 1252H920V1263.7H906.3zM947.5 1275.4H961.2V1287.1H947.5zM947.5 1287.1H961.2V1298.8H947.5z"/>
<path fill="#ffff77" d="M1194.7 1018.3H1208.5V1030H1194.7zM988.7 1030H1016.2V1041.7H988.7zM933.8 1041.7H947.5V1053.3H933.8zM1084.8 1041.7H1126.1V1053.3H1084.8zM906.3 1053.3H920V1065H906.3zM933.8 1263.7H947.5V1275.4H933.8z"/>
<path fill="#ffff88" d="M1181 1018.3H1194.7V1030H1181zM961.2 1030H988.7V1041.7H961.2zM1057.4 1030H1071.1V1041.7H1057.4zM1139.8 1030H1153.5V1041.7H1139.8zM906.3 1041.7H933.8V1053.3H906.3zM933.8 1275.4H947.5V1287.1H933.8zM933.8 1287.1H947.5V1298.8H933.8z"/>
<path fill="#ffff99" d="M988.7 1018.3H1057.4V1030H988.7zM1167.3 1018.3H1181V1030H1167.3zM920 1030H961.2V1041.7H920zM1071.1 1030H1084.8V1041.7H1071.1zM1126.1 1030H1139.8V1041.7H1126.1zM906.3 1263.7H933.8V1275.4H906.3zM920 1275.4H933.8V1287.1H920zM920 1287.1H933.8V1298.8H920z"/>
<path fill="#ffffaa" d="M961.2 1018.3H988.7V1030H961.2zM1057.4 1018.3H1071.1V1030H1057.4zM1153.5 1018.3H1167.3V1030H1153.5zM906.3 1030H920V1041.7H906.3zM1084.8 1030H1126.1V1041.7H1084.8zM906.3 1275.4H920V1287.1H906.3zM906.3 1287.1H920V1298.8H906.3z"/>
<path fill="#ffffbb" d="M1208.5 1006.6H1263.4V1018.3H1208.5zM906.3 1018.3H961.2V1030H906.3zM1071.1 1018.3H1084.8V1030H1071.1zM1139.8 1018.3H1153.5V1030H1139.8z"/>
<path fill="#ffffcc" d="M988.7 994.9H1057.4V1006.6H988.7zM1194.7 994.9H1263.4V1006.6H1194.7zM975 1006.6H1057.4V1018.3H975zM1181 1006.6H1208.5V1018.3H1181zM1084.8 1018.3H1112.3V1030H1084.8zM1126.1 1018.3H1139.8V1030H1126.1z"/>
<path fill="#ffffdd" d="M906.3 994.9H988.7V1006.6H906.3zM1057.4 994.9H1071.1V1006.6H1057.4zM1181 994.9H1194.7V1006.6H1181zM906.3 1006.6H975V1018.3H906.3zM1057.4 1006.6H1071.1V1018.3H1057.4zM1167.3 1006.6H1181V1018.3H1167.3zM1112.3 1018.3H1126.1V1030H1112.3z"/>
<path fill="#ffffee" d="M1071.1 994.9H1084.8V1006.6H1071.1zM1153.5 994.9H1181V1006.6H1153.5zM1071.1 1006.6H1084.8V1018.3H1071.1zM1153.5 1006.6H1167.3V1018.3H1153.5z"/>
<path fill="#ffffff" d="M1084.8 994.9H1153.5V1006.6H1084.8zM1084.8 1006.6H1153.5V1018.3H1084.8z"/>
</g>
<path transform="translate(0 960)" fill="#fff" d="M905.2 248.3L1007.9 247.5L1020.4 253.1L1032.8 262.4L1045.3 274.9L1057.7 290.4L1072.2 299.8L1086.8 309.1L1099.2 316.4L1115.8 324.7L1126.2 330.9L1129.3 340.2L905.2 340.2Z"/>
<path transform="translate(0 960)" fill="none" stroke="#000" stroke-width="2.2" stroke-linejoin="round" d="M900 63.7L906.3 64.2L910.5 69L913.7 70.6L926.9 70.6L927.9 74.3L928.5 84.8M928.5 84.8L930.6 86.9L935.8 89L942.1 88.5L947.4 93.2L949.5 91.6L952.7 92.2L961.1 88.5L962.2 82.7L973.8 79.5L987.5 75.3L989.6 69L991.7 62.7L1001.2 61.1L1005.4 60.6L1008.5 56.9L1011.7 57.4L1020.1 60.6L1022.8 60L1033.8 60.6L1037 62.7L1045.4 61.6L1049.6 66.4L1058.1 63.7L1066.5 60.6L1072.8 63.7L1074.9 60.6L1079.1 56.3L1090 54.2M980.1 35.3L984.3 36.3L987.5 38.4L994.8 40.5L1002.2 44.8L1009.6 45.8L1015.9 47.9L1025.4 50L1022.8 52.1L1022.8 60M1045.4 34.7L1050.7 36.3L1051.7 42.6L1056 49L1051.7 52.1L1046.5 56.3L1045.4 61.6M928.5 84.8L926.3 93.2L925.3 101.7L920 103.8L914.8 109L915.8 116.4L922.1 118.5L916.9 123.8L916.9 126.9L921.1 137.5L921.1 149.1L936.9 151.2L939 156.4L923.2 173.3M923.2 174.4L949.5 180.7L979 180.2L995.9 178.6L1019.1 173.3L1018 167L1020.1 157.5L1030.7 152.2L1042.3 151.2L1045.4 148L1052.8 143.8L1061.2 145.9L1064.4 145.9L1066 144.1L1072.2 135.8L1076.4 129.6L1083.2 124.8L1090.5 120.6L1085.3 114.3L1082.1 113.2L1083.2 111.1L1099 111.1L1105.3 108L1104.2 101.7L1110.6 95.3L1113.7 92.2L1112.7 84.8L1105.3 79.5L1113.7 70M923.2 174.4L928.5 177.5L935.8 190L935.9 190.9L943.5 194.1L953.3 197.4L955.4 201.7L957.6 211.5L965.2 214.8L964.1 221.3L954.3 225.7L943.5 227.8L935.9 230L935.9 245.2M1080 55.3L1086.3 56.3L1089.5 52.1L1095.8 44.8L1102.1 42.6L1108.5 46.9L1111.6 51.1L1110.6 56.3L1110.6 64.8L1113.7 69.5L1120 69L1127.4 65.8L1138 64.8L1153.8 66.4L1164.3 63.7L1172.7 60.6L1176.9 58.5L1173.8 55.3L1171.7 45.8L1169.6 40.5L1155.9 40L1152.7 36.3L1153.8 34.2M1117.9 70.6L1127.4 67.9L1138 66.9L1153.8 66.9L1164.3 64.2M1130.6 61.6L1145.3 58.5L1153.8 59.5L1164.3 60.6L1172.7 61.1M1130.6 76.4L1129.5 81.6L1134.8 83.7L1141.1 82.7L1145.3 86.9L1151.7 89L1153.8 93.2L1158 94.3L1155.9 99.5L1146.4 102.7L1149.5 124.8L1169.6 129.1L1168.5 133.3L1176.9 135.4L1180.1 138.5L1170.6 139.6L1166.4 144.9L1167.5 154.3L1164.3 156.4L1158 162.8L1153.8 167L1149.5 170.1L1145.3 175.4L1140.1 182.8L1136.9 190L1125 196L1110 200L1097 205L1090 199L1083 205L1077 214L1077 220L1086 221L1088 229L1095 236L1101 244L1104.4 252.7M1164.3 63.7L1179.1 64.8L1185.4 70L1195.9 74.3L1205.4 79.5L1206.4 83.7L1215.9 89L1225.4 88L1231.7 84.8L1242.3 81.6L1250.7 80.6L1263.4 83.7M1263.4 101.7L1259.1 102.7L1252.8 106.9L1244.4 111.1L1244.4 117.5L1248.6 121.7L1252.8 122.7L1253.9 130.1L1248.6 131.2L1240.2 131.2L1236 133.3L1238.1 137.5L1242.3 141.7L1242.3 149.1L1246.5 154.3L1252.8 156.4L1259.1 157.5L1263.4 158.6M900 241.7L906.5 242L916.3 244.1L932.6 246.3L943.5 244.1L965.2 243L978.3 242L992.4 243L1003.3 242L1014.1 240.9L1019.6 239.2L1019 239.6L1025.3 241.1L1026.4 248.5L1031.6 249.6L1034.8 252.7L1036.9 260.1L1042.2 264.3L1047.4 265.4L1054.8 264.3L1060.1 263.3L1062.2 258L1065.4 255.9L1073.8 258L1084.3 258L1094.9 257L1103.3 255.9L1104.4 252.7M1047.4 265.4L1054.8 266.4L1059 270.7L1063.3 275.9L1069.6 279.1L1075.9 281.2L1083.3 280.1L1089.6 277L1094.9 272.8L1099.1 268.6L1101.2 266.4L1103.8 260.1L1103.3 255.9M1067.5 288.1L1073.8 286.5L1084.3 284.4L1092.8 280.1L1098 274.9L1101.2 268.6M1067.5 288.1L1073.8 294.9L1083.3 302.3L1091.7 308.6L1100.1 312.8L1105.4 310.7L1111.7 308.6L1118.1 305.4L1124.4 301.2L1128.6 301.2L1132.8 306.5L1136 311.8L1136 317L1133.9 321.3L1132.8 327.6L1134.9 331.8L1136 340M1080 300.7L1101.7 310.4L1110.4 309.3L1120.2 305L1126.7 300.7L1134.3 308.3L1136.5 315.9L1132.2 326.7L1135.4 337.6L1134.9 343"/>
<path d="M1210.5 1143.9h0M1169.6 1117.5h0M1168 1105.4h0M1206.7 1153.6h0M1227.4 1151.7h0M1212.6 1156h0M1170.3 1115h0M1175.7 1134.5h0M1215.6 1142.6h0M1185.1 1147.7h0M1230.7 1141.4h0M1173.6 1113.9h0M1218.1 1143h0M1204.9 1147.1h0M1209.5 1162.6h0M1177.2 1134.8h0M1193.7 1132.6h0M1175.4 1110.7h0M1185.6 1121.7h0M1195.2 1141.4h0M1208.5 1128.5h0M1194 1116.1h0M1205.5 1122.5h0M1170 1129h0M1198.2 1116.6h0M1204.5 1138.5h0M1212.8 1143.7h0M1209.7 1122.4h0M1218.3 1137.4h0M1195.4 1142.3h0M1190.9 1135h0M1215.1 1159.1h0M1226.9 1134.5h0M1201.2 1153.5h0M1171.3 1120.1h0M1189.2 1113.2h0M1187.9 1149.8h0M1177.6 1140.7h0M1175.4 1125.5h0M1211.9 1147.4h0M1192.6 1143.3h0M1168.4 1115.5h0M1231.3 1137.8h0M1176.8 1130.9h0M1216.3 1130h0M1197.9 1111.7h0M1170.6 1117h0M1186.5 1133.6h0M1205.4 1133.8h0M1173.1 1117.7h0M1222 1143.1h0M1209.4 1145.2h0M1191.3 1136.8h0M1198.7 1151.5h0M1222.5 1134.5h0M1226.2 1139.8h0M1199.8 1136.2h0M1174.4 1127.7h0M1226.7 1142.6h0M1179.1 1123.9h0M1227.4 1130.9h0M1187.5 1140.6h0M1168.2 1119.9h0M1212.9 1142.8h0M1230.8 1142h0M1198.4 1151h0M1225.8 1148.4h0M1229.7 1152.4h0M1214.8 1130.4h0M1203.3 1144.1h0M1186.2 1149.3h0M1215.9 1124.3h0M1175.7 1104.7h0M1217.7 1133.6h0M1203.4 1153.7h0M1227.2 1155h0M1170.1 1126h0M1170.8 1109.1h0M1211.1 1147.9h0M1217.5 1157.7h0M1215.3 1153.6h0M1170.8 1117.1h0M1207.7 1157.3h0M1205.7 1127.6h0M1179.8 1107.5h0M1189.7 1148.2h0M1186.8 1128.3h0M1176.5 1139h0M1231.9 1147.1h0M1206 1127.3h0M1226.6 1134h0M1176.3 1125.6h0M1172 1115h0M1208.5 1124.1h0M1216.1 1136.8h0M1182.8 1123h0M1226.2 1136.1h0M1215.4 1140.1h0M1209.7 1121.3h0M1183.2 1122.8h0M1185.9 1138.2h0M1218.6 1152.5h0M1195.9 1132.7h0M1231.7 1145.5h0M1220.1 1160.1h0M1209.7 1163.5h0M1200.7 1129.9h0M1174.3 1104.7h0M1183.5 1106.3h0M1197 1135.3h0M1174.9 1126.8h0M1181 1121.5h0M1193 1128.9h0M1167.8 1109.3h0M1200.4 1133.5h0M1189.1 1129.8h0M1217.9 1156.2h0M1184.4 1122.8h0M1183.3 1132.9h0M1170.7 1110.9h0M1183.2 1138.7h0M1205.7 1156.7h0M1217.4 1157.1h0M1196.9 1140.9h0M1219.1 1140.7h0M1181.6 1128.7h0M1188.1 1107.1h0M1169.6 1124.3h0M1168.9 1112.7h0M1214.3 1147.6h0M1215.2 1122.5h0M1224.9 1140.3h0M1175.8 1111.3h0M1167.9 1103.1h0M1231.6 1139.7h0M1224.3 1136.5h0M1207.7 1119.6h0M1186.7 1144.7h0M1206 1116.9h0M1207 1137.7h0M1193.2 1145.6h0M1214.4 1138.5h0M1194.7 1135.2h0M1201.2 1128.3h0M1193.1 1146h0M1179.2 1114.9h0M1181.3 1132.3h0M1214.9 1158.6h0M1192.1 1135.3h0M1215.4 1149.1h0M1218.1 1138.7h0M1223.4 1153.4h0M1174.1 1115.2h0M1214 1159.2h0M1193.1 1122.6h0M1206.8 1139.4h0M1194 1140.8h0M1227.9 1132.1h0M1180.3 1126.3h0M1193 1110.5h0M1178.2 1146.1h0M1183.4 1108.4h0M1216.2 1158.7h0M1185.6 1115.1h0M1179.6 1135.6h0M1197.8 1118.7h0M1229.4 1144h0M1183.9 1121h0M1216.9 1158.5h0M1172.3 1110.9h0M1088.1 1246.1h0M1110.8 1245.7h0M1077.7 1256.6h0M1108.4 1252.5h0M1087.5 1239.7h0M1095.4 1253.4h0M1122.1 1233.9h0M1085.2 1256.4h0M1079 1241.2h0M1098.7 1235.2h0M1117.6 1256.6h0M1104.6 1235.3h0M1134.3 1257.9h0M1122.5 1244.8h0M1101.6 1245.3h0M1105 1241.9h0M1106.3 1233.9h0M1089.4 1248h0M1099.8 1240.7h0M1104.6 1233.2h0M1119.9 1243.1h0M1090.9 1254.6h0M1111.2 1253.1h0M1111.9 1240.4h0M1118.8 1242.8h0M1113.9 1247.7h0M1100.3 1260.1h0M1090.9 1232.8h0M1115.3 1256.4h0M1130.8 1253h0M1113.9 1237.2h0M1119.6 1240.8h0M1106.8 1252h0M1103 1258.6h0M1096.5 1249.4h0M1090.9 1241h0M1098 1231h0M1072.7 1250.1h0M1113.6 1249.9h0M1080.4 1254h0M1114.5 1231.1h0M1086.6 1250.4h0M1105.4 1251.3h0M1084.5 1248.6h0M1095 1250.7h0M1129.6 1248.1h0M1098.3 1259.6h0M1105.6 1243.8h0M1111.9 1238.4h0M1133.1 1256.3h0M1121.5 1253.5h0M1100.9 1242.7h0M1083.5 1249.3h0M1087 1235.7h0M1108.6 1241h0M1081.9 1255.4h0M1123.9 1256.2h0M1076.1 1253.9h0M1077.2 1241.5h0M1111 1259.5h0M1076 1254.5h0M1085.7 1257.8h0M1114.2 1230.5h0M1096.8 1246h0M1102.4 1250.8h0M1072.9 1252.2h0M1099.5 1241.5h0M1069.7 1250.3h0M1091.7 1254.3h0M1126.4 1255.5h0M1096.3 1237.9h0M1120.4 1254.8h0M1101.7 1258.1h0M1076.5 1257.6h0M1097.7 1253.9h0M1068.5 1249.6h0M1076.7 1256.9h0M1125.8 1245.6h0M1094.7 1252.6h0M1084.7 1253.1h0M1103.3 1149.8h0M1106.8 1146.9h0M1104.7 1148.3h0M1108.5 1149.1h0M1110.6 1147.5h0M1112.9 1148.5h0M1113.7 1148h0M1115.5 1145.9h0M1117.7 1146.1h0M1118.6 1147.1h0M1117.8 1143.6h0M1120.8 1144.2h0M1045.3 1170.5h0M1051.5 1168.5h0M1046.3 1177.8h0M1041.1 1186.1h0M1049.4 1190.2h0M1054.6 1190.2h0M1041.1 1196.5h0M1076.4 1207.9h0M1168.7 1290.9h0M1117.9 1226.6h0M1094 1228.6h0M1178.1 1133.2h0M1176 1322h0" stroke="#000" stroke-width="4.6" stroke-linecap="round"/>
<path transform="translate(0 960)" fill="none" stroke="#1111f2" stroke-width="4.8" stroke-linejoin="round" d="M912.5 242.7L918.7 232.3L937.4 226.1L962.3 221.9L983 219.3L999.6 212.6L1012.1 205.3L1022.4 189.8L1030.7 171.1L1041.1 162.8L1055.6 156.6L1066 146.2L1072.2 135.8L1076.4 125.5L1086.8 110.9L1099.2 102.6L1124.1 97.4L1144.9 98.5L1161.5 103.7L1173.9 110.9L1176 117.2L1186.4 133.8L1200.9 148.3L1215.4 164.9L1220.6 173.2L1221.6 183.6L1217.5 192.9L1209.2 193.9L1196.7 188.7L1184.3 184.6L1169.8 184.6L1149 187.7L1128.3 193.9L1107.5 202.2L1095.1 210.5L1089.9 220.9L1093 233.4L1103.4 245.8L1120 260.3L1142.8 279L1161.5 295.6L1169.8 303.9L1170.8 317.4L1161.5 324.7L1149 328.8L1136.6 329.9L1117.9 322.6L1097.1 312.2L1078.5 301.8L1060.8 292.5L1053.6 283.2L1045.3 272.8L1028.7 260.3L1003.8 246.8L983 246.8L962.3 248.9L941.5 250L920.8 248.9L914.5 245.8Z"/>
</g>
<path d="M942 994.9v7M942 1298.8v-7M977.7 994.9v7M977.7 1298.8v-7M1013.4 994.9v7M1013.4 1298.8v-7M1049.1 994.9v7M1049.1 1298.8v-7M1084.8 994.9v7M1084.8 1298.8v-7M1120.6 994.9v7M1120.6 1298.8v-7M1156.3 994.9v7M1156.3 1298.8v-7M1192 994.9v7M1192 1298.8v-7M1227.7 994.9v7M1227.7 1298.8v-7M906.3 1283.6h14M1263.4 1283.6h-14M906.3 1268.4h7M1263.4 1268.4h-7M906.3 1253.2h7M1263.4 1253.2h-7M906.3 1238h7M1263.4 1238h-7M906.3 1222.8h7M1263.4 1222.8h-7M906.3 1207.6h14M1263.4 1207.6h-14M906.3 1192.4h7M1263.4 1192.4h-7M906.3 1177.2h7M1263.4 1177.2h-7M906.3 1162h7M1263.4 1162h-7M906.3 1146.8h7M1263.4 1146.8h-7M906.3 1131.7h14M1263.4 1131.7h-14M906.3 1116.5h7M1263.4 1116.5h-7M906.3 1101.3h7M1263.4 1101.3h-7M906.3 1086.1h7M1263.4 1086.1h-7M906.3 1070.9h7M1263.4 1070.9h-7M906.3 1055.7h14M1263.4 1055.7h-14M906.3 1040.5h7M1263.4 1040.5h-7M906.3 1025.3h7M1263.4 1025.3h-7M906.3 1010.1h7M1263.4 1010.1h-7" stroke="#333" stroke-width="1.2" fill="none"/>
<rect x="906.3" y="994.9" width="357.1" height="303.9" fill="none" stroke="#333" stroke-width="1.3"/>
<text x="942.5" y="1036.1" font-size="26" fill="#111" stroke="#111" stroke-width="0.45">D4</text>
<text x="1104.4" y="1112.4" font-size="25.5" fill="#111" stroke="#111" stroke-width="0.45">91%</text>
<text x="895.6" y="1066.5" font-size="26" text-anchor="end" fill="#111" stroke="#111" stroke-width="0.45">35</text>
<text x="895.6" y="1142.5" font-size="26" text-anchor="end" fill="#111" stroke="#111" stroke-width="0.45">30</text>
<text x="895.6" y="1218.4" font-size="26" text-anchor="end" fill="#111" stroke="#111" stroke-width="0.45">25</text>
<text x="895.6" y="1294.4" font-size="26" text-anchor="end" fill="#111" stroke="#111" stroke-width="0.45">20</text>
<text x="906.3" y="1337" font-size="26" text-anchor="middle" fill="#111" stroke="#111" stroke-width="0.45">60</text>
<text x="1084.9" y="1337" font-size="26" text-anchor="middle" fill="#111" stroke="#111" stroke-width="0.45">70</text>
<text x="1263.4" y="1337" font-size="26" text-anchor="middle" fill="#111" stroke="#111" stroke-width="0.45">80</text>
<text x="1085" y="1373.7" font-size="27.5" text-anchor="middle" fill="#111" stroke="#111" stroke-width="0.45">Longitude (°E)</text>
<text transform="translate(844.6 626.8) rotate(-90)" font-size="27.5" font-weight="bold" text-anchor="middle" fill="#111" stroke="#111" stroke-width="0.55">Latitude (°N)</text>
<text x="1087" y="21" font-size="28" font-weight="bold" text-anchor="middle" fill="#1a1a1a" stroke="#1a1a1a" stroke-width="0.55">(f) Spatial Variability in SPI</text>
<defs><linearGradient id="hotg" x1="0" x2="1" y1="0" y2="0"><stop offset="0" stop-color="#000"/><stop offset="0.375" stop-color="#f00"/><stop offset="0.75" stop-color="#ff0"/><stop offset="1" stop-color="#fff"/></linearGradient></defs>
<rect x="906.3" y="1411.1" width="357" height="30.9" fill="url(#hotg)" stroke="#444" stroke-width="1.2"/>
<path d="M1025.3 1442v-4M1144.3 1442v-4" stroke="#444" stroke-width="1.2"/>
<text x="906" y="1481" font-size="26.7" text-anchor="middle" fill="#111" stroke="#111" stroke-width="0.45">-0.6</text>
<text x="1025" y="1481" font-size="26.7" text-anchor="middle" fill="#111" stroke="#111" stroke-width="0.45">-0.4</text>
<text x="1144" y="1481" font-size="26.7" text-anchor="middle" fill="#111" stroke="#111" stroke-width="0.45">-0.2</text>
<text x="1251" y="1481" font-size="26.7" text-anchor="middle" fill="#111" stroke="#111" stroke-width="0.45">0</text>
<text x="1085" y="1518" font-size="26.7" text-anchor="middle" fill="#111" stroke="#111" stroke-width="0.45">SPI</text>
<defs>
<clipPath id="sstclip0"><rect x="1336.4" y="33.4" width="624.8" height="303.2"/></clipPath>
<clipPath id="sstclip1"><rect x="1336.4" y="353.4" width="624.8" height="303.2"/></clipPath>
<clipPath id="sstclip2"><rect x="1336.4" y="673.4" width="624.8" height="303.2"/></clipPath>
<clipPath id="sstclip3"><rect x="1336.4" y="993.4" width="624.8" height="303.2"/></clipPath>
</defs>
<g>
<rect x="1336.4" y="33.4" width="624.8" height="303.2" fill="#fdca6c"/>
<path fill="#1f3668" d="M1912.5 95.4H1925.6V98.7H1912.5zM1896.1 98.7H1925.6V102H1896.1zM1889.6 102H1928.9V105.2H1889.6zM1889.6 105.2H1928.9V108.5H1889.6zM1889.6 108.5H1932.1V111.8H1889.6zM1889.6 111.8H1932.1V115.1H1889.6zM1889.6 115.1H1932.1V118.3H1889.6zM1889.6 118.3H1925.6V121.6H1889.6zM1886.3 121.6H1919V124.9H1886.3zM1886.3 124.9H1915.8V128.2H1886.3zM1889.6 128.2H1915.8V131.4H1889.6zM1892.9 131.4H1915.8V134.7H1892.9zM1896.1 134.7H1915.8V138H1896.1zM1896.1 138H1915.8V141.2H1896.1zM1899.4 141.2H1902.7V144.5H1899.4z"/>
<path fill="#224b8e" d="M1909.2 88.9H1928.9V92.2H1909.2zM1886.3 92.2H1928.9V95.4H1886.3zM1876.5 95.4H1912.5V98.7H1876.5zM1925.6 95.4H1932.1V98.7H1925.6zM1876.5 98.7H1896.1V102H1876.5zM1925.6 98.7H1935.4V102H1925.6zM1879.8 102H1889.6V105.2H1879.8zM1928.9 102H1935.4V105.2H1928.9zM1879.8 105.2H1889.6V108.5H1879.8zM1928.9 105.2H1938.7V108.5H1928.9zM1879.8 108.5H1889.6V111.8H1879.8zM1932.1 108.5H1938.7V111.8H1932.1zM1879.8 111.8H1889.6V115.1H1879.8zM1932.1 111.8H1938.7V115.1H1932.1zM1879.8 115.1H1889.6V118.3H1879.8zM1932.1 115.1H1938.7V118.3H1932.1zM1879.8 118.3H1889.6V121.6H1879.8zM1932.1 118.3H1935.4V121.6H1932.1zM1879.8 121.6H1886.3V124.9H1879.8zM1879.8 124.9H1886.3V128.2H1879.8zM1879.8 128.2H1889.6V131.4H1879.8zM1879.8 131.4H1892.9V134.7H1879.8zM1886.3 134.7H1896.1V138H1886.3zM1889.6 138H1896.1V141.2H1889.6zM1896.1 141.2H1899.4V144.5H1896.1zM1902.7 141.2H1915.8V144.5H1902.7zM1902.7 144.5H1906V147.8H1902.7z"/>
<path fill="#2b66ae" d="M1637.6 33.4H1745.6V36.5H1637.6zM1938.7 33.4H1961.2V36.5H1938.7zM1637.6 36.5H1745.6V39.8H1637.6zM1938.7 36.5H1961.2V39.8H1938.7zM1637.6 39.8H1745.6V43.1H1637.6zM1938.7 39.8H1961.2V43.1H1938.7zM1637.6 43.1H1667V46.3H1637.6zM1680.1 43.1H1745.6V46.3H1680.1zM1938.7 43.1H1961.2V46.3H1938.7zM1637.6 46.3H1667V49.6H1637.6zM1680.1 46.3H1745.6V49.6H1680.1zM1938.7 46.3H1961.2V49.6H1938.7zM1631 49.6H1667V52.9H1631zM1680.1 49.6H1745.6V52.9H1680.1zM1909.2 79.1H1932.1V82.3H1909.2zM1879.8 82.3H1932.1V85.6H1879.8zM1866.7 85.6H1935.4V88.9H1866.7zM1866.7 88.9H1909.2V92.2H1866.7zM1928.9 88.9H1935.4V92.2H1928.9zM1870 92.2H1886.3V95.4H1870zM1928.9 92.2H1938.7V95.4H1928.9zM1870 95.4H1876.5V98.7H1870zM1932.1 95.4H1938.7V98.7H1932.1zM1870 98.7H1876.5V102H1870zM1935.4 98.7H1942V102H1935.4zM1870 102H1879.8V105.2H1870zM1935.4 102H1942V105.2H1935.4zM1870 105.2H1879.8V108.5H1870zM1938.7 105.2H1942V108.5H1938.7zM1870 108.5H1879.8V111.8H1870zM1938.7 108.5H1942V111.8H1938.7zM1870 111.8H1879.8V115.1H1870zM1938.7 111.8H1942V115.1H1938.7zM1870 115.1H1879.8V118.3H1870zM1938.7 115.1H1942V118.3H1938.7zM1870 118.3H1879.8V121.6H1870zM1935.4 118.3H1942V121.6H1935.4zM1870 121.6H1879.8V124.9H1870zM1935.4 121.6H1942V124.9H1935.4zM1870 124.9H1879.8V128.2H1870zM1935.4 124.9H1938.7V128.2H1935.4zM1870 128.2H1879.8V131.4H1870zM1935.4 128.2H1938.7V131.4H1935.4zM1870 131.4H1879.8V134.7H1870zM1935.4 131.4H1938.7V134.7H1935.4zM1870 134.7H1886.3V138H1870zM1876.5 138H1889.6V141.2H1876.5zM1886.3 141.2H1896.1V144.5H1886.3zM1892.9 144.5H1902.7V147.8H1892.9zM1906 144.5H1915.8V147.8H1906zM1902.7 147.8H1915.8V151.1H1902.7z"/>
<path fill="#4486c6" d="M1909.2 75.8H1932.1V79.1H1909.2zM1873.2 79.1H1909.2V82.3H1873.2zM1932.1 79.1H1935.4V82.3H1932.1zM1860.1 82.3H1879.8V85.6H1860.1zM1932.1 82.3H1935.4V85.6H1932.1zM1860.1 85.6H1866.7V88.9H1860.1zM1935.4 85.6H1938.7V88.9H1935.4zM1860.1 88.9H1866.7V92.2H1860.1zM1935.4 88.9H1938.7V92.2H1935.4zM1860.1 92.2H1870V95.4H1860.1zM1938.7 92.2H1942V95.4H1938.7zM1860.1 95.4H1870V98.7H1860.1zM1938.7 95.4H1942V98.7H1938.7zM1860.1 98.7H1870V102H1860.1zM1942 98.7H1945.2V102H1942zM1860.1 102H1870V105.2H1860.1zM1942 102H1945.2V105.2H1942zM1860.1 105.2H1870V108.5H1860.1zM1942 105.2H1945.2V108.5H1942zM1860.1 108.5H1870V111.8H1860.1zM1942 108.5H1945.2V111.8H1942zM1860.1 111.8H1870V115.1H1860.1zM1942 111.8H1945.2V115.1H1942zM1860.1 115.1H1870V118.3H1860.1zM1942 115.1H1945.2V118.3H1942zM1860.1 118.3H1870V121.6H1860.1zM1942 118.3H1945.2V121.6H1942zM1860.1 121.6H1870V124.9H1860.1zM1942 121.6H1945.2V124.9H1942zM1860.1 124.9H1870V128.2H1860.1zM1938.7 124.9H1942V128.2H1938.7zM1860.1 128.2H1870V131.4H1860.1zM1938.7 128.2H1942V131.4H1938.7zM1860.1 131.4H1870V134.7H1860.1zM1938.7 131.4H1942V134.7H1938.7zM1860.1 134.7H1870V138H1860.1zM1938.7 134.7H1942V138H1938.7zM1860.1 138H1876.5V141.2H1860.1zM1935.4 138H1938.7V141.2H1935.4zM1870 141.2H1886.3V144.5H1870zM1879.8 144.5H1892.9V147.8H1879.8zM1889.6 147.8H1902.7V151.1H1889.6z"/>
<path fill="#84c4eb" d="M1604.9 33.4H1637.6V36.5H1604.9zM1604.9 36.5H1637.6V39.8H1604.9zM1604.9 39.8H1637.6V43.1H1604.9zM1604.9 43.1H1637.6V46.3H1604.9zM1667 43.1H1680.1V46.3H1667zM1604.9 46.3H1637.6V49.6H1604.9zM1667 46.3H1680.1V49.6H1667zM1667 49.6H1680.1V52.9H1667zM1919 69.2H1935.4V72.5H1919zM1892.9 72.5H1938.7V75.8H1892.9zM1863.4 75.8H1909.2V79.1H1863.4zM1932.1 75.8H1938.7V79.1H1932.1zM1853.6 79.1H1873.2V82.3H1853.6zM1935.4 79.1H1942V82.3H1935.4zM1811 82.3H1827.4V85.6H1811zM1853.6 82.3H1860.1V85.6H1853.6zM1935.4 82.3H1942V85.6H1935.4zM1811 85.6H1827.4V88.9H1811zM1853.6 85.6H1860.1V88.9H1853.6zM1938.7 85.6H1945.2V88.9H1938.7zM1811 88.9H1827.4V92.2H1811zM1853.6 88.9H1860.1V92.2H1853.6zM1938.7 88.9H1945.2V92.2H1938.7zM1811 92.2H1827.4V95.4H1811zM1853.6 92.2H1860.1V95.4H1853.6zM1942 92.2H1948.5V95.4H1942zM1853.6 95.4H1860.1V98.7H1853.6zM1942 95.4H1948.5V98.7H1942zM1853.6 98.7H1860.1V102H1853.6zM1945.2 98.7H1948.5V102H1945.2zM1853.6 102H1860.1V105.2H1853.6zM1945.2 102H1948.5V105.2H1945.2zM1853.6 105.2H1860.1V108.5H1853.6zM1945.2 105.2H1948.5V108.5H1945.2zM1853.6 108.5H1860.1V111.8H1853.6zM1945.2 108.5H1948.5V111.8H1945.2zM1853.6 111.8H1860.1V115.1H1853.6zM1945.2 111.8H1948.5V115.1H1945.2zM1853.6 115.1H1860.1V118.3H1853.6zM1945.2 115.1H1948.5V118.3H1945.2zM1853.6 118.3H1860.1V121.6H1853.6zM1945.2 118.3H1948.5V121.6H1945.2zM1853.6 121.6H1860.1V124.9H1853.6zM1853.6 124.9H1860.1V128.2H1853.6zM1942 124.9H1945.2V128.2H1942zM1853.6 128.2H1860.1V131.4H1853.6zM1942 128.2H1945.2V131.4H1942zM1853.6 131.4H1860.1V134.7H1853.6zM1942 131.4H1945.2V134.7H1942zM1853.6 134.7H1860.1V138H1853.6zM1942 134.7H1945.2V138H1942zM1853.6 138H1860.1V141.2H1853.6zM1938.7 138H1942V141.2H1938.7zM1853.6 141.2H1870V144.5H1853.6zM1935.4 141.2H1938.7V144.5H1935.4zM1853.6 144.5H1879.8V147.8H1853.6zM1932.1 144.5H1935.4V147.8H1932.1zM1853.6 147.8H1889.6V151.1H1853.6zM1513.2 295.1H1516.5V298.3H1513.2zM1513.2 298.3H1526.3V301.6H1513.2zM1513.2 301.6H1526.3V304.9H1513.2zM1513.2 304.9H1526.3V308.2H1513.2zM1513.2 308.2H1526.3V311.4H1513.2zM1513.2 311.4H1529.6V314.7H1513.2zM1516.5 314.7H1529.6V318H1516.5zM1516.5 318H1529.6V321.3H1516.5zM1519.8 321.3H1529.6V324.5H1519.8zM1523 324.5H1526.3V327.8H1523z"/>
<path fill="#ffffff" d="M1405.2 33.4H1428.1V36.5H1405.2zM1405.2 36.5H1428.1V39.8H1405.2zM1460.8 36.5H1483.8V39.8H1460.8zM1405.2 39.8H1428.1V43.1H1405.2zM1460.8 39.8H1483.8V43.1H1460.8zM1460.8 43.1H1483.8V46.3H1460.8zM1460.8 46.3H1483.8V49.6H1460.8zM1932.1 59.4H1945.2V62.7H1932.1zM1906 62.7H1948.5V66H1906zM1879.8 66H1948.5V69.2H1879.8zM1853.6 69.2H1919V72.5H1853.6zM1935.4 69.2H1948.5V72.5H1935.4zM1840.5 72.5H1892.9V75.8H1840.5zM1938.7 72.5H1948.5V75.8H1938.7zM1840.5 75.8H1863.4V79.1H1840.5zM1938.7 75.8H1951.8V79.1H1938.7zM1840.5 79.1H1853.6V82.3H1840.5zM1942 79.1H1951.8V82.3H1942zM1840.5 82.3H1853.6V85.6H1840.5zM1942 82.3H1951.8V85.6H1942zM1840.5 85.6H1853.6V88.9H1840.5zM1945.2 85.6H1951.8V88.9H1945.2zM1588.5 88.9H1627.8V92.2H1588.5zM1840.5 88.9H1853.6V92.2H1840.5zM1945.2 88.9H1955V92.2H1945.2zM1588.5 92.2H1631V95.4H1588.5zM1840.5 92.2H1853.6V95.4H1840.5zM1948.5 92.2H1955V95.4H1948.5zM1588.5 95.4H1631V98.7H1588.5zM1840.5 95.4H1853.6V98.7H1840.5zM1948.5 95.4H1955V98.7H1948.5zM1588.5 98.7H1631V102H1588.5zM1840.5 98.7H1853.6V102H1840.5zM1948.5 98.7H1955V102H1948.5zM1588.5 102H1631V105.2H1588.5zM1840.5 102H1853.6V105.2H1840.5zM1948.5 102H1955V105.2H1948.5zM1588.5 105.2H1634.3V108.5H1588.5zM1840.5 105.2H1853.6V108.5H1840.5zM1948.5 105.2H1955V108.5H1948.5zM1588.5 108.5H1634.3V111.8H1588.5zM1840.5 108.5H1853.6V111.8H1840.5zM1948.5 108.5H1955V111.8H1948.5zM1588.5 111.8H1634.3V115.1H1588.5zM1840.5 111.8H1853.6V115.1H1840.5zM1948.5 111.8H1955V115.1H1948.5zM1588.5 115.1H1631V118.3H1588.5zM1840.5 115.1H1853.6V118.3H1840.5zM1948.5 115.1H1955V118.3H1948.5zM1588.5 118.3H1627.8V121.6H1588.5zM1840.5 118.3H1853.6V121.6H1840.5zM1948.5 118.3H1955V121.6H1948.5zM1588.5 121.6H1624.5V124.9H1588.5zM1840.5 121.6H1853.6V124.9H1840.5zM1945.2 121.6H1951.8V124.9H1945.2zM1588.5 124.9H1624.5V128.2H1588.5zM1840.5 124.9H1853.6V128.2H1840.5zM1945.2 124.9H1951.8V128.2H1945.2zM1588.5 128.2H1621.2V131.4H1588.5zM1840.5 128.2H1853.6V131.4H1840.5zM1945.2 128.2H1951.8V131.4H1945.2zM1598.3 131.4H1617.9V134.7H1598.3zM1840.5 131.4H1853.6V134.7H1840.5zM1945.2 131.4H1951.8V134.7H1945.2zM1611.4 134.7H1614.7V138H1611.4zM1840.5 134.7H1853.6V138H1840.5zM1945.2 134.7H1951.8V138H1945.2zM1840.5 138H1853.6V141.2H1840.5zM1942 138H1948.5V141.2H1942zM1840.5 141.2H1853.6V144.5H1840.5zM1938.7 141.2H1945.2V144.5H1938.7zM1843.8 144.5H1853.6V147.8H1843.8zM1935.4 144.5H1942V147.8H1935.4zM1847 147.8H1853.6V151.1H1847zM1928.9 147.8H1938.7V151.1H1928.9zM1847 151.1H1853.6V154.3H1847zM1928.9 151.1H1935.4V154.3H1928.9zM1608.1 154.3H1657.2V157.6H1608.1zM1925.6 154.3H1932.1V157.6H1925.6zM1601.6 157.6H1657.2V160.9H1601.6zM1601.6 160.9H1660.5V164.2H1601.6zM1748.9 160.9H1762V164.2H1748.9zM1928.9 160.9H1942V164.2H1928.9zM1601.6 164.2H1660.5V167.4H1601.6zM1748.9 164.2H1762V167.4H1748.9zM1915.8 164.2H1942V167.4H1915.8zM1601.6 167.4H1640.9V170.7H1601.6zM1748.9 167.4H1762V170.7H1748.9zM1906 167.4H1942V170.7H1906zM1614.7 170.7H1617.9V174H1614.7zM1748.9 170.7H1762V174H1748.9zM1892.9 170.7H1945.2V174H1892.9zM1748.9 174H1762V177.2H1748.9zM1879.8 174H1945.2V177.2H1879.8zM1748.9 177.2H1762V180.5H1748.9zM1870 177.2H1938.7V180.5H1870zM1752.1 180.5H1762V183.8H1752.1zM1856.9 180.5H1935.4V183.8H1856.9zM1752.1 183.8H1765.2V187.1H1752.1zM1847 183.8H1928.9V187.1H1847zM1843.8 187.1H1922.3V190.3H1843.8zM1843.8 190.3H1915.8V193.6H1843.8zM1843.8 193.6H1912.5V196.9H1843.8zM1843.8 196.9H1906V200.2H1843.8zM1843.8 200.2H1899.4V203.4H1843.8zM1562.3 203.4H1611.4V206.7H1562.3zM1843.8 203.4H1892.9V206.7H1843.8zM1562.3 206.7H1614.7V210H1562.3zM1843.8 206.7H1886.3V210H1843.8zM1565.6 210H1614.7V213.2H1565.6zM1847 210H1883V213.2H1847zM1565.6 213.2H1614.7V216.5H1565.6zM1853.6 213.2H1876.5V216.5H1853.6zM1565.6 216.5H1614.7V219.8H1565.6zM1860.1 216.5H1870V219.8H1860.1zM1565.6 219.8H1611.4V223.1H1565.6zM1565.6 223.1H1608.1V226.3H1565.6zM1565.6 226.3H1604.9V229.6H1565.6zM1565.6 229.6H1601.6V232.9H1565.6zM1568.9 232.9H1598.3V236.2H1568.9zM1487 278.7H1496.9V282H1487zM1460.8 282H1509.9V285.2H1460.8zM1444.5 285.2H1526.3V288.5H1444.5zM1349.6 288.5H1359.4V291.8H1349.6zM1444.5 288.5H1536.1V291.8H1444.5zM1349.6 291.8H1359.4V295.1H1349.6zM1444.5 291.8H1536.1V295.1H1444.5zM1349.6 295.1H1359.4V298.3H1349.6zM1444.5 295.1H1513.2V298.3H1444.5zM1516.5 295.1H1536.1V298.3H1516.5zM1634.3 295.1H1673.6V298.3H1634.3zM1906 295.1H1915.8V298.3H1906zM1349.6 298.3H1359.4V301.6H1349.6zM1444.5 298.3H1513.2V301.6H1444.5zM1526.3 298.3H1536.1V301.6H1526.3zM1637.6 298.3H1673.6V301.6H1637.6zM1906 298.3H1915.8V301.6H1906zM1349.6 301.6H1359.4V304.9H1349.6zM1454.3 301.6H1513.2V304.9H1454.3zM1526.3 301.6H1536.1V304.9H1526.3zM1637.6 301.6H1673.6V304.9H1637.6zM1906 301.6H1915.8V304.9H1906zM1460.8 304.9H1513.2V308.2H1460.8zM1526.3 304.9H1536.1V308.2H1526.3zM1637.6 304.9H1676.9V308.2H1637.6zM1906 304.9H1915.8V308.2H1906zM1470.7 308.2H1513.2V311.4H1470.7zM1526.3 308.2H1536.1V311.4H1526.3zM1640.9 308.2H1676.9V311.4H1640.9zM1480.5 311.4H1513.2V314.7H1480.5zM1529.6 311.4H1536.1V314.7H1529.6zM1493.6 314.7H1516.5V318H1493.6zM1529.6 314.7H1532.9V318H1529.6zM1503.4 318H1516.5V321.3H1503.4z"/>
<path fill="#fca232" d="M1379 33.4H1405.2V36.5H1379zM1428.1 33.4H1451V36.5H1428.1zM1379 36.5H1405.2V39.8H1379zM1428.1 36.5H1451V39.8H1428.1zM1379 39.8H1405.2V43.1H1379zM1428.1 39.8H1451V43.1H1428.1zM1379 43.1H1451V46.3H1379zM1454.3 43.1H1460.8V46.3H1454.3zM1483.8 43.1H1509.9V46.3H1483.8zM1379 46.3H1451V49.6H1379zM1454.3 46.3H1460.8V49.6H1454.3zM1483.8 46.3H1509.9V49.6H1483.8zM1454.3 49.6H1509.9V52.9H1454.3zM1454.3 52.9H1509.9V56.2H1454.3zM1454.3 56.2H1509.9V59.4H1454.3zM1336.5 95.4H1343V98.7H1336.5zM1336.5 98.7H1343V102H1336.5zM1336.5 102H1343V105.2H1336.5zM1336.5 105.2H1343V108.5H1336.5zM1336.5 108.5H1343V111.8H1336.5zM1653.9 134.7H1670.3V138H1653.9zM1653.9 138H1693.2V141.2H1653.9zM1706.3 138H1748.9V141.2H1706.3zM1653.9 141.2H1748.9V144.5H1653.9zM1657.2 144.5H1748.9V147.8H1657.2zM1663.8 147.8H1748.9V151.1H1663.8zM1667 151.1H1748.9V154.3H1667zM1853.6 151.1H1925.6V154.3H1853.6zM1673.6 154.3H1752.1V157.6H1673.6zM1840.5 154.3H1925.6V157.6H1840.5zM1676.9 157.6H1752.1V160.9H1676.9zM1840.5 157.6H1928.9V160.9H1840.5zM1680.1 160.9H1745.6V164.2H1680.1zM1840.5 160.9H1928.9V164.2H1840.5zM1686.7 164.2H1739V167.4H1686.7zM1840.5 164.2H1915.8V167.4H1840.5zM1699.8 167.4H1739V170.7H1699.8zM1840.5 167.4H1906V170.7H1840.5zM1716.1 170.7H1739V174H1716.1zM1840.5 170.7H1850.3V174H1840.5zM1719.4 174H1739V177.2H1719.4zM1719.4 177.2H1739V180.5H1719.4zM1938.7 177.2H1961.2V180.5H1938.7zM1719.4 180.5H1739V183.8H1719.4zM1938.7 180.5H1961.2V183.8H1938.7zM1719.4 183.8H1739V187.1H1719.4zM1938.7 183.8H1961.2V187.1H1938.7zM1938.7 187.1H1961.2V190.3H1938.7zM1938.7 190.3H1961.2V193.6H1938.7zM1938.7 193.6H1961.2V196.9H1938.7zM1938.7 196.9H1961.2V200.2H1938.7zM1660.5 200.2H1719.4V203.4H1660.5zM1938.7 200.2H1961.2V203.4H1938.7zM1424.8 203.4H1509.9V206.7H1424.8zM1634.3 203.4H1752.1V206.7H1634.3zM1938.7 203.4H1961.2V206.7H1938.7zM1424.8 206.7H1513.2V210H1424.8zM1614.7 206.7H1784.9V210H1614.7zM1938.7 206.7H1961.2V210H1938.7zM1421.6 210H1513.2V213.2H1421.6zM1614.7 210H1817.6V213.2H1614.7zM1938.7 210H1961.2V213.2H1938.7zM1421.6 213.2H1516.5V216.5H1421.6zM1614.7 213.2H1817.6V216.5H1614.7zM1938.7 213.2H1961.2V216.5H1938.7zM1421.6 216.5H1516.5V219.8H1421.6zM1614.7 216.5H1820.9V219.8H1614.7zM1938.7 216.5H1961.2V219.8H1938.7zM1421.6 219.8H1519.8V223.1H1421.6zM1611.4 219.8H1824.1V223.1H1611.4zM1938.7 219.8H1961.2V223.1H1938.7zM1421.6 223.1H1519.8V226.3H1421.6zM1608.1 223.1H1827.4V226.3H1608.1zM1938.7 223.1H1961.2V226.3H1938.7zM1418.3 226.3H1523V229.6H1418.3zM1604.9 226.3H1827.4V229.6H1604.9zM1938.7 226.3H1961.2V229.6H1938.7zM1418.3 229.6H1523V232.9H1418.3zM1601.6 229.6H1830.7V232.9H1601.6zM1938.7 229.6H1961.2V232.9H1938.7zM1418.3 232.9H1523V236.2H1418.3zM1598.3 232.9H1834V236.2H1598.3zM1938.7 232.9H1961.2V236.2H1938.7zM1336.5 236.2H1352.8V239.4H1336.5zM1418.3 236.2H1519.8V239.4H1418.3zM1581.9 236.2H1834V239.4H1581.9zM1336.5 239.4H1352.8V242.7H1336.5zM1418.3 239.4H1519.8V242.7H1418.3zM1581.9 239.4H1670.3V242.7H1581.9zM1758.7 239.4H1834V242.7H1758.7zM1336.5 242.7H1352.8V246H1336.5zM1415 242.7H1516.5V246H1415zM1581.9 242.7H1670.3V246H1581.9zM1758.7 242.7H1834V246H1758.7zM1879.8 242.7H1961.2V246H1879.8zM1336.5 246H1356.1V249.2H1336.5zM1415 246H1467.4V249.2H1415zM1480.5 246H1516.5V249.2H1480.5zM1581.9 246H1670.3V249.2H1581.9zM1811 246H1834V249.2H1811zM1879.8 246H1961.2V249.2H1879.8zM1336.5 249.2H1356.1V252.5H1336.5zM1415 249.2H1467.4V252.5H1415zM1480.5 249.2H1513.2V252.5H1480.5zM1581.9 249.2H1670.3V252.5H1581.9zM1811 249.2H1834V252.5H1811zM1883 249.2H1961.2V252.5H1883zM1336.5 252.5H1356.1V255.8H1336.5zM1415 252.5H1467.4V255.8H1415zM1480.5 252.5H1513.2V255.8H1480.5zM1585.2 252.5H1834V255.8H1585.2zM1883 252.5H1961.2V255.8H1883zM1336.5 255.8H1356.1V259.1H1336.5zM1415 255.8H1513.2V259.1H1415zM1585.2 255.8H1834V259.1H1585.2zM1883 255.8H1961.2V259.1H1883zM1336.5 259.1H1359.4V262.3H1336.5zM1418.3 259.1H1516.5V262.3H1418.3zM1588.5 259.1H1834V262.3H1588.5zM1883 259.1H1961.2V262.3H1883zM1336.5 262.3H1359.4V265.6H1336.5zM1418.3 262.3H1519.8V265.6H1418.3zM1588.5 262.3H1834V265.6H1588.5zM1883 262.3H1961.2V265.6H1883zM1336.5 265.6H1359.4V268.9H1336.5zM1421.6 265.6H1523V268.9H1421.6zM1591.8 265.6H1834V268.9H1591.8zM1883 265.6H1961.2V268.9H1883zM1336.5 268.9H1359.4V272.2H1336.5zM1424.8 268.9H1460.8V272.2H1424.8zM1467.4 268.9H1526.3V272.2H1467.4zM1591.8 268.9H1834V272.2H1591.8zM1883 268.9H1961.2V272.2H1883zM1336.5 272.2H1362.7V275.4H1336.5zM1424.8 272.2H1441.2V275.4H1424.8zM1477.2 272.2H1529.6V275.4H1477.2zM1595 272.2H1834V275.4H1595zM1886.3 272.2H1961.2V275.4H1886.3zM1336.5 275.4H1362.7V278.7H1336.5zM1487 275.4H1529.6V278.7H1487zM1595 275.4H1834V278.7H1595zM1886.3 275.4H1961.2V278.7H1886.3zM1336.5 278.7H1362.7V282H1336.5zM1496.9 278.7H1523V282H1496.9zM1598.3 278.7H1834V282H1598.3zM1886.3 278.7H1961.2V282H1886.3zM1336.5 282H1362.7V285.2H1336.5zM1509.9 282H1516.5V285.2H1509.9zM1598.3 282H1834V285.2H1598.3zM1886.3 282H1961.2V285.2H1886.3zM1336.5 285.2H1362.7V288.5H1336.5zM1601.6 285.2H1834V288.5H1601.6zM1886.3 285.2H1961.2V288.5H1886.3zM1336.5 288.5H1349.6V291.8H1336.5zM1359.4 288.5H1362.7V291.8H1359.4zM1601.6 288.5H1834V291.8H1601.6zM1886.3 288.5H1961.2V291.8H1886.3zM1336.5 291.8H1349.6V295.1H1336.5zM1359.4 291.8H1362.7V295.1H1359.4zM1601.6 291.8H1834V295.1H1601.6zM1886.3 291.8H1961.2V295.1H1886.3zM1336.5 295.1H1349.6V298.3H1336.5zM1359.4 295.1H1362.7V298.3H1359.4zM1604.9 295.1H1634.3V298.3H1604.9zM1673.6 295.1H1834V298.3H1673.6zM1889.6 295.1H1906V298.3H1889.6zM1915.8 295.1H1961.2V298.3H1915.8zM1336.5 298.3H1349.6V301.6H1336.5zM1359.4 298.3H1362.7V301.6H1359.4zM1604.9 298.3H1637.6V301.6H1604.9zM1673.6 298.3H1834V301.6H1673.6zM1889.6 298.3H1906V301.6H1889.6zM1915.8 298.3H1961.2V301.6H1915.8zM1336.5 301.6H1349.6V304.9H1336.5zM1359.4 301.6H1362.7V304.9H1359.4zM1608.1 301.6H1637.6V304.9H1608.1zM1673.6 301.6H1834V304.9H1673.6zM1889.6 301.6H1906V304.9H1889.6zM1915.8 301.6H1961.2V304.9H1915.8zM1336.5 304.9H1362.7V308.2H1336.5zM1608.1 304.9H1637.6V308.2H1608.1zM1676.9 304.9H1834V308.2H1676.9zM1889.6 304.9H1906V308.2H1889.6zM1915.8 304.9H1961.2V308.2H1915.8zM1336.5 308.2H1362.7V311.4H1336.5zM1617.9 308.2H1640.9V311.4H1617.9zM1676.9 308.2H1834V311.4H1676.9zM1889.6 308.2H1961.2V311.4H1889.6zM1336.5 311.4H1362.7V314.7H1336.5zM1415 311.4H1424.8V314.7H1415zM1640.9 311.4H1834V314.7H1640.9zM1889.6 311.4H1961.2V314.7H1889.6zM1336.5 314.7H1362.7V318H1336.5zM1415 314.7H1444.5V318H1415zM1657.2 314.7H1834V318H1657.2zM1889.6 314.7H1961.2V318H1889.6zM1336.5 318H1362.7V321.3H1336.5zM1415 318H1451V321.3H1415zM1663.8 318H1834V321.3H1663.8zM1892.9 318H1961.2V321.3H1892.9zM1336.5 321.3H1362.7V324.5H1336.5zM1415 321.3H1454.3V324.5H1415zM1670.3 321.3H1834V324.5H1670.3zM1892.9 321.3H1961.2V324.5H1892.9zM1336.5 324.5H1362.7V327.8H1336.5zM1415 324.5H1457.6V327.8H1415zM1680.1 324.5H1834V327.8H1680.1zM1892.9 324.5H1961.2V327.8H1892.9zM1336.5 327.8H1362.7V331.1H1336.5zM1415 327.8H1464.1V331.1H1415zM1686.7 327.8H1834V331.1H1686.7zM1892.9 327.8H1961.2V331.1H1892.9zM1336.5 331.1H1362.7V334.3H1336.5zM1415 331.1H1477.2V334.3H1415zM1693.2 331.1H1834V334.3H1693.2zM1892.9 331.1H1961.2V334.3H1892.9zM1336.5 334.3H1362.7V336.6H1336.5zM1415 334.3H1509.9V336.6H1415zM1703 334.3H1834V336.6H1703zM1892.9 334.3H1961.2V336.6H1892.9z"/>
<path fill="#f2712b" d="M1634.3 105.2H1640.9V108.5H1634.3zM1742.3 105.2H1745.6V108.5H1742.3zM1634.3 108.5H1647.4V111.8H1634.3zM1742.3 108.5H1745.6V111.8H1742.3zM1634.3 111.8H1650.7V115.1H1634.3zM1742.3 111.8H1745.6V115.1H1742.3zM1631 115.1H1657.2V118.3H1631zM1742.3 115.1H1745.6V118.3H1742.3zM1631 118.3H1680.1V121.6H1631zM1742.3 118.3H1745.6V121.6H1742.3zM1925.6 118.3H1932.1V121.6H1925.6zM1631 121.6H1745.6V124.9H1631zM1919 121.6H1935.4V124.9H1919zM1631 124.9H1745.6V128.2H1631zM1915.8 124.9H1935.4V128.2H1915.8zM1640.9 128.2H1748.9V131.4H1640.9zM1915.8 128.2H1922.3V131.4H1915.8zM1928.9 128.2H1935.4V131.4H1928.9zM1650.7 131.4H1748.9V134.7H1650.7zM1915.8 131.4H1919V134.7H1915.8zM1928.9 131.4H1935.4V134.7H1928.9zM1670.3 134.7H1748.9V138H1670.3zM1915.8 134.7H1922.3V138H1915.8zM1932.1 134.7H1938.7V138H1932.1zM1693.2 138H1706.3V141.2H1693.2zM1915.8 138H1922.3V141.2H1915.8zM1932.1 138H1935.4V141.2H1932.1zM1915.8 141.2H1922.3V144.5H1915.8zM1928.9 141.2H1935.4V144.5H1928.9zM1915.8 144.5H1922.3V147.8H1915.8zM1925.6 144.5H1932.1V147.8H1925.6zM1915.8 147.8H1928.9V151.1H1915.8zM1925.6 151.1H1928.9V154.3H1925.6zM1670.3 239.4H1758.7V242.7H1670.3zM1670.3 242.7H1758.7V246H1670.3zM1467.4 246H1480.5V249.2H1467.4zM1670.3 246H1811V249.2H1670.3zM1467.4 249.2H1480.5V252.5H1467.4zM1670.3 249.2H1811V252.5H1670.3zM1467.4 252.5H1480.5V255.8H1467.4z"/>
<path fill="#d92f2a" d="M1336.5 43.1H1343V46.3H1336.5zM1336.5 46.3H1343V49.6H1336.5zM1336.5 49.6H1343V52.9H1336.5zM1336.5 52.9H1343V56.2H1336.5zM1336.5 56.2H1343V59.4H1336.5zM1336.5 79.1H1343V82.3H1336.5zM1336.5 82.3H1343V85.6H1336.5zM1336.5 85.6H1343V88.9H1336.5zM1336.5 88.9H1343V92.2H1336.5zM1637.6 88.9H1653.9V92.2H1637.6zM1725.9 88.9H1742.3V92.2H1725.9zM1336.5 92.2H1343V95.4H1336.5zM1637.6 92.2H1653.9V95.4H1637.6zM1725.9 92.2H1742.3V95.4H1725.9zM1637.6 95.4H1657.2V98.7H1637.6zM1725.9 95.4H1742.3V98.7H1725.9zM1637.6 98.7H1657.2V102H1637.6zM1725.9 98.7H1742.3V102H1725.9zM1637.6 102H1657.2V105.2H1637.6zM1725.9 102H1742.3V105.2H1725.9zM1640.9 105.2H1676.9V108.5H1640.9zM1696.5 105.2H1742.3V108.5H1696.5zM1647.4 108.5H1742.3V111.8H1647.4zM1650.7 111.8H1742.3V115.1H1650.7zM1657.2 115.1H1742.3V118.3H1657.2zM1680.1 118.3H1742.3V121.6H1680.1zM1922.3 128.2H1928.9V131.4H1922.3zM1919 131.4H1928.9V134.7H1919zM1922.3 134.7H1932.1V138H1922.3zM1922.3 138H1932.1V141.2H1922.3zM1922.3 141.2H1928.9V144.5H1922.3zM1922.3 144.5H1925.6V147.8H1922.3z"/>
<path fill="#b71f28" d="M1336.5 59.4H1343V62.7H1336.5zM1336.5 62.7H1343V66H1336.5zM1336.5 66H1343V69.2H1336.5zM1336.5 69.2H1343V72.5H1336.5zM1336.5 72.5H1343V75.8H1336.5zM1336.5 75.8H1343V79.1H1336.5zM1653.9 88.9H1725.9V92.2H1653.9zM1653.9 92.2H1725.9V95.4H1653.9zM1657.2 95.4H1725.9V98.7H1657.2zM1657.2 98.7H1725.9V102H1657.2zM1657.2 102H1725.9V105.2H1657.2zM1676.9 105.2H1696.5V108.5H1676.9z"/>
<g clip-path="url(#sstclip0)"><g transform="translate(0 0)">
<path fill="#000" d="M1346.2 33.4H1385.6V37.7H1346.2zM1477.3 33.4H1490.4V37.7H1477.3zM1529.8 33.4H1595.3V37.7H1529.8zM1739.5 33.4H1942.7V37.7H1739.5zM1346.2 37.7H1385.6V44.2H1346.2zM1477.3 37.7H1490.4V44.2H1477.3zM1529.8 37.7H1595.3V44.2H1529.8zM1739.5 37.7H1942.7V44.2H1739.5zM1352.8 44.2H1385.6V50.8H1352.8zM1438 44.2H1615V50.8H1438zM1739.5 44.2H1942.7V50.8H1739.5zM1339.7 50.8H1385.6V57.4H1339.7zM1438 50.8H1936.2V57.4H1438zM1339.7 57.4H1936.2V64H1339.7zM1339.7 64H1942.7V70.6H1339.7zM1339.7 70.6H1949.3V77.1H1339.7zM1339.7 77.1H1864.1V83.7H1339.7zM1870.6 77.1H1903.4V83.7H1870.6zM1923.1 77.1H1942.7V83.7H1923.1zM1339.7 83.7H1654.3V90.3H1339.7zM1667.4 83.7H1805.1V90.3H1667.4zM1824.7 83.7H1864.1V90.3H1824.7zM1877.2 83.7H1903.4V90.3H1877.2zM1929.6 83.7H1936.2V90.3H1929.6zM1949.3 83.7H1961.2V90.3H1949.3zM1339.7 90.3H1641.2V96.9H1339.7zM1674 90.3H1805.1V96.9H1674zM1824.7 90.3H1870.6V96.9H1824.7zM1883.7 90.3H1896.9V96.9H1883.7zM1942.7 90.3H1961.2V96.9H1942.7zM1339.7 96.9H1595.3V103.5H1339.7zM1601.9 96.9H1628.1V103.5H1601.9zM1674 96.9H1700.2V103.5H1674zM1726.4 96.9H1877.2V103.5H1726.4zM1936.2 96.9H1961.2V103.5H1936.2zM1339.7 103.5H1595.3V110.1H1339.7zM1601.9 103.5H1628.1V110.1H1601.9zM1680.5 103.5H1693.6V110.1H1680.5zM1733 103.5H1877.2V110.1H1733zM1936.2 103.5H1961.2V110.1H1936.2zM1339.7 110.1H1595.3V116.6H1339.7zM1608.4 110.1H1621.5V116.6H1608.4zM1733 110.1H1870.6V116.6H1733zM1942.7 110.1H1961.2V116.6H1942.7zM1336.4 116.6H1595.3V123.2H1336.4zM1739.5 116.6H1864.1V123.2H1739.5zM1949.3 116.6H1961.2V123.2H1949.3zM1336.4 123.2H1601.9V129.8H1336.4zM1739.5 123.2H1870.6V129.8H1739.5zM1949.3 123.2H1961.2V129.8H1949.3zM1336.4 129.8H1601.9V136.4H1336.4zM1739.5 129.8H1864.1V136.4H1739.5zM1942.7 129.8H1961.2V136.4H1942.7zM1336.4 136.4H1595.3V143H1336.4zM1739.5 136.4H1844.4V143H1739.5zM1942.7 136.4H1961.2V143H1942.7zM1336.4 143H1595.3V149.6H1336.4zM1739.5 143H1844.4V149.6H1739.5zM1942.7 143H1961.2V149.6H1942.7zM1336.4 149.6H1588.8V156.1H1336.4zM1746.1 149.6H1844.4V156.1H1746.1zM1942.7 149.6H1961.2V156.1H1942.7zM1336.4 156.1H1582.2V162.7H1336.4zM1752.6 156.1H1837.9V162.7H1752.6zM1942.7 156.1H1961.2V162.7H1942.7zM1336.4 162.7H1556V169.3H1336.4zM1562.5 162.7H1575.7V169.3H1562.5zM1752.6 162.7H1831.3V169.3H1752.6zM1936.2 162.7H1961.2V169.3H1936.2zM1336.4 169.3H1556V175.9H1336.4zM1759.2 169.3H1805.1V175.9H1759.2zM1824.7 169.3H1837.9V175.9H1824.7zM1929.6 169.3H1961.2V175.9H1929.6zM1336.4 175.9H1556V182.5H1336.4zM1759.2 175.9H1805.1V182.5H1759.2zM1824.7 175.9H1837.9V182.5H1824.7zM1929.6 175.9H1961.2V182.5H1929.6zM1336.4 182.5H1562.5V189H1336.4zM1765.8 182.5H1805.1V189H1765.8zM1824.7 182.5H1851V189H1824.7zM1929.6 182.5H1961.2V189H1929.6zM1336.4 189H1523.2V195.6H1336.4zM1542.9 189H1569.1V195.6H1542.9zM1772.3 189H1857.5V195.6H1772.3zM1929.6 189H1961.2V195.6H1929.6zM1336.4 195.6H1444.6V202.2H1336.4zM1457.7 195.6H1523.2V202.2H1457.7zM1542.9 195.6H1569.1V202.2H1542.9zM1778.9 195.6H1857.5V202.2H1778.9zM1929.6 195.6H1961.2V202.2H1929.6zM1336.4 202.2H1438V208.8H1336.4zM1457.7 202.2H1483.9V208.8H1457.7zM1490.4 202.2H1523.2V208.8H1490.4zM1542.9 202.2H1569.1V208.8H1542.9zM1785.4 202.2H1851V208.8H1785.4zM1929.6 202.2H1961.2V208.8H1929.6zM1336.4 208.8H1438V215.4H1336.4zM1457.7 208.8H1483.9V215.4H1457.7zM1497 208.8H1523.2V215.4H1497zM1542.9 208.8H1569.1V215.4H1542.9zM1792 208.8H1864.1V215.4H1792zM1929.6 208.8H1961.2V215.4H1929.6zM1336.4 215.4H1438V222H1336.4zM1457.7 215.4H1483.9V222H1457.7zM1497 215.4H1523.2V222H1497zM1542.9 215.4H1569.1V222H1542.9zM1805.1 215.4H1870.6V222H1805.1zM1929.6 215.4H1961.2V222H1929.6zM1336.4 222H1431.4V228.5H1336.4zM1464.2 222H1490.4V228.5H1464.2zM1497 222H1523.2V228.5H1497zM1542.9 222H1569.1V228.5H1542.9zM1811.6 222H1877.2V228.5H1811.6zM1936.2 222H1961.2V228.5H1936.2zM1336.4 228.5H1431.4V235.1H1336.4zM1470.8 228.5H1483.9V235.1H1470.8zM1497 228.5H1523.2V235.1H1497zM1542.9 228.5H1549.4V235.1H1542.9zM1556 228.5H1569.1V235.1H1556zM1818.2 228.5H1883.7V235.1H1818.2zM1936.2 228.5H1961.2V235.1H1936.2zM1336.4 235.1H1431.4V241.7H1336.4zM1497 235.1H1549.4V241.7H1497zM1556 235.1H1615V241.7H1556zM1818.2 235.1H1890.3V241.7H1818.2zM1942.7 235.1H1961.2V241.7H1942.7zM1346.2 241.7H1424.9V248.3H1346.2zM1497 241.7H1621.5V248.3H1497zM1818.2 241.7H1896.9V248.3H1818.2zM1346.2 248.3H1418.3V254.9H1346.2zM1497 248.3H1621.5V254.9H1497zM1818.2 248.3H1910V254.9H1818.2zM1346.2 254.9H1411.8V261.5H1346.2zM1497 254.9H1523.2V261.5H1497zM1542.9 254.9H1556V261.5H1542.9zM1575.7 254.9H1621.5V261.5H1575.7zM1811.6 254.9H1916.5V261.5H1811.6zM1346.2 261.5H1411.8V268H1346.2zM1497 261.5H1556V268H1497zM1575.7 261.5H1621.5V268H1575.7zM1818.2 261.5H1916.5V268H1818.2zM1352.8 268H1424.9V274.6H1352.8zM1497 268H1556V274.6H1497zM1575.7 268H1621.5V274.6H1575.7zM1818.2 268H1916.5V274.6H1818.2zM1346.2 274.6H1431.4V281.2H1346.2zM1497 274.6H1621.5V281.2H1497zM1818.2 274.6H1910V281.2H1818.2zM1346.2 281.2H1431.4V287.8H1346.2zM1503.6 281.2H1615V287.8H1503.6zM1824.7 281.2H1910V287.8H1824.7zM1346.2 287.8H1431.4V294.4H1346.2zM1536.3 287.8H1601.9V294.4H1536.3zM1831.3 287.8H1910V294.4H1831.3zM1346.2 294.4H1431.4V301H1346.2zM1529.8 294.4H1608.4V301H1529.8zM1831.3 294.4H1903.4V301H1831.3zM1352.8 301H1431.4V307.5H1352.8zM1523.2 301H1608.4V307.5H1523.2zM1831.3 301H1903.4V307.5H1831.3zM1352.8 307.5H1431.4V314.1H1352.8zM1523.2 307.5H1615V314.1H1523.2zM1831.3 307.5H1896.9V314.1H1831.3zM1352.8 314.1H1405.2V320.7H1352.8zM1411.8 314.1H1424.9V320.7H1411.8zM1529.8 314.1H1615V320.7H1529.8zM1831.3 314.1H1890.3V320.7H1831.3zM1359.3 320.7H1398.7V327.3H1359.3zM1529.8 320.7H1615V327.3H1529.8zM1831.3 320.7H1890.3V327.3H1831.3zM1359.3 327.3H1398.7V333.9H1359.3zM1529.8 327.3H1615V333.9H1529.8zM1634.7 327.3H1647.8V333.9H1634.7zM1831.3 327.3H1883.7V333.9H1831.3zM1359.3 333.9H1392.1V336.6H1359.3zM1529.8 333.9H1608.4V336.6H1529.8zM1628.1 333.9H1654.3V336.6H1628.1zM1831.3 333.9H1883.7V336.6H1831.3z"/>
<path fill="#a9b0aa" stroke="#000" stroke-width="5" stroke-linejoin="round" paint-order="stroke" d="M1336.5 150.5l5-2.5 9 0 3.5-1 1.5 1-0.5 3.5 0.5 5.5 3.5 1.5 3.5 2 2 2.5 5 2 2-1.5 0-3 2.5-2 2.5 0.5 3.5 3 7 1.5 2-1 4 0.5 3-0.5 1.5 5-1 4-1 0.5-1-2-1-3.5 0 1.5 1.5 5.5 1.5 3 2 6.5 2 4 1 8 2 3 1.5 6 3 4 2.5 3.5 1.5 2.5 1.5 3.5 1.5 0 3.5-2 3.5-0.5 4-1 0 3.5-1.5 4-1.5 5-2 5.5-2.5 5-2.5 2.5-3.5 4-2.5 4-3 4-1.5 5.5-1 4 1 5 0.5 5.5 1 2.5 0.5 8-0.5 3.5-2.5 3.5-3.5 3-2.5 3-1.5 2.5 1.5 4 0 6.5-4.5 4-0.5 3-0.5 5-2 2.5-2 4-3 4-2.5 3-2.5 1-4.5 0-1.5 0.5-3.5 1.5-2-1-1-3.5-0.5-2.5-1.5-5.5-1.5-3.5-2-4.5-0.5-5-1-7-1.5-5-2.5-6.5-0.5-4 1-6.5 2-5.5 0.5-4-1.5-4-1-6.5-0.5-2.5-1.5-4-2.5-4-1-4 0.5-5 0.5-4 0-2.5-1.5-3-2.5 0.5-2.5 0-2-3-0.5-2-3.5 0-3 0.5-1.5 1.5-3.5 2-3.5-1-6 2-3-1.5-3.5-5-3.5-4.5-0.5-3.5-3-3-3-4-0.5-5.5 1-5 0.5-6.5-1.5-5.5 2-7 2.5-6 2.5-4 3-2 3-3 0-4 1-4.5 3.5-3 1.5-3 1-2.5 3 2 3.5 0 3.5-2zM1965.5 150.5l5.5-2.5 8.5 0 3.5-1 2 1-1 3.5 1 5.5 3.5 1.5 3.5 2 1.5 2.5 5.5 2 1.5-1.5 0-3 3-2 2.5 0.5 3.5 3 7 1.5 1.5-1 4.5 0.5 3-0.5 1 5-1 4-0.5 0.5-1-2-1.5-3.5 0.5 1.5 1.5 5.5 1 3 2 6.5 2.5 4 1 8 2 3 1.5 6 3 4 2.5 3.5 1.5 2.5 1 3.5 2 0 3.5-2 3.5-0.5 3.5-1 0 3.5-1 4-2 5-1.5 5.5-2.5 5-3 2.5-3.5 4-2.5 4-2.5 4-2 5.5-1 4 1 5 0.5 5.5 1.5 2.5 0 8 0 3.5-2.5 3.5-3.5 3-3 3-1 2.5 1 4 0 6.5-4 4-0.5 3-0.5 5-2 2.5-2.5 4-2.5 4-2.5 3-2.5 1-4.5 0-2 0.5-3.5 1.5-2-1-1-3.5-0.5-2.5-1-5.5-1.5-3.5-2-4.5-1-5-0.5-7-1.5-5-3-6.5 0-4 0.5-6.5 2.5-5.5 0.5-4-1.5-4-1.5-6.5 0-2.5-1.5-4-2.5-4-1-4 0.5-5 0.5-4 0-2.5-2-3-2 0.5-3 0-1.5-3-1-2-3.5 0-2.5 0.5-2 1.5-3.5 2-3.5-1-6 2-2.5-1.5-3.5-5-3.5-4.5-1-3.5-2.5-3-3-4-1-5.5 1.5-5 0.5-6.5-1.5-5.5 1.5-7 3-6 2.5-4 2.5-2 3-3 0.5-4 0.5-4.5 4-3 1-3 1.5-2.5 2.5 2 3.5 0 3.5-2zM1326.5 150l3-1.5 3.5 0 2.5-4 1-1.5-0.5-2 2-4 4-2.5-0.5-3.5 3-0.5 2.5 1 2.5-2 2.5-1.5 2 1.5 1 2.5 1 1.5 1.5 1 1.5 2 2 0.5 3 2.5 0 3 0.5 2.5-1-0.5 1.5-1.5 1-0.5 0.5-4 2 1-0.5-1.5-3.5-2-1.5-1.5-2-1.5-1-2.5-2-2.5 0-2.5 2-1 1.5 1.5 2 3 2.5 2.5 2.5 2 2 1.5 0 4 1.5 2 1 2.5 1 4 1.5 1.5 1-2.5 0.5-2 1.5 0-2-3.5 0-2.5 2-1 3.5 0 0.5 1.5-0.5 2 1 2 1 3.5 1.5 2 3 1 1-1 3.5 1.5 3.5-2 3 0.5-0.5 4.5-0.5 2.5-1 2.5-1 4-0.5 0.5 1.5 5 0.5 4 2 3.5 2 6 1.5 2 1.5 5.5 1.5 4 1.5 5 2 4 1 5.5 1.5 4.5 2.5 0 6-3.5 3-2.5 3.5-1.5 2.5-2.5 3.5-2.5 1.5-2 2.5-2 1.5-4 2-5-2.5-3-3-2-0.5-1.5 0-3.5-1.5 1.5-2.5 4-3.5 0.5-1-1 0-2.5-1-2-1.5 1.5 0-3-1-0.5-2-4.5-1-3.5 1.5-1.5 3 3 2 3.5 2.5 2.5 2 1 3-1 1-0.5 1.5 3.5 3 1 4.5 0.5 3.5 0 5-0.5 1.5 1.5 1.5 3 1 3.5 2.5-1-1.5 1.5-0.5 1 2.5 2.5 3-1 1-1.5 0 4 0.5 3.5 0.5 5 1 4 1.5 7 1.5 4 1.5 5 2 3.5 1-2 2-3.5 1-4 1-4.5-0.5-4.5 2-3 2-2 3-3.5 4-4 1-4 2.5-0.5 2.5-1 3-1 1 4 2.5 5 1 8 2 0.5 4-2 0.5 6.5 1.5 5.5-1 8 0.5 2.5 3 4 0.5 4 1.5 5 4 4.5 1 0-1.5-7 0-4-2-2-3.5-6-1.5-5 0-5.5 1.5-2.5 1.5 2.5 2.5 1 1 3 3 6.5 3.5-5 4-3 0.5-3.5-1-6.5-3.5-5.5-2-4 2-4.5 2-2 3 0 1.5 3-0.5-4 3 0 3.5-1 4.5-2 3.5-4 2-4 1.5-5 2.5-5 0-3.5-2-4-2-5 1.5-4 3.5-2-1.5-1.5-4.5 0.5-0.5-2-2-2 0.5-1 3-2 3-2.5 1.5 1-1.5 4 2-2 3-0.5 2 1-0.5 4.5 2.5 2-0.5 6 2.5 0.5 3-2 0.5-4-2-4.5-1.5-3.5 3.5-2.5 0-2.5 2-1.5 3-2 5.5-2 4.5-7 3.5-5 0.5-5.5 0-5 1.5-2-5-2-2.5 0-3.5-2.5 4.5-4.5 5-4 4.5-3.5 6 0 6-0.5 4.5 1.5 4.5-0.5 3-6 6.5-0.5 5-2-2.5 8-3.5 4-3.5 1-2.5 4-1 8 1.5 5 3-5 2.5-0.5 3.5-8 2-4-2-0.5 2-7 2.5 2 2.5-1.5 7 1 4.5-2.5 8-4 3.5 0.5 1.5-7 5.5-1.5 5 2.5 3 0.5 4-3-1-2.5-6-1.5-5-2.5-5.5-2.5-8.5-2.5-9-0.5-8.5 1-9 0-7-3.5-7 0.5-12-4.5-9 0.5-8.5 2-9 1.5-3.5-4-10.5-1-15.5-2-5.5-8-10.5-2.5-7 4.5-8.5 0-12.5 2.5-2.5 2.5-11.5 3.5 0 4.5-7-2.5-5.5-2 0 4.5 0.5 8-7 3-5-5.5-10.5 0-9 2-8.5 0.5-10.5-1.5-1 6-4.5-0.5-1 5-6 2-4-2-3-5 5.5-1.5 8.5-2-1.5-2-12.5-1.5-5-1.5-9-3-12 2.5-5.5 4.5-5 5.5-2 5.5-6 4-4.5 2.5 0 6.5 3.5 3 2-0.5 3.5-2.5 1.5 0.5 1.5 2.5 1 4.5 1 2-4 2.5-1.5-6.5-2 0-1 4 1 4.5-3 0.5-4 1.5-2 4-3.5 1.5-5 3.5-1 2.5-5 0.5 5 3.5 1.5 3-0.5 6.5-11.5-0.5-2.5 2 1 3.5-1 7.5 1 4.5 4 0 1.5 2.5zM1956 150l2.5-1.5 3.5 0 3-4 1-1.5-1-2 2.5-4 4-2.5-0.5-3.5 2.5-0.5 2.5 1 3-2 2.5-1.5 2 1.5 0.5 2.5 1.5 1.5 1 1 2 2 1.5 0.5 3 2.5 0.5 3 0.5 2.5-1-0.5 1.5-1.5 1-0.5 0-4 2.5 1-1-1.5-3.5-2-1.5-1.5-2-1.5-0.5-2.5-2.5-2.5 0-2.5 2.5-1 1.5 1.5 2 3 2.5 2.5 2.5 2 2 1.5 0 4 1 2 1.5 2.5 1 4 1.5 1.5 1-2.5 0-2 1.5 0-2-3.5 0-2.5 2-1 3.5 0 1 1.5-0.5 2 1 2 0.5 3.5 2 2 2.5 1 1.5-1 3.5 1.5 3.5-2 2.5 0.5 0 4.5-1 2.5-0.5 2.5-1 4-0.5 0.5 1 5 0.5 4 2.5 3.5 1.5 6 2 2 1 5.5 1.5 4 2 5 1.5 4 1.5 5.5 1 4.5 3 0 6-3.5 2.5-2.5 3.5-1.5 2.5-2.5 3.5-2.5 2-2 2-2 2-4 1.5-5-2-3-3-2-0.5-1.5-0.5-3.5-1.5 1.5-2.5 4-3.5 0.5-1-1 0-2.5-0.5-2-1.5 1.5-0.5-3-1-0.5-1.5-4.5-1-3.5 1.5-1.5 2.5 3 2 3.5 3 2.5 1.5 1 3-1 1-0.5 2 3.5 3 1 4.5 0.5 3 0 5.5-0.5 1 1.5 2 3 1 3.5 2.5-1-2 1.5 0 1 2.5 2.5 2.5-1 1-1.5 0.5 4 0 3.5 1 5 0.5 4 1.5 7 2 4 1 5 2 3.5 1.5-2 2-3.5 0.5-4 1-4.5-0.5-4.5 2.5-3 1.5-2 3.5-3.5 4-4 1-4 2.5-0.5 2.5-1 2.5-1 1.5 4 2.5 5 1 8 2 0.5 3.5-2 0.5 6.5 1.5 5.5-0.5 8 0.5 2.5 3 4 0 4 2 5 3.5 4.5 1.5 0-1.5-7 0-4-2.5-2-3-6-1.5-5-0.5-5.5 1.5-2.5 1.5 2.5 3 1 0.5 3 3.5 6.5 3-5 4-3 0.5-3.5-0.5-6.5-4-5.5-1.5-4 1.5-4.5 2.5-2 3 0 1.5 3-0.5-4 3 0 3.5-1 4.5-2 3.5-4 1.5-4 2-5 2-5 0.5-3.5-2-4-2.5-5 2-4 3.5-2-2-1.5-4.5 0.5 0-2-2.5-2 1-1 2.5-2 3-2.5 2 1-2 4 2.5-2 3-0.5 1.5 1-0.5 4.5 3 2-0.5 6 2 0.5 3-2 0.5-4-1.5-4.5-2-3.5 4-2.5 0-2.5 1.5-1.5 3.5-2 5-2 5-7 3.5-5 0.5-5.5 0-5 1-2-4.5-2-3 0-3-2.5 4-4.5 5.5-4 4-3.5 6.5 0 6-0.5 4 1.5 4.5-0.5 3-6 6.5-0.5 5.5-2-2.5 8-3.5 4-3.5 1-3 4-0.5 8 1 5 3-5 3-0.5 3.5-8 2-4-2-0.5 1.5-7 2.5 2 3-1.5 7 1 4-2.5 8-4 3.5 0.5 2-7 5-1.5 5.5 2.5 3 0.5 4-3-1-2.5-6-1.5-5.5-2.5-5-2.5-9-2.5-8.5-0.5-9 1-8.5 0-7-3.5-7 0.5-12.5-4.5-8.5 0.5-9 2-8.5 1.5-3.5-4-10.5-1-16-2-5-8-10.5-2.5-7 4.5-9 0-12 2.5-2.5 2.5-11.5 3.5 0 4.5-7-2.5-5.5-2-0.5 4.5 1 8-7 3-5.5-5.5-10.5 0-8.5 2-9 0.5-10.5-1.5-1 6-4-0.5-1 5-6 2-4-2-3-5 5-1.5 9-2-2-2-12-1.5-5.5-1.5-8.5-3-12.5 2.5-5 4.5-5.5 5.5-1.5 5.5-6 4-4.5 2.5 0 6.5 3 3 2-0.5 3.5-2.5 2 0.5 1.5 2.5 1 4.5 0.5 2-4 2.5-1-6.5-2.5 0-0.5 4 0.5 4.5-2.5 0.5-4 1.5-2 4-3.5 1.5-5.5 3.5-0.5 2.5-5 0.5 4.5 3.5 1.5 3-0.5 6.5-11.5-0.5-2 2 1 3.5-1.5 7.5 1 4.5 4.5 0 1.5 2.5zM1422.5 276.5l2 9.5-1.5 5-2.5 12-2 8-3.5 1-2.5-9 1.5-16 4.5-4zM1672 72.5l6-2.5 2 1 3.5-0.5-4-2-4-3.5 5.5-3 4-3 7-1.5 8 1 7 1.5 12 1.5 10.5 1 9-2 10.5 2 10.5 2 8.5 0.5 9 0.5 7 0.5 10.5 0.5 5-1 2-3 8.5 1.5 7-3 5.5 3.5 0.5 4-7.5 2.5-2.5 3.5-6 3.5-5 5-2 5.5 4 6.5 7 1 6 3.5 5 0.5 0.5 5.5 2.5 4.5 2.5-0.5 0.5-8.5 3.5-4-1.5-6-0.5-6 0.5-4.5 5.5 0.5 6 3.5 2.5 4 3.5 3 4.5-4 1-1.5 4.5 7.5 2.5 5 5 3 3 5 0.5 2.5-5 1-2.5 3-11.5 0-5.5 6-1.5 2 4.5-5.5 6 0.5 0 2.5-2.5 1.5 3.5 3.5 5 1.5-5 3.5-3.5 1-2-2.5-5 3-1.5 3.5 1.5 1.5-3 1-4 2 0 3-3 2.5-0.5 3 0 5-1.5 2-3 2.5-3.5 4-1.5 4.5 1.5 5.5 1 5-1 3.5-1.5 0-1-3.5-1.5-3.5-0.5-3-2-2.5-3-1-3.5-0.5-3 1 0.5 3-2 0-3.5-1.5-3.5 0.5-4.5 4.5-1 6 0 9 1 4 2 4 2.5 2 4.5-1 1.5-1.5 1-5 3.5-1 3 0.5-1.5 4.5-1 5.5 0 4 4 0 3.5 1 1 2-0.5 7.5 0 2.5 3 5.5 3.5-1 3.5 0 1 2-1 3.5-3.5 0-1-2-4.5-1-4.5-4.5 0-3-3.5-4.5-7-3-2.5-4-2.5-1.5-3.5 1-4.5-2-4-3-3.5-2-3.5-4 0-4-1-4-3.5-5.5-2.5-4-2-3-2.5-3.5-2-6-3-1 1 4.5 2.5 4 1.5 5 2.5 6.5 1.5 2.5-1 0.5-3-5-0.5-3-3-3.5-0.5-3-2.5-4-1.5-4-1-3-2.5-3.5-3.5-1.5-2.5-5-1-3.5-2-4.5-1.5-2.5 0.5-4 0.5-10.5-1.5-6-0.5-4.5-4-2.5-1-4-4.5-5.5-1.5-2.5-3-4-4-4-3.5-0.5-4.5-3-7-0.5-4.5-2-2.5 2-3.5 1.5-2.5 0.5 0.5-4-3.5 4.5-1.5 3-4.5 3-4.5 2.5-5 2-4.5 1.5 4.5-3 3.5-2.5 4.5-3 0.5-2.5-5 0-3.5-2-4.5-3-0.5-2.5-2-2.5 2.5-2 6.5-3.5-4.5 0-5.5 0-2.5-2.5zM1830.5 222.5l2.5-2.5 0.5-3 3.5-2 3-2 0.5 3-0.5 2 1.5-1.5 2-4 3.5 5 3.5-0.5 3.5 0 3.5 0.5 1.5 2.5 2 3 3.5 4 5 2.5 3.5 1 2.5 3.5 3 6.5 0 4.5 2.5 2.5 4.5 0.5 2.5 3.5 6 1 4.5 2 5.5 4.5 1 5.5-1 5.5-3 4-3.5 6 0 11-1.5 7-2 5-1.5 2.5-4.5 1-3.5 1.5-3.5 6.5-0.5 5-2 4.5-3 4.5-2.5 4.5-1.5 3.5-2 0.5-3.5-1-2.5-0.5 2.5 4.5-1 5-7.5 2.5-5.5 8-1.5 8-10.5 0-3-13 0-8 3-8 0.5-10.5 2-10.5 0.5-16 0-4.5-2.5-2.5-6.5-5-1.5-5-2-4-2-6.5-2.5-6.5-2.5-2.5 0-4 2-3 0.5-3-1.5-3 1.5-5 2-2 2-4.5 0.5-3.5-0.5-5-0.5-2.5zM1838 39.5l9 5.5 14 0.5 6 4.5 2.5 8 3.5 1.5 2.5 5-3.5 5.5 4.5 6.5 3.5 6 5.5 3 5 2 1-3 2.5-6.5 3.5-5.5 7-2 7-5.5 10.5-3 5-2.5 0-6.5 5.5-4 0-6.5 1.5-8-3.5-5.5-17.5-2.5-52 0-17.5 5zM1923.5 72.5l3.5-2.5 7 0.5 6.5 0 1.5 3.5-1.5 1.5-6.5 2.5-7.5-1zM1326.5 113.5l4.5-1.5 8-2 0.5-4-3-2-1-2.5-2-3-1-5.5-1.5-2.5-3.5 0-2 3 1.5 5 1 2 3 2 0 2-2.5 0 0.5 3-1.5 1 3 1-3.5 1.5zM1955.5 113.5l5-1.5 7.5-2 0.5-4-2.5-2-1-2.5-2-3-1-5.5-1.5-2.5-3.5 0-2 3 1 5 1.5 2 2.5 2 0.5 2-3 0 1 3-2 1 3.5 1-4 1.5zM1955 108l0-4.5 1-4-4.5 0-3.5 3 0 5.5 1 1.5 5.5-2zM1565 155.5l3-4 6 0 1.5-4.5 3-1.5 2.5-4.5 0-4.5 2.5 0 1 6-1.5 4 0 3.5-0.5 2.5-1.5 0.5-2 1-3 0-3.5 2-2-2-3 1-2 1zM1581 135.5l2-0.5 4-0.5 3.5-3.5-0.5-2.5-5.5-3.5-0.5 1-1 5.5-1.5 0.5 0 2zM1563 157.5l2-2 2 2-1 5-2 0.5-0.5-4zM1568 156l2-1.5 2 0.5-1 2.5-2 1zM1584.5 124l2.5-2-0.5-6 2.5 0-2.5-8 0.5-6-2 0-1 6 0.5 6.5 0 5.5zM1546.5 184.5l1 2.5 2-8-0.5-0.5-2.5 4.5zM1526.5 194.5l2-2.5 2 1-1 3.5-1.5 0.5-2-0.5zM1476 224l0.5-5 2.5 5 0.5 2.5-1.5 2.5-2-0.5zM1547 196.5l3 0 0.5 3.5-1.5 4 4 4 0 4-4-3.5-2-1-1-5.5 1-1zM1549.5 224l1 2.5 2.5 2.5 3 1 1.5-3.5-0.5-5.5-1-1.5-1-7.5-2-0.5-1.5 5.5-2 0.5 2.5 4.5zM1541.5 223l2.5-4.5 1.5-3.5-0.5 2-3 5.5zM1527 241l1-1.5 2.5 1 3.5-4 1.5-3.5 3-2 2-4.5 1.5 2.5 3 2-2.5 2.5 0 7.5 2 1.5-2.5 3.5-2 3-0.5 6.5-3 0-2.5-2-2.5 0.5-2.5-1.5-0.5-3.5-1.5-3.5zM1503 230.5l4 1 4.5 7.5 2.5 1.5 3.5 4.5 1.5 4 2.5 4 0 7.5-2.5 0-4-5-2.5-6.5-3-6.5-2-3.5-1.5-4-3-3zM1520.5 263l1.5-2 3.5 0.5 4 1.5 3.5 0 3.5 2.5 0 2.5-3.5-1-4.5-0.5-3.5-1-2.5-1zM1537.5 266.5l7 0.5 3 0 4 0 3.5 0.5 3.5-0.5-3.5 3-2 2-3.5 1-7-4.5-3.5 0zM1545.5 259.5l1.5 0 0-6.5 1.5 4.5 2.5 0.5-1.5-5 2.5-5.5-3 0-1-5.5 6.5-1 0.5 0.5-8.5 2-0.5 4-1 6.5zM1559.5 240.5l2 0.5-1 2.5 1 3-1.5 0.5-1-3.5zM1560 253l5 1-1.5 1.5-3-1zM1565.5 248.5l2-2.5 3.5 1.5 1.5 6 5-4.5 5.5 3 6 3 2.5 3.5 2.5 2.5-0.5 2 1.5 3 3.5 4.5 1.5 1.5-6-0.5-2.5-5-3.5-1.5-1 3.5-2.5 0.5-1.5 0-3.5-2.5-2 0.5 1.5-4-2-4.5-4.5-2-2.5-1-1.5 0.5-1.5-3.5 2.5-1.5-2.5 0zM1595.5 259.5l3-1 2.5-1.5 1.5-0.5-1.5 3-2.5 2zM1534.5 303l1-0.5 5-3.5 7.5-2.5 2-6.5 2.5-1.5 2.5-5.5 3-1.5 2.5 3 2.5-0.5 1-4 1.5-3 2.5 0 0-2 4.5 2 2.5-0.5 0.5 2-1.5 5 2 3.5 4 4 2.5 0 1.5-6.5-0.5-3.5 1-7 1-1 1.5 5 0.5 5 3 1.5 1 6.5 2 4.5 3.5 3.5 2.5 5 4.5 7.5 0.5 7-0.5 7-1 5-2 3.5-1.5 4.5-1 6.5-17.5 0-4-6.5 0.5-3-0.5-3.5-3 4.5-0.5 0-2.5-5-5.5-3.5-9 2-4 4.5-6.5 0-3.5 2.5-3.5 0-1.5-2 1-6.5-1-6-1.5-7.5-1.5-1.5 1-4-0.5-4zM1638.5 335.5l3 2.5 1.5 4.5 1 2-2-1-1.5-3zM1817 187.5l4.5-2.5 4.5-1 4 3.5 3.5 2 2.5 2.5-2.5 0.5-3.5 0-1.5-4-5.5-2-4 1zM1835.5 196.5l3-4 5 0.5 2.5 3-5 2.5-5-1.5zM1829 196.5l3.5 1-1.5 0.5zM1355.5 38.5l10.5 4.5 7-2 10.5-3.5-12-3.5-16 1zM1427.5 56.5l7 2 3.5-5.5 5-7 12.5-3.5-14 1-9 4-3.5 5.5zM1502.5 37l8.5 2.5 9-1-2-4-10.5-3-8.5 3zM1577.5 50l7 1.5 9-4-10.5-2.5-7 1zM1853 79l-4.5 2-5-2-7-4-7 0.5 7-7-5.5-5-7-3-8.5-0.5-6.5-2 8-6.5 9-0.5 7 3 10.5 5.5 5 4 9 5 0.5 1.5zM1789 63.5l-7 1-14 0-8.5-4 1.5-6.5 12.5-1 10.5 0.5 5 6zM1756 56.5l-9-0.5 0-6 9-1 7 2.5zM1826 49l-21 0-2-5.5 19.5 0zM1801.5 55.5l-5.5 5-8.5-6.5 7-2.5 7 0zM1829.5 42.5l-21 0-9-5.5 9-8 43.5 0-8.5 8zM1782 47.5l-12 0-10.5-4 14-4 17.5 3zM1817 74l-5 1 3.5 5.5 7-2.5zM1358 145l5.5-1-0.5 4.5-5-2.5zM1350.5 137l3 0-0.5 5.5-2 0zM1351.5 132.5l1.5-0.5 0 4-1-0.5zM1393 153l3.5-1.5-0.5 2-3 0zM1377.5 152l5 0-0.5 1-4.5-0.5z"/>
<path fill="#000" d="M1385.5 136.5l0.5-6 2-5 2-3 3 1.5 2 4 3.5-1.5 3.5-1.5 1-4 2-0.5-2 2-1 5 3.5 1.5 3.5 6.5-5.5 2-6-3-3.5 0-5 2zM1418.5 133l3 2.5 1 3.5-0.5 5 0.5 2.5 3 2 5-1 0-5-1-3-1-4.5-0.5-2.5-2-1-1.5-3.5 1.5-2.5 3.5 0-0.5-3-3-1.5-3.5 2-3 2-1.5 2.5 1.5 2.5zM1355 101.5l3 0.5 3 1 7.5-2 5-1.5-0.5-4.5 5.5-1.5 0-4.5 7-2 3.5 0.5-5.5-2-7 1.5-1.5-1.5-1-2.5 0-4 6-5-5-2.5-2 3.5-3.5 3.5-2.5 2-1 4 3 2.5 0.5 1.5-4.5 6.5-3.5 2.5-2.5 1.5zM1438 124l6-1.5 0 6.5-4.5 1.5-1.5-4z"/>
<path stroke="#000" stroke-width="2.6" stroke-linecap="round" d="M1693.9 193.7h0.3M1691.2 190.2h0.3M1689.5 188.7h0.3M1686.9 187.1h0.3M1682.5 184.4h0.3M1675.5 181.8h0.3M1665 177.9h0.3M1571.5 225.3h0.3M1577.6 220h0.3M1589.5 209.7h0.3M1591.1 205h0.3M1601.7 225.5h0.3M1612.9 226.8h0.3M1621.3 231h0.3M1628.3 221.3h0.3M1635.3 226.6h0.3M1632.7 216h0.3M1637.1 237.1h0.3M1638.8 241.3h0.3M1610.8 266.1h0.3M1614.3 268.7h0.3M1617 270h0.3M1617.8 271.3h0.3M1628 285.8h0.3M1629.2 288.4h0.3M1630.6 291.6h0.3M1625.7 301.1h0.3M1627.4 302.9h0.3M1647.5 291.9h0.3M1650.2 288.4h0.3M1648.4 293.7h0.3M1652.8 287.1h0.3M1659.4 300.8h0.3M1659.8 294h0.3M1664.5 281.3h0.3M1665.9 282.4h0.3M1704.4 291.3h0.3M1705.2 288.4h0.3M1708.7 284.5h0.3M1710.5 288.4h0.3M1714 289.8h0.3M1719.2 292.4h0.3M1722.7 297.7h0.3M1728 301.6h0.3M1722.4 270.8h0.3M1721 268.7h0.3M1722.7 268.4h0.3M1707.9 286.6h0.3M1701 291.1h0.3M1686.3 300.8h0.3M1689.5 295h0.3M1687.7 294.5h0.3M1682.5 271.3h0.3M1690.4 240h0.3M1687.7 234.5h0.3M1681.8 229.5h0.3M1665.9 254.2h0.3M1658.6 256.8h0.3M1666.8 251.6h0.3M1806.6 246.3h0.3M1805.7 247.1h0.3M1809.2 247.4h0.3M1774.4 316.4h0.3M1738.3 311.1h0.3M1649.6 267.4h0.3M1660.7 297.1h0.3M1498.4 214.5h0.3M1498.6 212.1h0.3M1500.4 225.3h0.3M1464.9 234.5h0.3M1464.4 239.7h0.3M1464.9 246.3h0.3M1463 264.2h0.3M1433.4 257.1h0.3M1437.1 298.4h0.3M1433.4 300.6h0.3M1923.7 204.2h0.3M1922 201.6h0.3M1938.6 170.5h0.3M1941.2 170h0.3M1916.7 143.6h0.3M1921.1 145.5h0.3M1852.4 160h0.3M1830.2 180.5h0.3M1831.1 177.9h0.3M1832.8 183.1h0.3M1858.2 202.3h0.3M1859.1 206.6h0.3M1857.8 210.2h0.3M1661.5 108.1h0.3M1654.5 108.6h0.3M1647.5 108.6h0.3M1640.6 106.8h0.3M1665 105.5h0.3M1668.5 104.1h0.3M1674.6 102.3h0.3M1679 100.2h0.3M1591.6 129.7h0.3M1595.1 126h0.3M1598.6 123.9h0.3M1602.1 119.9h0.3M1606.5 116h0.3M1609.1 112h0.3M1559.8 175.8h0.3M1561 173.1h0.3M1562.8 170.5h0.3M1553.5 180.8h0.3M1585 173.6h0.3M1585 175h0.3M1590.9 207.9h0.3M1591.3 201.6h0.3M1591.3 197.6h0.3"/>
<path d="M1343 142.3L1361.9 142.3M1369.1 141.8L1369.1 162.1M1362.6 152.1L1378.4 152.1M1384.5 151.5L1391.5 151.5M1388 151.5L1388 159.4M1388.8 132.3L1402.8 132.3" stroke="#fdca6c" stroke-width="2.4" fill="none"/>
</g></g>
<rect x="1668.6" y="231.8" width="87.3" height="25.8" fill="none" stroke="#000" stroke-width="2"/>
<path d="M1961.2 59.6H1836.4V244.6H1961.2" fill="none" stroke="#000" stroke-width="1.8"/>
<path d="M1336.4 33.4v4M1336.4 336.6v-4M1353.9 33.4v4M1353.9 336.6v-4M1371.4 33.4v4M1371.4 336.6v-4M1388.8 33.4v4M1388.8 336.6v-4M1406.3 33.4v4M1406.3 336.6v-4M1423.8 33.4v4M1423.8 336.6v-4M1441.3 33.4v4M1441.3 336.6v-4M1458.8 33.4v4M1458.8 336.6v-4M1476.2 33.4v4M1476.2 336.6v-4M1493.7 33.4v4M1493.7 336.6v-4M1511.2 33.4v4M1511.2 336.6v-4M1528.7 33.4v4M1528.7 336.6v-4M1546.2 33.4v4M1546.2 336.6v-4M1563.6 33.4v4M1563.6 336.6v-4M1581.1 33.4v4M1581.1 336.6v-4M1598.6 33.4v4M1598.6 336.6v-4M1616.1 33.4v4M1616.1 336.6v-4M1633.6 33.4v4M1633.6 336.6v-4M1651 33.4v4M1651 336.6v-4M1668.5 33.4v4M1668.5 336.6v-4M1686 33.4v4M1686 336.6v-4M1703.5 33.4v4M1703.5 336.6v-4M1721 33.4v4M1721 336.6v-4M1738.4 33.4v4M1738.4 336.6v-4M1755.9 33.4v4M1755.9 336.6v-4M1773.4 33.4v4M1773.4 336.6v-4M1790.9 33.4v4M1790.9 336.6v-4M1808.4 33.4v4M1808.4 336.6v-4M1825.8 33.4v4M1825.8 336.6v-4M1843.3 33.4v4M1843.3 336.6v-4M1860.8 33.4v4M1860.8 336.6v-4M1878.3 33.4v4M1878.3 336.6v-4M1895.8 33.4v4M1895.8 336.6v-4M1913.2 33.4v4M1913.2 336.6v-4M1930.7 33.4v4M1930.7 336.6v-4M1948.2 33.4v4M1948.2 336.6v-4M1336.4 324h6M1961.2 324h-6M1336.4 310.8h6M1961.2 310.8h-6M1336.4 297.7h12M1961.2 297.7h-12M1336.4 284.5h6M1961.2 284.5h-6M1336.4 271.3h6M1961.2 271.3h-6M1336.4 258.2h6M1961.2 258.2h-6M1336.4 245h12M1961.2 245h-12M1336.4 231.8h6M1961.2 231.8h-6M1336.4 218.7h6M1961.2 218.7h-6M1336.4 205.5h6M1961.2 205.5h-6M1336.4 192.3h12M1961.2 192.3h-12M1336.4 179.2h6M1961.2 179.2h-6M1336.4 166h6M1961.2 166h-6M1336.4 152.8h6M1961.2 152.8h-6M1336.4 139.7h12M1961.2 139.7h-12M1336.4 126.5h6M1961.2 126.5h-6M1336.4 113.3h6M1961.2 113.3h-6M1336.4 100.2h6M1961.2 100.2h-6M1336.4 87h12M1961.2 87h-12M1336.4 73.9h6M1961.2 73.9h-6M1336.4 60.7h6M1961.2 60.7h-6M1336.4 47.5h6M1961.2 47.5h-6M1336.4 34.4h12M1961.2 34.4h-12" stroke="#444" stroke-width="1" fill="none"/>
<rect x="1336.4" y="33.4" width="624.8" height="303.2" fill="none" stroke="#444" stroke-width="1.3"/>
<rect x="1345.4" y="42.2" width="45.3" height="43.4" fill="#fff"/>
<text x="1366.9" y="73.8" font-size="22.6" font-weight="bold" text-anchor="middle" fill="#111" stroke="#111" stroke-width="0.55">D1</text>
<text x="1325.6" y="43" font-size="24" text-anchor="end" fill="#111" stroke="#111" stroke-width="0.45">80</text>
<text x="1325.6" y="95.6" font-size="24" text-anchor="end" fill="#111" stroke="#111" stroke-width="0.45">60</text>
<text x="1325.6" y="148.3" font-size="24" text-anchor="end" fill="#111" stroke="#111" stroke-width="0.45">40</text>
<text x="1325.6" y="200.9" font-size="24" text-anchor="end" fill="#111" stroke="#111" stroke-width="0.45">20</text>
<text x="1325.6" y="253.6" font-size="24" text-anchor="end" fill="#111" stroke="#111" stroke-width="0.45">0</text>
<text x="1325.6" y="306.3" font-size="24" text-anchor="end" fill="#111" stroke="#111" stroke-width="0.45">-20</text>
</g>
<g>
<rect x="1336.4" y="353.4" width="624.8" height="303.2" fill="#fdca6c"/>
<path fill="#1f3668" d="M1595 353.4H1745.6V356.5H1595zM1834 353.4H1961.2V356.5H1834zM1595 356.5H1745.6V359.8H1595zM1834 356.5H1961.2V359.8H1834zM1595 359.8H1745.6V363.1H1595zM1834 359.8H1961.2V363.1H1834zM1595 363.1H1745.6V366.3H1595zM1834 363.1H1961.2V366.3H1834zM1595 366.3H1745.6V369.6H1595zM1834 366.3H1961.2V369.6H1834zM1595 369.6H1745.6V372.9H1595zM1834 369.6H1961.2V372.9H1834zM1667 372.9H1673.6V376.2H1667zM1834 372.9H1961.2V376.2H1834zM1667 376.2H1673.6V379.4H1667zM1834 376.2H1961.2V379.4H1834zM1667 379.4H1673.6V382.7H1667zM1834 379.4H1961.2V382.7H1834zM1667 382.7H1673.6V386H1667zM1873.2 382.7H1958.3V386H1873.2zM1667 386H1673.6V389.2H1667zM1873.2 386H1958.3V389.2H1873.2zM1873.2 389.2H1958.3V392.5H1873.2zM1873.2 392.5H1958.3V395.8H1873.2zM1873.2 395.8H1958.3V399.1H1873.2zM1873.2 399.1H1958.3V402.3H1873.2zM1873.2 402.3H1958.3V405.6H1873.2zM1873.2 405.6H1958.3V408.9H1873.2zM1614.7 408.9H1725.9V412.2H1614.7zM1873.2 408.9H1958.3V412.2H1873.2zM1614.7 412.2H1725.9V415.4H1614.7zM1873.2 412.2H1958.3V415.4H1873.2zM1617.9 415.4H1725.9V418.7H1617.9zM1873.2 415.4H1958.3V418.7H1873.2zM1617.9 418.7H1725.9V422H1617.9zM1873.2 418.7H1958.3V422H1873.2zM1617.9 422H1712.9V425.2H1617.9zM1873.2 422H1958.3V425.2H1873.2zM1627.8 425.2H1696.5V428.5H1627.8zM1873.2 425.2H1958.3V428.5H1873.2zM1637.6 428.5H1696.5V431.8H1637.6zM1873.2 428.5H1958.3V431.8H1873.2zM1650.7 431.8H1696.5V435.1H1650.7zM1876.5 431.8H1958.3V435.1H1876.5zM1876.5 435.1H1958.3V438.3H1876.5zM1879.8 438.3H1958.3V441.6H1879.8zM1879.8 441.6H1958.3V444.9H1879.8zM1945.2 444.9H1958.3V448.2H1945.2z"/>
<path fill="#2b66ae" d="M1336.5 353.4H1451V356.5H1336.5zM1336.5 356.5H1408.5V359.8H1336.5zM1434.7 356.5H1451V359.8H1434.7zM1336.5 359.8H1408.5V363.1H1336.5zM1434.7 359.8H1451V363.1H1434.7zM1336.5 363.1H1408.5V366.3H1336.5zM1434.7 363.1H1451V366.3H1434.7zM1336.5 366.3H1451V369.6H1336.5zM1336.5 369.6H1343V372.9H1336.5zM1336.5 372.9H1343V376.2H1336.5zM1336.5 376.2H1343V379.4H1336.5zM1336.5 379.4H1343V382.7H1336.5zM1336.5 382.7H1343V386H1336.5zM1336.5 386H1343V389.2H1336.5zM1604.9 408.9H1614.7V412.2H1604.9zM1725.9 408.9H1732.5V412.2H1725.9zM1604.9 412.2H1614.7V415.4H1604.9zM1725.9 412.2H1732.5V415.4H1725.9zM1604.9 415.4H1617.9V418.7H1604.9zM1725.9 415.4H1732.5V418.7H1725.9zM1604.9 418.7H1617.9V422H1604.9zM1725.9 418.7H1732.5V422H1725.9zM1604.9 422H1617.9V425.2H1604.9zM1604.9 425.2H1627.8V428.5H1604.9zM1604.9 428.5H1637.6V431.8H1604.9zM1614.7 431.8H1650.7V435.1H1614.7zM1624.5 435.1H1693.2V438.3H1624.5zM1634.3 438.3H1693.2V441.6H1634.3zM1657.2 441.6H1693.2V444.9H1657.2zM1883 444.9H1945.2V448.2H1883zM1886.3 448.2H1942V451.4H1886.3zM1925.6 451.4H1942V454.7H1925.6zM1925.6 454.7H1928.9V458H1925.6z"/>
<path fill="#84c4eb" d="M1408.5 356.5H1434.7V359.8H1408.5zM1408.5 359.8H1434.7V363.1H1408.5zM1408.5 363.1H1434.7V366.3H1408.5zM1588.5 405.6H1735.8V408.9H1588.5zM1588.5 408.9H1604.9V412.2H1588.5zM1732.5 408.9H1735.8V412.2H1732.5zM1588.5 412.2H1604.9V415.4H1588.5zM1732.5 412.2H1735.8V415.4H1732.5zM1588.5 415.4H1604.9V418.7H1588.5zM1732.5 415.4H1735.8V418.7H1732.5zM1588.5 418.7H1604.9V422H1588.5zM1732.5 418.7H1735.8V422H1732.5zM1588.5 422H1604.9V425.2H1588.5zM1588.5 425.2H1604.9V428.5H1588.5zM1588.5 428.5H1604.9V431.8H1588.5zM1588.5 431.8H1614.7V435.1H1588.5zM1588.5 435.1H1624.5V438.3H1588.5zM1588.5 438.3H1634.3V441.6H1588.5zM1601.6 441.6H1657.2V444.9H1601.6zM1928.9 454.7H1945.2V458H1928.9zM1928.9 458H1945.2V461.2H1928.9zM1928.9 461.2H1945.2V464.5H1928.9zM1928.9 464.5H1945.2V467.8H1928.9zM1928.9 467.8H1945.2V471.1H1928.9zM1928.9 471.1H1945.2V474.3H1928.9zM1932.1 474.3H1945.2V477.6H1932.1zM1932.1 477.6H1942V480.9H1932.1zM1932.1 480.9H1942V484.2H1932.1zM1932.1 484.2H1942V487.4H1932.1zM1932.1 487.4H1942V490.7H1932.1zM1932.1 490.7H1942V494H1932.1z"/>
<path fill="#ffffff" d="M1336.5 389.2H1343V392.5H1336.5zM1336.5 392.5H1343V395.8H1336.5zM1336.5 395.8H1343V399.1H1336.5zM1336.5 399.1H1343V402.3H1336.5zM1712.9 422H1752.1V425.2H1712.9zM1696.5 425.2H1752.1V428.5H1696.5zM1696.5 428.5H1752.1V431.8H1696.5zM1696.5 431.8H1752.1V435.1H1696.5zM1693.2 435.1H1755.4V438.3H1693.2zM1693.2 438.3H1755.4V441.6H1693.2zM1693.2 441.6H1755.4V444.9H1693.2zM1640.9 444.9H1755.4V448.2H1640.9zM1653.9 448.2H1755.4V451.4H1653.9zM1657.2 451.4H1755.4V454.7H1657.2zM1657.2 454.7H1758.7V458H1657.2zM1663.8 458H1758.7V461.2H1663.8zM1670.3 461.2H1758.7V464.5H1670.3zM1673.6 464.5H1758.7V467.8H1673.6zM1680.1 467.8H1758.7V471.1H1680.1zM1686.7 471.1H1758.7V474.3H1686.7zM1689.9 474.3H1762V477.6H1689.9zM1892.9 474.3H1932.1V477.6H1892.9zM1693.2 477.6H1762V480.9H1693.2zM1847 477.6H1932.1V480.9H1847zM1693.2 480.9H1758.7V484.2H1693.2zM1840.5 480.9H1932.1V484.2H1840.5zM1693.2 484.2H1755.4V487.4H1693.2zM1840.5 484.2H1932.1V487.4H1840.5zM1696.5 487.4H1755.4V490.7H1696.5zM1840.5 487.4H1932.1V490.7H1840.5zM1703 490.7H1752.1V494H1703zM1840.5 490.7H1932.1V494H1840.5zM1706.3 494H1748.9V497.2H1706.3zM1840.5 494H1932.1V497.2H1840.5zM1712.9 497.2H1745.6V500.5H1712.9zM1840.5 497.2H1932.1V500.5H1840.5zM1742.3 500.5H1745.6V503.8H1742.3zM1840.5 500.5H1932.1V503.8H1840.5zM1735.8 503.8H1762V507.1H1735.8zM1840.5 503.8H1932.1V507.1H1840.5zM1735.8 507.1H1762V510.3H1735.8zM1840.5 507.1H1879.8V510.3H1840.5zM1735.8 510.3H1762V513.6H1735.8zM1840.5 510.3H1879.8V513.6H1840.5zM1735.8 513.6H1762V516.9H1735.8zM1840.5 513.6H1879.8V516.9H1840.5zM1840.5 516.9H1879.8V520.2H1840.5zM1840.5 520.2H1879.8V523.4H1840.5zM1840.5 523.4H1879.8V526.7H1840.5zM1840.5 526.7H1879.8V530H1840.5zM1840.5 530H1879.8V533.2H1840.5zM1840.5 533.2H1879.8V536.5H1840.5zM1843.8 536.5H1879.8V539.8H1843.8zM1850.3 539.8H1879.8V543.1H1850.3zM1748.9 543.1H1811V546.3H1748.9zM1856.9 543.1H1879.8V546.3H1856.9zM1748.9 546.3H1811V549.6H1748.9zM1863.4 546.3H1879.8V549.6H1863.4zM1588.5 549.6H1611.4V552.9H1588.5zM1748.9 549.6H1811V552.9H1748.9zM1870 549.6H1879.8V552.9H1870zM1588.5 552.9H1611.4V556.2H1588.5zM1673.6 552.9H1706.3V556.2H1673.6zM1748.9 552.9H1811V556.2H1748.9zM1876.5 552.9H1879.8V556.2H1876.5zM1588.5 556.2H1611.4V559.4H1588.5zM1673.6 556.2H1706.3V559.4H1673.6zM1588.5 559.4H1611.4V562.7H1588.5zM1588.5 562.7H1611.4V566H1588.5zM1588.5 566H1611.4V569.2H1588.5zM1588.5 569.2H1611.4V572.5H1588.5zM1601.6 588.9H1617.9V592.2H1601.6zM1601.6 592.2H1617.9V595.4H1601.6zM1601.6 595.4H1617.9V598.7H1601.6zM1712.9 595.4H1778.3V598.7H1712.9zM1601.6 598.7H1617.9V602H1601.6zM1712.9 598.7H1778.3V602H1712.9zM1712.9 602H1781.6V605.2H1712.9zM1716.1 605.2H1784.9V608.5H1716.1zM1716.1 608.5H1784.9V611.8H1716.1zM1716.1 611.8H1788.1V615.1H1716.1zM1719.4 615.1H1788.1V618.3H1719.4zM1722.7 618.3H1784.9V621.6H1722.7zM1732.5 621.6H1771.8V624.9H1732.5zM1745.6 624.9H1758.7V628.2H1745.6zM1886.3 634.7H1922.3V638H1886.3zM1886.3 638H1922.3V641.3H1886.3zM1886.3 641.3H1922.3V644.5H1886.3zM1886.3 644.5H1922.3V647.8H1886.3zM1886.3 647.8H1922.3V651.1H1886.3zM1886.3 651.1H1922.3V654.3H1886.3zM1886.3 654.3H1922.3V656.6H1886.3z"/>
<path fill="#fca232" d="M1336.5 402.3H1343V405.6H1336.5zM1336.5 405.6H1343V408.9H1336.5zM1336.5 408.9H1343V412.2H1336.5zM1336.5 412.2H1343V415.4H1336.5zM1336.5 415.4H1343V418.7H1336.5zM1336.5 418.7H1343V422H1336.5zM1336.5 422H1343V425.2H1336.5zM1336.5 425.2H1343V428.5H1336.5zM1336.5 428.5H1343V431.8H1336.5zM1840.5 451.4H1925.6V454.7H1840.5zM1840.5 454.7H1912.5V458H1840.5zM1922.3 454.7H1925.6V458H1922.3zM1840.5 458H1863.4V461.2H1840.5zM1879.8 458H1912.5V461.2H1879.8zM1922.3 458H1928.9V461.2H1922.3zM1840.5 461.2H1863.4V464.5H1840.5zM1879.8 461.2H1912.5V464.5H1879.8zM1922.3 461.2H1928.9V464.5H1922.3zM1840.5 464.5H1912.5V467.8H1840.5zM1922.3 464.5H1928.9V467.8H1922.3zM1840.5 467.8H1928.9V471.1H1840.5zM1840.5 471.1H1928.9V474.3H1840.5zM1840.5 474.3H1889.6V477.6H1840.5zM1657.2 477.6H1686.7V480.9H1657.2zM1840.5 477.6H1847V480.9H1840.5zM1653.9 480.9H1686.7V484.2H1653.9zM1653.9 484.2H1686.7V487.4H1653.9zM1653.9 487.4H1686.7V490.7H1653.9zM1653.9 490.7H1686.7V494H1653.9zM1555.8 494H1588.5V497.2H1555.8zM1653.9 494H1686.7V497.2H1653.9zM1555.8 497.2H1588.5V500.5H1555.8zM1555.8 500.5H1588.5V503.8H1555.8zM1555.8 503.8H1588.5V507.1H1555.8zM1555.8 507.1H1588.5V510.3H1555.8zM1555.8 510.3H1588.5V513.6H1555.8zM1555.8 513.6H1588.5V516.9H1555.8zM1640.9 516.9H1739V520.2H1640.9zM1640.9 520.2H1739V523.4H1640.9zM1640.9 523.4H1735.8V526.7H1640.9zM1640.9 526.7H1735.8V530H1640.9zM1640.9 530H1735.8V533.2H1640.9zM1336.5 556.2H1359.4V559.4H1336.5zM1490.3 556.2H1500.1V559.4H1490.3zM1336.5 559.4H1359.4V562.7H1336.5zM1428.1 559.4H1500.1V562.7H1428.1zM1703 559.4H1817.6V562.7H1703zM1336.5 562.7H1359.4V566H1336.5zM1428.1 562.7H1503.4V566H1428.1zM1703 562.7H1817.6V566H1703zM1879.8 562.7H1961.2V566H1879.8zM1336.5 566H1359.4V569.2H1336.5zM1428.1 566H1503.4V569.2H1428.1zM1703 566H1817.6V569.2H1703zM1879.8 566H1961.2V569.2H1879.8zM1336.5 569.2H1359.4V572.5H1336.5zM1428.1 569.2H1506.7V572.5H1428.1zM1703 569.2H1817.6V572.5H1703zM1879.8 569.2H1961.2V572.5H1879.8zM1336.5 572.5H1359.4V575.8H1336.5zM1428.1 572.5H1506.7V575.8H1428.1zM1703 572.5H1820.9V575.8H1703zM1879.8 572.5H1961.2V575.8H1879.8zM1336.5 575.8H1359.4V579.1H1336.5zM1428.1 575.8H1509.9V579.1H1428.1zM1703 575.8H1820.9V579.1H1703zM1879.8 575.8H1961.2V579.1H1879.8zM1336.5 579.1H1359.4V582.3H1336.5zM1428.1 579.1H1509.9V582.3H1428.1zM1703 579.1H1820.9V582.3H1703zM1879.8 579.1H1961.2V582.3H1879.8zM1336.5 582.3H1359.4V585.6H1336.5zM1428.1 582.3H1509.9V585.6H1428.1zM1879.8 582.3H1961.2V585.6H1879.8zM1336.5 585.6H1359.4V588.9H1336.5zM1437.9 585.6H1496.9V588.9H1437.9zM1879.8 585.6H1961.2V588.9H1879.8zM1336.5 588.9H1359.4V592.2H1336.5zM1444.5 588.9H1483.8V592.2H1444.5zM1879.8 588.9H1961.2V592.2H1879.8zM1336.5 592.2H1359.4V595.4H1336.5zM1454.3 592.2H1470.7V595.4H1454.3zM1879.8 592.2H1961.2V595.4H1879.8zM1336.5 595.4H1359.4V598.7H1336.5zM1879.8 595.4H1899.4V598.7H1879.8zM1336.5 598.7H1359.4V602H1336.5zM1879.8 598.7H1899.4V602H1879.8zM1336.5 602H1359.4V605.2H1336.5zM1879.8 602H1899.4V605.2H1879.8zM1336.5 605.2H1359.4V608.5H1336.5zM1879.8 605.2H1899.4V608.5H1879.8zM1336.5 608.5H1359.4V611.8H1336.5zM1415 608.5H1421.6V611.8H1415zM1500.1 608.5H1536.1V611.8H1500.1zM1879.8 608.5H1899.4V611.8H1879.8zM1336.5 611.8H1359.4V615.1H1336.5zM1415 611.8H1444.5V615.1H1415zM1500.1 611.8H1536.1V615.1H1500.1zM1879.8 611.8H1899.4V615.1H1879.8zM1349.6 615.1H1359.4V618.3H1349.6zM1415 615.1H1460.8V618.3H1415zM1500.1 615.1H1536.1V618.3H1500.1zM1879.8 615.1H1899.4V618.3H1879.8zM1349.6 618.3H1359.4V621.6H1349.6zM1415 618.3H1460.8V621.6H1415zM1500.1 618.3H1536.1V621.6H1500.1zM1879.8 618.3H1899.4V621.6H1879.8zM1349.6 621.6H1359.4V624.9H1349.6zM1415 621.6H1460.8V624.9H1415zM1500.1 621.6H1536.1V624.9H1500.1zM1879.8 621.6H1899.4V624.9H1879.8zM1349.6 624.9H1359.4V628.2H1349.6zM1415 624.9H1460.8V628.2H1415zM1500.1 624.9H1536.1V628.2H1500.1zM1588.5 624.9H1745.6V628.2H1588.5zM1758.7 624.9H1817.6V628.2H1758.7zM1879.8 624.9H1899.4V628.2H1879.8zM1349.6 628.2H1359.4V631.4H1349.6zM1415 628.2H1460.8V631.4H1415zM1500.1 628.2H1536.1V631.4H1500.1zM1588.5 628.2H1817.6V631.4H1588.5zM1879.8 628.2H1899.4V631.4H1879.8zM1349.6 631.4H1359.4V634.7H1349.6zM1415 631.4H1460.8V634.7H1415zM1500.1 631.4H1536.1V634.7H1500.1zM1588.5 631.4H1817.6V634.7H1588.5zM1879.8 631.4H1899.4V634.7H1879.8zM1349.6 634.7H1359.4V638H1349.6zM1415 634.7H1464.1V638H1415zM1500.1 634.7H1536.1V638H1500.1zM1588.5 634.7H1817.6V638H1588.5zM1879.8 634.7H1886.3V638H1879.8zM1349.6 638H1359.4V641.3H1349.6zM1415 638H1464.1V641.3H1415zM1500.1 638H1536.1V641.3H1500.1zM1588.5 638H1817.6V641.3H1588.5zM1879.8 638H1886.3V641.3H1879.8zM1349.6 641.3H1359.4V644.5H1349.6zM1415 641.3H1464.1V644.5H1415zM1500.1 641.3H1536.1V644.5H1500.1zM1588.5 641.3H1703V644.5H1588.5zM1739 641.3H1820.9V644.5H1739zM1879.8 641.3H1886.3V644.5H1879.8zM1922.3 641.3H1961.2V644.5H1922.3zM1349.6 644.5H1359.4V647.8H1349.6zM1415 644.5H1464.1V647.8H1415zM1500.1 644.5H1536.1V647.8H1500.1zM1588.5 644.5H1703V647.8H1588.5zM1735.8 644.5H1820.9V647.8H1735.8zM1879.8 644.5H1886.3V647.8H1879.8zM1922.3 644.5H1961.2V647.8H1922.3zM1349.6 647.8H1359.4V651.1H1349.6zM1415 647.8H1464.1V651.1H1415zM1500.1 647.8H1536.1V651.1H1500.1zM1588.5 647.8H1703V651.1H1588.5zM1735.8 647.8H1820.9V651.1H1735.8zM1879.8 647.8H1886.3V651.1H1879.8zM1922.3 647.8H1961.2V651.1H1922.3zM1349.6 651.1H1359.4V654.3H1349.6zM1415 651.1H1464.1V654.3H1415zM1500.1 651.1H1536.1V654.3H1500.1zM1588.5 651.1H1703V654.3H1588.5zM1735.8 651.1H1820.9V654.3H1735.8zM1879.8 651.1H1886.3V654.3H1879.8zM1922.3 651.1H1961.2V654.3H1922.3zM1349.6 654.3H1359.4V656.6H1349.6zM1415 654.3H1467.4V656.6H1415zM1500.1 654.3H1536.1V656.6H1500.1zM1588.5 654.3H1703V656.6H1588.5zM1735.8 654.3H1820.9V656.6H1735.8zM1879.8 654.3H1886.3V656.6H1879.8zM1922.3 654.3H1961.2V656.6H1922.3z"/>
<path fill="#f2712b" d="M1588.5 444.9H1640.9V448.2H1588.5zM1588.5 448.2H1595V451.4H1588.5zM1617.9 448.2H1653.9V451.4H1617.9zM1588.5 451.4H1595V454.7H1588.5zM1644.1 451.4H1657.2V454.7H1644.1zM1588.5 454.7H1595V458H1588.5zM1647.4 454.7H1657.2V458H1647.4zM1588.5 458H1595V461.2H1588.5zM1650.7 458H1660.5V461.2H1650.7zM1588.5 461.2H1595V464.5H1588.5zM1650.7 461.2H1660.5V464.5H1650.7zM1588.5 464.5H1595V467.8H1588.5zM1653.9 464.5H1663.8V467.8H1653.9zM1588.5 467.8H1595V471.1H1588.5zM1653.9 467.8H1663.8V471.1H1653.9zM1588.5 471.1H1617.9V474.3H1588.5zM1624.5 471.1H1667V474.3H1624.5zM1588.5 474.3H1647.4V477.6H1588.5zM1617.9 477.6H1624.5V480.9H1617.9zM1899.4 595.4H1961.2V598.7H1899.4zM1899.4 598.7H1961.2V602H1899.4zM1899.4 602H1961.2V605.2H1899.4zM1899.4 605.2H1961.2V608.5H1899.4zM1899.4 608.5H1919V611.8H1899.4zM1899.4 611.8H1922.3V615.1H1899.4zM1336.5 615.1H1349.6V618.3H1336.5zM1899.4 615.1H1922.3V618.3H1899.4zM1336.5 618.3H1349.6V621.6H1336.5zM1899.4 618.3H1925.6V621.6H1899.4zM1336.5 621.6H1349.6V624.9H1336.5zM1899.4 621.6H1925.6V624.9H1899.4zM1336.5 624.9H1349.6V628.2H1336.5zM1899.4 624.9H1925.6V628.2H1899.4zM1336.5 628.2H1349.6V631.4H1336.5zM1899.4 628.2H1928.9V631.4H1899.4zM1336.5 631.4H1349.6V634.7H1336.5zM1899.4 631.4H1961.2V634.7H1899.4zM1336.5 634.7H1349.6V638H1336.5zM1922.3 634.7H1961.2V638H1922.3zM1336.5 638H1349.6V641.3H1336.5zM1922.3 638H1961.2V641.3H1922.3zM1336.5 641.3H1349.6V644.5H1336.5zM1336.5 644.5H1349.6V647.8H1336.5zM1336.5 647.8H1349.6V651.1H1336.5zM1336.5 651.1H1349.6V654.3H1336.5zM1336.5 654.3H1349.6V656.6H1336.5z"/>
<path fill="#d92f2a" d="M1595 448.2H1617.9V451.4H1595zM1595 451.4H1601.6V454.7H1595zM1621.2 451.4H1644.1V454.7H1621.2zM1595 454.7H1601.6V458H1595zM1621.2 454.7H1647.4V458H1621.2zM1912.5 454.7H1922.3V458H1912.5zM1595 458H1601.6V461.2H1595zM1621.2 458H1650.7V461.2H1621.2zM1863.4 458H1879.8V461.2H1863.4zM1912.5 458H1922.3V461.2H1912.5zM1595 461.2H1601.6V464.5H1595zM1621.2 461.2H1650.7V464.5H1621.2zM1863.4 461.2H1879.8V464.5H1863.4zM1912.5 461.2H1922.3V464.5H1912.5zM1595 464.5H1601.6V467.8H1595zM1621.2 464.5H1653.9V467.8H1621.2zM1912.5 464.5H1922.3V467.8H1912.5zM1595 467.8H1653.9V471.1H1595zM1617.9 471.1H1624.5V474.3H1617.9zM1919 608.5H1961.2V611.8H1919zM1922.3 611.8H1961.2V615.1H1922.3zM1922.3 615.1H1961.2V618.3H1922.3zM1925.6 618.3H1961.2V621.6H1925.6zM1925.6 621.6H1961.2V624.9H1925.6zM1925.6 624.9H1961.2V628.2H1925.6zM1928.9 628.2H1961.2V631.4H1928.9zM1703 641.3H1739V644.5H1703zM1703 644.5H1735.8V647.8H1703zM1703 647.8H1735.8V651.1H1703zM1703 651.1H1735.8V654.3H1703zM1703 654.3H1735.8V656.6H1703z"/>
<path fill="#b71f28" d="M1601.6 451.4H1621.2V454.7H1601.6zM1601.6 454.7H1621.2V458H1601.6zM1601.6 458H1621.2V461.2H1601.6zM1601.6 461.2H1621.2V464.5H1601.6zM1601.6 464.5H1621.2V467.8H1601.6z"/>
<g clip-path="url(#sstclip1)"><g transform="translate(0 320)">
<path fill="#000" d="M1346.2 33.4H1385.6V37.7H1346.2zM1477.3 33.4H1490.4V37.7H1477.3zM1529.8 33.4H1595.3V37.7H1529.8zM1739.5 33.4H1942.7V37.7H1739.5zM1346.2 37.7H1385.6V44.2H1346.2zM1477.3 37.7H1490.4V44.2H1477.3zM1529.8 37.7H1595.3V44.2H1529.8zM1739.5 37.7H1942.7V44.2H1739.5zM1352.8 44.2H1385.6V50.8H1352.8zM1438 44.2H1615V50.8H1438zM1739.5 44.2H1942.7V50.8H1739.5zM1339.7 50.8H1385.6V57.4H1339.7zM1438 50.8H1936.2V57.4H1438zM1339.7 57.4H1936.2V64H1339.7zM1339.7 64H1942.7V70.6H1339.7zM1339.7 70.6H1949.3V77.1H1339.7zM1339.7 77.1H1864.1V83.7H1339.7zM1870.6 77.1H1903.4V83.7H1870.6zM1923.1 77.1H1942.7V83.7H1923.1zM1339.7 83.7H1654.3V90.3H1339.7zM1667.4 83.7H1805.1V90.3H1667.4zM1824.7 83.7H1864.1V90.3H1824.7zM1877.2 83.7H1903.4V90.3H1877.2zM1929.6 83.7H1936.2V90.3H1929.6zM1949.3 83.7H1961.2V90.3H1949.3zM1339.7 90.3H1641.2V96.9H1339.7zM1674 90.3H1805.1V96.9H1674zM1824.7 90.3H1870.6V96.9H1824.7zM1883.7 90.3H1896.9V96.9H1883.7zM1942.7 90.3H1961.2V96.9H1942.7zM1339.7 96.9H1595.3V103.5H1339.7zM1601.9 96.9H1628.1V103.5H1601.9zM1674 96.9H1700.2V103.5H1674zM1726.4 96.9H1877.2V103.5H1726.4zM1936.2 96.9H1961.2V103.5H1936.2zM1339.7 103.5H1595.3V110.1H1339.7zM1601.9 103.5H1628.1V110.1H1601.9zM1680.5 103.5H1693.6V110.1H1680.5zM1733 103.5H1877.2V110.1H1733zM1936.2 103.5H1961.2V110.1H1936.2zM1339.7 110.1H1595.3V116.6H1339.7zM1608.4 110.1H1621.5V116.6H1608.4zM1733 110.1H1870.6V116.6H1733zM1942.7 110.1H1961.2V116.6H1942.7zM1336.4 116.6H1595.3V123.2H1336.4zM1739.5 116.6H1864.1V123.2H1739.5zM1949.3 116.6H1961.2V123.2H1949.3zM1336.4 123.2H1601.9V129.8H1336.4zM1739.5 123.2H1870.6V129.8H1739.5zM1949.3 123.2H1961.2V129.8H1949.3zM1336.4 129.8H1601.9V136.4H1336.4zM1739.5 129.8H1864.1V136.4H1739.5zM1942.7 129.8H1961.2V136.4H1942.7zM1336.4 136.4H1595.3V143H1336.4zM1739.5 136.4H1844.4V143H1739.5zM1942.7 136.4H1961.2V143H1942.7zM1336.4 143H1595.3V149.6H1336.4zM1739.5 143H1844.4V149.6H1739.5zM1942.7 143H1961.2V149.6H1942.7zM1336.4 149.6H1588.8V156.1H1336.4zM1746.1 149.6H1844.4V156.1H1746.1zM1942.7 149.6H1961.2V156.1H1942.7zM1336.4 156.1H1582.2V162.7H1336.4zM1752.6 156.1H1837.9V162.7H1752.6zM1942.7 156.1H1961.2V162.7H1942.7zM1336.4 162.7H1556V169.3H1336.4zM1562.5 162.7H1575.7V169.3H1562.5zM1752.6 162.7H1831.3V169.3H1752.6zM1936.2 162.7H1961.2V169.3H1936.2zM1336.4 169.3H1556V175.9H1336.4zM1759.2 169.3H1805.1V175.9H1759.2zM1824.7 169.3H1837.9V175.9H1824.7zM1929.6 169.3H1961.2V175.9H1929.6zM1336.4 175.9H1556V182.5H1336.4zM1759.2 175.9H1805.1V182.5H1759.2zM1824.7 175.9H1837.9V182.5H1824.7zM1929.6 175.9H1961.2V182.5H1929.6zM1336.4 182.5H1562.5V189H1336.4zM1765.8 182.5H1805.1V189H1765.8zM1824.7 182.5H1851V189H1824.7zM1929.6 182.5H1961.2V189H1929.6zM1336.4 189H1523.2V195.6H1336.4zM1542.9 189H1569.1V195.6H1542.9zM1772.3 189H1857.5V195.6H1772.3zM1929.6 189H1961.2V195.6H1929.6zM1336.4 195.6H1444.6V202.2H1336.4zM1457.7 195.6H1523.2V202.2H1457.7zM1542.9 195.6H1569.1V202.2H1542.9zM1778.9 195.6H1857.5V202.2H1778.9zM1929.6 195.6H1961.2V202.2H1929.6zM1336.4 202.2H1438V208.8H1336.4zM1457.7 202.2H1483.9V208.8H1457.7zM1490.4 202.2H1523.2V208.8H1490.4zM1542.9 202.2H1569.1V208.8H1542.9zM1785.4 202.2H1851V208.8H1785.4zM1929.6 202.2H1961.2V208.8H1929.6zM1336.4 208.8H1438V215.4H1336.4zM1457.7 208.8H1483.9V215.4H1457.7zM1497 208.8H1523.2V215.4H1497zM1542.9 208.8H1569.1V215.4H1542.9zM1792 208.8H1864.1V215.4H1792zM1929.6 208.8H1961.2V215.4H1929.6zM1336.4 215.4H1438V222H1336.4zM1457.7 215.4H1483.9V222H1457.7zM1497 215.4H1523.2V222H1497zM1542.9 215.4H1569.1V222H1542.9zM1805.1 215.4H1870.6V222H1805.1zM1929.6 215.4H1961.2V222H1929.6zM1336.4 222H1431.4V228.5H1336.4zM1464.2 222H1490.4V228.5H1464.2zM1497 222H1523.2V228.5H1497zM1542.9 222H1569.1V228.5H1542.9zM1811.6 222H1877.2V228.5H1811.6zM1936.2 222H1961.2V228.5H1936.2zM1336.4 228.5H1431.4V235.1H1336.4zM1470.8 228.5H1483.9V235.1H1470.8zM1497 228.5H1523.2V235.1H1497zM1542.9 228.5H1549.4V235.1H1542.9zM1556 228.5H1569.1V235.1H1556zM1818.2 228.5H1883.7V235.1H1818.2zM1936.2 228.5H1961.2V235.1H1936.2zM1336.4 235.1H1431.4V241.7H1336.4zM1497 235.1H1549.4V241.7H1497zM1556 235.1H1615V241.7H1556zM1818.2 235.1H1890.3V241.7H1818.2zM1942.7 235.1H1961.2V241.7H1942.7zM1346.2 241.7H1424.9V248.3H1346.2zM1497 241.7H1621.5V248.3H1497zM1818.2 241.7H1896.9V248.3H1818.2zM1346.2 248.3H1418.3V254.9H1346.2zM1497 248.3H1621.5V254.9H1497zM1818.2 248.3H1910V254.9H1818.2zM1346.2 254.9H1411.8V261.5H1346.2zM1497 254.9H1523.2V261.5H1497zM1542.9 254.9H1556V261.5H1542.9zM1575.7 254.9H1621.5V261.5H1575.7zM1811.6 254.9H1916.5V261.5H1811.6zM1346.2 261.5H1411.8V268H1346.2zM1497 261.5H1556V268H1497zM1575.7 261.5H1621.5V268H1575.7zM1818.2 261.5H1916.5V268H1818.2zM1352.8 268H1424.9V274.6H1352.8zM1497 268H1556V274.6H1497zM1575.7 268H1621.5V274.6H1575.7zM1818.2 268H1916.5V274.6H1818.2zM1346.2 274.6H1431.4V281.2H1346.2zM1497 274.6H1621.5V281.2H1497zM1818.2 274.6H1910V281.2H1818.2zM1346.2 281.2H1431.4V287.8H1346.2zM1503.6 281.2H1615V287.8H1503.6zM1824.7 281.2H1910V287.8H1824.7zM1346.2 287.8H1431.4V294.4H1346.2zM1536.3 287.8H1601.9V294.4H1536.3zM1831.3 287.8H1910V294.4H1831.3zM1346.2 294.4H1431.4V301H1346.2zM1529.8 294.4H1608.4V301H1529.8zM1831.3 294.4H1903.4V301H1831.3zM1352.8 301H1431.4V307.5H1352.8zM1523.2 301H1608.4V307.5H1523.2zM1831.3 301H1903.4V307.5H1831.3zM1352.8 307.5H1431.4V314.1H1352.8zM1523.2 307.5H1615V314.1H1523.2zM1831.3 307.5H1896.9V314.1H1831.3zM1352.8 314.1H1405.2V320.7H1352.8zM1411.8 314.1H1424.9V320.7H1411.8zM1529.8 314.1H1615V320.7H1529.8zM1831.3 314.1H1890.3V320.7H1831.3zM1359.3 320.7H1398.7V327.3H1359.3zM1529.8 320.7H1615V327.3H1529.8zM1831.3 320.7H1890.3V327.3H1831.3zM1359.3 327.3H1398.7V333.9H1359.3zM1529.8 327.3H1615V333.9H1529.8zM1634.7 327.3H1647.8V333.9H1634.7zM1831.3 327.3H1883.7V333.9H1831.3zM1359.3 333.9H1392.1V336.6H1359.3zM1529.8 333.9H1608.4V336.6H1529.8zM1628.1 333.9H1654.3V336.6H1628.1zM1831.3 333.9H1883.7V336.6H1831.3z"/>
<path fill="#a9b0aa" stroke="#000" stroke-width="5" stroke-linejoin="round" paint-order="stroke" d="M1336.5 150.5l5-2.5 9 0 3.5-1 1.5 1-0.5 3.5 0.5 5.5 3.5 1.5 3.5 2 2 2.5 5 2 2-1.5 0-3 2.5-2 2.5 0.5 3.5 3 7 1.5 2-1 4 0.5 3-0.5 1.5 5-1 4-1 0.5-1-2-1-3.5 0 1.5 1.5 5.5 1.5 3 2 6.5 2 4 1 8 2 3 1.5 6 3 4 2.5 3.5 1.5 2.5 1.5 3.5 1.5 0 3.5-2 3.5-0.5 4-1 0 3.5-1.5 4-1.5 5-2 5.5-2.5 5-2.5 2.5-3.5 4-2.5 4-3 4-1.5 5.5-1 4 1 5 0.5 5.5 1 2.5 0.5 8-0.5 3.5-2.5 3.5-3.5 3-2.5 3-1.5 2.5 1.5 4 0 6.5-4.5 4-0.5 3-0.5 5-2 2.5-2 4-3 4-2.5 3-2.5 1-4.5 0-1.5 0.5-3.5 1.5-2-1-1-3.5-0.5-2.5-1.5-5.5-1.5-3.5-2-4.5-0.5-5-1-7-1.5-5-2.5-6.5-0.5-4 1-6.5 2-5.5 0.5-4-1.5-4-1-6.5-0.5-2.5-1.5-4-2.5-4-1-4 0.5-5 0.5-4 0-2.5-1.5-3-2.5 0.5-2.5 0-2-3-0.5-2-3.5 0-3 0.5-1.5 1.5-3.5 2-3.5-1-6 2-3-1.5-3.5-5-3.5-4.5-0.5-3.5-3-3-3-4-0.5-5.5 1-5 0.5-6.5-1.5-5.5 2-7 2.5-6 2.5-4 3-2 3-3 0-4 1-4.5 3.5-3 1.5-3 1-2.5 3 2 3.5 0 3.5-2zM1965.5 150.5l5.5-2.5 8.5 0 3.5-1 2 1-1 3.5 1 5.5 3.5 1.5 3.5 2 1.5 2.5 5.5 2 1.5-1.5 0-3 3-2 2.5 0.5 3.5 3 7 1.5 1.5-1 4.5 0.5 3-0.5 1 5-1 4-0.5 0.5-1-2-1.5-3.5 0.5 1.5 1.5 5.5 1 3 2 6.5 2.5 4 1 8 2 3 1.5 6 3 4 2.5 3.5 1.5 2.5 1 3.5 2 0 3.5-2 3.5-0.5 3.5-1 0 3.5-1 4-2 5-1.5 5.5-2.5 5-3 2.5-3.5 4-2.5 4-2.5 4-2 5.5-1 4 1 5 0.5 5.5 1.5 2.5 0 8 0 3.5-2.5 3.5-3.5 3-3 3-1 2.5 1 4 0 6.5-4 4-0.5 3-0.5 5-2 2.5-2.5 4-2.5 4-2.5 3-2.5 1-4.5 0-2 0.5-3.5 1.5-2-1-1-3.5-0.5-2.5-1-5.5-1.5-3.5-2-4.5-1-5-0.5-7-1.5-5-3-6.5 0-4 0.5-6.5 2.5-5.5 0.5-4-1.5-4-1.5-6.5 0-2.5-1.5-4-2.5-4-1-4 0.5-5 0.5-4 0-2.5-2-3-2 0.5-3 0-1.5-3-1-2-3.5 0-2.5 0.5-2 1.5-3.5 2-3.5-1-6 2-2.5-1.5-3.5-5-3.5-4.5-1-3.5-2.5-3-3-4-1-5.5 1.5-5 0.5-6.5-1.5-5.5 1.5-7 3-6 2.5-4 2.5-2 3-3 0.5-4 0.5-4.5 4-3 1-3 1.5-2.5 2.5 2 3.5 0 3.5-2zM1326.5 150l3-1.5 3.5 0 2.5-4 1-1.5-0.5-2 2-4 4-2.5-0.5-3.5 3-0.5 2.5 1 2.5-2 2.5-1.5 2 1.5 1 2.5 1 1.5 1.5 1 1.5 2 2 0.5 3 2.5 0 3 0.5 2.5-1-0.5 1.5-1.5 1-0.5 0.5-4 2 1-0.5-1.5-3.5-2-1.5-1.5-2-1.5-1-2.5-2-2.5 0-2.5 2-1 1.5 1.5 2 3 2.5 2.5 2.5 2 2 1.5 0 4 1.5 2 1 2.5 1 4 1.5 1.5 1-2.5 0.5-2 1.5 0-2-3.5 0-2.5 2-1 3.5 0 0.5 1.5-0.5 2 1 2 1 3.5 1.5 2 3 1 1-1 3.5 1.5 3.5-2 3 0.5-0.5 4.5-0.5 2.5-1 2.5-1 4-0.5 0.5 1.5 5 0.5 4 2 3.5 2 6 1.5 2 1.5 5.5 1.5 4 1.5 5 2 4 1 5.5 1.5 4.5 2.5 0 6-3.5 3-2.5 3.5-1.5 2.5-2.5 3.5-2.5 1.5-2 2.5-2 1.5-4 2-5-2.5-3-3-2-0.5-1.5 0-3.5-1.5 1.5-2.5 4-3.5 0.5-1-1 0-2.5-1-2-1.5 1.5 0-3-1-0.5-2-4.5-1-3.5 1.5-1.5 3 3 2 3.5 2.5 2.5 2 1 3-1 1-0.5 1.5 3.5 3 1 4.5 0.5 3.5 0 5-0.5 1.5 1.5 1.5 3 1 3.5 2.5-1-1.5 1.5-0.5 1 2.5 2.5 3-1 1-1.5 0 4 0.5 3.5 0.5 5 1 4 1.5 7 1.5 4 1.5 5 2 3.5 1-2 2-3.5 1-4 1-4.5-0.5-4.5 2-3 2-2 3-3.5 4-4 1-4 2.5-0.5 2.5-1 3-1 1 4 2.5 5 1 8 2 0.5 4-2 0.5 6.5 1.5 5.5-1 8 0.5 2.5 3 4 0.5 4 1.5 5 4 4.5 1 0-1.5-7 0-4-2-2-3.5-6-1.5-5 0-5.5 1.5-2.5 1.5 2.5 2.5 1 1 3 3 6.5 3.5-5 4-3 0.5-3.5-1-6.5-3.5-5.5-2-4 2-4.5 2-2 3 0 1.5 3-0.5-4 3 0 3.5-1 4.5-2 3.5-4 2-4 1.5-5 2.5-5 0-3.5-2-4-2-5 1.5-4 3.5-2-1.5-1.5-4.5 0.5-0.5-2-2-2 0.5-1 3-2 3-2.5 1.5 1-1.5 4 2-2 3-0.5 2 1-0.5 4.5 2.5 2-0.5 6 2.5 0.5 3-2 0.5-4-2-4.5-1.5-3.5 3.5-2.5 0-2.5 2-1.5 3-2 5.5-2 4.5-7 3.5-5 0.5-5.5 0-5 1.5-2-5-2-2.5 0-3.5-2.5 4.5-4.5 5-4 4.5-3.5 6 0 6-0.5 4.5 1.5 4.5-0.5 3-6 6.5-0.5 5-2-2.5 8-3.5 4-3.5 1-2.5 4-1 8 1.5 5 3-5 2.5-0.5 3.5-8 2-4-2-0.5 2-7 2.5 2 2.5-1.5 7 1 4.5-2.5 8-4 3.5 0.5 1.5-7 5.5-1.5 5 2.5 3 0.5 4-3-1-2.5-6-1.5-5-2.5-5.5-2.5-8.5-2.5-9-0.5-8.5 1-9 0-7-3.5-7 0.5-12-4.5-9 0.5-8.5 2-9 1.5-3.5-4-10.5-1-15.5-2-5.5-8-10.5-2.5-7 4.5-8.5 0-12.5 2.5-2.5 2.5-11.5 3.5 0 4.5-7-2.5-5.5-2 0 4.5 0.5 8-7 3-5-5.5-10.5 0-9 2-8.5 0.5-10.5-1.5-1 6-4.5-0.5-1 5-6 2-4-2-3-5 5.5-1.5 8.5-2-1.5-2-12.5-1.5-5-1.5-9-3-12 2.5-5.5 4.5-5 5.5-2 5.5-6 4-4.5 2.5 0 6.5 3.5 3 2-0.5 3.5-2.5 1.5 0.5 1.5 2.5 1 4.5 1 2-4 2.5-1.5-6.5-2 0-1 4 1 4.5-3 0.5-4 1.5-2 4-3.5 1.5-5 3.5-1 2.5-5 0.5 5 3.5 1.5 3-0.5 6.5-11.5-0.5-2.5 2 1 3.5-1 7.5 1 4.5 4 0 1.5 2.5zM1956 150l2.5-1.5 3.5 0 3-4 1-1.5-1-2 2.5-4 4-2.5-0.5-3.5 2.5-0.5 2.5 1 3-2 2.5-1.5 2 1.5 0.5 2.5 1.5 1.5 1 1 2 2 1.5 0.5 3 2.5 0.5 3 0.5 2.5-1-0.5 1.5-1.5 1-0.5 0-4 2.5 1-1-1.5-3.5-2-1.5-1.5-2-1.5-0.5-2.5-2.5-2.5 0-2.5 2.5-1 1.5 1.5 2 3 2.5 2.5 2.5 2 2 1.5 0 4 1 2 1.5 2.5 1 4 1.5 1.5 1-2.5 0-2 1.5 0-2-3.5 0-2.5 2-1 3.5 0 1 1.5-0.5 2 1 2 0.5 3.5 2 2 2.5 1 1.5-1 3.5 1.5 3.5-2 2.5 0.5 0 4.5-1 2.5-0.5 2.5-1 4-0.5 0.5 1 5 0.5 4 2.5 3.5 1.5 6 2 2 1 5.5 1.5 4 2 5 1.5 4 1.5 5.5 1 4.5 3 0 6-3.5 2.5-2.5 3.5-1.5 2.5-2.5 3.5-2.5 2-2 2-2 2-4 1.5-5-2-3-3-2-0.5-1.5-0.5-3.5-1.5 1.5-2.5 4-3.5 0.5-1-1 0-2.5-0.5-2-1.5 1.5-0.5-3-1-0.5-1.5-4.5-1-3.5 1.5-1.5 2.5 3 2 3.5 3 2.5 1.5 1 3-1 1-0.5 2 3.5 3 1 4.5 0.5 3 0 5.5-0.5 1 1.5 2 3 1 3.5 2.5-1-2 1.5 0 1 2.5 2.5 2.5-1 1-1.5 0.5 4 0 3.5 1 5 0.5 4 1.5 7 2 4 1 5 2 3.5 1.5-2 2-3.5 0.5-4 1-4.5-0.5-4.5 2.5-3 1.5-2 3.5-3.5 4-4 1-4 2.5-0.5 2.5-1 2.5-1 1.5 4 2.5 5 1 8 2 0.5 3.5-2 0.5 6.5 1.5 5.5-0.5 8 0.5 2.5 3 4 0 4 2 5 3.5 4.5 1.5 0-1.5-7 0-4-2.5-2-3-6-1.5-5-0.5-5.5 1.5-2.5 1.5 2.5 3 1 0.5 3 3.5 6.5 3-5 4-3 0.5-3.5-0.5-6.5-4-5.5-1.5-4 1.5-4.5 2.5-2 3 0 1.5 3-0.5-4 3 0 3.5-1 4.5-2 3.5-4 1.5-4 2-5 2-5 0.5-3.5-2-4-2.5-5 2-4 3.5-2-2-1.5-4.5 0.5 0-2-2.5-2 1-1 2.5-2 3-2.5 2 1-2 4 2.5-2 3-0.5 1.5 1-0.5 4.5 3 2-0.5 6 2 0.5 3-2 0.5-4-1.5-4.5-2-3.5 4-2.5 0-2.5 1.5-1.5 3.5-2 5-2 5-7 3.5-5 0.5-5.5 0-5 1-2-4.5-2-3 0-3-2.5 4-4.5 5.5-4 4-3.5 6.5 0 6-0.5 4 1.5 4.5-0.5 3-6 6.5-0.5 5.5-2-2.5 8-3.5 4-3.5 1-3 4-0.5 8 1 5 3-5 3-0.5 3.5-8 2-4-2-0.5 1.5-7 2.5 2 3-1.5 7 1 4-2.5 8-4 3.5 0.5 2-7 5-1.5 5.5 2.5 3 0.5 4-3-1-2.5-6-1.5-5.5-2.5-5-2.5-9-2.5-8.5-0.5-9 1-8.5 0-7-3.5-7 0.5-12.5-4.5-8.5 0.5-9 2-8.5 1.5-3.5-4-10.5-1-16-2-5-8-10.5-2.5-7 4.5-9 0-12 2.5-2.5 2.5-11.5 3.5 0 4.5-7-2.5-5.5-2-0.5 4.5 1 8-7 3-5.5-5.5-10.5 0-8.5 2-9 0.5-10.5-1.5-1 6-4-0.5-1 5-6 2-4-2-3-5 5-1.5 9-2-2-2-12-1.5-5.5-1.5-8.5-3-12.5 2.5-5 4.5-5.5 5.5-1.5 5.5-6 4-4.5 2.5 0 6.5 3 3 2-0.5 3.5-2.5 2 0.5 1.5 2.5 1 4.5 0.5 2-4 2.5-1-6.5-2.5 0-0.5 4 0.5 4.5-2.5 0.5-4 1.5-2 4-3.5 1.5-5.5 3.5-0.5 2.5-5 0.5 4.5 3.5 1.5 3-0.5 6.5-11.5-0.5-2 2 1 3.5-1.5 7.5 1 4.5 4.5 0 1.5 2.5zM1422.5 276.5l2 9.5-1.5 5-2.5 12-2 8-3.5 1-2.5-9 1.5-16 4.5-4zM1672 72.5l6-2.5 2 1 3.5-0.5-4-2-4-3.5 5.5-3 4-3 7-1.5 8 1 7 1.5 12 1.5 10.5 1 9-2 10.5 2 10.5 2 8.5 0.5 9 0.5 7 0.5 10.5 0.5 5-1 2-3 8.5 1.5 7-3 5.5 3.5 0.5 4-7.5 2.5-2.5 3.5-6 3.5-5 5-2 5.5 4 6.5 7 1 6 3.5 5 0.5 0.5 5.5 2.5 4.5 2.5-0.5 0.5-8.5 3.5-4-1.5-6-0.5-6 0.5-4.5 5.5 0.5 6 3.5 2.5 4 3.5 3 4.5-4 1-1.5 4.5 7.5 2.5 5 5 3 3 5 0.5 2.5-5 1-2.5 3-11.5 0-5.5 6-1.5 2 4.5-5.5 6 0.5 0 2.5-2.5 1.5 3.5 3.5 5 1.5-5 3.5-3.5 1-2-2.5-5 3-1.5 3.5 1.5 1.5-3 1-4 2 0 3-3 2.5-0.5 3 0 5-1.5 2-3 2.5-3.5 4-1.5 4.5 1.5 5.5 1 5-1 3.5-1.5 0-1-3.5-1.5-3.5-0.5-3-2-2.5-3-1-3.5-0.5-3 1 0.5 3-2 0-3.5-1.5-3.5 0.5-4.5 4.5-1 6 0 9 1 4 2 4 2.5 2 4.5-1 1.5-1.5 1-5 3.5-1 3 0.5-1.5 4.5-1 5.5 0 4 4 0 3.5 1 1 2-0.5 7.5 0 2.5 3 5.5 3.5-1 3.5 0 1 2-1 3.5-3.5 0-1-2-4.5-1-4.5-4.5 0-3-3.5-4.5-7-3-2.5-4-2.5-1.5-3.5 1-4.5-2-4-3-3.5-2-3.5-4 0-4-1-4-3.5-5.5-2.5-4-2-3-2.5-3.5-2-6-3-1 1 4.5 2.5 4 1.5 5 2.5 6.5 1.5 2.5-1 0.5-3-5-0.5-3-3-3.5-0.5-3-2.5-4-1.5-4-1-3-2.5-3.5-3.5-1.5-2.5-5-1-3.5-2-4.5-1.5-2.5 0.5-4 0.5-10.5-1.5-6-0.5-4.5-4-2.5-1-4-4.5-5.5-1.5-2.5-3-4-4-4-3.5-0.5-4.5-3-7-0.5-4.5-2-2.5 2-3.5 1.5-2.5 0.5 0.5-4-3.5 4.5-1.5 3-4.5 3-4.5 2.5-5 2-4.5 1.5 4.5-3 3.5-2.5 4.5-3 0.5-2.5-5 0-3.5-2-4.5-3-0.5-2.5-2-2.5 2.5-2 6.5-3.5-4.5 0-5.5 0-2.5-2.5zM1830.5 222.5l2.5-2.5 0.5-3 3.5-2 3-2 0.5 3-0.5 2 1.5-1.5 2-4 3.5 5 3.5-0.5 3.5 0 3.5 0.5 1.5 2.5 2 3 3.5 4 5 2.5 3.5 1 2.5 3.5 3 6.5 0 4.5 2.5 2.5 4.5 0.5 2.5 3.5 6 1 4.5 2 5.5 4.5 1 5.5-1 5.5-3 4-3.5 6 0 11-1.5 7-2 5-1.5 2.5-4.5 1-3.5 1.5-3.5 6.5-0.5 5-2 4.5-3 4.5-2.5 4.5-1.5 3.5-2 0.5-3.5-1-2.5-0.5 2.5 4.5-1 5-7.5 2.5-5.5 8-1.5 8-10.5 0-3-13 0-8 3-8 0.5-10.5 2-10.5 0.5-16 0-4.5-2.5-2.5-6.5-5-1.5-5-2-4-2-6.5-2.5-6.5-2.5-2.5 0-4 2-3 0.5-3-1.5-3 1.5-5 2-2 2-4.5 0.5-3.5-0.5-5-0.5-2.5zM1838 39.5l9 5.5 14 0.5 6 4.5 2.5 8 3.5 1.5 2.5 5-3.5 5.5 4.5 6.5 3.5 6 5.5 3 5 2 1-3 2.5-6.5 3.5-5.5 7-2 7-5.5 10.5-3 5-2.5 0-6.5 5.5-4 0-6.5 1.5-8-3.5-5.5-17.5-2.5-52 0-17.5 5zM1923.5 72.5l3.5-2.5 7 0.5 6.5 0 1.5 3.5-1.5 1.5-6.5 2.5-7.5-1zM1326.5 113.5l4.5-1.5 8-2 0.5-4-3-2-1-2.5-2-3-1-5.5-1.5-2.5-3.5 0-2 3 1.5 5 1 2 3 2 0 2-2.5 0 0.5 3-1.5 1 3 1-3.5 1.5zM1955.5 113.5l5-1.5 7.5-2 0.5-4-2.5-2-1-2.5-2-3-1-5.5-1.5-2.5-3.5 0-2 3 1 5 1.5 2 2.5 2 0.5 2-3 0 1 3-2 1 3.5 1-4 1.5zM1955 108l0-4.5 1-4-4.5 0-3.5 3 0 5.5 1 1.5 5.5-2zM1565 155.5l3-4 6 0 1.5-4.5 3-1.5 2.5-4.5 0-4.5 2.5 0 1 6-1.5 4 0 3.5-0.5 2.5-1.5 0.5-2 1-3 0-3.5 2-2-2-3 1-2 1zM1581 135.5l2-0.5 4-0.5 3.5-3.5-0.5-2.5-5.5-3.5-0.5 1-1 5.5-1.5 0.5 0 2zM1563 157.5l2-2 2 2-1 5-2 0.5-0.5-4zM1568 156l2-1.5 2 0.5-1 2.5-2 1zM1584.5 124l2.5-2-0.5-6 2.5 0-2.5-8 0.5-6-2 0-1 6 0.5 6.5 0 5.5zM1546.5 184.5l1 2.5 2-8-0.5-0.5-2.5 4.5zM1526.5 194.5l2-2.5 2 1-1 3.5-1.5 0.5-2-0.5zM1476 224l0.5-5 2.5 5 0.5 2.5-1.5 2.5-2-0.5zM1547 196.5l3 0 0.5 3.5-1.5 4 4 4 0 4-4-3.5-2-1-1-5.5 1-1zM1549.5 224l1 2.5 2.5 2.5 3 1 1.5-3.5-0.5-5.5-1-1.5-1-7.5-2-0.5-1.5 5.5-2 0.5 2.5 4.5zM1541.5 223l2.5-4.5 1.5-3.5-0.5 2-3 5.5zM1527 241l1-1.5 2.5 1 3.5-4 1.5-3.5 3-2 2-4.5 1.5 2.5 3 2-2.5 2.5 0 7.5 2 1.5-2.5 3.5-2 3-0.5 6.5-3 0-2.5-2-2.5 0.5-2.5-1.5-0.5-3.5-1.5-3.5zM1503 230.5l4 1 4.5 7.5 2.5 1.5 3.5 4.5 1.5 4 2.5 4 0 7.5-2.5 0-4-5-2.5-6.5-3-6.5-2-3.5-1.5-4-3-3zM1520.5 263l1.5-2 3.5 0.5 4 1.5 3.5 0 3.5 2.5 0 2.5-3.5-1-4.5-0.5-3.5-1-2.5-1zM1537.5 266.5l7 0.5 3 0 4 0 3.5 0.5 3.5-0.5-3.5 3-2 2-3.5 1-7-4.5-3.5 0zM1545.5 259.5l1.5 0 0-6.5 1.5 4.5 2.5 0.5-1.5-5 2.5-5.5-3 0-1-5.5 6.5-1 0.5 0.5-8.5 2-0.5 4-1 6.5zM1559.5 240.5l2 0.5-1 2.5 1 3-1.5 0.5-1-3.5zM1560 253l5 1-1.5 1.5-3-1zM1565.5 248.5l2-2.5 3.5 1.5 1.5 6 5-4.5 5.5 3 6 3 2.5 3.5 2.5 2.5-0.5 2 1.5 3 3.5 4.5 1.5 1.5-6-0.5-2.5-5-3.5-1.5-1 3.5-2.5 0.5-1.5 0-3.5-2.5-2 0.5 1.5-4-2-4.5-4.5-2-2.5-1-1.5 0.5-1.5-3.5 2.5-1.5-2.5 0zM1595.5 259.5l3-1 2.5-1.5 1.5-0.5-1.5 3-2.5 2zM1534.5 303l1-0.5 5-3.5 7.5-2.5 2-6.5 2.5-1.5 2.5-5.5 3-1.5 2.5 3 2.5-0.5 1-4 1.5-3 2.5 0 0-2 4.5 2 2.5-0.5 0.5 2-1.5 5 2 3.5 4 4 2.5 0 1.5-6.5-0.5-3.5 1-7 1-1 1.5 5 0.5 5 3 1.5 1 6.5 2 4.5 3.5 3.5 2.5 5 4.5 7.5 0.5 7-0.5 7-1 5-2 3.5-1.5 4.5-1 6.5-17.5 0-4-6.5 0.5-3-0.5-3.5-3 4.5-0.5 0-2.5-5-5.5-3.5-9 2-4 4.5-6.5 0-3.5 2.5-3.5 0-1.5-2 1-6.5-1-6-1.5-7.5-1.5-1.5 1-4-0.5-4zM1638.5 335.5l3 2.5 1.5 4.5 1 2-2-1-1.5-3zM1817 187.5l4.5-2.5 4.5-1 4 3.5 3.5 2 2.5 2.5-2.5 0.5-3.5 0-1.5-4-5.5-2-4 1zM1835.5 196.5l3-4 5 0.5 2.5 3-5 2.5-5-1.5zM1829 196.5l3.5 1-1.5 0.5zM1355.5 38.5l10.5 4.5 7-2 10.5-3.5-12-3.5-16 1zM1427.5 56.5l7 2 3.5-5.5 5-7 12.5-3.5-14 1-9 4-3.5 5.5zM1502.5 37l8.5 2.5 9-1-2-4-10.5-3-8.5 3zM1577.5 50l7 1.5 9-4-10.5-2.5-7 1zM1853 79l-4.5 2-5-2-7-4-7 0.5 7-7-5.5-5-7-3-8.5-0.5-6.5-2 8-6.5 9-0.5 7 3 10.5 5.5 5 4 9 5 0.5 1.5zM1789 63.5l-7 1-14 0-8.5-4 1.5-6.5 12.5-1 10.5 0.5 5 6zM1756 56.5l-9-0.5 0-6 9-1 7 2.5zM1826 49l-21 0-2-5.5 19.5 0zM1801.5 55.5l-5.5 5-8.5-6.5 7-2.5 7 0zM1829.5 42.5l-21 0-9-5.5 9-8 43.5 0-8.5 8zM1782 47.5l-12 0-10.5-4 14-4 17.5 3zM1817 74l-5 1 3.5 5.5 7-2.5zM1358 145l5.5-1-0.5 4.5-5-2.5zM1350.5 137l3 0-0.5 5.5-2 0zM1351.5 132.5l1.5-0.5 0 4-1-0.5zM1393 153l3.5-1.5-0.5 2-3 0zM1377.5 152l5 0-0.5 1-4.5-0.5z"/>
<path fill="#000" d="M1385.5 136.5l0.5-6 2-5 2-3 3 1.5 2 4 3.5-1.5 3.5-1.5 1-4 2-0.5-2 2-1 5 3.5 1.5 3.5 6.5-5.5 2-6-3-3.5 0-5 2zM1418.5 133l3 2.5 1 3.5-0.5 5 0.5 2.5 3 2 5-1 0-5-1-3-1-4.5-0.5-2.5-2-1-1.5-3.5 1.5-2.5 3.5 0-0.5-3-3-1.5-3.5 2-3 2-1.5 2.5 1.5 2.5zM1355 101.5l3 0.5 3 1 7.5-2 5-1.5-0.5-4.5 5.5-1.5 0-4.5 7-2 3.5 0.5-5.5-2-7 1.5-1.5-1.5-1-2.5 0-4 6-5-5-2.5-2 3.5-3.5 3.5-2.5 2-1 4 3 2.5 0.5 1.5-4.5 6.5-3.5 2.5-2.5 1.5zM1438 124l6-1.5 0 6.5-4.5 1.5-1.5-4z"/>
<path stroke="#000" stroke-width="2.6" stroke-linecap="round" d="M1693.9 193.7h0.3M1691.2 190.2h0.3M1689.5 188.7h0.3M1686.9 187.1h0.3M1682.5 184.4h0.3M1675.5 181.8h0.3M1665 177.9h0.3M1571.5 225.3h0.3M1577.6 220h0.3M1589.5 209.7h0.3M1591.1 205h0.3M1601.7 225.5h0.3M1612.9 226.8h0.3M1621.3 231h0.3M1628.3 221.3h0.3M1635.3 226.6h0.3M1632.7 216h0.3M1637.1 237.1h0.3M1638.8 241.3h0.3M1610.8 266.1h0.3M1614.3 268.7h0.3M1617 270h0.3M1617.8 271.3h0.3M1628 285.8h0.3M1629.2 288.4h0.3M1630.6 291.6h0.3M1625.7 301.1h0.3M1627.4 302.9h0.3M1647.5 291.9h0.3M1650.2 288.4h0.3M1648.4 293.7h0.3M1652.8 287.1h0.3M1659.4 300.8h0.3M1659.8 294h0.3M1664.5 281.3h0.3M1665.9 282.4h0.3M1704.4 291.3h0.3M1705.2 288.4h0.3M1708.7 284.5h0.3M1710.5 288.4h0.3M1714 289.8h0.3M1719.2 292.4h0.3M1722.7 297.7h0.3M1728 301.6h0.3M1722.4 270.8h0.3M1721 268.7h0.3M1722.7 268.4h0.3M1707.9 286.6h0.3M1701 291.1h0.3M1686.3 300.8h0.3M1689.5 295h0.3M1687.7 294.5h0.3M1682.5 271.3h0.3M1690.4 240h0.3M1687.7 234.5h0.3M1681.8 229.5h0.3M1665.9 254.2h0.3M1658.6 256.8h0.3M1666.8 251.6h0.3M1806.6 246.3h0.3M1805.7 247.1h0.3M1809.2 247.4h0.3M1774.4 316.4h0.3M1738.3 311.1h0.3M1649.6 267.4h0.3M1660.7 297.1h0.3M1498.4 214.5h0.3M1498.6 212.1h0.3M1500.4 225.3h0.3M1464.9 234.5h0.3M1464.4 239.7h0.3M1464.9 246.3h0.3M1463 264.2h0.3M1433.4 257.1h0.3M1437.1 298.4h0.3M1433.4 300.6h0.3M1923.7 204.2h0.3M1922 201.6h0.3M1938.6 170.5h0.3M1941.2 170h0.3M1916.7 143.6h0.3M1921.1 145.5h0.3M1852.4 160h0.3M1830.2 180.5h0.3M1831.1 177.9h0.3M1832.8 183.1h0.3M1858.2 202.3h0.3M1859.1 206.6h0.3M1857.8 210.2h0.3M1661.5 108.1h0.3M1654.5 108.6h0.3M1647.5 108.6h0.3M1640.6 106.8h0.3M1665 105.5h0.3M1668.5 104.1h0.3M1674.6 102.3h0.3M1679 100.2h0.3M1591.6 129.7h0.3M1595.1 126h0.3M1598.6 123.9h0.3M1602.1 119.9h0.3M1606.5 116h0.3M1609.1 112h0.3M1559.8 175.8h0.3M1561 173.1h0.3M1562.8 170.5h0.3M1553.5 180.8h0.3M1585 173.6h0.3M1585 175h0.3M1590.9 207.9h0.3M1591.3 201.6h0.3M1591.3 197.6h0.3"/>
<path d="M1343 142.3L1361.9 142.3M1369.1 141.8L1369.1 162.1M1362.6 152.1L1378.4 152.1M1384.5 151.5L1391.5 151.5M1388 151.5L1388 159.4M1388.8 132.3L1402.8 132.3" stroke="#ffffff" stroke-width="2.4" fill="none"/>
</g></g>
<rect x="1668.6" y="551.8" width="87.3" height="25.8" fill="none" stroke="#000" stroke-width="2"/>
<path d="M1961.2 379.6H1836.4V564.6H1961.2" fill="none" stroke="#000" stroke-width="1.8"/>
<path d="M1336.4 353.4v4M1336.4 656.6v-4M1353.9 353.4v4M1353.9 656.6v-4M1371.4 353.4v4M1371.4 656.6v-4M1388.8 353.4v4M1388.8 656.6v-4M1406.3 353.4v4M1406.3 656.6v-4M1423.8 353.4v4M1423.8 656.6v-4M1441.3 353.4v4M1441.3 656.6v-4M1458.8 353.4v4M1458.8 656.6v-4M1476.2 353.4v4M1476.2 656.6v-4M1493.7 353.4v4M1493.7 656.6v-4M1511.2 353.4v4M1511.2 656.6v-4M1528.7 353.4v4M1528.7 656.6v-4M1546.2 353.4v4M1546.2 656.6v-4M1563.6 353.4v4M1563.6 656.6v-4M1581.1 353.4v4M1581.1 656.6v-4M1598.6 353.4v4M1598.6 656.6v-4M1616.1 353.4v4M1616.1 656.6v-4M1633.6 353.4v4M1633.6 656.6v-4M1651 353.4v4M1651 656.6v-4M1668.5 353.4v4M1668.5 656.6v-4M1686 353.4v4M1686 656.6v-4M1703.5 353.4v4M1703.5 656.6v-4M1721 353.4v4M1721 656.6v-4M1738.4 353.4v4M1738.4 656.6v-4M1755.9 353.4v4M1755.9 656.6v-4M1773.4 353.4v4M1773.4 656.6v-4M1790.9 353.4v4M1790.9 656.6v-4M1808.4 353.4v4M1808.4 656.6v-4M1825.8 353.4v4M1825.8 656.6v-4M1843.3 353.4v4M1843.3 656.6v-4M1860.8 353.4v4M1860.8 656.6v-4M1878.3 353.4v4M1878.3 656.6v-4M1895.8 353.4v4M1895.8 656.6v-4M1913.2 353.4v4M1913.2 656.6v-4M1930.7 353.4v4M1930.7 656.6v-4M1948.2 353.4v4M1948.2 656.6v-4M1336.4 644h6M1961.2 644h-6M1336.4 630.8h6M1961.2 630.8h-6M1336.4 617.7h12M1961.2 617.7h-12M1336.4 604.5h6M1961.2 604.5h-6M1336.4 591.3h6M1961.2 591.3h-6M1336.4 578.2h6M1961.2 578.2h-6M1336.4 565h12M1961.2 565h-12M1336.4 551.8h6M1961.2 551.8h-6M1336.4 538.7h6M1961.2 538.7h-6M1336.4 525.5h6M1961.2 525.5h-6M1336.4 512.3h12M1961.2 512.3h-12M1336.4 499.2h6M1961.2 499.2h-6M1336.4 486h6M1961.2 486h-6M1336.4 472.8h6M1961.2 472.8h-6M1336.4 459.7h12M1961.2 459.7h-12M1336.4 446.5h6M1961.2 446.5h-6M1336.4 433.4h6M1961.2 433.4h-6M1336.4 420.2h6M1961.2 420.2h-6M1336.4 407h12M1961.2 407h-12M1336.4 393.9h6M1961.2 393.9h-6M1336.4 380.7h6M1961.2 380.7h-6M1336.4 367.5h6M1961.2 367.5h-6M1336.4 354.4h12M1961.2 354.4h-12" stroke="#444" stroke-width="1" fill="none"/>
<rect x="1336.4" y="353.4" width="624.8" height="303.2" fill="none" stroke="#444" stroke-width="1.3"/>
<rect x="1345.4" y="362.2" width="45.3" height="43.4" fill="#fff"/>
<text x="1366.9" y="393.8" font-size="22.6" font-weight="bold" text-anchor="middle" fill="#111" stroke="#111" stroke-width="0.55">D2</text>
<text x="1325.6" y="363" font-size="24" text-anchor="end" fill="#111" stroke="#111" stroke-width="0.45">80</text>
<text x="1325.6" y="415.6" font-size="24" text-anchor="end" fill="#111" stroke="#111" stroke-width="0.45">60</text>
<text x="1325.6" y="468.3" font-size="24" text-anchor="end" fill="#111" stroke="#111" stroke-width="0.45">40</text>
<text x="1325.6" y="520.9" font-size="24" text-anchor="end" fill="#111" stroke="#111" stroke-width="0.45">20</text>
<text x="1325.6" y="573.6" font-size="24" text-anchor="end" fill="#111" stroke="#111" stroke-width="0.45">0</text>
<text x="1325.6" y="626.3" font-size="24" text-anchor="end" fill="#111" stroke="#111" stroke-width="0.45">-20</text>
</g>
<g>
<rect x="1336.4" y="673.4" width="624.8" height="303.2" fill="#fdca6c"/>
<path fill="#1f3668" d="M1336.5 673.4H1451V676.5H1336.5zM1336.5 676.5H1451V679.8H1336.5zM1336.5 679.8H1451V683.1H1336.5zM1336.5 683.1H1451V686.3H1336.5zM1336.5 686.3H1451V689.6H1336.5zM1336.5 689.6H1343V692.9H1336.5zM1336.5 692.9H1343V696.2H1336.5zM1336.5 696.2H1343V699.4H1336.5zM1336.5 699.4H1343V702.7H1336.5zM1336.5 702.7H1343V706H1336.5zM1336.5 706H1343V709.2H1336.5zM1336.5 709.2H1343V712.5H1336.5zM1336.5 712.5H1343V715.8H1336.5zM1336.5 715.8H1343V719.1H1336.5zM1336.5 719.1H1343V722.3H1336.5zM1336.5 722.3H1343V725.6H1336.5zM1336.5 725.6H1343V728.9H1336.5zM1336.5 728.9H1343V732.2H1336.5zM1336.5 732.2H1343V735.4H1336.5zM1336.5 735.4H1343V738.7H1336.5zM1336.5 738.7H1343V742H1336.5zM1336.5 742H1343V745.2H1336.5zM1336.5 745.2H1343V748.5H1336.5zM1336.5 748.5H1343V751.8H1336.5z"/>
<path fill="#2b66ae" d="M1595 673.4H1745.6V676.5H1595zM1595 676.5H1745.6V679.8H1595zM1595 679.8H1745.6V683.1H1595zM1595 683.1H1745.6V686.3H1595zM1595 686.3H1745.6V689.6H1595zM1595 689.6H1745.6V692.9H1595zM1906 709.2H1945.2V712.5H1906zM1879.8 712.5H1945.2V715.8H1879.8zM1879.8 715.8H1945.2V719.1H1879.8zM1879.8 719.1H1948.5V722.3H1879.8zM1879.8 722.3H1948.5V725.6H1879.8zM1879.8 725.6H1948.5V728.9H1879.8zM1879.8 728.9H1948.5V732.2H1879.8zM1879.8 732.2H1948.5V735.4H1879.8zM1879.8 735.4H1948.5V738.7H1879.8zM1879.8 738.7H1948.5V742H1879.8zM1879.8 742H1892.9V745.2H1879.8zM1922.3 742H1948.5V745.2H1922.3zM1879.8 745.2H1892.9V748.5H1879.8zM1922.3 745.2H1948.5V748.5H1922.3zM1879.8 748.5H1892.9V751.8H1879.8zM1922.3 748.5H1951.8V751.8H1922.3zM1883 751.8H1892.9V755.1H1883zM1922.3 751.8H1951.8V755.1H1922.3zM1889.6 755.1H1892.9V758.3H1889.6zM1922.3 755.1H1951.8V758.3H1922.3zM1922.3 758.3H1951.8V761.6H1922.3zM1896.1 761.6H1951.8V764.9H1896.1zM1899.4 764.9H1951.8V768.2H1899.4zM1906 768.2H1942V771.4H1906zM1909.2 771.4H1928.9V774.7H1909.2zM1732.5 774.7H1752.1V778H1732.5zM1912.5 774.7H1915.8V778H1912.5zM1732.5 778H1752.1V781.2H1732.5zM1732.5 781.2H1752.1V784.5H1732.5zM1732.5 784.5H1752.1V787.8H1732.5zM1732.5 787.8H1752.1V791.1H1732.5zM1732.5 791.1H1752.1V794.3H1732.5zM1732.5 794.3H1752.1V797.6H1732.5zM1732.5 797.6H1752.1V800.9H1732.5zM1732.5 800.9H1752.1V804.2H1732.5zM1732.5 804.2H1752.1V807.4H1732.5z"/>
<path fill="#4486c6" d="M1892.9 742H1922.3V745.2H1892.9zM1892.9 745.2H1922.3V748.5H1892.9zM1892.9 748.5H1922.3V751.8H1892.9zM1892.9 751.8H1922.3V755.1H1892.9zM1892.9 755.1H1922.3V758.3H1892.9zM1892.9 758.3H1922.3V761.6H1892.9z"/>
<path fill="#84c4eb" d="M1539.4 673.4H1562.3V676.5H1539.4zM1539.4 676.5H1562.3V679.8H1539.4zM1539.4 679.8H1562.3V683.1H1539.4zM1948.5 719.1H1958.3V722.3H1948.5zM1863.4 722.3H1879.8V725.6H1863.4zM1948.5 722.3H1958.3V725.6H1948.5zM1863.4 725.6H1879.8V728.9H1863.4zM1948.5 725.6H1958.3V728.9H1948.5zM1866.7 728.9H1879.8V732.2H1866.7zM1948.5 728.9H1958.3V732.2H1948.5zM1712.9 732.2H1739V735.4H1712.9zM1870 732.2H1879.8V735.4H1870zM1948.5 732.2H1958.3V735.4H1948.5zM1703 735.4H1739V738.7H1703zM1870 735.4H1879.8V738.7H1870zM1948.5 735.4H1958.3V738.7H1948.5zM1706.3 738.7H1742.3V742H1706.3zM1870 738.7H1879.8V742H1870zM1948.5 738.7H1958.3V742H1948.5zM1709.6 742H1742.3V745.2H1709.6zM1870 742H1879.8V745.2H1870zM1948.5 742H1958.3V745.2H1948.5zM1712.9 745.2H1742.3V748.5H1712.9zM1870 745.2H1879.8V748.5H1870zM1948.5 745.2H1958.3V748.5H1948.5zM1716.1 748.5H1745.6V751.8H1716.1zM1870 748.5H1879.8V751.8H1870zM1951.8 748.5H1958.3V751.8H1951.8zM1716.1 751.8H1745.6V755.1H1716.1zM1870 751.8H1883V755.1H1870zM1951.8 751.8H1958.3V755.1H1951.8zM1719.4 755.1H1748.9V758.3H1719.4zM1873.2 755.1H1889.6V758.3H1873.2zM1951.8 755.1H1958.3V758.3H1951.8zM1719.4 758.3H1748.9V761.6H1719.4zM1873.2 758.3H1892.9V761.6H1873.2zM1951.8 758.3H1958.3V761.6H1951.8zM1719.4 761.6H1748.9V764.9H1719.4zM1873.2 761.6H1896.1V764.9H1873.2zM1951.8 761.6H1958.3V764.9H1951.8zM1722.7 764.9H1752.1V768.2H1722.7zM1873.2 764.9H1899.4V768.2H1873.2zM1951.8 764.9H1958.3V768.2H1951.8zM1722.7 768.2H1752.1V771.4H1722.7zM1879.8 768.2H1906V771.4H1879.8zM1942 768.2H1958.3V771.4H1942zM1725.9 771.4H1752.1V774.7H1725.9zM1883 771.4H1909.2V774.7H1883zM1928.9 771.4H1958.3V774.7H1928.9zM1722.7 774.7H1732.5V778H1722.7zM1883 774.7H1912.5V778H1883zM1915.8 774.7H1958.3V778H1915.8zM1722.7 778H1732.5V781.2H1722.7zM1886.3 778H1958.3V781.2H1886.3zM1719.4 781.2H1732.5V784.5H1719.4zM1752.1 781.2H1755.4V784.5H1752.1zM1896.1 781.2H1958.3V784.5H1896.1zM1716.1 784.5H1732.5V787.8H1716.1zM1752.1 784.5H1755.4V787.8H1752.1zM1906 784.5H1951.8V787.8H1906zM1716.1 787.8H1732.5V791.1H1716.1zM1752.1 787.8H1755.4V791.1H1752.1zM1919 787.8H1942V791.1H1919zM1712.9 791.1H1732.5V794.3H1712.9zM1752.1 791.1H1755.4V794.3H1752.1zM1932.1 791.1H1935.4V794.3H1932.1zM1709.6 794.3H1732.5V797.6H1709.6zM1752.1 794.3H1755.4V797.6H1752.1zM1709.6 797.6H1732.5V800.9H1709.6zM1752.1 797.6H1755.4V800.9H1752.1zM1706.3 800.9H1732.5V804.2H1706.3zM1752.1 800.9H1758.7V804.2H1752.1zM1706.3 804.2H1732.5V807.4H1706.3zM1752.1 804.2H1758.7V807.4H1752.1zM1703 807.4H1758.7V810.7H1703zM1706.3 810.7H1758.7V814H1706.3zM1725.9 814H1758.7V817.2H1725.9zM1748.9 817.2H1762V820.5H1748.9zM1349.6 928.5H1356.1V931.8H1349.6zM1349.6 931.8H1356.1V935.1H1349.6zM1349.6 935.1H1356.1V938.3H1349.6zM1349.6 938.3H1356.1V941.6H1349.6z"/>
<path fill="#ffffff" d="M1814.3 722.3H1827.4V725.6H1814.3zM1814.3 725.6H1827.4V728.9H1814.3zM1663.8 728.9H1699.8V732.2H1663.8zM1814.3 728.9H1827.4V732.2H1814.3zM1834 728.9H1866.7V732.2H1834zM1647.4 732.2H1703V735.4H1647.4zM1814.3 732.2H1827.4V735.4H1814.3zM1834 732.2H1870V735.4H1834zM1650.7 735.4H1703V738.7H1650.7zM1834 735.4H1870V738.7H1834zM1650.7 738.7H1706.3V742H1650.7zM1834 738.7H1870V742H1834zM1650.7 742H1709.6V745.2H1650.7zM1834 742H1870V745.2H1834zM1653.9 745.2H1712.9V748.5H1653.9zM1834 745.2H1870V748.5H1834zM1653.9 748.5H1709.6V751.8H1653.9zM1834 748.5H1870V751.8H1834zM1686.7 751.8H1699.8V755.1H1686.7zM1834 751.8H1870V755.1H1834zM1834 755.1H1873.2V758.3H1834zM1834 758.3H1873.2V761.6H1834zM1834 761.6H1873.2V764.9H1834zM1834 764.9H1873.2V768.2H1834zM1834 768.2H1840.5V771.4H1834zM1834 771.4H1840.5V774.7H1834zM1834 774.7H1840.5V778H1834zM1834 778H1840.5V781.2H1834zM1834 781.2H1840.5V784.5H1834zM1883 781.2H1896.1V784.5H1883zM1834 784.5H1840.5V787.8H1834zM1883 784.5H1906V787.8H1883zM1951.8 784.5H1958.3V787.8H1951.8zM1834 787.8H1840.5V791.1H1834zM1883 787.8H1919V791.1H1883zM1942 787.8H1958.3V791.1H1942zM1834 791.1H1840.5V794.3H1834zM1886.3 791.1H1932.1V794.3H1886.3zM1935.4 791.1H1958.3V794.3H1935.4zM1834 794.3H1840.5V797.6H1834zM1886.3 794.3H1958.3V797.6H1886.3zM1834 797.6H1840.5V800.9H1834zM1886.3 797.6H1958.3V800.9H1886.3zM1834 800.9H1840.5V804.2H1834zM1886.3 800.9H1958.3V804.2H1886.3zM1834 804.2H1840.5V807.4H1834zM1886.3 804.2H1958.3V807.4H1886.3zM1555.8 807.4H1676.9V810.7H1555.8zM1834 807.4H1958.3V810.7H1834zM1555.8 810.7H1706.3V814H1555.8zM1834 810.7H1958.3V814H1834zM1555.8 814H1725.9V817.2H1555.8zM1834 814H1958.3V817.2H1834zM1555.8 817.2H1748.9V820.5H1555.8zM1834 817.2H1958.3V820.5H1834zM1555.8 820.5H1768.5V823.8H1555.8zM1834 820.5H1958.3V823.8H1834zM1555.8 823.8H1771.8V827.1H1555.8zM1834 823.8H1958.3V827.1H1834zM1555.8 827.1H1771.8V830.3H1555.8zM1834 827.1H1915.8V830.3H1834zM1938.7 827.1H1958.3V830.3H1938.7zM1555.8 830.3H1775V833.6H1555.8zM1834 830.3H1892.9V833.6H1834zM1938.7 830.3H1958.3V833.6H1938.7zM1555.8 833.6H1775V836.9H1555.8zM1834 833.6H1892.9V836.9H1834zM1938.7 833.6H1958.3V836.9H1938.7zM1555.8 836.9H1775V840.2H1555.8zM1834 836.9H1892.9V840.2H1834zM1938.7 836.9H1958.3V840.2H1938.7zM1555.8 840.2H1778.3V843.4H1555.8zM1847 840.2H1892.9V843.4H1847zM1938.7 840.2H1958.3V843.4H1938.7zM1555.8 843.4H1765.2V846.7H1555.8zM1856.9 843.4H1892.9V846.7H1856.9zM1942 843.4H1958.3V846.7H1942zM1555.8 846.7H1752.1V850H1555.8zM1870 846.7H1886.3V850H1870zM1942 846.7H1958.3V850H1942zM1555.8 850H1653.9V853.2H1555.8zM1686.7 850H1739V853.2H1686.7zM1942 850H1958.3V853.2H1942zM1559 853.2H1653.9V856.5H1559zM1686.7 853.2H1725.9V856.5H1686.7zM1942 853.2H1958.3V856.5H1942zM1559 856.5H1653.9V859.8H1559zM1686.7 856.5H1712.9V859.8H1686.7zM1942 856.5H1958.3V859.8H1942zM1559 859.8H1699.8V863.1H1559zM1942 859.8H1958.3V863.1H1942zM1428.1 863.1H1444.5V866.3H1428.1zM1559 863.1H1683.4V866.3H1559zM1942 863.1H1958.3V866.3H1942zM1428.1 866.3H1444.5V869.6H1428.1zM1562.3 866.3H1663.8V869.6H1562.3zM1942 866.3H1958.3V869.6H1942zM1428.1 869.6H1444.5V872.9H1428.1zM1562.3 869.6H1644.1V872.9H1562.3zM1942 869.6H1958.3V872.9H1942zM1428.1 872.9H1444.5V876.2H1428.1zM1562.3 872.9H1624.5V876.2H1562.3zM1670.3 872.9H1719.4V876.2H1670.3zM1942 872.9H1958.3V876.2H1942zM1670.3 876.2H1719.4V879.4H1670.3zM1670.3 879.4H1719.4V882.7H1670.3zM1670.3 882.7H1719.4V886H1670.3zM1670.3 886H1719.4V889.2H1670.3zM1670.3 889.2H1719.4V892.5H1670.3zM1670.3 892.5H1719.4V895.8H1670.3zM1336.5 895.8H1352.8V899.1H1336.5zM1608.1 895.8H1611.4V899.1H1608.1zM1336.5 899.1H1352.8V902.3H1336.5zM1608.1 899.1H1621.2V902.3H1608.1zM1336.5 902.3H1352.8V905.6H1336.5zM1608.1 902.3H1634.3V905.6H1608.1zM1336.5 905.6H1352.8V908.9H1336.5zM1608.1 905.6H1644.1V908.9H1608.1zM1732.5 905.6H1817.6V908.9H1732.5zM1336.5 908.9H1352.8V912.2H1336.5zM1608.1 908.9H1653.9V912.2H1608.1zM1732.5 908.9H1817.6V912.2H1732.5zM1336.5 912.2H1352.8V915.4H1336.5zM1608.1 912.2H1660.5V915.4H1608.1zM1336.5 915.4H1352.8V918.7H1336.5zM1437.9 915.4H1529.6V918.7H1437.9zM1611.4 915.4H1667V918.7H1611.4zM1336.5 918.7H1352.8V922H1336.5zM1437.9 918.7H1532.9V922H1437.9zM1617.9 918.7H1673.6V922H1617.9zM1336.5 922H1352.8V925.2H1336.5zM1437.9 922H1532.9V925.2H1437.9zM1624.5 922H1680.1V925.2H1624.5zM1336.5 925.2H1352.8V928.5H1336.5zM1437.9 925.2H1532.9V928.5H1437.9zM1631 925.2H1686.7V928.5H1631zM1336.5 928.5H1349.6V931.8H1336.5zM1437.9 928.5H1532.9V931.8H1437.9zM1637.6 928.5H1689.9V931.8H1637.6zM1951.8 928.5H1961.2V931.8H1951.8zM1336.5 931.8H1349.6V935.1H1336.5zM1437.9 931.8H1536.1V935.1H1437.9zM1644.1 931.8H1696.5V935.1H1644.1zM1912.5 931.8H1961.2V935.1H1912.5zM1336.5 935.1H1349.6V938.3H1336.5zM1441.2 935.1H1536.1V938.3H1441.2zM1650.7 935.1H1703V938.3H1650.7zM1886.3 935.1H1961.2V938.3H1886.3zM1336.5 938.3H1349.6V941.6H1336.5zM1451 938.3H1536.1V941.6H1451zM1657.2 938.3H1709.6V941.6H1657.2zM1886.3 938.3H1961.2V941.6H1886.3zM1336.5 941.6H1352.8V944.9H1336.5zM1460.8 941.6H1536.1V944.9H1460.8zM1670.3 941.6H1716.1V944.9H1670.3zM1886.3 941.6H1961.2V944.9H1886.3zM1336.5 944.9H1352.8V948.2H1336.5zM1470.7 944.9H1536.1V948.2H1470.7zM1683.4 944.9H1716.1V948.2H1683.4zM1886.3 944.9H1961.2V948.2H1886.3zM1336.5 948.2H1352.8V951.4H1336.5zM1480.5 948.2H1526.3V951.4H1480.5zM1693.2 948.2H1709.6V951.4H1693.2zM1886.3 948.2H1961.2V951.4H1886.3zM1336.5 951.4H1352.8V954.7H1336.5zM1500.1 951.4H1516.5V954.7H1500.1zM1886.3 951.4H1961.2V954.7H1886.3zM1336.5 954.7H1352.8V958H1336.5zM1886.3 954.7H1961.2V958H1886.3zM1336.5 958H1352.8V961.3H1336.5zM1886.3 958H1961.2V961.3H1886.3zM1336.5 961.3H1352.8V964.5H1336.5zM1886.3 961.3H1961.2V964.5H1886.3zM1336.5 964.5H1352.8V967.8H1336.5zM1886.3 964.5H1961.2V967.8H1886.3zM1336.5 967.8H1352.8V971.1H1336.5zM1886.3 967.8H1961.2V971.1H1886.3zM1336.5 971.1H1352.8V974.3H1336.5zM1886.3 971.1H1961.2V974.3H1886.3zM1336.5 974.3H1352.8V976.6H1336.5zM1886.3 974.3H1961.2V976.6H1886.3z"/>
<path fill="#fca232" d="M1588.5 732.2H1634.3V735.4H1588.5zM1588.5 735.4H1650.7V738.7H1588.5zM1588.5 738.7H1650.7V742H1588.5zM1588.5 742H1650.7V745.2H1588.5zM1598.3 745.2H1653.9V748.5H1598.3zM1611.4 748.5H1653.9V751.8H1611.4zM1627.8 751.8H1686.7V755.1H1627.8zM1640.9 755.1H1696.5V758.3H1640.9zM1653.9 758.3H1703V761.6H1653.9zM1667 761.6H1709.6V764.9H1667zM1673.6 764.9H1716.1V768.2H1673.6zM1676.9 768.2H1719.4V771.4H1676.9zM1840.5 768.2H1879.8V771.4H1840.5zM1680.1 771.4H1716.1V774.7H1680.1zM1840.5 771.4H1883V774.7H1840.5zM1686.7 774.7H1716.1V778H1686.7zM1840.5 774.7H1883V778H1840.5zM1693.2 778H1712.9V781.2H1693.2zM1840.5 778H1883V781.2H1840.5zM1699.8 781.2H1712.9V784.5H1699.8zM1840.5 781.2H1883V784.5H1840.5zM1689.9 784.5H1709.6V787.8H1689.9zM1840.5 784.5H1883V787.8H1840.5zM1673.6 787.8H1706.3V791.1H1673.6zM1840.5 787.8H1883V791.1H1840.5zM1650.7 791.1H1703V794.3H1650.7zM1840.5 791.1H1886.3V794.3H1840.5zM1588.5 794.3H1617.9V797.6H1588.5zM1624.5 794.3H1699.8V797.6H1624.5zM1840.5 794.3H1886.3V797.6H1840.5zM1588.5 797.6H1696.5V800.9H1588.5zM1840.5 797.6H1886.3V800.9H1840.5zM1601.6 800.9H1693.2V804.2H1601.6zM1840.5 800.9H1886.3V804.2H1840.5zM1611.4 804.2H1689.9V807.4H1611.4zM1840.5 804.2H1886.3V807.4H1840.5zM1676.9 807.4H1686.7V810.7H1676.9zM1915.8 827.1H1938.7V830.3H1915.8zM1892.9 830.3H1938.7V833.6H1892.9zM1892.9 833.6H1938.7V836.9H1892.9zM1892.9 836.9H1938.7V840.2H1892.9zM1892.9 840.2H1938.7V843.4H1892.9zM1892.9 843.4H1942V846.7H1892.9zM1892.9 846.7H1942V850H1892.9zM1653.9 850H1686.7V853.2H1653.9zM1892.9 850H1942V853.2H1892.9zM1653.9 853.2H1686.7V856.5H1653.9zM1892.9 853.2H1942V856.5H1892.9zM1653.9 856.5H1686.7V859.8H1653.9zM1892.9 856.5H1942V859.8H1892.9zM1892.9 859.8H1942V863.1H1892.9zM1444.5 863.1H1473.9V866.3H1444.5zM1719.4 863.1H1824.1V866.3H1719.4zM1892.9 863.1H1942V866.3H1892.9zM1444.5 866.3H1473.9V869.6H1444.5zM1719.4 866.3H1824.1V869.6H1719.4zM1892.9 866.3H1942V869.6H1892.9zM1444.5 869.6H1473.9V872.9H1444.5zM1719.4 869.6H1824.1V872.9H1719.4zM1892.9 869.6H1942V872.9H1892.9zM1444.5 872.9H1473.9V876.2H1444.5zM1719.4 872.9H1752.1V876.2H1719.4zM1817.6 872.9H1824.1V876.2H1817.6zM1892.9 872.9H1942V876.2H1892.9zM1428.1 876.2H1473.9V879.4H1428.1zM1719.4 876.2H1752.1V879.4H1719.4zM1817.6 876.2H1824.1V879.4H1817.6zM1899.4 876.2H1922.3V879.4H1899.4zM1428.1 879.4H1473.9V882.7H1428.1zM1719.4 879.4H1752.1V882.7H1719.4zM1817.6 879.4H1824.1V882.7H1817.6zM1899.4 879.4H1922.3V882.7H1899.4zM1428.1 882.7H1473.9V886H1428.1zM1719.4 882.7H1752.1V886H1719.4zM1817.6 882.7H1824.1V886H1817.6zM1899.4 882.7H1922.3V886H1899.4zM1428.1 886H1473.9V889.2H1428.1zM1719.4 886H1752.1V889.2H1719.4zM1817.6 886H1824.1V889.2H1817.6zM1899.4 886H1922.3V889.2H1899.4zM1428.1 889.2H1473.9V892.5H1428.1zM1719.4 889.2H1752.1V892.5H1719.4zM1817.6 889.2H1824.1V892.5H1817.6zM1899.4 889.2H1922.3V892.5H1899.4zM1428.1 892.5H1473.9V895.8H1428.1zM1719.4 892.5H1824.1V895.8H1719.4zM1899.4 892.5H1922.3V895.8H1899.4zM1762 922H1798V925.2H1762zM1762 925.2H1798V928.5H1762zM1762 928.5H1798V931.8H1762zM1762 931.8H1798V935.1H1762z"/>
<path fill="#f2712b" d="M1588.5 745.2H1598.3V748.5H1588.5zM1588.5 748.5H1611.4V751.8H1588.5zM1588.5 751.8H1591.8V755.1H1588.5zM1604.9 751.8H1627.8V755.1H1604.9zM1588.5 755.1H1591.8V758.3H1588.5zM1617.9 755.1H1640.9V758.3H1617.9zM1588.5 758.3H1591.8V761.6H1588.5zM1634.3 758.3H1653.9V761.6H1634.3zM1588.5 761.6H1591.8V764.9H1588.5zM1650.7 761.6H1667V764.9H1650.7zM1588.5 764.9H1591.8V768.2H1588.5zM1653.9 764.9H1673.6V768.2H1653.9zM1588.5 768.2H1591.8V771.4H1588.5zM1657.2 768.2H1676.9V771.4H1657.2zM1588.5 771.4H1591.8V774.7H1588.5zM1657.2 771.4H1680.1V774.7H1657.2zM1588.5 774.7H1591.8V778H1588.5zM1657.2 774.7H1686.7V778H1657.2zM1588.5 778H1591.8V781.2H1588.5zM1660.5 778H1693.2V781.2H1660.5zM1588.5 781.2H1591.8V784.5H1588.5zM1660.5 781.2H1699.8V784.5H1660.5zM1588.5 784.5H1591.8V787.8H1588.5zM1650.7 784.5H1689.9V787.8H1650.7zM1588.5 787.8H1604.9V791.1H1588.5zM1637.6 787.8H1673.6V791.1H1637.6zM1588.5 791.1H1621.2V794.3H1588.5zM1624.5 791.1H1650.7V794.3H1624.5zM1617.9 794.3H1624.5V797.6H1617.9zM1496.9 840.2H1503.4V843.4H1496.9zM1490.3 843.4H1503.4V846.7H1490.3zM1487 846.7H1503.4V850H1487zM1483.8 850H1503.4V853.2H1483.8zM1483.8 853.2H1503.4V856.5H1483.8zM1483.8 856.5H1503.4V859.8H1483.8zM1483.8 859.8H1503.4V863.1H1483.8zM1483.8 863.1H1503.4V866.3H1483.8zM1483.8 866.3H1503.4V869.6H1483.8zM1483.8 869.6H1503.4V872.9H1483.8zM1483.8 872.9H1503.4V876.2H1483.8zM1752.1 872.9H1817.6V876.2H1752.1zM1483.8 876.2H1503.4V879.4H1483.8zM1752.1 876.2H1817.6V879.4H1752.1zM1483.8 879.4H1503.4V882.7H1483.8zM1752.1 879.4H1768.5V882.7H1752.1zM1791.4 879.4H1817.6V882.7H1791.4zM1483.8 882.7H1503.4V886H1483.8zM1752.1 882.7H1768.5V886H1752.1zM1791.4 882.7H1817.6V886H1791.4zM1483.8 886H1490.3V889.2H1483.8zM1752.1 886H1768.5V889.2H1752.1zM1791.4 886H1817.6V889.2H1791.4zM1752.1 889.2H1817.6V892.5H1752.1zM1614.7 961.3H1621.2V964.5H1614.7zM1614.7 964.5H1621.2V967.8H1614.7zM1614.7 967.8H1621.2V971.1H1614.7zM1614.7 971.1H1621.2V974.3H1614.7zM1614.7 974.3H1621.2V976.6H1614.7z"/>
<path fill="#d92f2a" d="M1591.8 751.8H1604.9V755.1H1591.8zM1591.8 755.1H1617.9V758.3H1591.8zM1591.8 758.3H1634.3V761.6H1591.8zM1591.8 761.6H1598.3V764.9H1591.8zM1621.2 761.6H1650.7V764.9H1621.2zM1591.8 764.9H1598.3V768.2H1591.8zM1631 764.9H1653.9V768.2H1631zM1591.8 768.2H1598.3V771.4H1591.8zM1634.3 768.2H1657.2V771.4H1634.3zM1591.8 771.4H1598.3V774.7H1591.8zM1637.6 771.4H1657.2V774.7H1637.6zM1591.8 774.7H1598.3V778H1591.8zM1640.9 774.7H1657.2V778H1640.9zM1591.8 778H1598.3V781.2H1591.8zM1634.3 778H1660.5V781.2H1634.3zM1591.8 781.2H1608.1V784.5H1591.8zM1627.8 781.2H1660.5V784.5H1627.8zM1591.8 784.5H1650.7V787.8H1591.8zM1604.9 787.8H1637.6V791.1H1604.9zM1621.2 791.1H1624.5V794.3H1621.2zM1768.5 879.4H1791.4V882.7H1768.5zM1768.5 882.7H1791.4V886H1768.5zM1768.5 886H1791.4V889.2H1768.5z"/>
<path fill="#b71f28" d="M1598.3 761.6H1621.2V764.9H1598.3zM1598.3 764.9H1631V768.2H1598.3zM1598.3 768.2H1634.3V771.4H1598.3zM1598.3 771.4H1637.6V774.7H1598.3zM1598.3 774.7H1640.9V778H1598.3zM1598.3 778H1634.3V781.2H1598.3zM1608.1 781.2H1627.8V784.5H1608.1z"/>
<g clip-path="url(#sstclip2)"><g transform="translate(0 640)">
<path fill="#000" d="M1346.2 33.4H1385.6V37.7H1346.2zM1477.3 33.4H1490.4V37.7H1477.3zM1529.8 33.4H1595.3V37.7H1529.8zM1739.5 33.4H1942.7V37.7H1739.5zM1346.2 37.7H1385.6V44.2H1346.2zM1477.3 37.7H1490.4V44.2H1477.3zM1529.8 37.7H1595.3V44.2H1529.8zM1739.5 37.7H1942.7V44.2H1739.5zM1352.8 44.2H1385.6V50.8H1352.8zM1438 44.2H1615V50.8H1438zM1739.5 44.2H1942.7V50.8H1739.5zM1339.7 50.8H1385.6V57.4H1339.7zM1438 50.8H1936.2V57.4H1438zM1339.7 57.4H1936.2V64H1339.7zM1339.7 64H1942.7V70.6H1339.7zM1339.7 70.6H1949.3V77.1H1339.7zM1339.7 77.1H1864.1V83.7H1339.7zM1870.6 77.1H1903.4V83.7H1870.6zM1923.1 77.1H1942.7V83.7H1923.1zM1339.7 83.7H1654.3V90.3H1339.7zM1667.4 83.7H1805.1V90.3H1667.4zM1824.7 83.7H1864.1V90.3H1824.7zM1877.2 83.7H1903.4V90.3H1877.2zM1929.6 83.7H1936.2V90.3H1929.6zM1949.3 83.7H1961.2V90.3H1949.3zM1339.7 90.3H1641.2V96.9H1339.7zM1674 90.3H1805.1V96.9H1674zM1824.7 90.3H1870.6V96.9H1824.7zM1883.7 90.3H1896.9V96.9H1883.7zM1942.7 90.3H1961.2V96.9H1942.7zM1339.7 96.9H1595.3V103.5H1339.7zM1601.9 96.9H1628.1V103.5H1601.9zM1674 96.9H1700.2V103.5H1674zM1726.4 96.9H1877.2V103.5H1726.4zM1936.2 96.9H1961.2V103.5H1936.2zM1339.7 103.5H1595.3V110.1H1339.7zM1601.9 103.5H1628.1V110.1H1601.9zM1680.5 103.5H1693.6V110.1H1680.5zM1733 103.5H1877.2V110.1H1733zM1936.2 103.5H1961.2V110.1H1936.2zM1339.7 110.1H1595.3V116.6H1339.7zM1608.4 110.1H1621.5V116.6H1608.4zM1733 110.1H1870.6V116.6H1733zM1942.7 110.1H1961.2V116.6H1942.7zM1336.4 116.6H1595.3V123.2H1336.4zM1739.5 116.6H1864.1V123.2H1739.5zM1949.3 116.6H1961.2V123.2H1949.3zM1336.4 123.2H1601.9V129.8H1336.4zM1739.5 123.2H1870.6V129.8H1739.5zM1949.3 123.2H1961.2V129.8H1949.3zM1336.4 129.8H1601.9V136.4H1336.4zM1739.5 129.8H1864.1V136.4H1739.5zM1942.7 129.8H1961.2V136.4H1942.7zM1336.4 136.4H1595.3V143H1336.4zM1739.5 136.4H1844.4V143H1739.5zM1942.7 136.4H1961.2V143H1942.7zM1336.4 143H1595.3V149.6H1336.4zM1739.5 143H1844.4V149.6H1739.5zM1942.7 143H1961.2V149.6H1942.7zM1336.4 149.6H1588.8V156.1H1336.4zM1746.1 149.6H1844.4V156.1H1746.1zM1942.7 149.6H1961.2V156.1H1942.7zM1336.4 156.1H1582.2V162.7H1336.4zM1752.6 156.1H1837.9V162.7H1752.6zM1942.7 156.1H1961.2V162.7H1942.7zM1336.4 162.7H1556V169.3H1336.4zM1562.5 162.7H1575.7V169.3H1562.5zM1752.6 162.7H1831.3V169.3H1752.6zM1936.2 162.7H1961.2V169.3H1936.2zM1336.4 169.3H1556V175.9H1336.4zM1759.2 169.3H1805.1V175.9H1759.2zM1824.7 169.3H1837.9V175.9H1824.7zM1929.6 169.3H1961.2V175.9H1929.6zM1336.4 175.9H1556V182.5H1336.4zM1759.2 175.9H1805.1V182.5H1759.2zM1824.7 175.9H1837.9V182.5H1824.7zM1929.6 175.9H1961.2V182.5H1929.6zM1336.4 182.5H1562.5V189H1336.4zM1765.8 182.5H1805.1V189H1765.8zM1824.7 182.5H1851V189H1824.7zM1929.6 182.5H1961.2V189H1929.6zM1336.4 189H1523.2V195.6H1336.4zM1542.9 189H1569.1V195.6H1542.9zM1772.3 189H1857.5V195.6H1772.3zM1929.6 189H1961.2V195.6H1929.6zM1336.4 195.6H1444.6V202.2H1336.4zM1457.7 195.6H1523.2V202.2H1457.7zM1542.9 195.6H1569.1V202.2H1542.9zM1778.9 195.6H1857.5V202.2H1778.9zM1929.6 195.6H1961.2V202.2H1929.6zM1336.4 202.2H1438V208.8H1336.4zM1457.7 202.2H1483.9V208.8H1457.7zM1490.4 202.2H1523.2V208.8H1490.4zM1542.9 202.2H1569.1V208.8H1542.9zM1785.4 202.2H1851V208.8H1785.4zM1929.6 202.2H1961.2V208.8H1929.6zM1336.4 208.8H1438V215.4H1336.4zM1457.7 208.8H1483.9V215.4H1457.7zM1497 208.8H1523.2V215.4H1497zM1542.9 208.8H1569.1V215.4H1542.9zM1792 208.8H1864.1V215.4H1792zM1929.6 208.8H1961.2V215.4H1929.6zM1336.4 215.4H1438V222H1336.4zM1457.7 215.4H1483.9V222H1457.7zM1497 215.4H1523.2V222H1497zM1542.9 215.4H1569.1V222H1542.9zM1805.1 215.4H1870.6V222H1805.1zM1929.6 215.4H1961.2V222H1929.6zM1336.4 222H1431.4V228.5H1336.4zM1464.2 222H1490.4V228.5H1464.2zM1497 222H1523.2V228.5H1497zM1542.9 222H1569.1V228.5H1542.9zM1811.6 222H1877.2V228.5H1811.6zM1936.2 222H1961.2V228.5H1936.2zM1336.4 228.5H1431.4V235.1H1336.4zM1470.8 228.5H1483.9V235.1H1470.8zM1497 228.5H1523.2V235.1H1497zM1542.9 228.5H1549.4V235.1H1542.9zM1556 228.5H1569.1V235.1H1556zM1818.2 228.5H1883.7V235.1H1818.2zM1936.2 228.5H1961.2V235.1H1936.2zM1336.4 235.1H1431.4V241.7H1336.4zM1497 235.1H1549.4V241.7H1497zM1556 235.1H1615V241.7H1556zM1818.2 235.1H1890.3V241.7H1818.2zM1942.7 235.1H1961.2V241.7H1942.7zM1346.2 241.7H1424.9V248.3H1346.2zM1497 241.7H1621.5V248.3H1497zM1818.2 241.7H1896.9V248.3H1818.2zM1346.2 248.3H1418.3V254.9H1346.2zM1497 248.3H1621.5V254.9H1497zM1818.2 248.3H1910V254.9H1818.2zM1346.2 254.9H1411.8V261.5H1346.2zM1497 254.9H1523.2V261.5H1497zM1542.9 254.9H1556V261.5H1542.9zM1575.7 254.9H1621.5V261.5H1575.7zM1811.6 254.9H1916.5V261.5H1811.6zM1346.2 261.5H1411.8V268H1346.2zM1497 261.5H1556V268H1497zM1575.7 261.5H1621.5V268H1575.7zM1818.2 261.5H1916.5V268H1818.2zM1352.8 268H1424.9V274.6H1352.8zM1497 268H1556V274.6H1497zM1575.7 268H1621.5V274.6H1575.7zM1818.2 268H1916.5V274.6H1818.2zM1346.2 274.6H1431.4V281.2H1346.2zM1497 274.6H1621.5V281.2H1497zM1818.2 274.6H1910V281.2H1818.2zM1346.2 281.2H1431.4V287.8H1346.2zM1503.6 281.2H1615V287.8H1503.6zM1824.7 281.2H1910V287.8H1824.7zM1346.2 287.8H1431.4V294.4H1346.2zM1536.3 287.8H1601.9V294.4H1536.3zM1831.3 287.8H1910V294.4H1831.3zM1346.2 294.4H1431.4V301H1346.2zM1529.8 294.4H1608.4V301H1529.8zM1831.3 294.4H1903.4V301H1831.3zM1352.8 301H1431.4V307.5H1352.8zM1523.2 301H1608.4V307.5H1523.2zM1831.3 301H1903.4V307.5H1831.3zM1352.8 307.5H1431.4V314.1H1352.8zM1523.2 307.5H1615V314.1H1523.2zM1831.3 307.5H1896.9V314.1H1831.3zM1352.8 314.1H1405.2V320.7H1352.8zM1411.8 314.1H1424.9V320.7H1411.8zM1529.8 314.1H1615V320.7H1529.8zM1831.3 314.1H1890.3V320.7H1831.3zM1359.3 320.7H1398.7V327.3H1359.3zM1529.8 320.7H1615V327.3H1529.8zM1831.3 320.7H1890.3V327.3H1831.3zM1359.3 327.3H1398.7V333.9H1359.3zM1529.8 327.3H1615V333.9H1529.8zM1634.7 327.3H1647.8V333.9H1634.7zM1831.3 327.3H1883.7V333.9H1831.3zM1359.3 333.9H1392.1V336.6H1359.3zM1529.8 333.9H1608.4V336.6H1529.8zM1628.1 333.9H1654.3V336.6H1628.1zM1831.3 333.9H1883.7V336.6H1831.3z"/>
<path fill="#a9b0aa" stroke="#000" stroke-width="5" stroke-linejoin="round" paint-order="stroke" d="M1336.5 150.5l5-2.5 9 0 3.5-1 1.5 1-0.5 3.5 0.5 5.5 3.5 1.5 3.5 2 2 2.5 5 2 2-1.5 0-3 2.5-2 2.5 0.5 3.5 3 7 1.5 2-1 4 0.5 3-0.5 1.5 5-1 4-1 0.5-1-2-1-3.5 0 1.5 1.5 5.5 1.5 3 2 6.5 2 4 1 8 2 3 1.5 6 3 4 2.5 3.5 1.5 2.5 1.5 3.5 1.5 0 3.5-2 3.5-0.5 4-1 0 3.5-1.5 4-1.5 5-2 5.5-2.5 5-2.5 2.5-3.5 4-2.5 4-3 4-1.5 5.5-1 4 1 5 0.5 5.5 1 2.5 0.5 8-0.5 3.5-2.5 3.5-3.5 3-2.5 3-1.5 2.5 1.5 4 0 6.5-4.5 4-0.5 3-0.5 5-2 2.5-2 4-3 4-2.5 3-2.5 1-4.5 0-1.5 0.5-3.5 1.5-2-1-1-3.5-0.5-2.5-1.5-5.5-1.5-3.5-2-4.5-0.5-5-1-7-1.5-5-2.5-6.5-0.5-4 1-6.5 2-5.5 0.5-4-1.5-4-1-6.5-0.5-2.5-1.5-4-2.5-4-1-4 0.5-5 0.5-4 0-2.5-1.5-3-2.5 0.5-2.5 0-2-3-0.5-2-3.5 0-3 0.5-1.5 1.5-3.5 2-3.5-1-6 2-3-1.5-3.5-5-3.5-4.5-0.5-3.5-3-3-3-4-0.5-5.5 1-5 0.5-6.5-1.5-5.5 2-7 2.5-6 2.5-4 3-2 3-3 0-4 1-4.5 3.5-3 1.5-3 1-2.5 3 2 3.5 0 3.5-2zM1965.5 150.5l5.5-2.5 8.5 0 3.5-1 2 1-1 3.5 1 5.5 3.5 1.5 3.5 2 1.5 2.5 5.5 2 1.5-1.5 0-3 3-2 2.5 0.5 3.5 3 7 1.5 1.5-1 4.5 0.5 3-0.5 1 5-1 4-0.5 0.5-1-2-1.5-3.5 0.5 1.5 1.5 5.5 1 3 2 6.5 2.5 4 1 8 2 3 1.5 6 3 4 2.5 3.5 1.5 2.5 1 3.5 2 0 3.5-2 3.5-0.5 3.5-1 0 3.5-1 4-2 5-1.5 5.5-2.5 5-3 2.5-3.5 4-2.5 4-2.5 4-2 5.5-1 4 1 5 0.5 5.5 1.5 2.5 0 8 0 3.5-2.5 3.5-3.5 3-3 3-1 2.5 1 4 0 6.5-4 4-0.5 3-0.5 5-2 2.5-2.5 4-2.5 4-2.5 3-2.5 1-4.5 0-2 0.5-3.5 1.5-2-1-1-3.5-0.5-2.5-1-5.5-1.5-3.5-2-4.5-1-5-0.5-7-1.5-5-3-6.5 0-4 0.5-6.5 2.5-5.5 0.5-4-1.5-4-1.5-6.5 0-2.5-1.5-4-2.5-4-1-4 0.5-5 0.5-4 0-2.5-2-3-2 0.5-3 0-1.5-3-1-2-3.5 0-2.5 0.5-2 1.5-3.5 2-3.5-1-6 2-2.5-1.5-3.5-5-3.5-4.5-1-3.5-2.5-3-3-4-1-5.5 1.5-5 0.5-6.5-1.5-5.5 1.5-7 3-6 2.5-4 2.5-2 3-3 0.5-4 0.5-4.5 4-3 1-3 1.5-2.5 2.5 2 3.5 0 3.5-2zM1326.5 150l3-1.5 3.5 0 2.5-4 1-1.5-0.5-2 2-4 4-2.5-0.5-3.5 3-0.5 2.5 1 2.5-2 2.5-1.5 2 1.5 1 2.5 1 1.5 1.5 1 1.5 2 2 0.5 3 2.5 0 3 0.5 2.5-1-0.5 1.5-1.5 1-0.5 0.5-4 2 1-0.5-1.5-3.5-2-1.5-1.5-2-1.5-1-2.5-2-2.5 0-2.5 2-1 1.5 1.5 2 3 2.5 2.5 2.5 2 2 1.5 0 4 1.5 2 1 2.5 1 4 1.5 1.5 1-2.5 0.5-2 1.5 0-2-3.5 0-2.5 2-1 3.5 0 0.5 1.5-0.5 2 1 2 1 3.5 1.5 2 3 1 1-1 3.5 1.5 3.5-2 3 0.5-0.5 4.5-0.5 2.5-1 2.5-1 4-0.5 0.5 1.5 5 0.5 4 2 3.5 2 6 1.5 2 1.5 5.5 1.5 4 1.5 5 2 4 1 5.5 1.5 4.5 2.5 0 6-3.5 3-2.5 3.5-1.5 2.5-2.5 3.5-2.5 1.5-2 2.5-2 1.5-4 2-5-2.5-3-3-2-0.5-1.5 0-3.5-1.5 1.5-2.5 4-3.5 0.5-1-1 0-2.5-1-2-1.5 1.5 0-3-1-0.5-2-4.5-1-3.5 1.5-1.5 3 3 2 3.5 2.5 2.5 2 1 3-1 1-0.5 1.5 3.5 3 1 4.5 0.5 3.5 0 5-0.5 1.5 1.5 1.5 3 1 3.5 2.5-1-1.5 1.5-0.5 1 2.5 2.5 3-1 1-1.5 0 4 0.5 3.5 0.5 5 1 4 1.5 7 1.5 4 1.5 5 2 3.5 1-2 2-3.5 1-4 1-4.5-0.5-4.5 2-3 2-2 3-3.5 4-4 1-4 2.5-0.5 2.5-1 3-1 1 4 2.5 5 1 8 2 0.5 4-2 0.5 6.5 1.5 5.5-1 8 0.5 2.5 3 4 0.5 4 1.5 5 4 4.5 1 0-1.5-7 0-4-2-2-3.5-6-1.5-5 0-5.5 1.5-2.5 1.5 2.5 2.5 1 1 3 3 6.5 3.5-5 4-3 0.5-3.5-1-6.5-3.5-5.5-2-4 2-4.5 2-2 3 0 1.5 3-0.5-4 3 0 3.5-1 4.5-2 3.5-4 2-4 1.5-5 2.5-5 0-3.5-2-4-2-5 1.5-4 3.5-2-1.5-1.5-4.5 0.5-0.5-2-2-2 0.5-1 3-2 3-2.5 1.5 1-1.5 4 2-2 3-0.5 2 1-0.5 4.5 2.5 2-0.5 6 2.5 0.5 3-2 0.5-4-2-4.5-1.5-3.5 3.5-2.5 0-2.5 2-1.5 3-2 5.5-2 4.5-7 3.5-5 0.5-5.5 0-5 1.5-2-5-2-2.5 0-3.5-2.5 4.5-4.5 5-4 4.5-3.5 6 0 6-0.5 4.5 1.5 4.5-0.5 3-6 6.5-0.5 5-2-2.5 8-3.5 4-3.5 1-2.5 4-1 8 1.5 5 3-5 2.5-0.5 3.5-8 2-4-2-0.5 2-7 2.5 2 2.5-1.5 7 1 4.5-2.5 8-4 3.5 0.5 1.5-7 5.5-1.5 5 2.5 3 0.5 4-3-1-2.5-6-1.5-5-2.5-5.5-2.5-8.5-2.5-9-0.5-8.5 1-9 0-7-3.5-7 0.5-12-4.5-9 0.5-8.5 2-9 1.5-3.5-4-10.5-1-15.5-2-5.5-8-10.5-2.5-7 4.5-8.5 0-12.5 2.5-2.5 2.5-11.5 3.5 0 4.5-7-2.5-5.5-2 0 4.5 0.5 8-7 3-5-5.5-10.5 0-9 2-8.5 0.5-10.5-1.5-1 6-4.5-0.5-1 5-6 2-4-2-3-5 5.5-1.5 8.5-2-1.5-2-12.5-1.5-5-1.5-9-3-12 2.5-5.5 4.5-5 5.5-2 5.5-6 4-4.5 2.5 0 6.5 3.5 3 2-0.5 3.5-2.5 1.5 0.5 1.5 2.5 1 4.5 1 2-4 2.5-1.5-6.5-2 0-1 4 1 4.5-3 0.5-4 1.5-2 4-3.5 1.5-5 3.5-1 2.5-5 0.5 5 3.5 1.5 3-0.5 6.5-11.5-0.5-2.5 2 1 3.5-1 7.5 1 4.5 4 0 1.5 2.5zM1956 150l2.5-1.5 3.5 0 3-4 1-1.5-1-2 2.5-4 4-2.5-0.5-3.5 2.5-0.5 2.5 1 3-2 2.5-1.5 2 1.5 0.5 2.5 1.5 1.5 1 1 2 2 1.5 0.5 3 2.5 0.5 3 0.5 2.5-1-0.5 1.5-1.5 1-0.5 0-4 2.5 1-1-1.5-3.5-2-1.5-1.5-2-1.5-0.5-2.5-2.5-2.5 0-2.5 2.5-1 1.5 1.5 2 3 2.5 2.5 2.5 2 2 1.5 0 4 1 2 1.5 2.5 1 4 1.5 1.5 1-2.5 0-2 1.5 0-2-3.5 0-2.5 2-1 3.5 0 1 1.5-0.5 2 1 2 0.5 3.5 2 2 2.5 1 1.5-1 3.5 1.5 3.5-2 2.5 0.5 0 4.5-1 2.5-0.5 2.5-1 4-0.5 0.5 1 5 0.5 4 2.5 3.5 1.5 6 2 2 1 5.5 1.5 4 2 5 1.5 4 1.5 5.5 1 4.5 3 0 6-3.5 2.5-2.5 3.5-1.5 2.5-2.5 3.5-2.5 2-2 2-2 2-4 1.5-5-2-3-3-2-0.5-1.5-0.5-3.5-1.5 1.5-2.5 4-3.5 0.5-1-1 0-2.5-0.5-2-1.5 1.5-0.5-3-1-0.5-1.5-4.5-1-3.5 1.5-1.5 2.5 3 2 3.5 3 2.5 1.5 1 3-1 1-0.5 2 3.5 3 1 4.5 0.5 3 0 5.5-0.5 1 1.5 2 3 1 3.5 2.5-1-2 1.5 0 1 2.5 2.5 2.5-1 1-1.5 0.5 4 0 3.5 1 5 0.5 4 1.5 7 2 4 1 5 2 3.5 1.5-2 2-3.5 0.5-4 1-4.5-0.5-4.5 2.5-3 1.5-2 3.5-3.5 4-4 1-4 2.5-0.5 2.5-1 2.5-1 1.5 4 2.5 5 1 8 2 0.5 3.5-2 0.5 6.5 1.5 5.5-0.5 8 0.5 2.5 3 4 0 4 2 5 3.5 4.5 1.5 0-1.5-7 0-4-2.5-2-3-6-1.5-5-0.5-5.5 1.5-2.5 1.5 2.5 3 1 0.5 3 3.5 6.5 3-5 4-3 0.5-3.5-0.5-6.5-4-5.5-1.5-4 1.5-4.5 2.5-2 3 0 1.5 3-0.5-4 3 0 3.5-1 4.5-2 3.5-4 1.5-4 2-5 2-5 0.5-3.5-2-4-2.5-5 2-4 3.5-2-2-1.5-4.5 0.5 0-2-2.5-2 1-1 2.5-2 3-2.5 2 1-2 4 2.5-2 3-0.5 1.5 1-0.5 4.5 3 2-0.5 6 2 0.5 3-2 0.5-4-1.5-4.5-2-3.5 4-2.5 0-2.5 1.5-1.5 3.5-2 5-2 5-7 3.5-5 0.5-5.5 0-5 1-2-4.5-2-3 0-3-2.5 4-4.5 5.5-4 4-3.5 6.5 0 6-0.5 4 1.5 4.5-0.5 3-6 6.5-0.5 5.5-2-2.5 8-3.5 4-3.5 1-3 4-0.5 8 1 5 3-5 3-0.5 3.5-8 2-4-2-0.5 1.5-7 2.5 2 3-1.5 7 1 4-2.5 8-4 3.5 0.5 2-7 5-1.5 5.5 2.5 3 0.5 4-3-1-2.5-6-1.5-5.5-2.5-5-2.5-9-2.5-8.5-0.5-9 1-8.5 0-7-3.5-7 0.5-12.5-4.5-8.5 0.5-9 2-8.5 1.5-3.5-4-10.5-1-16-2-5-8-10.5-2.5-7 4.5-9 0-12 2.5-2.5 2.5-11.5 3.5 0 4.5-7-2.5-5.5-2-0.5 4.5 1 8-7 3-5.5-5.5-10.5 0-8.5 2-9 0.5-10.5-1.5-1 6-4-0.5-1 5-6 2-4-2-3-5 5-1.5 9-2-2-2-12-1.5-5.5-1.5-8.5-3-12.5 2.5-5 4.5-5.5 5.5-1.5 5.5-6 4-4.5 2.5 0 6.5 3 3 2-0.5 3.5-2.5 2 0.5 1.5 2.5 1 4.5 0.5 2-4 2.5-1-6.5-2.5 0-0.5 4 0.5 4.5-2.5 0.5-4 1.5-2 4-3.5 1.5-5.5 3.5-0.5 2.5-5 0.5 4.5 3.5 1.5 3-0.5 6.5-11.5-0.5-2 2 1 3.5-1.5 7.5 1 4.5 4.5 0 1.5 2.5zM1422.5 276.5l2 9.5-1.5 5-2.5 12-2 8-3.5 1-2.5-9 1.5-16 4.5-4zM1672 72.5l6-2.5 2 1 3.5-0.5-4-2-4-3.5 5.5-3 4-3 7-1.5 8 1 7 1.5 12 1.5 10.5 1 9-2 10.5 2 10.5 2 8.5 0.5 9 0.5 7 0.5 10.5 0.5 5-1 2-3 8.5 1.5 7-3 5.5 3.5 0.5 4-7.5 2.5-2.5 3.5-6 3.5-5 5-2 5.5 4 6.5 7 1 6 3.5 5 0.5 0.5 5.5 2.5 4.5 2.5-0.5 0.5-8.5 3.5-4-1.5-6-0.5-6 0.5-4.5 5.5 0.5 6 3.5 2.5 4 3.5 3 4.5-4 1-1.5 4.5 7.5 2.5 5 5 3 3 5 0.5 2.5-5 1-2.5 3-11.5 0-5.5 6-1.5 2 4.5-5.5 6 0.5 0 2.5-2.5 1.5 3.5 3.5 5 1.5-5 3.5-3.5 1-2-2.5-5 3-1.5 3.5 1.5 1.5-3 1-4 2 0 3-3 2.5-0.5 3 0 5-1.5 2-3 2.5-3.5 4-1.5 4.5 1.5 5.5 1 5-1 3.5-1.5 0-1-3.5-1.5-3.5-0.5-3-2-2.5-3-1-3.5-0.5-3 1 0.5 3-2 0-3.5-1.5-3.5 0.5-4.5 4.5-1 6 0 9 1 4 2 4 2.5 2 4.5-1 1.5-1.5 1-5 3.5-1 3 0.5-1.5 4.5-1 5.5 0 4 4 0 3.5 1 1 2-0.5 7.5 0 2.5 3 5.5 3.5-1 3.5 0 1 2-1 3.5-3.5 0-1-2-4.5-1-4.5-4.5 0-3-3.5-4.5-7-3-2.5-4-2.5-1.5-3.5 1-4.5-2-4-3-3.5-2-3.5-4 0-4-1-4-3.5-5.5-2.5-4-2-3-2.5-3.5-2-6-3-1 1 4.5 2.5 4 1.5 5 2.5 6.5 1.5 2.5-1 0.5-3-5-0.5-3-3-3.5-0.5-3-2.5-4-1.5-4-1-3-2.5-3.5-3.5-1.5-2.5-5-1-3.5-2-4.5-1.5-2.5 0.5-4 0.5-10.5-1.5-6-0.5-4.5-4-2.5-1-4-4.5-5.5-1.5-2.5-3-4-4-4-3.5-0.5-4.5-3-7-0.5-4.5-2-2.5 2-3.5 1.5-2.5 0.5 0.5-4-3.5 4.5-1.5 3-4.5 3-4.5 2.5-5 2-4.5 1.5 4.5-3 3.5-2.5 4.5-3 0.5-2.5-5 0-3.5-2-4.5-3-0.5-2.5-2-2.5 2.5-2 6.5-3.5-4.5 0-5.5 0-2.5-2.5zM1830.5 222.5l2.5-2.5 0.5-3 3.5-2 3-2 0.5 3-0.5 2 1.5-1.5 2-4 3.5 5 3.5-0.5 3.5 0 3.5 0.5 1.5 2.5 2 3 3.5 4 5 2.5 3.5 1 2.5 3.5 3 6.5 0 4.5 2.5 2.5 4.5 0.5 2.5 3.5 6 1 4.5 2 5.5 4.5 1 5.5-1 5.5-3 4-3.5 6 0 11-1.5 7-2 5-1.5 2.5-4.5 1-3.5 1.5-3.5 6.5-0.5 5-2 4.5-3 4.5-2.5 4.5-1.5 3.5-2 0.5-3.5-1-2.5-0.5 2.5 4.5-1 5-7.5 2.5-5.5 8-1.5 8-10.5 0-3-13 0-8 3-8 0.5-10.5 2-10.5 0.5-16 0-4.5-2.5-2.5-6.5-5-1.5-5-2-4-2-6.5-2.5-6.5-2.5-2.5 0-4 2-3 0.5-3-1.5-3 1.5-5 2-2 2-4.5 0.5-3.5-0.5-5-0.5-2.5zM1838 39.5l9 5.5 14 0.5 6 4.5 2.5 8 3.5 1.5 2.5 5-3.5 5.5 4.5 6.5 3.5 6 5.5 3 5 2 1-3 2.5-6.5 3.5-5.5 7-2 7-5.5 10.5-3 5-2.5 0-6.5 5.5-4 0-6.5 1.5-8-3.5-5.5-17.5-2.5-52 0-17.5 5zM1923.5 72.5l3.5-2.5 7 0.5 6.5 0 1.5 3.5-1.5 1.5-6.5 2.5-7.5-1zM1326.5 113.5l4.5-1.5 8-2 0.5-4-3-2-1-2.5-2-3-1-5.5-1.5-2.5-3.5 0-2 3 1.5 5 1 2 3 2 0 2-2.5 0 0.5 3-1.5 1 3 1-3.5 1.5zM1955.5 113.5l5-1.5 7.5-2 0.5-4-2.5-2-1-2.5-2-3-1-5.5-1.5-2.5-3.5 0-2 3 1 5 1.5 2 2.5 2 0.5 2-3 0 1 3-2 1 3.5 1-4 1.5zM1955 108l0-4.5 1-4-4.5 0-3.5 3 0 5.5 1 1.5 5.5-2zM1565 155.5l3-4 6 0 1.5-4.5 3-1.5 2.5-4.5 0-4.5 2.5 0 1 6-1.5 4 0 3.5-0.5 2.5-1.5 0.5-2 1-3 0-3.5 2-2-2-3 1-2 1zM1581 135.5l2-0.5 4-0.5 3.5-3.5-0.5-2.5-5.5-3.5-0.5 1-1 5.5-1.5 0.5 0 2zM1563 157.5l2-2 2 2-1 5-2 0.5-0.5-4zM1568 156l2-1.5 2 0.5-1 2.5-2 1zM1584.5 124l2.5-2-0.5-6 2.5 0-2.5-8 0.5-6-2 0-1 6 0.5 6.5 0 5.5zM1546.5 184.5l1 2.5 2-8-0.5-0.5-2.5 4.5zM1526.5 194.5l2-2.5 2 1-1 3.5-1.5 0.5-2-0.5zM1476 224l0.5-5 2.5 5 0.5 2.5-1.5 2.5-2-0.5zM1547 196.5l3 0 0.5 3.5-1.5 4 4 4 0 4-4-3.5-2-1-1-5.5 1-1zM1549.5 224l1 2.5 2.5 2.5 3 1 1.5-3.5-0.5-5.5-1-1.5-1-7.5-2-0.5-1.5 5.5-2 0.5 2.5 4.5zM1541.5 223l2.5-4.5 1.5-3.5-0.5 2-3 5.5zM1527 241l1-1.5 2.5 1 3.5-4 1.5-3.5 3-2 2-4.5 1.5 2.5 3 2-2.5 2.5 0 7.5 2 1.5-2.5 3.5-2 3-0.5 6.5-3 0-2.5-2-2.5 0.5-2.5-1.5-0.5-3.5-1.5-3.5zM1503 230.5l4 1 4.5 7.5 2.5 1.5 3.5 4.5 1.5 4 2.5 4 0 7.5-2.5 0-4-5-2.5-6.5-3-6.5-2-3.5-1.5-4-3-3zM1520.5 263l1.5-2 3.5 0.5 4 1.5 3.5 0 3.5 2.5 0 2.5-3.5-1-4.5-0.5-3.5-1-2.5-1zM1537.5 266.5l7 0.5 3 0 4 0 3.5 0.5 3.5-0.5-3.5 3-2 2-3.5 1-7-4.5-3.5 0zM1545.5 259.5l1.5 0 0-6.5 1.5 4.5 2.5 0.5-1.5-5 2.5-5.5-3 0-1-5.5 6.5-1 0.5 0.5-8.5 2-0.5 4-1 6.5zM1559.5 240.5l2 0.5-1 2.5 1 3-1.5 0.5-1-3.5zM1560 253l5 1-1.5 1.5-3-1zM1565.5 248.5l2-2.5 3.5 1.5 1.5 6 5-4.5 5.5 3 6 3 2.5 3.5 2.5 2.5-0.5 2 1.5 3 3.5 4.5 1.5 1.5-6-0.5-2.5-5-3.5-1.5-1 3.5-2.5 0.5-1.5 0-3.5-2.5-2 0.5 1.5-4-2-4.5-4.5-2-2.5-1-1.5 0.5-1.5-3.5 2.5-1.5-2.5 0zM1595.5 259.5l3-1 2.5-1.5 1.5-0.5-1.5 3-2.5 2zM1534.5 303l1-0.5 5-3.5 7.5-2.5 2-6.5 2.5-1.5 2.5-5.5 3-1.5 2.5 3 2.5-0.5 1-4 1.5-3 2.5 0 0-2 4.5 2 2.5-0.5 0.5 2-1.5 5 2 3.5 4 4 2.5 0 1.5-6.5-0.5-3.5 1-7 1-1 1.5 5 0.5 5 3 1.5 1 6.5 2 4.5 3.5 3.5 2.5 5 4.5 7.5 0.5 7-0.5 7-1 5-2 3.5-1.5 4.5-1 6.5-17.5 0-4-6.5 0.5-3-0.5-3.5-3 4.5-0.5 0-2.5-5-5.5-3.5-9 2-4 4.5-6.5 0-3.5 2.5-3.5 0-1.5-2 1-6.5-1-6-1.5-7.5-1.5-1.5 1-4-0.5-4zM1638.5 335.5l3 2.5 1.5 4.5 1 2-2-1-1.5-3zM1817 187.5l4.5-2.5 4.5-1 4 3.5 3.5 2 2.5 2.5-2.5 0.5-3.5 0-1.5-4-5.5-2-4 1zM1835.5 196.5l3-4 5 0.5 2.5 3-5 2.5-5-1.5zM1829 196.5l3.5 1-1.5 0.5zM1355.5 38.5l10.5 4.5 7-2 10.5-3.5-12-3.5-16 1zM1427.5 56.5l7 2 3.5-5.5 5-7 12.5-3.5-14 1-9 4-3.5 5.5zM1502.5 37l8.5 2.5 9-1-2-4-10.5-3-8.5 3zM1577.5 50l7 1.5 9-4-10.5-2.5-7 1zM1853 79l-4.5 2-5-2-7-4-7 0.5 7-7-5.5-5-7-3-8.5-0.5-6.5-2 8-6.5 9-0.5 7 3 10.5 5.5 5 4 9 5 0.5 1.5zM1789 63.5l-7 1-14 0-8.5-4 1.5-6.5 12.5-1 10.5 0.5 5 6zM1756 56.5l-9-0.5 0-6 9-1 7 2.5zM1826 49l-21 0-2-5.5 19.5 0zM1801.5 55.5l-5.5 5-8.5-6.5 7-2.5 7 0zM1829.5 42.5l-21 0-9-5.5 9-8 43.5 0-8.5 8zM1782 47.5l-12 0-10.5-4 14-4 17.5 3zM1817 74l-5 1 3.5 5.5 7-2.5zM1358 145l5.5-1-0.5 4.5-5-2.5zM1350.5 137l3 0-0.5 5.5-2 0zM1351.5 132.5l1.5-0.5 0 4-1-0.5zM1393 153l3.5-1.5-0.5 2-3 0zM1377.5 152l5 0-0.5 1-4.5-0.5z"/>
<path fill="#000" d="M1385.5 136.5l0.5-6 2-5 2-3 3 1.5 2 4 3.5-1.5 3.5-1.5 1-4 2-0.5-2 2-1 5 3.5 1.5 3.5 6.5-5.5 2-6-3-3.5 0-5 2zM1418.5 133l3 2.5 1 3.5-0.5 5 0.5 2.5 3 2 5-1 0-5-1-3-1-4.5-0.5-2.5-2-1-1.5-3.5 1.5-2.5 3.5 0-0.5-3-3-1.5-3.5 2-3 2-1.5 2.5 1.5 2.5zM1355 101.5l3 0.5 3 1 7.5-2 5-1.5-0.5-4.5 5.5-1.5 0-4.5 7-2 3.5 0.5-5.5-2-7 1.5-1.5-1.5-1-2.5 0-4 6-5-5-2.5-2 3.5-3.5 3.5-2.5 2-1 4 3 2.5 0.5 1.5-4.5 6.5-3.5 2.5-2.5 1.5zM1438 124l6-1.5 0 6.5-4.5 1.5-1.5-4z"/>
<path stroke="#000" stroke-width="2.6" stroke-linecap="round" d="M1693.9 193.7h0.3M1691.2 190.2h0.3M1689.5 188.7h0.3M1686.9 187.1h0.3M1682.5 184.4h0.3M1675.5 181.8h0.3M1665 177.9h0.3M1571.5 225.3h0.3M1577.6 220h0.3M1589.5 209.7h0.3M1591.1 205h0.3M1601.7 225.5h0.3M1612.9 226.8h0.3M1621.3 231h0.3M1628.3 221.3h0.3M1635.3 226.6h0.3M1632.7 216h0.3M1637.1 237.1h0.3M1638.8 241.3h0.3M1610.8 266.1h0.3M1614.3 268.7h0.3M1617 270h0.3M1617.8 271.3h0.3M1628 285.8h0.3M1629.2 288.4h0.3M1630.6 291.6h0.3M1625.7 301.1h0.3M1627.4 302.9h0.3M1647.5 291.9h0.3M1650.2 288.4h0.3M1648.4 293.7h0.3M1652.8 287.1h0.3M1659.4 300.8h0.3M1659.8 294h0.3M1664.5 281.3h0.3M1665.9 282.4h0.3M1704.4 291.3h0.3M1705.2 288.4h0.3M1708.7 284.5h0.3M1710.5 288.4h0.3M1714 289.8h0.3M1719.2 292.4h0.3M1722.7 297.7h0.3M1728 301.6h0.3M1722.4 270.8h0.3M1721 268.7h0.3M1722.7 268.4h0.3M1707.9 286.6h0.3M1701 291.1h0.3M1686.3 300.8h0.3M1689.5 295h0.3M1687.7 294.5h0.3M1682.5 271.3h0.3M1690.4 240h0.3M1687.7 234.5h0.3M1681.8 229.5h0.3M1665.9 254.2h0.3M1658.6 256.8h0.3M1666.8 251.6h0.3M1806.6 246.3h0.3M1805.7 247.1h0.3M1809.2 247.4h0.3M1774.4 316.4h0.3M1738.3 311.1h0.3M1649.6 267.4h0.3M1660.7 297.1h0.3M1498.4 214.5h0.3M1498.6 212.1h0.3M1500.4 225.3h0.3M1464.9 234.5h0.3M1464.4 239.7h0.3M1464.9 246.3h0.3M1463 264.2h0.3M1433.4 257.1h0.3M1437.1 298.4h0.3M1433.4 300.6h0.3M1923.7 204.2h0.3M1922 201.6h0.3M1938.6 170.5h0.3M1941.2 170h0.3M1916.7 143.6h0.3M1921.1 145.5h0.3M1852.4 160h0.3M1830.2 180.5h0.3M1831.1 177.9h0.3M1832.8 183.1h0.3M1858.2 202.3h0.3M1859.1 206.6h0.3M1857.8 210.2h0.3M1661.5 108.1h0.3M1654.5 108.6h0.3M1647.5 108.6h0.3M1640.6 106.8h0.3M1665 105.5h0.3M1668.5 104.1h0.3M1674.6 102.3h0.3M1679 100.2h0.3M1591.6 129.7h0.3M1595.1 126h0.3M1598.6 123.9h0.3M1602.1 119.9h0.3M1606.5 116h0.3M1609.1 112h0.3M1559.8 175.8h0.3M1561 173.1h0.3M1562.8 170.5h0.3M1553.5 180.8h0.3M1585 173.6h0.3M1585 175h0.3M1590.9 207.9h0.3M1591.3 201.6h0.3M1591.3 197.6h0.3"/>
<path d="M1343 142.3L1361.9 142.3M1369.1 141.8L1369.1 162.1M1362.6 152.1L1378.4 152.1M1384.5 151.5L1391.5 151.5M1388 151.5L1388 159.4M1388.8 132.3L1402.8 132.3" stroke="#ffffff" stroke-width="2.4" fill="none"/>
</g></g>
<rect x="1668.6" y="871.8" width="87.3" height="25.8" fill="none" stroke="#000" stroke-width="2"/>
<path d="M1961.2 699.6H1836.4V884.6H1961.2" fill="none" stroke="#000" stroke-width="1.8"/>
<path d="M1336.4 673.4v4M1336.4 976.6v-4M1353.9 673.4v4M1353.9 976.6v-4M1371.4 673.4v4M1371.4 976.6v-4M1388.8 673.4v4M1388.8 976.6v-4M1406.3 673.4v4M1406.3 976.6v-4M1423.8 673.4v4M1423.8 976.6v-4M1441.3 673.4v4M1441.3 976.6v-4M1458.8 673.4v4M1458.8 976.6v-4M1476.2 673.4v4M1476.2 976.6v-4M1493.7 673.4v4M1493.7 976.6v-4M1511.2 673.4v4M1511.2 976.6v-4M1528.7 673.4v4M1528.7 976.6v-4M1546.2 673.4v4M1546.2 976.6v-4M1563.6 673.4v4M1563.6 976.6v-4M1581.1 673.4v4M1581.1 976.6v-4M1598.6 673.4v4M1598.6 976.6v-4M1616.1 673.4v4M1616.1 976.6v-4M1633.6 673.4v4M1633.6 976.6v-4M1651 673.4v4M1651 976.6v-4M1668.5 673.4v4M1668.5 976.6v-4M1686 673.4v4M1686 976.6v-4M1703.5 673.4v4M1703.5 976.6v-4M1721 673.4v4M1721 976.6v-4M1738.4 673.4v4M1738.4 976.6v-4M1755.9 673.4v4M1755.9 976.6v-4M1773.4 673.4v4M1773.4 976.6v-4M1790.9 673.4v4M1790.9 976.6v-4M1808.4 673.4v4M1808.4 976.6v-4M1825.8 673.4v4M1825.8 976.6v-4M1843.3 673.4v4M1843.3 976.6v-4M1860.8 673.4v4M1860.8 976.6v-4M1878.3 673.4v4M1878.3 976.6v-4M1895.8 673.4v4M1895.8 976.6v-4M1913.2 673.4v4M1913.2 976.6v-4M1930.7 673.4v4M1930.7 976.6v-4M1948.2 673.4v4M1948.2 976.6v-4M1336.4 964h6M1961.2 964h-6M1336.4 950.8h6M1961.2 950.8h-6M1336.4 937.7h12M1961.2 937.7h-12M1336.4 924.5h6M1961.2 924.5h-6M1336.4 911.3h6M1961.2 911.3h-6M1336.4 898.2h6M1961.2 898.2h-6M1336.4 885h12M1961.2 885h-12M1336.4 871.8h6M1961.2 871.8h-6M1336.4 858.7h6M1961.2 858.7h-6M1336.4 845.5h6M1961.2 845.5h-6M1336.4 832.3h12M1961.2 832.3h-12M1336.4 819.2h6M1961.2 819.2h-6M1336.4 806h6M1961.2 806h-6M1336.4 792.8h6M1961.2 792.8h-6M1336.4 779.7h12M1961.2 779.7h-12M1336.4 766.5h6M1961.2 766.5h-6M1336.4 753.4h6M1961.2 753.4h-6M1336.4 740.2h6M1961.2 740.2h-6M1336.4 727h12M1961.2 727h-12M1336.4 713.9h6M1961.2 713.9h-6M1336.4 700.7h6M1961.2 700.7h-6M1336.4 687.5h6M1961.2 687.5h-6M1336.4 674.4h12M1961.2 674.4h-12" stroke="#444" stroke-width="1" fill="none"/>
<rect x="1336.4" y="673.4" width="624.8" height="303.2" fill="none" stroke="#444" stroke-width="1.3"/>
<rect x="1345.4" y="682.2" width="45.3" height="43.4" fill="#fff"/>
<text x="1366.9" y="713.8" font-size="22.6" font-weight="bold" text-anchor="middle" fill="#111" stroke="#111" stroke-width="0.55">D3</text>
<text x="1325.6" y="683" font-size="24" text-anchor="end" fill="#111" stroke="#111" stroke-width="0.45">80</text>
<text x="1325.6" y="735.6" font-size="24" text-anchor="end" fill="#111" stroke="#111" stroke-width="0.45">60</text>
<text x="1325.6" y="788.3" font-size="24" text-anchor="end" fill="#111" stroke="#111" stroke-width="0.45">40</text>
<text x="1325.6" y="840.9" font-size="24" text-anchor="end" fill="#111" stroke="#111" stroke-width="0.45">20</text>
<text x="1325.6" y="893.6" font-size="24" text-anchor="end" fill="#111" stroke="#111" stroke-width="0.45">0</text>
<text x="1325.6" y="946.3" font-size="24" text-anchor="end" fill="#111" stroke="#111" stroke-width="0.45">-20</text>
</g>
<g>
<rect x="1336.4" y="993.4" width="624.8" height="303.2" fill="#fdca6c"/>
<path fill="#1f3668" d="M1640.9 1048.9H1670.3V1052.2H1640.9zM1640.9 1052.2H1673.6V1055.4H1640.9zM1640.9 1055.4H1673.6V1058.7H1640.9zM1640.9 1058.7H1676.9V1062H1640.9zM1644.1 1062H1676.9V1065.2H1644.1zM1647.4 1065.2H1680.1V1068.5H1647.4zM1653.9 1068.5H1660.5V1071.8H1653.9z"/>
<path fill="#224b8e" d="M1834 993.4H1961.2V996.5H1834zM1834 996.5H1961.2V999.8H1834zM1834 999.8H1961.2V1003.1H1834zM1834 1003.1H1961.2V1006.3H1834zM1834 1006.3H1961.2V1009.6H1834zM1834 1009.6H1961.2V1012.9H1834zM1834 1012.9H1961.2V1016.2H1834zM1834 1016.2H1961.2V1019.4H1834zM1834 1019.4H1961.2V1022.7H1834zM1834 1022.7H1961.2V1026H1834zM1834 1026H1961.2V1029.2H1834zM1834 1029.2H1961.2V1032.5H1834zM1834 1032.5H1961.2V1035.8H1834zM1834 1035.8H1961.2V1039.1H1834zM1834 1039.1H1961.2V1042.3H1834zM1847 1042.3H1958.3V1045.6H1847zM1847 1045.6H1958.3V1048.9H1847zM1847 1048.9H1958.3V1052.2H1847zM1847 1052.2H1958.3V1055.4H1847zM1850.3 1055.4H1879.8V1058.7H1850.3zM1856.9 1058.7H1879.8V1062H1856.9zM1860.1 1062H1879.8V1065.2H1860.1zM1863.4 1065.2H1879.8V1068.5H1863.4zM1866.7 1068.5H1879.8V1071.8H1866.7zM1873.2 1071.8H1879.8V1075.1H1873.2zM1912.5 1071.8H1915.8V1075.1H1912.5zM1876.5 1075.1H1879.8V1078.3H1876.5z"/>
<path fill="#2b66ae" d="M1621.2 1048.9H1640.9V1052.2H1621.2zM1670.3 1048.9H1693.2V1052.2H1670.3zM1621.2 1052.2H1640.9V1055.4H1621.2zM1673.6 1052.2H1693.2V1055.4H1673.6zM1621.2 1055.4H1640.9V1058.7H1621.2zM1673.6 1055.4H1696.5V1058.7H1673.6zM1621.2 1058.7H1640.9V1062H1621.2zM1676.9 1058.7H1696.5V1062H1676.9zM1621.2 1062H1644.1V1065.2H1621.2zM1676.9 1062H1696.5V1065.2H1676.9zM1621.2 1065.2H1647.4V1068.5H1621.2zM1680.1 1065.2H1696.5V1068.5H1680.1zM1631 1068.5H1653.9V1071.8H1631zM1660.5 1068.5H1699.8V1071.8H1660.5zM1640.9 1071.8H1699.8V1075.1H1640.9zM1650.7 1075.1H1663.8V1078.3H1650.7z"/>
<path fill="#4486c6" d="M1729.2 1094.7H1739V1098H1729.2zM1729.2 1098H1739V1101.2H1729.2zM1729.2 1101.2H1739V1104.5H1729.2zM1729.2 1104.5H1739V1107.8H1729.2z"/>
<path fill="#84c4eb" d="M1604.9 993.4H1745.6V996.5H1604.9zM1604.9 996.5H1745.6V999.8H1604.9zM1604.9 999.8H1745.6V1003.1H1604.9zM1604.9 1003.1H1621.2V1006.3H1604.9zM1653.9 1003.1H1745.6V1006.3H1653.9zM1604.9 1006.3H1621.2V1009.6H1604.9zM1653.9 1006.3H1745.6V1009.6H1653.9zM1604.9 1009.6H1745.6V1012.9H1604.9zM1336.5 1022.7H1343V1026H1336.5zM1336.5 1026H1343V1029.2H1336.5zM1336.5 1029.2H1343V1032.5H1336.5zM1879.8 1055.4H1902.7V1058.7H1879.8zM1879.8 1058.7H1906V1062H1879.8zM1879.8 1062H1906V1065.2H1879.8zM1879.8 1065.2H1909.2V1068.5H1879.8zM1879.8 1068.5H1912.5V1071.8H1879.8zM1706.3 1071.8H1729.2V1075.1H1706.3zM1879.8 1071.8H1912.5V1075.1H1879.8zM1706.3 1075.1H1739V1078.3H1706.3zM1879.8 1075.1H1912.5V1078.3H1879.8zM1706.3 1078.3H1739V1081.6H1706.3zM1879.8 1078.3H1912.5V1081.6H1879.8zM1706.3 1081.6H1739V1084.9H1706.3zM1706.3 1084.9H1739V1088.2H1706.3zM1706.3 1088.2H1739V1091.4H1706.3zM1706.3 1091.4H1739V1094.7H1706.3zM1706.3 1094.7H1729.2V1098H1706.3zM1706.3 1098H1729.2V1101.2H1706.3zM1706.3 1101.2H1729.2V1104.5H1706.3zM1739 1101.2H1742.3V1104.5H1739zM1709.6 1104.5H1729.2V1107.8H1709.6zM1739 1104.5H1742.3V1107.8H1739zM1712.9 1107.8H1742.3V1111.1H1712.9zM1712.9 1111.1H1742.3V1114.3H1712.9zM1716.1 1114.3H1732.5V1117.6H1716.1z"/>
<path fill="#ffffff" d="M1369.2 993.4H1379V996.5H1369.2zM1421.6 993.4H1441.2V996.5H1421.6zM1369.2 996.5H1379V999.8H1369.2zM1421.6 996.5H1441.2V999.8H1421.6zM1369.2 999.8H1379V1003.1H1369.2zM1421.6 999.8H1441.2V1003.1H1421.6zM1369.2 1003.1H1379V1006.3H1369.2zM1621.2 1003.1H1653.9V1006.3H1621.2zM1621.2 1006.3H1653.9V1009.6H1621.2zM1588.5 1048.9H1621.2V1052.2H1588.5zM1693.2 1048.9H1739V1052.2H1693.2zM1588.5 1052.2H1621.2V1055.4H1588.5zM1693.2 1052.2H1739V1055.4H1693.2zM1588.5 1055.4H1621.2V1058.7H1588.5zM1696.5 1055.4H1742.3V1058.7H1696.5zM1902.7 1055.4H1958.3V1058.7H1902.7zM1588.5 1058.7H1621.2V1062H1588.5zM1696.5 1058.7H1742.3V1062H1696.5zM1906 1058.7H1958.3V1062H1906zM1588.5 1062H1621.2V1065.2H1588.5zM1696.5 1062H1742.3V1065.2H1696.5zM1906 1062H1958.3V1065.2H1906zM1588.5 1065.2H1621.2V1068.5H1588.5zM1696.5 1065.2H1745.6V1068.5H1696.5zM1909.2 1065.2H1958.3V1068.5H1909.2zM1588.5 1068.5H1631V1071.8H1588.5zM1699.8 1068.5H1745.6V1071.8H1699.8zM1912.5 1068.5H1958.3V1071.8H1912.5zM1588.5 1071.8H1640.9V1075.1H1588.5zM1699.8 1071.8H1706.3V1075.1H1699.8zM1729.2 1071.8H1745.6V1075.1H1729.2zM1915.8 1071.8H1958.3V1075.1H1915.8zM1601.6 1075.1H1650.7V1078.3H1601.6zM1663.8 1075.1H1706.3V1078.3H1663.8zM1739 1075.1H1748.9V1078.3H1739zM1915.8 1075.1H1958.3V1078.3H1915.8zM1621.2 1078.3H1706.3V1081.6H1621.2zM1739 1078.3H1748.9V1081.6H1739zM1919 1078.3H1958.3V1081.6H1919zM1670.3 1081.6H1706.3V1084.9H1670.3zM1739 1081.6H1748.9V1084.9H1739zM1919 1081.6H1958.3V1084.9H1919zM1680.1 1084.9H1706.3V1088.2H1680.1zM1739 1084.9H1752.1V1088.2H1739zM1922.3 1084.9H1958.3V1088.2H1922.3zM1680.1 1088.2H1706.3V1091.4H1680.1zM1739 1088.2H1752.1V1091.4H1739zM1922.3 1088.2H1958.3V1091.4H1922.3zM1680.1 1091.4H1706.3V1094.7H1680.1zM1739 1091.4H1752.1V1094.7H1739zM1922.3 1091.4H1958.3V1094.7H1922.3zM1683.4 1094.7H1706.3V1098H1683.4zM1739 1094.7H1752.1V1098H1739zM1925.6 1094.7H1958.3V1098H1925.6zM1683.4 1098H1706.3V1101.2H1683.4zM1739 1098H1752.1V1101.2H1739zM1925.6 1098H1958.3V1101.2H1925.6zM1683.4 1101.2H1706.3V1104.5H1683.4zM1742.3 1101.2H1752.1V1104.5H1742.3zM1925.6 1101.2H1958.3V1104.5H1925.6zM1683.4 1104.5H1709.6V1107.8H1683.4zM1742.3 1104.5H1752.1V1107.8H1742.3zM1925.6 1104.5H1958.3V1107.8H1925.6zM1683.4 1107.8H1712.9V1111.1H1683.4zM1742.3 1107.8H1752.1V1111.1H1742.3zM1928.9 1107.8H1958.3V1111.1H1928.9zM1686.7 1111.1H1712.9V1114.3H1686.7zM1742.3 1111.1H1752.1V1114.3H1742.3zM1932.1 1111.1H1958.3V1114.3H1932.1zM1686.7 1114.3H1716.1V1117.6H1686.7zM1732.5 1114.3H1752.1V1117.6H1732.5zM1932.1 1114.3H1958.3V1117.6H1932.1zM1686.7 1117.6H1752.1V1120.9H1686.7zM1932.1 1117.6H1958.3V1120.9H1932.1zM1686.7 1120.9H1755.4V1124.2H1686.7zM1932.1 1120.9H1958.3V1124.2H1932.1zM1686.7 1124.2H1755.4V1127.4H1686.7zM1935.4 1124.2H1958.3V1127.4H1935.4zM1686.7 1127.4H1755.4V1130.7H1686.7zM1689.9 1130.7H1755.4V1134H1689.9zM1689.9 1134H1735.8V1137.2H1689.9zM1444.5 1242H1477.2V1245.2H1444.5zM1503.4 1242H1509.9V1245.2H1503.4zM1640.9 1242H1647.4V1245.2H1640.9zM1444.5 1245.2H1480.5V1248.5H1444.5zM1500.1 1245.2H1532.9V1248.5H1500.1zM1640.9 1245.2H1670.3V1248.5H1640.9zM1444.5 1248.5H1483.8V1251.8H1444.5zM1503.4 1248.5H1536.1V1251.8H1503.4zM1640.9 1248.5H1689.9V1251.8H1640.9zM1444.5 1251.8H1490.3V1255.1H1444.5zM1503.4 1251.8H1536.1V1255.1H1503.4zM1640.9 1251.8H1696.5V1255.1H1640.9zM1447.8 1255.1H1496.9V1258.3H1447.8zM1506.7 1255.1H1536.1V1258.3H1506.7zM1647.4 1255.1H1703V1258.3H1647.4zM1464.1 1258.3H1500.1V1261.6H1464.1zM1506.7 1258.3H1536.1V1261.6H1506.7zM1650.7 1258.3H1709.6V1261.6H1650.7zM1470.7 1261.6H1506.7V1264.9H1470.7zM1509.9 1261.6H1536.1V1264.9H1509.9zM1660.5 1261.6H1719.4V1264.9H1660.5zM1473.9 1264.9H1536.1V1268.2H1473.9zM1676.9 1264.9H1725.9V1268.2H1676.9zM1480.5 1268.2H1536.1V1271.4H1480.5zM1693.2 1268.2H1732.5V1271.4H1693.2zM1487 1271.4H1523V1274.7H1487zM1709.6 1271.4H1732.5V1274.7H1709.6zM1490.3 1274.7H1529.6V1278H1490.3zM1886.3 1274.7H1899.4V1278H1886.3zM1496.9 1278H1532.9V1281.3H1496.9zM1886.3 1278H1899.4V1281.3H1886.3zM1503.4 1281.3H1532.9V1284.5H1503.4zM1886.3 1281.3H1899.4V1284.5H1886.3zM1506.7 1284.5H1532.9V1287.8H1506.7zM1886.3 1284.5H1899.4V1287.8H1886.3zM1513.2 1287.8H1532.9V1291.1H1513.2zM1886.3 1287.8H1899.4V1291.1H1886.3zM1519.8 1291.1H1532.9V1294.3H1519.8zM1886.3 1291.1H1899.4V1294.3H1886.3zM1886.3 1294.3H1899.4V1296.6H1886.3z"/>
<path fill="#fca232" d="M1336.5 993.4H1369.2V996.5H1336.5zM1336.5 996.5H1369.2V999.8H1336.5zM1336.5 999.8H1369.2V1003.1H1336.5zM1336.5 1003.1H1369.2V1006.3H1336.5zM1336.5 1006.3H1379V1009.6H1336.5zM1336.5 1009.6H1343V1012.9H1336.5zM1336.5 1012.9H1343V1016.2H1336.5zM1336.5 1016.2H1343V1019.4H1336.5zM1336.5 1019.4H1343V1022.7H1336.5zM1336.5 1032.5H1343V1035.8H1336.5zM1336.5 1035.8H1343V1039.1H1336.5zM1336.5 1039.1H1343V1042.3H1336.5zM1336.5 1042.3H1343V1045.6H1336.5zM1336.5 1045.6H1343V1048.9H1336.5zM1336.5 1048.9H1343V1052.2H1336.5zM1336.5 1052.2H1343V1055.4H1336.5zM1336.5 1055.4H1343V1058.7H1336.5zM1336.5 1058.7H1343V1062H1336.5zM1336.5 1062H1343V1065.2H1336.5zM1336.5 1065.2H1343V1068.5H1336.5zM1336.5 1068.5H1343V1071.8H1336.5zM1840.5 1111.1H1932.1V1114.3H1840.5zM1840.5 1114.3H1932.1V1117.6H1840.5zM1840.5 1117.6H1932.1V1120.9H1840.5zM1840.5 1120.9H1932.1V1124.2H1840.5zM1840.5 1124.2H1935.4V1127.4H1840.5zM1555.8 1127.4H1598.3V1130.7H1555.8zM1840.5 1127.4H1853.6V1130.7H1840.5zM1879.8 1127.4H1935.4V1130.7H1879.8zM1555.8 1130.7H1644.1V1134H1555.8zM1840.5 1130.7H1853.6V1134H1840.5zM1879.8 1130.7H1935.4V1134H1879.8zM1555.8 1134H1689.9V1137.2H1555.8zM1840.5 1134H1853.6V1137.2H1840.5zM1879.8 1134H1935.4V1137.2H1879.8zM1555.8 1137.2H1758.7V1140.5H1555.8zM1840.5 1137.2H1853.6V1140.5H1840.5zM1879.8 1137.2H1935.4V1140.5H1879.8zM1555.8 1140.5H1765.2V1143.8H1555.8zM1840.5 1140.5H1853.6V1143.8H1840.5zM1879.8 1140.5H1935.4V1143.8H1879.8zM1555.8 1143.8H1771.8V1147.1H1555.8zM1840.5 1143.8H1935.4V1147.1H1840.5zM1555.8 1147.1H1778.3V1150.3H1555.8zM1840.5 1147.1H1935.4V1150.3H1840.5zM1555.8 1150.3H1784.9V1153.6H1555.8zM1840.5 1150.3H1935.4V1153.6H1840.5zM1408.5 1153.6H1483.8V1156.9H1408.5zM1503.4 1153.6H1529.6V1156.9H1503.4zM1555.8 1153.6H1657.2V1156.9H1555.8zM1752.1 1153.6H1791.4V1156.9H1752.1zM1840.5 1153.6H1935.4V1156.9H1840.5zM1408.5 1156.9H1483.8V1160.2H1408.5zM1503.4 1156.9H1529.6V1160.2H1503.4zM1555.8 1156.9H1660.5V1160.2H1555.8zM1748.9 1156.9H1798V1160.2H1748.9zM1840.5 1156.9H1935.4V1160.2H1840.5zM1408.5 1160.2H1483.8V1163.4H1408.5zM1503.4 1160.2H1532.9V1163.4H1503.4zM1555.8 1160.2H1663.8V1163.4H1555.8zM1748.9 1160.2H1804.5V1163.4H1748.9zM1840.5 1160.2H1935.4V1163.4H1840.5zM1408.5 1163.4H1483.8V1166.7H1408.5zM1503.4 1163.4H1532.9V1166.7H1503.4zM1555.8 1163.4H1663.8V1166.7H1555.8zM1748.9 1163.4H1811V1166.7H1748.9zM1840.5 1163.4H1935.4V1166.7H1840.5zM1408.5 1166.7H1483.8V1170H1408.5zM1503.4 1166.7H1532.9V1170H1503.4zM1555.8 1166.7H1667V1170H1555.8zM1745.6 1166.7H1817.6V1170H1745.6zM1840.5 1166.7H1938.7V1170H1840.5zM1408.5 1170H1483.8V1173.2H1408.5zM1503.4 1170H1532.9V1173.2H1503.4zM1555.8 1170H1608.1V1173.2H1555.8zM1640.9 1170H1824.1V1173.2H1640.9zM1840.5 1170H1938.7V1173.2H1840.5zM1408.5 1173.2H1483.8V1176.5H1408.5zM1503.4 1173.2H1532.9V1176.5H1503.4zM1555.8 1173.2H1608.1V1176.5H1555.8zM1640.9 1173.2H1824.1V1176.5H1640.9zM1840.5 1173.2H1938.7V1176.5H1840.5zM1408.5 1176.5H1483.8V1179.8H1408.5zM1503.4 1176.5H1532.9V1179.8H1503.4zM1555.8 1176.5H1608.1V1179.8H1555.8zM1640.9 1176.5H1824.1V1179.8H1640.9zM1840.5 1176.5H1928.9V1179.8H1840.5zM1408.5 1179.8H1483.8V1183.1H1408.5zM1503.4 1179.8H1532.9V1183.1H1503.4zM1555.8 1179.8H1608.1V1183.1H1555.8zM1640.9 1179.8H1824.1V1183.1H1640.9zM1840.5 1179.8H1928.9V1183.1H1840.5zM1408.5 1183.1H1483.8V1186.3H1408.5zM1503.4 1183.1H1532.9V1186.3H1503.4zM1555.8 1183.1H1608.1V1186.3H1555.8zM1640.9 1183.1H1653.9V1186.3H1640.9zM1729.2 1183.1H1824.1V1186.3H1729.2zM1840.5 1183.1H1928.9V1186.3H1840.5zM1408.5 1186.3H1483.8V1189.6H1408.5zM1503.4 1186.3H1532.9V1189.6H1503.4zM1559 1186.3H1608.1V1189.6H1559zM1640.9 1186.3H1653.9V1189.6H1640.9zM1729.2 1186.3H1824.1V1189.6H1729.2zM1840.5 1186.3H1928.9V1189.6H1840.5zM1408.5 1189.6H1483.8V1192.9H1408.5zM1503.4 1189.6H1532.9V1192.9H1503.4zM1559 1189.6H1653.9V1192.9H1559zM1840.5 1189.6H1928.9V1192.9H1840.5zM1408.5 1192.9H1483.8V1196.2H1408.5zM1503.4 1192.9H1532.9V1196.2H1503.4zM1562.3 1192.9H1653.9V1196.2H1562.3zM1840.5 1192.9H1928.9V1196.2H1840.5zM1346.3 1196.2H1356.1V1199.4H1346.3zM1408.5 1196.2H1428.1V1199.4H1408.5zM1447.8 1196.2H1483.8V1199.4H1447.8zM1503.4 1196.2H1532.9V1199.4H1503.4zM1562.3 1196.2H1653.9V1199.4H1562.3zM1346.3 1199.4H1356.1V1202.7H1346.3zM1408.5 1199.4H1428.1V1202.7H1408.5zM1447.8 1199.4H1532.9V1202.7H1447.8zM1562.3 1199.4H1653.9V1202.7H1562.3zM1346.3 1202.7H1356.1V1206H1346.3zM1408.5 1202.7H1428.1V1206H1408.5zM1447.8 1202.7H1532.9V1206H1447.8zM1565.6 1202.7H1653.9V1206H1565.6zM1879.8 1202.7H1961.2V1206H1879.8zM1346.3 1206H1356.1V1209.2H1346.3zM1408.5 1206H1428.1V1209.2H1408.5zM1447.8 1206H1532.9V1209.2H1447.8zM1565.6 1206H1653.9V1209.2H1565.6zM1879.8 1206H1961.2V1209.2H1879.8zM1346.3 1209.2H1356.1V1212.5H1346.3zM1408.5 1209.2H1428.1V1212.5H1408.5zM1447.8 1209.2H1532.9V1212.5H1447.8zM1568.9 1209.2H1653.9V1212.5H1568.9zM1879.8 1209.2H1961.2V1212.5H1879.8zM1346.3 1212.5H1356.1V1215.8H1346.3zM1408.5 1212.5H1428.1V1215.8H1408.5zM1447.8 1212.5H1532.9V1215.8H1447.8zM1568.9 1212.5H1653.9V1215.8H1568.9zM1879.8 1212.5H1961.2V1215.8H1879.8zM1336.5 1215.8H1356.1V1219.1H1336.5zM1408.5 1215.8H1532.9V1219.1H1408.5zM1568.9 1215.8H1824.1V1219.1H1568.9zM1879.8 1215.8H1899.4V1219.1H1879.8zM1925.6 1215.8H1961.2V1219.1H1925.6zM1336.5 1219.1H1356.1V1222.3H1336.5zM1408.5 1219.1H1532.9V1222.3H1408.5zM1572.1 1219.1H1824.1V1222.3H1572.1zM1879.8 1219.1H1899.4V1222.3H1879.8zM1925.6 1219.1H1961.2V1222.3H1925.6zM1336.5 1222.3H1356.1V1225.6H1336.5zM1408.5 1222.3H1454.3V1225.6H1408.5zM1480.5 1222.3H1532.9V1225.6H1480.5zM1572.1 1222.3H1703V1225.6H1572.1zM1801.2 1222.3H1824.1V1225.6H1801.2zM1879.8 1222.3H1899.4V1225.6H1879.8zM1925.6 1222.3H1961.2V1225.6H1925.6zM1336.5 1225.6H1356.1V1228.9H1336.5zM1408.5 1225.6H1454.3V1228.9H1408.5zM1480.5 1225.6H1532.9V1228.9H1480.5zM1575.4 1225.6H1706.3V1228.9H1575.4zM1801.2 1225.6H1824.1V1228.9H1801.2zM1879.8 1225.6H1899.4V1228.9H1879.8zM1925.6 1225.6H1961.2V1228.9H1925.6zM1336.5 1228.9H1356.1V1232.2H1336.5zM1408.5 1228.9H1454.3V1232.2H1408.5zM1480.5 1228.9H1532.9V1232.2H1480.5zM1575.4 1228.9H1706.3V1232.2H1575.4zM1804.5 1228.9H1824.1V1232.2H1804.5zM1879.8 1228.9H1899.4V1232.2H1879.8zM1925.6 1228.9H1961.2V1232.2H1925.6zM1336.5 1232.2H1356.1V1235.4H1336.5zM1408.5 1232.2H1454.3V1235.4H1408.5zM1480.5 1232.2H1536.1V1235.4H1480.5zM1575.4 1232.2H1709.6V1235.4H1575.4zM1807.8 1232.2H1824.1V1235.4H1807.8zM1879.8 1232.2H1899.4V1235.4H1879.8zM1925.6 1232.2H1961.2V1235.4H1925.6zM1349.6 1235.4H1356.1V1238.7H1349.6zM1408.5 1235.4H1536.1V1238.7H1408.5zM1578.7 1235.4H1712.9V1238.7H1578.7zM1807.8 1235.4H1824.1V1238.7H1807.8zM1879.8 1235.4H1899.4V1238.7H1879.8zM1925.6 1235.4H1961.2V1238.7H1925.6zM1349.6 1238.7H1356.1V1242H1349.6zM1408.5 1238.7H1536.1V1242H1408.5zM1578.7 1238.7H1712.9V1242H1578.7zM1811 1238.7H1824.1V1242H1811zM1879.8 1238.7H1899.4V1242H1879.8zM1925.6 1238.7H1961.2V1242H1925.6zM1349.6 1242H1356.1V1245.2H1349.6zM1408.5 1242H1444.5V1245.2H1408.5zM1477.2 1242H1503.4V1245.2H1477.2zM1509.9 1242H1536.1V1245.2H1509.9zM1581.9 1242H1640.9V1245.2H1581.9zM1647.4 1242H1716.1V1245.2H1647.4zM1811 1242H1824.1V1245.2H1811zM1879.8 1242H1961.2V1245.2H1879.8zM1349.6 1245.2H1356.1V1248.5H1349.6zM1408.5 1245.2H1444.5V1248.5H1408.5zM1480.5 1245.2H1500.1V1248.5H1480.5zM1532.9 1245.2H1536.1V1248.5H1532.9zM1581.9 1245.2H1640.9V1248.5H1581.9zM1670.3 1245.2H1716.1V1248.5H1670.3zM1814.3 1245.2H1824.1V1248.5H1814.3zM1879.8 1245.2H1961.2V1248.5H1879.8zM1349.6 1248.5H1356.1V1251.8H1349.6zM1408.5 1248.5H1424.8V1251.8H1408.5zM1428.1 1248.5H1444.5V1251.8H1428.1zM1483.8 1248.5H1503.4V1251.8H1483.8zM1581.9 1248.5H1640.9V1251.8H1581.9zM1689.9 1248.5H1824.1V1251.8H1689.9zM1879.8 1248.5H1961.2V1251.8H1879.8zM1349.6 1251.8H1356.1V1255.1H1349.6zM1408.5 1251.8H1415V1255.1H1408.5zM1431.4 1251.8H1444.5V1255.1H1431.4zM1490.3 1251.8H1503.4V1255.1H1490.3zM1585.2 1251.8H1640.9V1255.1H1585.2zM1696.5 1251.8H1824.1V1255.1H1696.5zM1879.8 1251.8H1961.2V1255.1H1879.8zM1349.6 1255.1H1356.1V1258.3H1349.6zM1434.7 1255.1H1447.8V1258.3H1434.7zM1500.1 1255.1H1506.7V1258.3H1500.1zM1588.5 1255.1H1647.4V1258.3H1588.5zM1703 1255.1H1824.1V1258.3H1703zM1879.8 1255.1H1961.2V1258.3H1879.8zM1349.6 1258.3H1356.1V1261.6H1349.6zM1441.2 1258.3H1464.1V1261.6H1441.2zM1500.1 1258.3H1506.7V1261.6H1500.1zM1588.5 1258.3H1650.7V1261.6H1588.5zM1709.6 1258.3H1824.1V1261.6H1709.6zM1879.8 1258.3H1961.2V1261.6H1879.8zM1336.5 1261.6H1356.1V1264.9H1336.5zM1444.5 1261.6H1470.7V1264.9H1444.5zM1506.7 1261.6H1509.9V1264.9H1506.7zM1591.8 1261.6H1660.5V1264.9H1591.8zM1719.4 1261.6H1824.1V1264.9H1719.4zM1879.8 1261.6H1961.2V1264.9H1879.8zM1336.5 1264.9H1356.1V1268.2H1336.5zM1447.8 1264.9H1473.9V1268.2H1447.8zM1591.8 1264.9H1676.9V1268.2H1591.8zM1725.9 1264.9H1824.1V1268.2H1725.9zM1879.8 1264.9H1961.2V1268.2H1879.8zM1336.5 1268.2H1356.1V1271.4H1336.5zM1451 1268.2H1480.5V1271.4H1451zM1595 1268.2H1693.2V1271.4H1595zM1732.5 1268.2H1824.1V1271.4H1732.5zM1879.8 1268.2H1961.2V1271.4H1879.8zM1336.5 1271.4H1356.1V1274.7H1336.5zM1454.3 1271.4H1487V1274.7H1454.3zM1523 1271.4H1536.1V1274.7H1523zM1595 1271.4H1709.6V1274.7H1595zM1732.5 1271.4H1824.1V1274.7H1732.5zM1879.8 1271.4H1961.2V1274.7H1879.8zM1336.5 1274.7H1356.1V1278H1336.5zM1460.8 1274.7H1490.3V1278H1460.8zM1529.6 1274.7H1536.1V1278H1529.6zM1598.3 1274.7H1824.1V1278H1598.3zM1879.8 1274.7H1886.3V1278H1879.8zM1899.4 1274.7H1961.2V1278H1899.4zM1336.5 1278H1356.1V1281.3H1336.5zM1464.1 1278H1493.6V1281.3H1464.1zM1532.9 1278H1536.1V1281.3H1532.9zM1598.3 1278H1824.1V1281.3H1598.3zM1879.8 1278H1886.3V1281.3H1879.8zM1899.4 1278H1961.2V1281.3H1899.4zM1336.5 1281.3H1356.1V1284.5H1336.5zM1467.4 1281.3H1496.9V1284.5H1467.4zM1532.9 1281.3H1536.1V1284.5H1532.9zM1601.6 1281.3H1824.1V1284.5H1601.6zM1879.8 1281.3H1886.3V1284.5H1879.8zM1899.4 1281.3H1961.2V1284.5H1899.4zM1336.5 1284.5H1356.1V1287.8H1336.5zM1470.7 1284.5H1500.1V1287.8H1470.7zM1532.9 1284.5H1536.1V1287.8H1532.9zM1601.6 1284.5H1824.1V1287.8H1601.6zM1879.8 1284.5H1886.3V1287.8H1879.8zM1899.4 1284.5H1961.2V1287.8H1899.4zM1336.5 1287.8H1356.1V1291.1H1336.5zM1470.7 1287.8H1500.1V1291.1H1470.7zM1532.9 1287.8H1536.1V1291.1H1532.9zM1604.9 1287.8H1824.1V1291.1H1604.9zM1879.8 1287.8H1886.3V1291.1H1879.8zM1899.4 1287.8H1961.2V1291.1H1899.4zM1336.5 1291.1H1356.1V1294.3H1336.5zM1473.9 1291.1H1503.4V1294.3H1473.9zM1532.9 1291.1H1536.1V1294.3H1532.9zM1608.1 1291.1H1824.1V1294.3H1608.1zM1879.8 1291.1H1886.3V1294.3H1879.8zM1899.4 1291.1H1961.2V1294.3H1899.4zM1336.5 1294.3H1356.1V1296.6H1336.5zM1408.5 1294.3H1536.1V1296.6H1408.5zM1608.1 1294.3H1824.1V1296.6H1608.1zM1879.8 1294.3H1886.3V1296.6H1879.8zM1899.4 1294.3H1961.2V1296.6H1899.4z"/>
<path fill="#f2712b" d="M1379 993.4H1421.6V996.5H1379zM1441.2 993.4H1451V996.5H1441.2zM1379 996.5H1421.6V999.8H1379zM1441.2 996.5H1451V999.8H1441.2zM1379 999.8H1421.6V1003.1H1379zM1441.2 999.8H1451V1003.1H1441.2zM1379 1003.1H1451V1006.3H1379zM1379 1006.3H1451V1009.6H1379zM1581.9 1078.3H1621.2V1081.6H1581.9zM1581.9 1081.6H1588.5V1084.9H1581.9zM1647.4 1081.6H1670.3V1084.9H1647.4zM1581.9 1084.9H1588.5V1088.2H1581.9zM1663.8 1084.9H1680.1V1088.2H1663.8zM1581.9 1088.2H1588.5V1091.4H1581.9zM1667 1088.2H1680.1V1091.4H1667zM1581.9 1091.4H1588.5V1094.7H1581.9zM1667 1091.4H1680.1V1094.7H1667zM1581.9 1094.7H1588.5V1098H1581.9zM1670.3 1094.7H1683.4V1098H1670.3zM1581.9 1098H1588.5V1101.2H1581.9zM1670.3 1098H1683.4V1101.2H1670.3zM1581.9 1101.2H1588.5V1104.5H1581.9zM1670.3 1101.2H1683.4V1104.5H1670.3zM1581.9 1104.5H1588.5V1107.8H1581.9zM1673.6 1104.5H1683.4V1107.8H1673.6zM1581.9 1107.8H1588.5V1111.1H1581.9zM1667 1107.8H1683.4V1111.1H1667zM1581.9 1111.1H1588.5V1114.3H1581.9zM1657.2 1111.1H1686.7V1114.3H1657.2zM1581.9 1114.3H1588.5V1117.6H1581.9zM1647.4 1114.3H1686.7V1117.6H1647.4zM1581.9 1117.6H1631V1120.9H1581.9zM1637.6 1117.6H1686.7V1120.9H1637.6zM1581.9 1120.9H1670.3V1124.2H1581.9zM1581.9 1124.2H1653.9V1127.4H1581.9zM1634.3 1127.4H1637.6V1130.7H1634.3zM1483.8 1153.6H1503.4V1156.9H1483.8zM1657.2 1153.6H1752.1V1156.9H1657.2zM1483.8 1156.9H1503.4V1160.2H1483.8zM1660.5 1156.9H1748.9V1160.2H1660.5zM1483.8 1160.2H1503.4V1163.4H1483.8zM1663.8 1160.2H1696.5V1163.4H1663.8zM1725.9 1160.2H1748.9V1163.4H1725.9zM1483.8 1163.4H1490.3V1166.7H1483.8zM1500.1 1163.4H1503.4V1166.7H1500.1zM1663.8 1163.4H1696.5V1166.7H1663.8zM1725.9 1163.4H1748.9V1166.7H1725.9zM1483.8 1166.7H1490.3V1170H1483.8zM1500.1 1166.7H1503.4V1170H1500.1zM1667 1166.7H1696.5V1170H1667zM1725.9 1166.7H1745.6V1170H1725.9zM1483.8 1170H1490.3V1173.2H1483.8zM1500.1 1170H1503.4V1173.2H1500.1zM1483.8 1173.2H1490.3V1176.5H1483.8zM1500.1 1173.2H1503.4V1176.5H1500.1zM1483.8 1176.5H1490.3V1179.8H1483.8zM1500.1 1176.5H1503.4V1179.8H1500.1zM1928.9 1176.5H1961.2V1179.8H1928.9zM1483.8 1179.8H1490.3V1183.1H1483.8zM1500.1 1179.8H1503.4V1183.1H1500.1zM1928.9 1179.8H1961.2V1183.1H1928.9zM1483.8 1183.1H1490.3V1186.3H1483.8zM1500.1 1183.1H1503.4V1186.3H1500.1zM1928.9 1183.1H1961.2V1186.3H1928.9zM1483.8 1186.3H1490.3V1189.6H1483.8zM1500.1 1186.3H1503.4V1189.6H1500.1zM1928.9 1186.3H1961.2V1189.6H1928.9zM1483.8 1189.6H1490.3V1192.9H1483.8zM1500.1 1189.6H1503.4V1192.9H1500.1zM1725.9 1189.6H1824.1V1192.9H1725.9zM1928.9 1189.6H1961.2V1192.9H1928.9zM1483.8 1192.9H1490.3V1196.2H1483.8zM1500.1 1192.9H1503.4V1196.2H1500.1zM1725.9 1192.9H1824.1V1196.2H1725.9zM1928.9 1192.9H1961.2V1196.2H1928.9zM1336.5 1196.2H1346.3V1199.4H1336.5zM1483.8 1196.2H1503.4V1199.4H1483.8zM1725.9 1196.2H1745.6V1199.4H1725.9zM1817.6 1196.2H1824.1V1199.4H1817.6zM1928.9 1196.2H1961.2V1199.4H1928.9zM1336.5 1199.4H1346.3V1202.7H1336.5zM1725.9 1199.4H1745.6V1202.7H1725.9zM1817.6 1199.4H1824.1V1202.7H1817.6zM1928.9 1199.4H1961.2V1202.7H1928.9zM1336.5 1202.7H1346.3V1206H1336.5zM1725.9 1202.7H1745.6V1206H1725.9zM1817.6 1202.7H1824.1V1206H1817.6zM1336.5 1206H1346.3V1209.2H1336.5zM1725.9 1206H1745.6V1209.2H1725.9zM1817.6 1206H1824.1V1209.2H1817.6zM1336.5 1209.2H1346.3V1212.5H1336.5zM1725.9 1209.2H1745.6V1212.5H1725.9zM1817.6 1209.2H1824.1V1212.5H1817.6zM1336.5 1212.5H1346.3V1215.8H1336.5zM1725.9 1212.5H1824.1V1215.8H1725.9zM1703 1222.3H1801.2V1225.6H1703zM1706.3 1225.6H1801.2V1228.9H1706.3zM1706.3 1228.9H1804.5V1232.2H1706.3zM1709.6 1232.2H1807.8V1235.4H1709.6zM1712.9 1235.4H1807.8V1238.7H1712.9zM1712.9 1238.7H1811V1242H1712.9zM1716.1 1242H1811V1245.2H1716.1zM1716.1 1245.2H1814.3V1248.5H1716.1zM1424.8 1248.5H1428.1V1251.8H1424.8zM1415 1251.8H1431.4V1255.1H1415zM1408.5 1255.1H1434.7V1258.3H1408.5zM1401.9 1258.3H1441.2V1261.6H1401.9zM1401.9 1261.6H1444.5V1264.9H1401.9zM1401.9 1264.9H1447.8V1268.2H1401.9zM1401.9 1268.2H1428.1V1271.4H1401.9zM1437.9 1268.2H1451V1271.4H1437.9zM1401.9 1271.4H1428.1V1274.7H1401.9zM1437.9 1271.4H1454.3V1274.7H1437.9zM1401.9 1274.7H1428.1V1278H1401.9zM1437.9 1274.7H1460.8V1278H1437.9zM1401.9 1278H1428.1V1281.3H1401.9zM1437.9 1278H1464.1V1281.3H1437.9zM1401.9 1281.3H1428.1V1284.5H1401.9zM1437.9 1281.3H1467.4V1284.5H1437.9zM1401.9 1284.5H1428.1V1287.8H1401.9zM1437.9 1284.5H1470.7V1287.8H1437.9zM1401.9 1287.8H1470.7V1291.1H1401.9zM1401.9 1291.1H1473.9V1294.3H1401.9z"/>
<path fill="#d92f2a" d="M1588.5 1081.6H1647.4V1084.9H1588.5zM1588.5 1084.9H1598.3V1088.2H1588.5zM1640.9 1084.9H1663.8V1088.2H1640.9zM1588.5 1088.2H1598.3V1091.4H1588.5zM1650.7 1088.2H1667V1091.4H1650.7zM1840.5 1088.2H1912.5V1091.4H1840.5zM1588.5 1091.4H1598.3V1094.7H1588.5zM1653.9 1091.4H1667V1094.7H1653.9zM1840.5 1091.4H1912.5V1094.7H1840.5zM1588.5 1094.7H1598.3V1098H1588.5zM1653.9 1094.7H1670.3V1098H1653.9zM1840.5 1094.7H1847V1098H1840.5zM1899.4 1094.7H1912.5V1098H1899.4zM1588.5 1098H1598.3V1101.2H1588.5zM1657.2 1098H1670.3V1101.2H1657.2zM1840.5 1098H1847V1101.2H1840.5zM1899.4 1098H1912.5V1101.2H1899.4zM1588.5 1101.2H1598.3V1104.5H1588.5zM1657.2 1101.2H1670.3V1104.5H1657.2zM1840.5 1101.2H1847V1104.5H1840.5zM1899.4 1101.2H1912.5V1104.5H1899.4zM1588.5 1104.5H1608.1V1107.8H1588.5zM1640.9 1104.5H1673.6V1107.8H1640.9zM1840.5 1104.5H1912.5V1107.8H1840.5zM1588.5 1107.8H1621.2V1111.1H1588.5zM1624.5 1107.8H1667V1111.1H1624.5zM1840.5 1107.8H1912.5V1111.1H1840.5zM1588.5 1111.1H1657.2V1114.3H1588.5zM1588.5 1114.3H1647.4V1117.6H1588.5zM1631 1117.6H1637.6V1120.9H1631zM1696.5 1160.2H1725.9V1163.4H1696.5zM1490.3 1163.4H1500.1V1166.7H1490.3zM1696.5 1163.4H1725.9V1166.7H1696.5zM1490.3 1166.7H1500.1V1170H1490.3zM1696.5 1166.7H1725.9V1170H1696.5zM1490.3 1170H1500.1V1173.2H1490.3zM1490.3 1173.2H1500.1V1176.5H1490.3zM1490.3 1176.5H1500.1V1179.8H1490.3zM1490.3 1179.8H1500.1V1183.1H1490.3zM1490.3 1183.1H1500.1V1186.3H1490.3zM1490.3 1186.3H1500.1V1189.6H1490.3zM1490.3 1189.6H1500.1V1192.9H1490.3zM1490.3 1192.9H1500.1V1196.2H1490.3zM1745.6 1196.2H1817.6V1199.4H1745.6zM1745.6 1199.4H1762V1202.7H1745.6zM1801.2 1199.4H1817.6V1202.7H1801.2zM1745.6 1202.7H1762V1206H1745.6zM1801.2 1202.7H1817.6V1206H1801.2zM1745.6 1206H1762V1209.2H1745.6zM1801.2 1206H1817.6V1209.2H1801.2zM1745.6 1209.2H1817.6V1212.5H1745.6zM1428.1 1268.2H1437.9V1271.4H1428.1zM1428.1 1271.4H1437.9V1274.7H1428.1zM1428.1 1274.7H1437.9V1278H1428.1zM1428.1 1278H1437.9V1281.3H1428.1zM1428.1 1281.3H1437.9V1284.5H1428.1zM1428.1 1284.5H1437.9V1287.8H1428.1z"/>
<path fill="#b71f28" d="M1598.3 1084.9H1640.9V1088.2H1598.3zM1598.3 1088.2H1650.7V1091.4H1598.3zM1598.3 1091.4H1653.9V1094.7H1598.3zM1598.3 1094.7H1653.9V1098H1598.3zM1847 1094.7H1899.4V1098H1847zM1598.3 1098H1657.2V1101.2H1598.3zM1847 1098H1899.4V1101.2H1847zM1598.3 1101.2H1657.2V1104.5H1598.3zM1847 1101.2H1899.4V1104.5H1847zM1608.1 1104.5H1640.9V1107.8H1608.1zM1621.2 1107.8H1624.5V1111.1H1621.2zM1762 1199.4H1801.2V1202.7H1762zM1762 1202.7H1801.2V1206H1762zM1762 1206H1801.2V1209.2H1762z"/>
<g clip-path="url(#sstclip3)"><g transform="translate(0 960)">
<path fill="#000" d="M1346.2 33.4H1385.6V37.7H1346.2zM1477.3 33.4H1490.4V37.7H1477.3zM1529.8 33.4H1595.3V37.7H1529.8zM1739.5 33.4H1942.7V37.7H1739.5zM1346.2 37.7H1385.6V44.2H1346.2zM1477.3 37.7H1490.4V44.2H1477.3zM1529.8 37.7H1595.3V44.2H1529.8zM1739.5 37.7H1942.7V44.2H1739.5zM1352.8 44.2H1385.6V50.8H1352.8zM1438 44.2H1615V50.8H1438zM1739.5 44.2H1942.7V50.8H1739.5zM1339.7 50.8H1385.6V57.4H1339.7zM1438 50.8H1936.2V57.4H1438zM1339.7 57.4H1936.2V64H1339.7zM1339.7 64H1942.7V70.6H1339.7zM1339.7 70.6H1949.3V77.1H1339.7zM1339.7 77.1H1864.1V83.7H1339.7zM1870.6 77.1H1903.4V83.7H1870.6zM1923.1 77.1H1942.7V83.7H1923.1zM1339.7 83.7H1654.3V90.3H1339.7zM1667.4 83.7H1805.1V90.3H1667.4zM1824.7 83.7H1864.1V90.3H1824.7zM1877.2 83.7H1903.4V90.3H1877.2zM1929.6 83.7H1936.2V90.3H1929.6zM1949.3 83.7H1961.2V90.3H1949.3zM1339.7 90.3H1641.2V96.9H1339.7zM1674 90.3H1805.1V96.9H1674zM1824.7 90.3H1870.6V96.9H1824.7zM1883.7 90.3H1896.9V96.9H1883.7zM1942.7 90.3H1961.2V96.9H1942.7zM1339.7 96.9H1595.3V103.5H1339.7zM1601.9 96.9H1628.1V103.5H1601.9zM1674 96.9H1700.2V103.5H1674zM1726.4 96.9H1877.2V103.5H1726.4zM1936.2 96.9H1961.2V103.5H1936.2zM1339.7 103.5H1595.3V110.1H1339.7zM1601.9 103.5H1628.1V110.1H1601.9zM1680.5 103.5H1693.6V110.1H1680.5zM1733 103.5H1877.2V110.1H1733zM1936.2 103.5H1961.2V110.1H1936.2zM1339.7 110.1H1595.3V116.6H1339.7zM1608.4 110.1H1621.5V116.6H1608.4zM1733 110.1H1870.6V116.6H1733zM1942.7 110.1H1961.2V116.6H1942.7zM1336.4 116.6H1595.3V123.2H1336.4zM1739.5 116.6H1864.1V123.2H1739.5zM1949.3 116.6H1961.2V123.2H1949.3zM1336.4 123.2H1601.9V129.8H1336.4zM1739.5 123.2H1870.6V129.8H1739.5zM1949.3 123.2H1961.2V129.8H1949.3zM1336.4 129.8H1601.9V136.4H1336.4zM1739.5 129.8H1864.1V136.4H1739.5zM1942.7 129.8H1961.2V136.4H1942.7zM1336.4 136.4H1595.3V143H1336.4zM1739.5 136.4H1844.4V143H1739.5zM1942.7 136.4H1961.2V143H1942.7zM1336.4 143H1595.3V149.6H1336.4zM1739.5 143H1844.4V149.6H1739.5zM1942.7 143H1961.2V149.6H1942.7zM1336.4 149.6H1588.8V156.1H1336.4zM1746.1 149.6H1844.4V156.1H1746.1zM1942.7 149.6H1961.2V156.1H1942.7zM1336.4 156.1H1582.2V162.7H1336.4zM1752.6 156.1H1837.9V162.7H1752.6zM1942.7 156.1H1961.2V162.7H1942.7zM1336.4 162.7H1556V169.3H1336.4zM1562.5 162.7H1575.7V169.3H1562.5zM1752.6 162.7H1831.3V169.3H1752.6zM1936.2 162.7H1961.2V169.3H1936.2zM1336.4 169.3H1556V175.9H1336.4zM1759.2 169.3H1805.1V175.9H1759.2zM1824.7 169.3H1837.9V175.9H1824.7zM1929.6 169.3H1961.2V175.9H1929.6zM1336.4 175.9H1556V182.5H1336.4zM1759.2 175.9H1805.1V182.5H1759.2zM1824.7 175.9H1837.9V182.5H1824.7zM1929.6 175.9H1961.2V182.5H1929.6zM1336.4 182.5H1562.5V189H1336.4zM1765.8 182.5H1805.1V189H1765.8zM1824.7 182.5H1851V189H1824.7zM1929.6 182.5H1961.2V189H1929.6zM1336.4 189H1523.2V195.6H1336.4zM1542.9 189H1569.1V195.6H1542.9zM1772.3 189H1857.5V195.6H1772.3zM1929.6 189H1961.2V195.6H1929.6zM1336.4 195.6H1444.6V202.2H1336.4zM1457.7 195.6H1523.2V202.2H1457.7zM1542.9 195.6H1569.1V202.2H1542.9zM1778.9 195.6H1857.5V202.2H1778.9zM1929.6 195.6H1961.2V202.2H1929.6zM1336.4 202.2H1438V208.8H1336.4zM1457.7 202.2H1483.9V208.8H1457.7zM1490.4 202.2H1523.2V208.8H1490.4zM1542.9 202.2H1569.1V208.8H1542.9zM1785.4 202.2H1851V208.8H1785.4zM1929.6 202.2H1961.2V208.8H1929.6zM1336.4 208.8H1438V215.4H1336.4zM1457.7 208.8H1483.9V215.4H1457.7zM1497 208.8H1523.2V215.4H1497zM1542.9 208.8H1569.1V215.4H1542.9zM1792 208.8H1864.1V215.4H1792zM1929.6 208.8H1961.2V215.4H1929.6zM1336.4 215.4H1438V222H1336.4zM1457.7 215.4H1483.9V222H1457.7zM1497 215.4H1523.2V222H1497zM1542.9 215.4H1569.1V222H1542.9zM1805.1 215.4H1870.6V222H1805.1zM1929.6 215.4H1961.2V222H1929.6zM1336.4 222H1431.4V228.5H1336.4zM1464.2 222H1490.4V228.5H1464.2zM1497 222H1523.2V228.5H1497zM1542.9 222H1569.1V228.5H1542.9zM1811.6 222H1877.2V228.5H1811.6zM1936.2 222H1961.2V228.5H1936.2zM1336.4 228.5H1431.4V235.1H1336.4zM1470.8 228.5H1483.9V235.1H1470.8zM1497 228.5H1523.2V235.1H1497zM1542.9 228.5H1549.4V235.1H1542.9zM1556 228.5H1569.1V235.1H1556zM1818.2 228.5H1883.7V235.1H1818.2zM1936.2 228.5H1961.2V235.1H1936.2zM1336.4 235.1H1431.4V241.7H1336.4zM1497 235.1H1549.4V241.7H1497zM1556 235.1H1615V241.7H1556zM1818.2 235.1H1890.3V241.7H1818.2zM1942.7 235.1H1961.2V241.7H1942.7zM1346.2 241.7H1424.9V248.3H1346.2zM1497 241.7H1621.5V248.3H1497zM1818.2 241.7H1896.9V248.3H1818.2zM1346.2 248.3H1418.3V254.9H1346.2zM1497 248.3H1621.5V254.9H1497zM1818.2 248.3H1910V254.9H1818.2zM1346.2 254.9H1411.8V261.5H1346.2zM1497 254.9H1523.2V261.5H1497zM1542.9 254.9H1556V261.5H1542.9zM1575.7 254.9H1621.5V261.5H1575.7zM1811.6 254.9H1916.5V261.5H1811.6zM1346.2 261.5H1411.8V268H1346.2zM1497 261.5H1556V268H1497zM1575.7 261.5H1621.5V268H1575.7zM1818.2 261.5H1916.5V268H1818.2zM1352.8 268H1424.9V274.6H1352.8zM1497 268H1556V274.6H1497zM1575.7 268H1621.5V274.6H1575.7zM1818.2 268H1916.5V274.6H1818.2zM1346.2 274.6H1431.4V281.2H1346.2zM1497 274.6H1621.5V281.2H1497zM1818.2 274.6H1910V281.2H1818.2zM1346.2 281.2H1431.4V287.8H1346.2zM1503.6 281.2H1615V287.8H1503.6zM1824.7 281.2H1910V287.8H1824.7zM1346.2 287.8H1431.4V294.4H1346.2zM1536.3 287.8H1601.9V294.4H1536.3zM1831.3 287.8H1910V294.4H1831.3zM1346.2 294.4H1431.4V301H1346.2zM1529.8 294.4H1608.4V301H1529.8zM1831.3 294.4H1903.4V301H1831.3zM1352.8 301H1431.4V307.5H1352.8zM1523.2 301H1608.4V307.5H1523.2zM1831.3 301H1903.4V307.5H1831.3zM1352.8 307.5H1431.4V314.1H1352.8zM1523.2 307.5H1615V314.1H1523.2zM1831.3 307.5H1896.9V314.1H1831.3zM1352.8 314.1H1405.2V320.7H1352.8zM1411.8 314.1H1424.9V320.7H1411.8zM1529.8 314.1H1615V320.7H1529.8zM1831.3 314.1H1890.3V320.7H1831.3zM1359.3 320.7H1398.7V327.3H1359.3zM1529.8 320.7H1615V327.3H1529.8zM1831.3 320.7H1890.3V327.3H1831.3zM1359.3 327.3H1398.7V333.9H1359.3zM1529.8 327.3H1615V333.9H1529.8zM1634.7 327.3H1647.8V333.9H1634.7zM1831.3 327.3H1883.7V333.9H1831.3zM1359.3 333.9H1392.1V336.6H1359.3zM1529.8 333.9H1608.4V336.6H1529.8zM1628.1 333.9H1654.3V336.6H1628.1zM1831.3 333.9H1883.7V336.6H1831.3z"/>
<path fill="#a9b0aa" stroke="#000" stroke-width="5" stroke-linejoin="round" paint-order="stroke" d="M1336.5 150.5l5-2.5 9 0 3.5-1 1.5 1-0.5 3.5 0.5 5.5 3.5 1.5 3.5 2 2 2.5 5 2 2-1.5 0-3 2.5-2 2.5 0.5 3.5 3 7 1.5 2-1 4 0.5 3-0.5 1.5 5-1 4-1 0.5-1-2-1-3.5 0 1.5 1.5 5.5 1.5 3 2 6.5 2 4 1 8 2 3 1.5 6 3 4 2.5 3.5 1.5 2.5 1.5 3.5 1.5 0 3.5-2 3.5-0.5 4-1 0 3.5-1.5 4-1.5 5-2 5.5-2.5 5-2.5 2.5-3.5 4-2.5 4-3 4-1.5 5.5-1 4 1 5 0.5 5.5 1 2.5 0.5 8-0.5 3.5-2.5 3.5-3.5 3-2.5 3-1.5 2.5 1.5 4 0 6.5-4.5 4-0.5 3-0.5 5-2 2.5-2 4-3 4-2.5 3-2.5 1-4.5 0-1.5 0.5-3.5 1.5-2-1-1-3.5-0.5-2.5-1.5-5.5-1.5-3.5-2-4.5-0.5-5-1-7-1.5-5-2.5-6.5-0.5-4 1-6.5 2-5.5 0.5-4-1.5-4-1-6.5-0.5-2.5-1.5-4-2.5-4-1-4 0.5-5 0.5-4 0-2.5-1.5-3-2.5 0.5-2.5 0-2-3-0.5-2-3.5 0-3 0.5-1.5 1.5-3.5 2-3.5-1-6 2-3-1.5-3.5-5-3.5-4.5-0.5-3.5-3-3-3-4-0.5-5.5 1-5 0.5-6.5-1.5-5.5 2-7 2.5-6 2.5-4 3-2 3-3 0-4 1-4.5 3.5-3 1.5-3 1-2.5 3 2 3.5 0 3.5-2zM1965.5 150.5l5.5-2.5 8.5 0 3.5-1 2 1-1 3.5 1 5.5 3.5 1.5 3.5 2 1.5 2.5 5.5 2 1.5-1.5 0-3 3-2 2.5 0.5 3.5 3 7 1.5 1.5-1 4.5 0.5 3-0.5 1 5-1 4-0.5 0.5-1-2-1.5-3.5 0.5 1.5 1.5 5.5 1 3 2 6.5 2.5 4 1 8 2 3 1.5 6 3 4 2.5 3.5 1.5 2.5 1 3.5 2 0 3.5-2 3.5-0.5 3.5-1 0 3.5-1 4-2 5-1.5 5.5-2.5 5-3 2.5-3.5 4-2.5 4-2.5 4-2 5.5-1 4 1 5 0.5 5.5 1.5 2.5 0 8 0 3.5-2.5 3.5-3.5 3-3 3-1 2.5 1 4 0 6.5-4 4-0.5 3-0.5 5-2 2.5-2.5 4-2.5 4-2.5 3-2.5 1-4.5 0-2 0.5-3.5 1.5-2-1-1-3.5-0.5-2.5-1-5.5-1.5-3.5-2-4.5-1-5-0.5-7-1.5-5-3-6.5 0-4 0.5-6.5 2.5-5.5 0.5-4-1.5-4-1.5-6.5 0-2.5-1.5-4-2.5-4-1-4 0.5-5 0.5-4 0-2.5-2-3-2 0.5-3 0-1.5-3-1-2-3.5 0-2.5 0.5-2 1.5-3.5 2-3.5-1-6 2-2.5-1.5-3.5-5-3.5-4.5-1-3.5-2.5-3-3-4-1-5.5 1.5-5 0.5-6.5-1.5-5.5 1.5-7 3-6 2.5-4 2.5-2 3-3 0.5-4 0.5-4.5 4-3 1-3 1.5-2.5 2.5 2 3.5 0 3.5-2zM1326.5 150l3-1.5 3.5 0 2.5-4 1-1.5-0.5-2 2-4 4-2.5-0.5-3.5 3-0.5 2.5 1 2.5-2 2.5-1.5 2 1.5 1 2.5 1 1.5 1.5 1 1.5 2 2 0.5 3 2.5 0 3 0.5 2.5-1-0.5 1.5-1.5 1-0.5 0.5-4 2 1-0.5-1.5-3.5-2-1.5-1.5-2-1.5-1-2.5-2-2.5 0-2.5 2-1 1.5 1.5 2 3 2.5 2.5 2.5 2 2 1.5 0 4 1.5 2 1 2.5 1 4 1.5 1.5 1-2.5 0.5-2 1.5 0-2-3.5 0-2.5 2-1 3.5 0 0.5 1.5-0.5 2 1 2 1 3.5 1.5 2 3 1 1-1 3.5 1.5 3.5-2 3 0.5-0.5 4.5-0.5 2.5-1 2.5-1 4-0.5 0.5 1.5 5 0.5 4 2 3.5 2 6 1.5 2 1.5 5.5 1.5 4 1.5 5 2 4 1 5.5 1.5 4.5 2.5 0 6-3.5 3-2.5 3.5-1.5 2.5-2.5 3.5-2.5 1.5-2 2.5-2 1.5-4 2-5-2.5-3-3-2-0.5-1.5 0-3.5-1.5 1.5-2.5 4-3.5 0.5-1-1 0-2.5-1-2-1.5 1.5 0-3-1-0.5-2-4.5-1-3.5 1.5-1.5 3 3 2 3.5 2.5 2.5 2 1 3-1 1-0.5 1.5 3.5 3 1 4.5 0.5 3.5 0 5-0.5 1.5 1.5 1.5 3 1 3.5 2.5-1-1.5 1.5-0.5 1 2.5 2.5 3-1 1-1.5 0 4 0.5 3.5 0.5 5 1 4 1.5 7 1.5 4 1.5 5 2 3.5 1-2 2-3.5 1-4 1-4.5-0.5-4.5 2-3 2-2 3-3.5 4-4 1-4 2.5-0.5 2.5-1 3-1 1 4 2.5 5 1 8 2 0.5 4-2 0.5 6.5 1.5 5.5-1 8 0.5 2.5 3 4 0.5 4 1.5 5 4 4.5 1 0-1.5-7 0-4-2-2-3.5-6-1.5-5 0-5.5 1.5-2.5 1.5 2.5 2.5 1 1 3 3 6.5 3.5-5 4-3 0.5-3.5-1-6.5-3.5-5.5-2-4 2-4.5 2-2 3 0 1.5 3-0.5-4 3 0 3.5-1 4.5-2 3.5-4 2-4 1.5-5 2.5-5 0-3.5-2-4-2-5 1.5-4 3.5-2-1.5-1.5-4.5 0.5-0.5-2-2-2 0.5-1 3-2 3-2.5 1.5 1-1.5 4 2-2 3-0.5 2 1-0.5 4.5 2.5 2-0.5 6 2.5 0.5 3-2 0.5-4-2-4.5-1.5-3.5 3.5-2.5 0-2.5 2-1.5 3-2 5.5-2 4.5-7 3.5-5 0.5-5.5 0-5 1.5-2-5-2-2.5 0-3.5-2.5 4.5-4.5 5-4 4.5-3.5 6 0 6-0.5 4.5 1.5 4.5-0.5 3-6 6.5-0.5 5-2-2.5 8-3.5 4-3.5 1-2.5 4-1 8 1.5 5 3-5 2.5-0.5 3.5-8 2-4-2-0.5 2-7 2.5 2 2.5-1.5 7 1 4.5-2.5 8-4 3.5 0.5 1.5-7 5.5-1.5 5 2.5 3 0.5 4-3-1-2.5-6-1.5-5-2.5-5.5-2.5-8.5-2.5-9-0.5-8.5 1-9 0-7-3.5-7 0.5-12-4.5-9 0.5-8.5 2-9 1.5-3.5-4-10.5-1-15.5-2-5.5-8-10.5-2.5-7 4.5-8.5 0-12.5 2.5-2.5 2.5-11.5 3.5 0 4.5-7-2.5-5.5-2 0 4.5 0.5 8-7 3-5-5.5-10.5 0-9 2-8.5 0.5-10.5-1.5-1 6-4.5-0.5-1 5-6 2-4-2-3-5 5.5-1.5 8.5-2-1.5-2-12.5-1.5-5-1.5-9-3-12 2.5-5.5 4.5-5 5.5-2 5.5-6 4-4.5 2.5 0 6.5 3.5 3 2-0.5 3.5-2.5 1.5 0.5 1.5 2.5 1 4.5 1 2-4 2.5-1.5-6.5-2 0-1 4 1 4.5-3 0.5-4 1.5-2 4-3.5 1.5-5 3.5-1 2.5-5 0.5 5 3.5 1.5 3-0.5 6.5-11.5-0.5-2.5 2 1 3.5-1 7.5 1 4.5 4 0 1.5 2.5zM1956 150l2.5-1.5 3.5 0 3-4 1-1.5-1-2 2.5-4 4-2.5-0.5-3.5 2.5-0.5 2.5 1 3-2 2.5-1.5 2 1.5 0.5 2.5 1.5 1.5 1 1 2 2 1.5 0.5 3 2.5 0.5 3 0.5 2.5-1-0.5 1.5-1.5 1-0.5 0-4 2.5 1-1-1.5-3.5-2-1.5-1.5-2-1.5-0.5-2.5-2.5-2.5 0-2.5 2.5-1 1.5 1.5 2 3 2.5 2.5 2.5 2 2 1.5 0 4 1 2 1.5 2.5 1 4 1.5 1.5 1-2.5 0-2 1.5 0-2-3.5 0-2.5 2-1 3.5 0 1 1.5-0.5 2 1 2 0.5 3.5 2 2 2.5 1 1.5-1 3.5 1.5 3.5-2 2.5 0.5 0 4.5-1 2.5-0.5 2.5-1 4-0.5 0.5 1 5 0.5 4 2.5 3.5 1.5 6 2 2 1 5.5 1.5 4 2 5 1.5 4 1.5 5.5 1 4.5 3 0 6-3.5 2.5-2.5 3.5-1.5 2.5-2.5 3.5-2.5 2-2 2-2 2-4 1.5-5-2-3-3-2-0.5-1.5-0.5-3.5-1.5 1.5-2.5 4-3.5 0.5-1-1 0-2.5-0.5-2-1.5 1.5-0.5-3-1-0.5-1.5-4.5-1-3.5 1.5-1.5 2.5 3 2 3.5 3 2.5 1.5 1 3-1 1-0.5 2 3.5 3 1 4.5 0.5 3 0 5.5-0.5 1 1.5 2 3 1 3.5 2.5-1-2 1.5 0 1 2.5 2.5 2.5-1 1-1.5 0.5 4 0 3.5 1 5 0.5 4 1.5 7 2 4 1 5 2 3.5 1.5-2 2-3.5 0.5-4 1-4.5-0.5-4.5 2.5-3 1.5-2 3.5-3.5 4-4 1-4 2.5-0.5 2.5-1 2.5-1 1.5 4 2.5 5 1 8 2 0.5 3.5-2 0.5 6.5 1.5 5.5-0.5 8 0.5 2.5 3 4 0 4 2 5 3.5 4.5 1.5 0-1.5-7 0-4-2.5-2-3-6-1.5-5-0.5-5.5 1.5-2.5 1.5 2.5 3 1 0.5 3 3.5 6.5 3-5 4-3 0.5-3.5-0.5-6.5-4-5.5-1.5-4 1.5-4.5 2.5-2 3 0 1.5 3-0.5-4 3 0 3.5-1 4.5-2 3.5-4 1.5-4 2-5 2-5 0.5-3.5-2-4-2.5-5 2-4 3.5-2-2-1.5-4.5 0.5 0-2-2.5-2 1-1 2.5-2 3-2.5 2 1-2 4 2.5-2 3-0.5 1.5 1-0.5 4.5 3 2-0.5 6 2 0.5 3-2 0.5-4-1.5-4.5-2-3.5 4-2.5 0-2.5 1.5-1.5 3.5-2 5-2 5-7 3.5-5 0.5-5.5 0-5 1-2-4.5-2-3 0-3-2.5 4-4.5 5.5-4 4-3.5 6.5 0 6-0.5 4 1.5 4.5-0.5 3-6 6.5-0.5 5.5-2-2.5 8-3.5 4-3.5 1-3 4-0.5 8 1 5 3-5 3-0.5 3.5-8 2-4-2-0.5 1.5-7 2.5 2 3-1.5 7 1 4-2.5 8-4 3.5 0.5 2-7 5-1.5 5.5 2.5 3 0.5 4-3-1-2.5-6-1.5-5.5-2.5-5-2.5-9-2.5-8.5-0.5-9 1-8.5 0-7-3.5-7 0.5-12.5-4.5-8.5 0.5-9 2-8.5 1.5-3.5-4-10.5-1-16-2-5-8-10.5-2.5-7 4.5-9 0-12 2.5-2.5 2.5-11.5 3.5 0 4.5-7-2.5-5.5-2-0.5 4.5 1 8-7 3-5.5-5.5-10.5 0-8.5 2-9 0.5-10.5-1.5-1 6-4-0.5-1 5-6 2-4-2-3-5 5-1.5 9-2-2-2-12-1.5-5.5-1.5-8.5-3-12.5 2.5-5 4.5-5.5 5.5-1.5 5.5-6 4-4.5 2.5 0 6.5 3 3 2-0.5 3.5-2.5 2 0.5 1.5 2.5 1 4.5 0.5 2-4 2.5-1-6.5-2.5 0-0.5 4 0.5 4.5-2.5 0.5-4 1.5-2 4-3.5 1.5-5.5 3.5-0.5 2.5-5 0.5 4.5 3.5 1.5 3-0.5 6.5-11.5-0.5-2 2 1 3.5-1.5 7.5 1 4.5 4.5 0 1.5 2.5zM1422.5 276.5l2 9.5-1.5 5-2.5 12-2 8-3.5 1-2.5-9 1.5-16 4.5-4zM1672 72.5l6-2.5 2 1 3.5-0.5-4-2-4-3.5 5.5-3 4-3 7-1.5 8 1 7 1.5 12 1.5 10.5 1 9-2 10.5 2 10.5 2 8.5 0.5 9 0.5 7 0.5 10.5 0.5 5-1 2-3 8.5 1.5 7-3 5.5 3.5 0.5 4-7.5 2.5-2.5 3.5-6 3.5-5 5-2 5.5 4 6.5 7 1 6 3.5 5 0.5 0.5 5.5 2.5 4.5 2.5-0.5 0.5-8.5 3.5-4-1.5-6-0.5-6 0.5-4.5 5.5 0.5 6 3.5 2.5 4 3.5 3 4.5-4 1-1.5 4.5 7.5 2.5 5 5 3 3 5 0.5 2.5-5 1-2.5 3-11.5 0-5.5 6-1.5 2 4.5-5.5 6 0.5 0 2.5-2.5 1.5 3.5 3.5 5 1.5-5 3.5-3.5 1-2-2.5-5 3-1.5 3.5 1.5 1.5-3 1-4 2 0 3-3 2.5-0.5 3 0 5-1.5 2-3 2.5-3.5 4-1.5 4.5 1.5 5.5 1 5-1 3.5-1.5 0-1-3.5-1.5-3.5-0.5-3-2-2.5-3-1-3.5-0.5-3 1 0.5 3-2 0-3.5-1.5-3.5 0.5-4.5 4.5-1 6 0 9 1 4 2 4 2.5 2 4.5-1 1.5-1.5 1-5 3.5-1 3 0.5-1.5 4.5-1 5.5 0 4 4 0 3.5 1 1 2-0.5 7.5 0 2.5 3 5.5 3.5-1 3.5 0 1 2-1 3.5-3.5 0-1-2-4.5-1-4.5-4.5 0-3-3.5-4.5-7-3-2.5-4-2.5-1.5-3.5 1-4.5-2-4-3-3.5-2-3.5-4 0-4-1-4-3.5-5.5-2.5-4-2-3-2.5-3.5-2-6-3-1 1 4.5 2.5 4 1.5 5 2.5 6.5 1.5 2.5-1 0.5-3-5-0.5-3-3-3.5-0.5-3-2.5-4-1.5-4-1-3-2.5-3.5-3.5-1.5-2.5-5-1-3.5-2-4.5-1.5-2.5 0.5-4 0.5-10.5-1.5-6-0.5-4.5-4-2.5-1-4-4.5-5.5-1.5-2.5-3-4-4-4-3.5-0.5-4.5-3-7-0.5-4.5-2-2.5 2-3.5 1.5-2.5 0.5 0.5-4-3.5 4.5-1.5 3-4.5 3-4.5 2.5-5 2-4.5 1.5 4.5-3 3.5-2.5 4.5-3 0.5-2.5-5 0-3.5-2-4.5-3-0.5-2.5-2-2.5 2.5-2 6.5-3.5-4.5 0-5.5 0-2.5-2.5zM1830.5 222.5l2.5-2.5 0.5-3 3.5-2 3-2 0.5 3-0.5 2 1.5-1.5 2-4 3.5 5 3.5-0.5 3.5 0 3.5 0.5 1.5 2.5 2 3 3.5 4 5 2.5 3.5 1 2.5 3.5 3 6.5 0 4.5 2.5 2.5 4.5 0.5 2.5 3.5 6 1 4.5 2 5.5 4.5 1 5.5-1 5.5-3 4-3.5 6 0 11-1.5 7-2 5-1.5 2.5-4.5 1-3.5 1.5-3.5 6.5-0.5 5-2 4.5-3 4.5-2.5 4.5-1.5 3.5-2 0.5-3.5-1-2.5-0.5 2.5 4.5-1 5-7.5 2.5-5.5 8-1.5 8-10.5 0-3-13 0-8 3-8 0.5-10.5 2-10.5 0.5-16 0-4.5-2.5-2.5-6.5-5-1.5-5-2-4-2-6.5-2.5-6.5-2.5-2.5 0-4 2-3 0.5-3-1.5-3 1.5-5 2-2 2-4.5 0.5-3.5-0.5-5-0.5-2.5zM1838 39.5l9 5.5 14 0.5 6 4.5 2.5 8 3.5 1.5 2.5 5-3.5 5.5 4.5 6.5 3.5 6 5.5 3 5 2 1-3 2.5-6.5 3.5-5.5 7-2 7-5.5 10.5-3 5-2.5 0-6.5 5.5-4 0-6.5 1.5-8-3.5-5.5-17.5-2.5-52 0-17.5 5zM1923.5 72.5l3.5-2.5 7 0.5 6.5 0 1.5 3.5-1.5 1.5-6.5 2.5-7.5-1zM1326.5 113.5l4.5-1.5 8-2 0.5-4-3-2-1-2.5-2-3-1-5.5-1.5-2.5-3.5 0-2 3 1.5 5 1 2 3 2 0 2-2.5 0 0.5 3-1.5 1 3 1-3.5 1.5zM1955.5 113.5l5-1.5 7.5-2 0.5-4-2.5-2-1-2.5-2-3-1-5.5-1.5-2.5-3.5 0-2 3 1 5 1.5 2 2.5 2 0.5 2-3 0 1 3-2 1 3.5 1-4 1.5zM1955 108l0-4.5 1-4-4.5 0-3.5 3 0 5.5 1 1.5 5.5-2zM1565 155.5l3-4 6 0 1.5-4.5 3-1.5 2.5-4.5 0-4.5 2.5 0 1 6-1.5 4 0 3.5-0.5 2.5-1.5 0.5-2 1-3 0-3.5 2-2-2-3 1-2 1zM1581 135.5l2-0.5 4-0.5 3.5-3.5-0.5-2.5-5.5-3.5-0.5 1-1 5.5-1.5 0.5 0 2zM1563 157.5l2-2 2 2-1 5-2 0.5-0.5-4zM1568 156l2-1.5 2 0.5-1 2.5-2 1zM1584.5 124l2.5-2-0.5-6 2.5 0-2.5-8 0.5-6-2 0-1 6 0.5 6.5 0 5.5zM1546.5 184.5l1 2.5 2-8-0.5-0.5-2.5 4.5zM1526.5 194.5l2-2.5 2 1-1 3.5-1.5 0.5-2-0.5zM1476 224l0.5-5 2.5 5 0.5 2.5-1.5 2.5-2-0.5zM1547 196.5l3 0 0.5 3.5-1.5 4 4 4 0 4-4-3.5-2-1-1-5.5 1-1zM1549.5 224l1 2.5 2.5 2.5 3 1 1.5-3.5-0.5-5.5-1-1.5-1-7.5-2-0.5-1.5 5.5-2 0.5 2.5 4.5zM1541.5 223l2.5-4.5 1.5-3.5-0.5 2-3 5.5zM1527 241l1-1.5 2.5 1 3.5-4 1.5-3.5 3-2 2-4.5 1.5 2.5 3 2-2.5 2.5 0 7.5 2 1.5-2.5 3.5-2 3-0.5 6.5-3 0-2.5-2-2.5 0.5-2.5-1.5-0.5-3.5-1.5-3.5zM1503 230.5l4 1 4.5 7.5 2.5 1.5 3.5 4.5 1.5 4 2.5 4 0 7.5-2.5 0-4-5-2.5-6.5-3-6.5-2-3.5-1.5-4-3-3zM1520.5 263l1.5-2 3.5 0.5 4 1.5 3.5 0 3.5 2.5 0 2.5-3.5-1-4.5-0.5-3.5-1-2.5-1zM1537.5 266.5l7 0.5 3 0 4 0 3.5 0.5 3.5-0.5-3.5 3-2 2-3.5 1-7-4.5-3.5 0zM1545.5 259.5l1.5 0 0-6.5 1.5 4.5 2.5 0.5-1.5-5 2.5-5.5-3 0-1-5.5 6.5-1 0.5 0.5-8.5 2-0.5 4-1 6.5zM1559.5 240.5l2 0.5-1 2.5 1 3-1.5 0.5-1-3.5zM1560 253l5 1-1.5 1.5-3-1zM1565.5 248.5l2-2.5 3.5 1.5 1.5 6 5-4.5 5.5 3 6 3 2.5 3.5 2.5 2.5-0.5 2 1.5 3 3.5 4.5 1.5 1.5-6-0.5-2.5-5-3.5-1.5-1 3.5-2.5 0.5-1.5 0-3.5-2.5-2 0.5 1.5-4-2-4.5-4.5-2-2.5-1-1.5 0.5-1.5-3.5 2.5-1.5-2.5 0zM1595.5 259.5l3-1 2.5-1.5 1.5-0.5-1.5 3-2.5 2zM1534.5 303l1-0.5 5-3.5 7.5-2.5 2-6.5 2.5-1.5 2.5-5.5 3-1.5 2.5 3 2.5-0.5 1-4 1.5-3 2.5 0 0-2 4.5 2 2.5-0.5 0.5 2-1.5 5 2 3.5 4 4 2.5 0 1.5-6.5-0.5-3.5 1-7 1-1 1.5 5 0.5 5 3 1.5 1 6.5 2 4.5 3.5 3.5 2.5 5 4.5 7.5 0.5 7-0.5 7-1 5-2 3.5-1.5 4.5-1 6.5-17.5 0-4-6.5 0.5-3-0.5-3.5-3 4.5-0.5 0-2.5-5-5.5-3.5-9 2-4 4.5-6.5 0-3.5 2.5-3.5 0-1.5-2 1-6.5-1-6-1.5-7.5-1.5-1.5 1-4-0.5-4zM1638.5 335.5l3 2.5 1.5 4.5 1 2-2-1-1.5-3zM1817 187.5l4.5-2.5 4.5-1 4 3.5 3.5 2 2.5 2.5-2.5 0.5-3.5 0-1.5-4-5.5-2-4 1zM1835.5 196.5l3-4 5 0.5 2.5 3-5 2.5-5-1.5zM1829 196.5l3.5 1-1.5 0.5zM1355.5 38.5l10.5 4.5 7-2 10.5-3.5-12-3.5-16 1zM1427.5 56.5l7 2 3.5-5.5 5-7 12.5-3.5-14 1-9 4-3.5 5.5zM1502.5 37l8.5 2.5 9-1-2-4-10.5-3-8.5 3zM1577.5 50l7 1.5 9-4-10.5-2.5-7 1zM1853 79l-4.5 2-5-2-7-4-7 0.5 7-7-5.5-5-7-3-8.5-0.5-6.5-2 8-6.5 9-0.5 7 3 10.5 5.5 5 4 9 5 0.5 1.5zM1789 63.5l-7 1-14 0-8.5-4 1.5-6.5 12.5-1 10.5 0.5 5 6zM1756 56.5l-9-0.5 0-6 9-1 7 2.5zM1826 49l-21 0-2-5.5 19.5 0zM1801.5 55.5l-5.5 5-8.5-6.5 7-2.5 7 0zM1829.5 42.5l-21 0-9-5.5 9-8 43.5 0-8.5 8zM1782 47.5l-12 0-10.5-4 14-4 17.5 3zM1817 74l-5 1 3.5 5.5 7-2.5zM1358 145l5.5-1-0.5 4.5-5-2.5zM1350.5 137l3 0-0.5 5.5-2 0zM1351.5 132.5l1.5-0.5 0 4-1-0.5zM1393 153l3.5-1.5-0.5 2-3 0zM1377.5 152l5 0-0.5 1-4.5-0.5z"/>
<path fill="#000" d="M1385.5 136.5l0.5-6 2-5 2-3 3 1.5 2 4 3.5-1.5 3.5-1.5 1-4 2-0.5-2 2-1 5 3.5 1.5 3.5 6.5-5.5 2-6-3-3.5 0-5 2zM1418.5 133l3 2.5 1 3.5-0.5 5 0.5 2.5 3 2 5-1 0-5-1-3-1-4.5-0.5-2.5-2-1-1.5-3.5 1.5-2.5 3.5 0-0.5-3-3-1.5-3.5 2-3 2-1.5 2.5 1.5 2.5zM1355 101.5l3 0.5 3 1 7.5-2 5-1.5-0.5-4.5 5.5-1.5 0-4.5 7-2 3.5 0.5-5.5-2-7 1.5-1.5-1.5-1-2.5 0-4 6-5-5-2.5-2 3.5-3.5 3.5-2.5 2-1 4 3 2.5 0.5 1.5-4.5 6.5-3.5 2.5-2.5 1.5zM1438 124l6-1.5 0 6.5-4.5 1.5-1.5-4z"/>
<path stroke="#000" stroke-width="2.6" stroke-linecap="round" d="M1693.9 193.7h0.3M1691.2 190.2h0.3M1689.5 188.7h0.3M1686.9 187.1h0.3M1682.5 184.4h0.3M1675.5 181.8h0.3M1665 177.9h0.3M1571.5 225.3h0.3M1577.6 220h0.3M1589.5 209.7h0.3M1591.1 205h0.3M1601.7 225.5h0.3M1612.9 226.8h0.3M1621.3 231h0.3M1628.3 221.3h0.3M1635.3 226.6h0.3M1632.7 216h0.3M1637.1 237.1h0.3M1638.8 241.3h0.3M1610.8 266.1h0.3M1614.3 268.7h0.3M1617 270h0.3M1617.8 271.3h0.3M1628 285.8h0.3M1629.2 288.4h0.3M1630.6 291.6h0.3M1625.7 301.1h0.3M1627.4 302.9h0.3M1647.5 291.9h0.3M1650.2 288.4h0.3M1648.4 293.7h0.3M1652.8 287.1h0.3M1659.4 300.8h0.3M1659.8 294h0.3M1664.5 281.3h0.3M1665.9 282.4h0.3M1704.4 291.3h0.3M1705.2 288.4h0.3M1708.7 284.5h0.3M1710.5 288.4h0.3M1714 289.8h0.3M1719.2 292.4h0.3M1722.7 297.7h0.3M1728 301.6h0.3M1722.4 270.8h0.3M1721 268.7h0.3M1722.7 268.4h0.3M1707.9 286.6h0.3M1701 291.1h0.3M1686.3 300.8h0.3M1689.5 295h0.3M1687.7 294.5h0.3M1682.5 271.3h0.3M1690.4 240h0.3M1687.7 234.5h0.3M1681.8 229.5h0.3M1665.9 254.2h0.3M1658.6 256.8h0.3M1666.8 251.6h0.3M1806.6 246.3h0.3M1805.7 247.1h0.3M1809.2 247.4h0.3M1774.4 316.4h0.3M1738.3 311.1h0.3M1649.6 267.4h0.3M1660.7 297.1h0.3M1498.4 214.5h0.3M1498.6 212.1h0.3M1500.4 225.3h0.3M1464.9 234.5h0.3M1464.4 239.7h0.3M1464.9 246.3h0.3M1463 264.2h0.3M1433.4 257.1h0.3M1437.1 298.4h0.3M1433.4 300.6h0.3M1923.7 204.2h0.3M1922 201.6h0.3M1938.6 170.5h0.3M1941.2 170h0.3M1916.7 143.6h0.3M1921.1 145.5h0.3M1852.4 160h0.3M1830.2 180.5h0.3M1831.1 177.9h0.3M1832.8 183.1h0.3M1858.2 202.3h0.3M1859.1 206.6h0.3M1857.8 210.2h0.3M1661.5 108.1h0.3M1654.5 108.6h0.3M1647.5 108.6h0.3M1640.6 106.8h0.3M1665 105.5h0.3M1668.5 104.1h0.3M1674.6 102.3h0.3M1679 100.2h0.3M1591.6 129.7h0.3M1595.1 126h0.3M1598.6 123.9h0.3M1602.1 119.9h0.3M1606.5 116h0.3M1609.1 112h0.3M1559.8 175.8h0.3M1561 173.1h0.3M1562.8 170.5h0.3M1553.5 180.8h0.3M1585 173.6h0.3M1585 175h0.3M1590.9 207.9h0.3M1591.3 201.6h0.3M1591.3 197.6h0.3"/>
<path d="M1343 142.3L1361.9 142.3M1369.1 141.8L1369.1 162.1M1362.6 152.1L1378.4 152.1M1384.5 151.5L1391.5 151.5M1388 151.5L1388 159.4M1388.8 132.3L1402.8 132.3" stroke="#fca232" stroke-width="2.4" fill="none"/>
</g></g>
<rect x="1668.6" y="1191.8" width="87.3" height="25.8" fill="none" stroke="#000" stroke-width="2"/>
<path d="M1961.2 1019.6H1836.4V1204.6H1961.2" fill="none" stroke="#000" stroke-width="1.8"/>
<path d="M1336.4 993.4v4M1336.4 1296.6v-4M1353.9 993.4v4M1353.9 1296.6v-4M1371.4 993.4v4M1371.4 1296.6v-4M1388.8 993.4v4M1388.8 1296.6v-4M1406.3 993.4v4M1406.3 1296.6v-4M1423.8 993.4v4M1423.8 1296.6v-4M1441.3 993.4v4M1441.3 1296.6v-4M1458.8 993.4v4M1458.8 1296.6v-4M1476.2 993.4v4M1476.2 1296.6v-4M1493.7 993.4v4M1493.7 1296.6v-4M1511.2 993.4v4M1511.2 1296.6v-4M1528.7 993.4v4M1528.7 1296.6v-4M1546.2 993.4v4M1546.2 1296.6v-4M1563.6 993.4v4M1563.6 1296.6v-4M1581.1 993.4v4M1581.1 1296.6v-4M1598.6 993.4v4M1598.6 1296.6v-4M1616.1 993.4v4M1616.1 1296.6v-4M1633.6 993.4v4M1633.6 1296.6v-4M1651 993.4v4M1651 1296.6v-4M1668.5 993.4v4M1668.5 1296.6v-4M1686 993.4v4M1686 1296.6v-4M1703.5 993.4v4M1703.5 1296.6v-4M1721 993.4v4M1721 1296.6v-4M1738.4 993.4v4M1738.4 1296.6v-4M1755.9 993.4v4M1755.9 1296.6v-4M1773.4 993.4v4M1773.4 1296.6v-4M1790.9 993.4v4M1790.9 1296.6v-4M1808.4 993.4v4M1808.4 1296.6v-4M1825.8 993.4v4M1825.8 1296.6v-4M1843.3 993.4v4M1843.3 1296.6v-4M1860.8 993.4v4M1860.8 1296.6v-4M1878.3 993.4v4M1878.3 1296.6v-4M1895.8 993.4v4M1895.8 1296.6v-4M1913.2 993.4v4M1913.2 1296.6v-4M1930.7 993.4v4M1930.7 1296.6v-4M1948.2 993.4v4M1948.2 1296.6v-4M1336.4 1284h6M1961.2 1284h-6M1336.4 1270.8h6M1961.2 1270.8h-6M1336.4 1257.7h12M1961.2 1257.7h-12M1336.4 1244.5h6M1961.2 1244.5h-6M1336.4 1231.3h6M1961.2 1231.3h-6M1336.4 1218.2h6M1961.2 1218.2h-6M1336.4 1205h12M1961.2 1205h-12M1336.4 1191.8h6M1961.2 1191.8h-6M1336.4 1178.7h6M1961.2 1178.7h-6M1336.4 1165.5h6M1961.2 1165.5h-6M1336.4 1152.3h12M1961.2 1152.3h-12M1336.4 1139.2h6M1961.2 1139.2h-6M1336.4 1126h6M1961.2 1126h-6M1336.4 1112.8h6M1961.2 1112.8h-6M1336.4 1099.7h12M1961.2 1099.7h-12M1336.4 1086.5h6M1961.2 1086.5h-6M1336.4 1073.3h6M1961.2 1073.3h-6M1336.4 1060.2h6M1961.2 1060.2h-6M1336.4 1047h12M1961.2 1047h-12M1336.4 1033.9h6M1961.2 1033.9h-6M1336.4 1020.7h6M1961.2 1020.7h-6M1336.4 1007.5h6M1961.2 1007.5h-6M1336.4 994.4h12M1961.2 994.4h-12" stroke="#444" stroke-width="1" fill="none"/>
<rect x="1336.4" y="993.4" width="624.8" height="303.2" fill="none" stroke="#444" stroke-width="1.3"/>
<rect x="1345.4" y="1002.2" width="45.3" height="43.4" fill="#fff"/>
<text x="1366.9" y="1033.8" font-size="22.6" font-weight="bold" text-anchor="middle" fill="#111" stroke="#111" stroke-width="0.55">D4</text>
<text x="1325.6" y="1003" font-size="24" text-anchor="end" fill="#111" stroke="#111" stroke-width="0.45">80</text>
<text x="1325.6" y="1055.6" font-size="24" text-anchor="end" fill="#111" stroke="#111" stroke-width="0.45">60</text>
<text x="1325.6" y="1108.3" font-size="24" text-anchor="end" fill="#111" stroke="#111" stroke-width="0.45">40</text>
<text x="1325.6" y="1160.9" font-size="24" text-anchor="end" fill="#111" stroke="#111" stroke-width="0.45">20</text>
<text x="1325.6" y="1213.6" font-size="24" text-anchor="end" fill="#111" stroke="#111" stroke-width="0.45">0</text>
<text x="1325.6" y="1266.3" font-size="24" text-anchor="end" fill="#111" stroke="#111" stroke-width="0.45">-20</text>
</g>
<text x="1336" y="1330" font-size="24" text-anchor="middle" fill="#111" stroke="#111" stroke-width="0.45">0</text>
<text x="1424" y="1330" font-size="24" text-anchor="middle" fill="#111" stroke="#111" stroke-width="0.45">50</text>
<text x="1512" y="1330" font-size="24" text-anchor="middle" fill="#111" stroke="#111" stroke-width="0.45">100</text>
<text x="1599" y="1330" font-size="24" text-anchor="middle" fill="#111" stroke="#111" stroke-width="0.45">150</text>
<text x="1686" y="1330" font-size="24" text-anchor="middle" fill="#111" stroke="#111" stroke-width="0.45">200</text>
<text x="1773.5" y="1330" font-size="24" text-anchor="middle" fill="#111" stroke="#111" stroke-width="0.45">250</text>
<text x="1861" y="1330" font-size="24" text-anchor="middle" fill="#111" stroke="#111" stroke-width="0.45">300</text>
<text x="1948" y="1330" font-size="24" text-anchor="middle" fill="#111" stroke="#111" stroke-width="0.45">350</text>
<text x="1648.7" y="1364" font-size="25.3" text-anchor="middle" fill="#111" stroke="#111" stroke-width="0.45">Longitude (°E)</text>
<rect x="1336.1" y="1407.6" width="52.6" height="32" fill="#1f3668"/>
<rect x="1388.2" y="1407.6" width="52.6" height="32" fill="#224b8e"/>
<rect x="1440.3" y="1407.6" width="52.6" height="32" fill="#2b66ae"/>
<rect x="1492.4" y="1407.6" width="52.6" height="32" fill="#4486c6"/>
<rect x="1544.5" y="1407.6" width="52.6" height="32" fill="#84c4eb"/>
<rect x="1596.6" y="1407.6" width="52.6" height="32" fill="#ffffff"/>
<rect x="1648.7" y="1407.6" width="52.6" height="32" fill="#ffffff"/>
<rect x="1700.7" y="1407.6" width="52.6" height="32" fill="#fdca6c"/>
<rect x="1752.8" y="1407.6" width="52.6" height="32" fill="#fca232"/>
<rect x="1804.9" y="1407.6" width="52.6" height="32" fill="#f2712b"/>
<rect x="1857" y="1407.6" width="52.6" height="32" fill="#d92f2a"/>
<rect x="1909.1" y="1407.6" width="52.6" height="32" fill="#b71f28"/>
<rect x="1336.1" y="1407.6" width="625.1" height="32" fill="none" stroke="#444" stroke-width="1.2"/>
<path d="M1440.3 1439.6v-5M1544.5 1439.6v-5M1648.7 1439.6v-5M1752.8 1439.6v-5M1857 1439.6v-5" stroke="#444" stroke-width="1.2"/>
<text x="1336" y="1476" font-size="25" text-anchor="middle" fill="#111" stroke="#111" stroke-width="0.45">-0.3</text>
<text x="1440" y="1476" font-size="25" text-anchor="middle" fill="#111" stroke="#111" stroke-width="0.45">-0.2</text>
<text x="1545" y="1476" font-size="25" text-anchor="middle" fill="#111" stroke="#111" stroke-width="0.45">-0.1</text>
<text x="1638" y="1476" font-size="25" text-anchor="middle" fill="#111" stroke="#111" stroke-width="0.45">0</text>
<text x="1748" y="1476" font-size="25" text-anchor="middle" fill="#111" stroke="#111" stroke-width="0.45">0.1</text>
<text x="1852" y="1476" font-size="25" text-anchor="middle" fill="#111" stroke="#111" stroke-width="0.45">0.2</text>
<text x="1956" y="1476" font-size="25" text-anchor="middle" fill="#111" stroke="#111" stroke-width="0.45">0.3</text>
<text x="1649" y="1508" font-size="25.5" text-anchor="middle" fill="#111" stroke="#111" stroke-width="0.45">SST Anomaly (°C)</text>
<text x="1647.3" y="21" font-size="28" font-weight="bold" text-anchor="middle" fill="#1a1a1a" stroke="#1a1a1a" stroke-width="0.55">(g) Spatial Variability in SST</text>
</svg>
</body></html>
